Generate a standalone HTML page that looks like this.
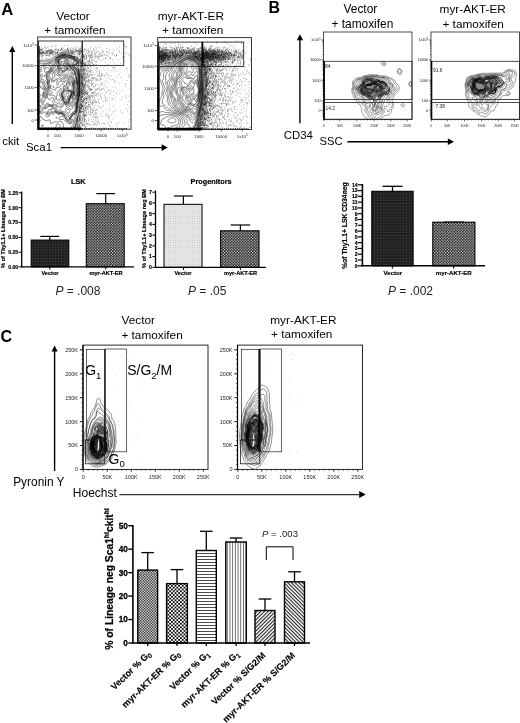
<!DOCTYPE html>
<html lang="en"><head><meta charset="utf-8"><title>Figure</title>
<style>html,body{margin:0;padding:0;background:#fff}body{width:520px;height:723px;overflow:hidden}svg{display:block}text{font-family:'Liberation Sans', Arial, Helvetica, sans-serif}</style>
</head><body>
<svg width="520" height="723" viewBox="0 0 520 723">
<defs>
<pattern id="pGrid" width="2.9" height="2.9" patternUnits="userSpaceOnUse"><rect width="2.9" height="2.9" fill="#1b1b1b"/><rect x="0" y="0" width="2.9" height="0.5" fill="#3c3c3c"/><rect x="0" y="0" width="0.5" height="2.9" fill="#3c3c3c"/></pattern>
<pattern id="pDots" width="2.8" height="2.8" patternUnits="userSpaceOnUse"><rect width="2.8" height="2.8" fill="#111"/><circle cx="0.7" cy="0.7" r="0.7" fill="#fff"/><circle cx="2.1" cy="2.1" r="0.7" fill="#fff"/></pattern>
<pattern id="pLight" width="2.4" height="2.4" patternUnits="userSpaceOnUse"><rect width="2.4" height="2.4" fill="#e4e4e4"/><rect x="0" y="0" width="0.8" height="0.8" fill="#c4c4c4"/><rect x="1.2" y="1.2" width="0.8" height="0.8" fill="#f2f2f2"/></pattern>
<pattern id="pFine" width="1.6" height="1.6" patternUnits="userSpaceOnUse"><rect width="1.6" height="1.6" fill="#fff"/><rect width="0.8" height="0.8" fill="#111"/><rect x="0.8" y="0.8" width="0.8" height="0.8" fill="#111"/></pattern>
<pattern id="pCheck" width="3.6" height="3.6" patternUnits="userSpaceOnUse"><rect width="3.6" height="3.6" fill="#fff"/><rect width="1.8" height="1.8" fill="#111"/><rect x="1.8" y="1.8" width="1.8" height="1.8" fill="#111"/></pattern>
<pattern id="pHor" width="3" height="3" patternUnits="userSpaceOnUse"><rect width="3" height="3" fill="#fff"/><rect y="1" width="3" height="1" fill="#4a4a4a"/></pattern>
<pattern id="pVer" width="2.7" height="3" patternUnits="userSpaceOnUse"><rect width="2.7" height="3" fill="#fff"/><rect width="0.75" height="3" fill="#444"/></pattern>
<pattern id="pDiagA" width="2.6" height="2.6" patternUnits="userSpaceOnUse" patternTransform="rotate(-45)"><rect width="2.6" height="2.6" fill="#fff"/><rect width="2.6" height="1.1" fill="#222"/></pattern>
<pattern id="pDiagB" width="2.6" height="2.6" patternUnits="userSpaceOnUse" patternTransform="rotate(45)"><rect width="2.6" height="2.6" fill="#fff"/><rect width="2.6" height="1.1" fill="#222"/></pattern>
</defs>
<text x="1.3" y="15.1" font-size="16.6" font-weight="bold">A</text>
<text x="73" y="20" font-size="11.8" text-anchor="middle">Vector</text>
<text x="74.9" y="34.3" font-size="11.8" text-anchor="middle">+ tamoxifen</text>
<text x="190.9" y="20" font-size="11.8" text-anchor="middle">myr-AKT-ER</text>
<text x="192.7" y="34.3" font-size="11.8" text-anchor="middle">+ tamoxifen</text>
<line x1="12.3" y1="51" x2="12.3" y2="124" stroke="#000" stroke-width="1.4"/>
<path d="M12.3 46L9.2 52L15.4 52Z" fill="#000"/>
<text x="2.2" y="145.2" font-size="11.4">ckit</text>
<text x="26" y="151" font-size="11.4">Sca1</text>
<line x1="60.6" y1="147.6" x2="162.6" y2="147.6" stroke="#000" stroke-width="1.4"/>
<path d="M167.8 147.6L161.6 144.3L161.6 150.9Z" fill="#000"/>
<clipPath id="cA1"><rect x="37.7" y="37" width="93.3" height="92.2"/></clipPath><g clip-path="url(#cA1)">
<path d="M73.9 128.9l-.8 .1 -.8 .1 -.8 0 -.8 0 -.8 0 -.8 -.0 -.8 -.0 -.8 0 -.8 0 -.8 0 -.8 -.0 -.8 -.0 -.8 -.0 -.8 -.0 -.8 -.0 -.8 -.0 -.8 -.0 -.8 0 -.8 0 -.8 0 -.8 0 -.8 -.0 -.8 -.0 -.8 -.0 -.8 -.0 -.8 -.0 -.8 -.0 -.8 0 -.8 0 -.8 0 -.8 0 -.8 -.0 -.8 -.0 -.8 -.0 -.8 -.0 -.8 -.0 -.8 0 -.8 0 -.8 0 -.8 0 -.8 -.0 -.8 -.0 -.8 -.0 -.8 0 -.8 0 -.2 -.6 0 -.8 .0 -.8 .0 -.8 .0 -.8 0 -.8 0 -.8 .0 -.8 .0 -.8 .0 -.8 .0 -.8 .0 -.8 .0 -.8 .0 -.8 .0 -.8 .0 -.8 .0 -.8 .0 -.8 .0 -.8 .0 -.8 .0 -.8 .0 -.8 .0 -.8 .0 -.8 .0 -.8 .0 -.8 .0 -.8 .0 -.8 .0 -.8 .0 -.8 .0 -.8 .0 -.8 .0 -.8 .0 -.8 .0 -.8 .0 -.8 .0 -.8 .0 -.8 .0 -.8 .0 -.8 .0 -.8 .0 -.8 .0 -.8 .0 -.8 .0 -.8 .0 -.8 .0 -.8 .0 -.8 .0 -.8 .0 -.8 .0 -.8 .0 -.8 .0 -.8 .0 -.8 .0 -.8 .0 -.8 .0 -.8 .0 -.8 .0 -.8 .0 -.8 .0 -.8 .0 -.8 .0 -.8 .0 -.8 .0 -.8 .0 -.8 .0 -.8 .0 -.8 .0 -.8 .0 -.8 .0 -.8 .0 -.8 .0 -.8 .0 -.8 .0 -.8 .0 -.8 .0 -.8 .0 -.8 .0 -.8 .0 -.8 .0 -.8 .0 -.8 .0 -.8 .0 -.8 .1 -.8 .1 -.8 .2 0 .6 0 .8 0 .8 -.0 .8 -.1 .4 -.0 .8 0 .4 0 .8 .1 .8 0 .8 -.1 .4 -.1 .8 -.2 .8 -.1 .4 -.1 .8 -.2 .4 -.1 .8 -.2 .6 -.2 .6 -.2 .6 -.2 .6 -.4 .4 -.3 .4 -.3 .4 -.3 .5 -.3 .6 -.4 .5 -.3 .4 -.2 .7 -.3 .5 -.2 .5 -.2 .7 -.4 .4 -.3 .4 -.3 .4 -.3 .4 -.3 .5 -.3 .7 -.3 .4 -.1 .8 -.3 .4 -.1 .8 -.4 .4 -.2 .5 -.2 .7 -.1 .8 0 .7 .1 .5 .1 .6 .3 .6 .3 .4 .3 .4 .4 .4 .4 .4 .3 .5 .3 .7 .4 .4 .2 .5 .3 .7 .3 .4 .2 .4 .3 .6 .4 .5 .4 .5 .3 .4 .3 .4 .3 .4 .3 .6 .4 .5 .4 .5 .4 .4 .4 .4 .4 .4 .4 .4 .4 .3 .4 .3 .4 .3 .4 .4 .6 .4 .6 .2 .4 .3 .7 .1 .5 .1 .8 .0 .8 .0 .8 .0 .8 .0 .8 .0 .8 0 .8 0 .8 0 .8 .0 .8 .0 .8 0 .8 .0 .8 .0 .8 .0 .4 .1 .8 .0 .8 0 .8 0 .8 .0 .8 0 .8 0 .5 0 .7 .0 .8 .0 .4 .1 .8 .0 .8 0 .8 -.1 .8 -.1 .5 -.1 .7 0 .8 .0 .8 .0 .8 .0 .8 0 .8 .0 .8 .0 .8 0 .8 -.1 .8 -.1 .8 -.1 .6 -.1 .6 -.1 .8 0 .8 0 .8 -.1 .8 -.1 .7 -.1 .5 -.1 .8 -.2 .8 -.1 .4 -.2 .8 -.1 .8 0 .4 0 .8 0 .8 -.1 .8 -.1 .8 -.1 .5 -.2 .7 -.2 .7 -.2 .5 -.2 .8 -.1 .4 -.2 .8 -.1 .6 -.1 .6 -.2 .8 -.1 .5 -.2 .7 -.2 .5 -.3 .7 -.1 .4 -.2 .8 -.2 .7 -.1 .5 -.1 .8 -.2 .7 -.1 .5 -.2 .8 -.1 .6 -.1 .6 -.2 .8 -.1 .4 -.3 .8 -.1 .4 -.2 .8 -.1 .6 -.1 .6 -.3 .5 .0 0M73.1 128.8l-.8 .1 -.8 0 -.8 0 -.8 0 -.8 -.0 -.8 -.0 -.8 0 -.8 0 -.8 0 -.8 -.0 -.8 -.0 -.8 -.0 -.8 -.0 -.8 -.0 -.8 -.0 -.8 -.0 -.8 0 -.8 0 -.8 0 -.8 0 -.8 -.0 -.8 -.0 -.8 -.0 -.8 -.0 -.8 -.0 -.8 -.0 -.8 0 -.8 0 -.8 0 -.8 0 -.8 -.0 -.8 -.0 -.8 -.0 -.8 -.0 -.8 -.0 -.8 0 -.8 0 -.8 0 -.8 0 -.8 -.0 -.8 -.0 -.8 -.0 -.8 0 -.8 0 -.1 -.5 0 -.8 .0 -.8 .0 -.8 .0 -.8 0 -.8 0 -.8 0 -.8 0 -.8 .0 -.8 .0 -.8 .0 -.8 0 -.8 0 -.8 0 -.8 0 -.8 0 -.8 .0 -.8 0 -.8 0 -.8 0 -.8 .0 -.8 .0 -.8 .0 -.8 .0 -.8 .0 -.8 .0 -.8 .0 -.8 .0 -.8 .0 -.8 .0 -.8 .0 -.8 .0 -.8 .0 -.8 .0 -.8 .0 -.8 .0 -.8 .0 -.8 .0 -.8 .0 -.8 .0 -.8 .0 -.8 .0 -.8 .0 -.8 .0 -.8 .0 -.8 .0 -.8 .0 -.8 .0 -.8 .0 -.8 .0 -.8 .0 -.8 .0 -.8 .0 -.8 .0 -.8 .0 -.8 .0 -.8 .0 -.8 .0 -.8 0 -.8 0 -.8 0 -.8 .0 -.8 .0 -.8 .0 -.8 .0 -.8 0 -.8 0 -.8 0 -.8 .0 -.8 .0 -.8 .0 -.8 .0 -.8 .0 -.8 .0 -.8 .0 -.8 .0 -.8 .0 -.8 .0 -.8 .0 -.8 .0 -.8 .0 -.8 .0 -.8 .1 -.8 .1 -.5 .8 0 .4 0 .8 .1 .8 .1 .8 .1 .4 .1 .8 .1 .8 0 .8 -.1 .6 -.1 .6 -.2 .8 -.2 .4 -.1 .8 -.2 .4 -.1 .8 -.2 .6 -.1 .6 -.1 .8 -.1 .5 -.1 .7 -.3 .4 -.3 .4 -.4 .4 -.4 .4 -.4 .4 -.4 .4 -.3 .4 -.3 .6 -.4 .6 -.3 .4 -.2 .8 -.3 .4 -.2 .4 -.2 .5 -.4 .5 -.4 .5 -.4 .4 -.3 .4 -.2 .8 -.2 .5 -.1 .7 -.2 .7 -.2 .5 -.2 .8 -.2 .4 -.1 .8 0 .4 .1 .8 .3 .4 .2 .4 .2 .7 .4 .5 .2 .4 .2 .8 .3 .4 .2 .6 .3 .6 .3 .4 .2 .6 .3 .6 .4 .4 .3 .4 .3 .4 .3 .4 .3 .6 .4 .5 .4 .5 .4 .4 .4 .4 .4 .4 .4 .4 .4 .3 .4 .3 .4 .3 .4 .3 .5 .4 .7 .2 .4 .3 .8 .1 .4 .1 .8 .0 .8 .0 .8 .1 .8 .1 .8 .0 .8 0 .8 0 .8 .0 .8 .0 .8 .0 .7 .0 .5 .0 .8 .1 .8 .1 .8 .1 .8 0 .8 -.1 .8 0 .8 .0 .8 .0 .8 0 .8 0 .8 .0 .8 .1 .8 .0 .8 0 .8 -.1 .8 -.1 .8 -.1 .8 0 .8 .0 .8 .0 .8 .0 .8 .0 .8 .0 .8 0 .8 -.1 .8 -.1 .7 -.1 .5 -.2 .8 -.1 .6 -.1 .6 0 .8 0 .8 -.1 .8 -.1 .8 -.1 .4 -.2 .8 -.2 .8 -.1 .4 -.2 .8 -.1 .8 -.1 .8 0 .8 0 .4 -.1 .8 -.1 .8 -.2 .8 -.1 .4 -.3 .8 -.1 .4 -.2 .8 -.1 .4 -.2 .8 -.2 .8 -.1 .4 -.2 .8 -.1 .4 -.3 .8 -.2 .4 -.3 .8 -.1 .4 -.2 .8 -.1 .4 -.1 .8 -.1 .8 -.1 .5 -.2 .7 -.2 .8 -.1 .4 -.2 .8 -.1 .4 -.3 .8 -.2 .4 -.3 .8 -.1 .4 -.1 .8 0 .8 -.2 .4 .0 0M66.9 99.2l.3 -.4 .3 -.6 .1 -.6 0 -.8 -.1 -.5 -.4 -.5 -.8 -.1 -.6 .3 -.4 .4 -.3 .6 -.1 .6 .1 .8 .1 .4 .3 .5 .8 .3 .6 -.4 .0 0M72.3 128.8l-.8 .1 -.8 0 -.8 0 -.8 -.0 -.8 -.0 -.8 0 -.8 0 -.8 0 -.8 -.0 -.8 -.0 -.8 -.0 -.8 -.0 .0 -.4 .2 -.4 .2 -.6 .2 -.6 .1 -.8 .0 -.8 -.1 -.8 -.2 -.5 -.4 -.6 -.3 -.5 -.2 -.4 -.3 -.5 -.4 -.5 -.4 -.2 -.8 -.1 -.8 .1 -.4 .1 -.7 .3 -.5 .3 -.4 .2 -.8 -.1 -.4 -.1 -.8 -.2 -.8 .1 -.4 .2 -.4 .3 -.6 .4 -.6 .3 -.7 .1 -.5 .1 -.8 .1 -.3 -.6 .0 -.8 0 -.8 -.1 -.4 -.4 -.7 -.4 -.2 -.6 .1 -.6 .1 -.8 .3 -.4 .2 -.8 .2 -.8 -.3 -.4 -.3 -.4 -.2 -.8 -.2 -.7 -.1 -.5 -.3 -.3 -.5 -.2 -.4 -.3 -.6 -.3 -.6 -.2 -.4 -.4 -.5 -.6 .1 -.3 .4 -.3 .5 -.3 .7 -.2 .4 -.3 .4 -.7 .4 -.5 .2 0 -.6 0 -.8 0 -.8 0 -.8 0 -.8 .0 -.8 0 -.8 0 -.8 0 -.8 0 -.8 0 -.8 0 -.8 .0 -.8 .0 -.8 .0 -.8 .0 -.8 .0 -.8 0 -.8 0 -.8 0 -.8 0 -.8 0 -.8 0 -.8 .0 -.8 .0 -.8 .0 -.8 .0 -.8 .0 -.8 .0 -.8 .0 -.8 0 -.8 0 -.8 0 -.8 0 -.8 0 -.8 0 -.8 .0 -.8 .0 -.8 .0 -.8 .0 -.8 .0 -.8 .0 -.8 .0 -.8 .0 -.8 .0 -.8 .0 -.8 .0 -.8 0 -.8 0 -.8 0 -.8 .0 -.8 .0 -.8 .0 -.8 .0 -.8 0 -.8 0 -.8 0 -.8 0 -.8 0 -.8 .0 -.8 .0 -.8 0 -.8 0 -.8 0 -.8 .0 -.8 .0 -.8 .0 -.8 .0 -.8 .0 -.8 .0 -.8 .0 -.8 .4 -.1 .8 .1 .4 .1 .8 .2 .4 .2 .7 .3 .5 .1 .8 -.0 .5 -.1 .7 -.1 .8 -.1 .6 -.1 .6 -.1 .8 -.2 .4 -.1 .7 -.3 .5 -.2 .5 -.2 .7 -.2 .8 -.1 .5 -.1 .7 -.2 .4 -.2 .6 -.4 .5 -.4 .4 -.4 .4 -.4 .3 -.4 .3 -.4 .4 -.4 .5 -.4 .4 -.3 .4 -.2 .7 -.3 .5 -.2 .4 -.2 .5 -.4 .5 -.4 .5 -.4 .4 -.3 .4 -.2 .8 -.3 .4 -.1 .8 -.2 .6 -.1 .6 -.2 .8 -.2 .4 -.0 .4 0 .8 .1 .8 .3 .4 .2 .5 .2 .7 .3 .4 .1 .8 .3 .4 .1 .8 .3 .4 .2 .6 .3 .6 .3 .4 .3 .4 .3 .4 .3 .5 .4 .5 .4 .5 .4 .4 .3 .4 .4 .4 .4 .4 .4 .4 .4 .4 .4 .4 .5 .3 .4 .2 .4 .3 .6 .2 .6 .2 .6 .1 .6 .0 .8 -.1 .8 0 .8 .1 .8 .2 .8 .1 .4 .1 .8 .0 .8 0 .8 .0 .8 .1 .8 .1 .8 .1 .8 .0 .4 .1 .8 .1 .8 .0 .8 -.1 .8 -.1 .8 .0 .8 .0 .8 .0 .8 .0 .8 .0 .8 .1 .8 .1 .8 .0 .8 0 .8 -.1 .8 -.1 .8 0 .4 0 .8 .0 .4 .1 .8 .0 .8 .0 .8 .0 .8 .0 .8 0 .8 -.1 .8 -.1 .4 -.2 .8 -.1 .5 -.1 .7 -.1 .8 0 .8 -.1 .8 -.1 .6 -.1 .6 -.2 .8 -.1 .5 -.2 .7 -.2 .8 -.1 .4 -.1 .8 -.1 .8 0 .8 0 .8 -.1 .8 -.1 .6 -.1 .6 -.2 .8 -.1 .4 -.3 .8 -.1 .4 -.2 .8 -.1 .4 -.2 .8 -.2 .5 -.3 .7 -.2 .4 -.3 .5 -.3 .7 -.2 .4 -.3 .8 -.1 .4 -.1 .8 0 .8 -.1 .8 -.1 .6 -.2 .6 -.2 .8 -.2 .4 -.2 .6 -.3 .6 -.2 .4 -.3 .4 -.4 .7 -.1 .5 .1 .8 .1 .4 .1 .8 -.1 .4 .0 0M66.4 100.8l.6 -.4 .4 -.4 .3 -.4 .2 -.4 .3 -.7 .2 -.5 .2 -.8 .1 -.4 .2 -.8 .1 -.8 .0 -.4 .0 -.8 -.1 -.4 -.7 -.3 -.8 .1 -.8 .2 -.4 .1 -.8 .3 -.4 .2 -.4 .3 -.4 .5 -.2 .5 -.1 .8 .0 .8 .1 .8 .1 .8 .1 .5 .4 .7 .3 .4 .5 .4 .4 .1 .5 -.1 .0 0M56.7 118.0l.0 -.0 .1 -.4 -.1 -.2 -.4 -.1 -.4 .3 0 0 0 .4 .0 0 .4 .2 .4 -.2M38.3 122.9l-.4 .1 0 -.2 0 -.4 0 -.4 0 -.4 .0 -.4 .0 -.4 .0 -.4 .0 -.4 .1 -.0 .3 -.0 .4 -.0 .4 -.0 .4 0 .1 0 .3 .1 .4 .3 0 .4 -.2 .4 -.2 .3 0 .1 -.3 .4 -.1 .1 -.3 .3 -.1 .1 -.4 .2 -.1 .1 -.3 .1M58.7 128.8l-.8 0 -.8 0 -.8 -.0 -.8 -.0 -.8 -.0 .4 -.6 .4 -.5 .3 -.5 .2 -.4 .2 -.8 .1 -.4 .3 -.8 .2 -.4 .3 -.4 .5 -.4 .5 0 .6 .3 .4 .3 .4 .5 .3 .6 .1 .4 .1 .8 -.1 .5 -.3 .7 -.3 .4 -.3 .4 -.3 .4 .0 0M42.7 126.6l-.4 .1 -.4 -.1 -.2 -.2 -.2 -.4 0 -.0 .0 -.2 .0 -.2 .2 -.4 .1 -.1 .4 -.2 .4 -.0 .4 .2 .1 .1 .1 .4 -.1 .4 -.1 .2 -.2 .2 -.2 .2M49.9 128.8l-.4 0 -.4 0 -.4 -.0 -.4 -.0 -.4 -.0 .3 -.4 .0 -.0 .4 -.2 .4 -.1 .4 .1 .4 .3 .0 .1 .1 .3 -.1 0M70.3 124.0l-.6 -.0 -.6 -.1 -.5 -.3 -.5 -.4 -.5 -.4 -.5 -.4 -.4 -.3 -.4 -.3 -.5 -.3 -.5 -.4 -.4 -.4 -.4 -.4 -.4 -.4 -.6 -.4 -.4 -.2 -.8 -.1 -.8 .2 -.4 .1 -.8 .1 -.8 -.1 -.4 -.2 -.3 -.8 .2 -.8 .2 -.4 .3 -.4 .8 -.4 .4 -.0 .7 0 .5 0 .4 -.1 .4 -.4 .1 -.7 -.2 -.4 -.3 -.4 -.7 -.4 -.4 -.1 -.8 -.0 -.7 .1 -.5 .2 -.7 .2 -.5 0 -.4 -.1 -.4 -.3 -.4 -.5 -.4 -.5 -.4 -.3 -.8 0 -.4 .3 -.4 .4 -.4 .4 -.4 .2 -.5 -.0 -.7 -.3 -.4 -.2 -.8 0 -.4 .4 -.3 .4 -.3 .4 -.3 .4 -.4 .4 -.4 .4 -.5 .4 -.7 .4 -.4 .1 -.5 -.1 -.7 -.3 -.4 -.3 -.1 -.6 .2 -.4 .2 -.8 0 -.8 -.2 -.8 -.2 -.4 -.6 -.4 -.4 -.0 -.4 .1 -.6 .3 -.6 .4 -.4 .3 -.4 .2 -.8 .1 -.8 -.0 -.8 0 -.8 .1 -.4 .1 -.5 .4 .1 .5 .2 .7 -.2 .7 -.4 .4 0 -.7 .0 -.8 .0 -.8 0 -.8 0 -.8 0 -.8 0 -.8 0 -.8 0 -.8 .0 -.8 .0 -.8 .0 -.8 .0 -.8 0 -.8 0 -.8 0 -.8 0 -.8 0 -.8 0 -.8 0 -.8 0 -.8 0 -.8 .0 -.8 .0 -.8 .0 -.8 .0 -.8 0 -.8 0 -.8 0 -.8 0 -.8 0 -.8 0 -.8 0 -.8 0 -.8 0 -.8 0 -.8 .0 -.8 .0 -.8 .0 -.8 .0 -.8 .0 -.8 .0 -.8 .0 -.8 .0 -.8 0 -.8 0 -.8 .0 -.8 .0 -.8 .0 -.7 .5 .3 .4 .4 .3 .4 .5 .4 .6 .1 .6 -.1 .6 -.4 .2 -.4 -.1 -.5 -.4 -.5 -.4 -.3 -.4 -.3 -.5 -.4 -.5 -.4 -.6 -.3 -.8 -.0 0 -.5 0 -.8 0 -.8 0 -.8 0 -.8 .0 -.8 .0 -.8 0 -.8 0 -.8 .0 -.8 .0 -.8 .0 -.6 .8 .2 .4 .2 .5 .3 .5 .4 .5 .4 .1 0 .5 -.4 .3 -.4 .4 -.6 .4 -.5 .4 -.5 .4 -.4 .4 -.3 .5 -.2 .7 -.2 .8 -.0 .8 -.1 .5 -.2 .7 -.4 .4 -.2 .4 -.2 .6 -.3 .6 -.2 .8 -.1 .8 -.1 .4 -.1 .7 -.4 .5 -.4 .4 -.3 .4 -.3 .4 -.3 .6 -.4 .3 -.4 .3 -.5 .3 -.7 .3 -.4 .4 -.4 .6 -.4 .4 -.2 .4 -.2 .7 -.4 .5 -.3 .4 -.3 .4 -.3 .4 -.3 .8 -.4 .4 -.2 .8 -.2 .4 -.1 .8 -.2 .4 -.1 .8 -.2 .8 -.0 .8 .2 .4 .1 .6 .3 .6 .3 .4 .1 .8 .2 .8 .2 .4 .1 .8 .3 .4 .2 .6 .3 .6 .3 .4 .3 .4 .3 .4 .3 .5 .4 .5 .4 .5 .4 .4 .4 .4 .4 .4 .4 .4 .4 .4 .4 .3 .4 .3 .4 .3 .6 .2 .6 .1 .8 0 .8 -.3 .8 -.2 .4 -.3 .5 -.3 .7 .2 .8 .5 .3 .4 .3 .4 .5 .2 .4 .2 .8 .1 .8 .0 .8 .0 .5 .1 .7 .1 .8 .1 .8 .1 .6 .1 .6 .1 .8 0 .8 -.1 .8 -.1 .8 .0 .8 .1 .8 .0 .8 .0 .8 .0 .8 .1 .8 .1 .8 .0 .8 -.1 .8 -.1 .8 -.1 .8 -.1 .8 .0 .8 .1 .8 .1 .8 .0 .8 .0 .8 .0 .8 0 .8 -.1 .8 -.1 .4 -.2 .8 -.2 .5 -.2 .7 -.1 .8 0 .8 -.1 .8 -.1 .4 -.2 .8 -.2 .8 -.1 .4 -.2 .8 -.1 .4 -.1 .8 -.1 .8 -.1 .8 0 .8 0 .8 -.1 .8 -.1 .4 -.2 .8 -.1 .5 -.2 .7 -.2 .5 -.2 .7 -.2 .6 -.2 .6 -.2 .5 -.4 .7 -.4 .4 -.4 .3 -.4 .2 -.4 .2 -.4 .4 -.4 .7 -.4 .5 -.4 .3 -.4 .3 -.4 .3 -.4 .6 -.1 .5 .1 .4 .6 .4 .5 .1 .6 .3 .3 .4 .0 .8 -.2 .6 -.3 .6 -.3 .4 -.5 .4 -.5 .2 -.8 .2 -.4 0 .0 0M46.3 72.0l.6 -.4 .6 -.4 .4 -.2 .6 -.2 .6 -.3 .4 -.3 .1 -.6 -.1 -.5 -.4 -.7 -.4 -.4 -.5 -.3 -.8 -.0 -.7 .3 -.5 .3 -.4 .3 -.4 .3 -.4 .4 -.4 .6 -.1 .5 .1 .8 .1 .4 .3 .6 .8 .1 .4 -.3 .0 0M41.0 71.6l.1 -.1 .1 -.3 .1 -.4 .1 -.4 .0 -.4 0 -.4 -.1 -.4 -.1 -.3 -.2 -.1 -.2 -.2 -.1 .2 -.3 .2 -.1 .2 -.3 .4 0 .1 -.1 .3 -.1 .4 .0 .4 .1 .4 .1 .2 .2 .2 .2 .2 .4 0 .3 -.2M45.1 76.4l0 -.1 -.1 -.3 -.2 -.4 -.1 -.4 0 -.2 -.2 .2 -.1 .4 .0 .4 .1 .4 .1 .1 .4 -.1 .0 -.0M45.5 84.0l.6 -.4 .2 -.4 .3 -.8 .1 -.4 -.1 -.5 -.4 -.6 -.4 -.2 -.8 .1 -.4 .3 -.4 .5 -.2 .5 .0 .8 .2 .4 .4 .4 .8 .4 .1 0 .0 0M47.2 88.4l.3 -.3 .0 -.1 .1 -.4 0 -.4 -.1 -.3 0 -.1 -.2 -.4 -.2 -.3 -.1 -.1 -.3 -.3 -.2 -.1 -.2 -.1 -.2 .1 -.2 .2 -.1 .2 -.1 .4 -.1 .4 .0 .4 .1 .4 .1 .2 .1 .2 .3 .2 .3 .2 .1 0 .4 0 .1 -.1M66.7 102.0l.5 -.4 .3 -.4 .4 -.6 .4 -.6 .2 -.4 .2 -.5 .3 -.7 .2 -.4 .3 -.8 .2 -.4 .2 -.8 .1 -.4 .3 -.8 .2 -.4 .2 -.6 .1 -.6 -.1 -.5 -.4 -.4 -.6 -.3 -.6 -.2 -.8 -.1 -.8 0 -.8 0 -.8 -.1 -.8 0 -.5 .2 -.5 .4 -.3 .4 -.3 .5 -.3 .7 -.2 .4 -.1 .8 .1 .8 .1 .6 .1 .6 .1 .8 .1 .8 .1 .4 .2 .8 .2 .4 .4 .6 .4 .4 .4 .3 .7 .3 .5 .1 .4 -.1 .0 0M66.3 128.8l-.4 0 -.4 0 -.4 -.0 0 -.0 .0 -.1 .1 -.3 .3 -.4 .1 -.0 .3 -.1 .2 .1 .2 .4 .0 0 .0 .4 0 0M71.1 122.0l-.8 .2 -.4 -.2 -.4 -.4 -.7 -.4 -.5 -.1 -.7 -.3 -.5 -.2 -.4 -.3 -.4 -.5 -.4 -.6 -.2 -.4 -.3 -.4 -.3 -.4 -.4 -.5 -.3 -.6 -.1 -.4 -.3 -.8 -.2 -.4 -.3 -.5 -.4 -.5 -.4 -.3 -.6 -.3 -.6 -.2 -.8 -.2 -.4 -.0 -.8 -.0 -.8 -.0 -.8 -.2 -.4 -.2 -.4 -.3 -.8 -.4 -.4 -.2 -.8 -.2 -.4 -.1 -.8 0 -.4 .1 -.8 .2 -.8 -.2 -.4 -.2 -.6 -.4 -.3 -.4 .1 -.4 .4 -.6 .4 -.4 .4 -.3 .8 -.3 .4 -.2 .4 -.4 .3 -.7 .1 -.4 -.1 -.4 -.5 -.4 -.7 -.2 -.8 -.1 -.8 0 -.8 0 -.8 -.1 -.4 -.1 -.8 -.2 -.6 .3 -.3 .4 -.4 .6 -.4 .4 -.4 .2 -.8 .3 -.4 .1 -.8 .1 -.7 .2 -.5 .3 -.4 .3 -.4 .3 -.5 .4 -.5 .4 -.3 .4 -.1 .8 -.2 .5 -.4 .3 -.8 .2 -.8 .1 -.8 .1 0 -.8 0 -.8 0 -.8 .0 -.8 .0 -.8 .0 -.8 .4 -.1 .8 -.3 .2 -.4 -.2 -.8 -.4 -.4 -.4 -.2 -.4 -.2 0 -.8 0 -.8 0 -.8 0 -.8 0 -.8 0 -.8 0 -.8 .0 -.8 .0 -.8 .0 -.8 .0 -.8 .0 -.8 0 -.8 0 -.8 0 -.8 0 -.8 0 -.8 0 -.8 0 -.8 0 -.8 0 -.8 0 -.8 .0 -.8 .0 -.8 .0 -.8 .0 -.8 .0 -.8 .4 -.1 .6 .1 .6 .1 .5 -.1 .4 -.4 .3 -.6 .3 -.6 .3 -.4 .6 -.0 .1 .4 .2 .8 .1 .4 .3 .8 .2 .4 .3 .6 .2 .6 .2 .8 .1 .4 .3 .5 .4 .6 .4 .5 .4 .4 .4 .3 .4 .3 .5 .3 .7 .4 .8 -.1 .4 -.3 .4 -.7 .1 -.4 .1 -.8 .0 -.8 -.2 -.8 -.3 -.4 -.3 -.4 -.3 -.5 -.2 -.7 .0 -.8 .2 -.8 .1 -.4 .0 -.8 -.1 -.5 -.3 -.7 -.2 -.4 -.3 -.6 -.2 -.6 .0 -.8 0 -.8 -.1 -.8 -.1 -.4 -.1 -.8 .1 -.6 .3 -.6 .3 -.4 .3 -.4 .5 -.4 .7 -.4 .4 -.2 .7 -.3 .5 -.2 .4 -.3 .4 -.5 .1 -.6 -.1 -.8 -.1 -.4 0 -.8 .1 -.4 .4 -.8 .4 -.4 .4 -.4 .4 -.4 .4 -.5 .3 -.4 .3 -.4 .4 -.4 .5 -.4 .4 -.3 .4 -.3 .4 -.6 .1 -.4 .1 -.8 .0 -.8 .1 -.8 .2 -.4 .3 -.4 .5 -.4 .6 -.4 .5 -.3 .4 -.3 .4 -.3 .4 -.3 .6 -.4 .5 -.3 .4 -.2 .8 -.3 .4 -.1 .8 -.2 .8 -.2 .4 -.0 .8 0 .4 .1 .8 .3 .4 .2 .4 .2 .8 .3 .7 .1 .5 .1 .8 .1 .7 .2 .5 .2 .6 .2 .6 .4 .4 .3 .4 .3 .4 .3 .4 .3 .5 .4 .4 .4 .4 .4 .4 .4 .4 .4 .4 .4 .4 .5 .4 .6 .2 .5 .1 .8 -.3 .8 -.4 .4 -.4 .2 -.8 .1 -.8 0 -.4 .3 -.1 .6 .1 .4 .4 .4 .5 .4 .4 .4 .3 .4 .4 .5 .4 .4 .5 .3 .6 .4 .4 .4 .2 .4 .2 .8 .1 .8 .0 .8 .1 .6 .1 .6 .2 .8 .1 .6 .1 .6 .1 .8 0 .8 -.1 .8 -.1 .6 0 .6 .0 .4 .1 .8 .1 .8 .0 .8 .0 .8 .1 .8 .0 .4 .1 .8 0 .8 -.1 .6 -.1 .6 -.1 .8 -.1 .8 .0 .8 .1 .8 .1 .8 .0 .8 .0 .8 .0 .8 0 .8 -.1 .8 -.2 .6 -.2 .6 -.2 .6 -.2 .6 -.1 .8 -.1 .8 -.1 .6 -.1 .6 -.2 .8 -.1 .4 -.2 .8 -.2 .7 -.1 .5 -.1 .8 -.1 .8 -.1 .7 0 .5 0 .8 0 .8 -.1 .8 -.2 .8 -.1 .4 -.3 .8 -.1 .4 -.3 .8 -.1 .4 -.3 .7 -.4 .5 -.4 .3 -.4 .2 -.7 .3 -.5 .3 -.4 .3 -.4 .5 -.4 .5 -.3 .4 -.3 .4 -.4 .4 -.3 .4 -.3 .4 -.3 .8 -.1 .4 -.1 .8 .1 .8 .4 .4 .4 .2 .4 .5 .0 .2 .0 0M67.7 102.8l.2 -.4 .3 -.8 .2 -.4 .3 -.7 .2 -.5 .2 -.4 .4 -.8 .2 -.4 .2 -.5 .3 -.7 .1 -.4 .2 -.8 .2 -.4 .3 -.8 .2 -.4 .3 -.5 .1 -.7 -.1 -.8 -.2 -.4 -.4 -.4 -.6 -.4 -.4 -.2 -.8 -.2 -.4 -.1 -.8 -.2 -.6 -.2 -.6 -.4 -.3 -.4 0 -.8 .1 -.8 -.2 -.4 -.5 0 -.4 .4 -.3 .7 -.1 .5 -.3 .7 -.3 .5 -.3 .4 -.3 .4 -.3 .4 -.3 .4 -.4 .5 -.4 .7 -.2 .4 -.2 .5 -.1 .7 .1 .8 .2 .4 .2 .6 .2 .6 .1 .8 .1 .5 .1 .7 .1 .8 .2 .7 .3 .5 .3 .4 .5 .4 .5 .3 .4 .2 .7 .3 .5 .2 .8 .1 .6 -.4 .0 0M46.1 96.8l.5 -.4 .2 -.4 .1 -.8 -.2 -.8 -.2 -.4 -.3 -.8 -.2 -.4 -.5 -.4 -.5 -.0 -.4 .2 -.3 .6 -.1 .4 -.1 .8 0 .8 .0 .8 .1 .4 .4 .5 .8 .1 .6 -.3 .0 0M48.3 114.1l-.2 -.1 -.2 -.1 -.1 -.3 -.1 -.4 .0 -.4 .1 -.4 .1 -.3 .1 -.1 .3 -.3 .3 -.1 .1 -.1 .2 .1 .2 .2 .1 .2 .0 .4 0 .4 0 .2 -.1 .2 -.2 .4 -.1 .2 -.3 .2 -.1 .1M68.3 119.2l-.5 -.0 -.5 -.4 -.3 -.4 -.3 -.6 -.4 -.6 -.3 -.4 -.3 -.4 -.3 -.4 -.3 -.4 -.4 -.6 -.4 -.6 -.3 -.4 -.4 -.4 -.4 -.3 -.4 -.2 -.7 -.3 -.5 -.2 -.8 -.2 -.4 -.1 -.8 -.2 -.4 -.1 -.8 -.2 -.5 -.2 -.7 -.2 -.5 -.2 -.7 -.3 -.4 -.3 -.4 -.5 -.1 -.4 .0 -.6 .2 -.6 .3 -.4 .4 -.4 .4 -.4 .4 -.7 .1 -.5 .0 -.8 .1 -.8 .2 -.5 .2 -.7 -.6 -.4 -.4 -.1 -.8 -.2 -.4 -.2 -.4 -.7 -.1 -.4 -.1 -.8 .1 -.6 .2 -.6 .2 -.7 .0 -.5 0 -.5 -.1 -.7 -.2 -.8 -.5 -.4 -.4 -.1 -.8 -.1 -.8 -.3 -.4 -.1 -.8 0 -.4 .1 -.8 .2 -.8 -.2 -.4 -.4 -.4 -.5 -.2 -.4 -.2 -.4 -.2 -.8 .0 -.8 .2 -.4 .4 -.5 .4 -.4 .4 -.4 .4 -.5 .3 -.6 .1 -.8 .1 -.7 .1 -.5 .1 -.8 -.2 -.7 -.4 -.5 -.3 -.4 -.3 -.4 -.2 -.6 0 -.6 .0 -.4 .2 -.8 .2 -.8 .1 -.5 .0 -.7 -.1 -.4 -.3 -.8 -.2 -.4 -.2 -.6 -.1 -.6 -.1 -.8 -.1 -.8 .0 -.8 .3 -.8 .3 -.4 .4 -.4 .5 -.4 .5 -.3 .4 -.2 .6 -.3 .6 -.4 .4 -.4 .3 -.4 .2 -.4 .1 -.8 .0 -.8 .2 -.7 .4 -.5 .4 -.4 .4 -.4 .3 -.4 .3 -.4 .3 -.4 .4 -.4 .4 -.4 .4 -.4 .4 -.4 .4 -.7 .1 -.5 .1 -.8 0 -.8 0 -.8 .1 -.8 .2 -.4 .4 -.4 .5 -.4 .5 -.4 .5 -.4 .4 -.3 .4 -.3 .4 -.3 .8 -.4 .4 -.2 .8 -.3 .4 -.1 .8 -.2 .8 -.1 .8 .1 .8 .3 .4 .2 .4 .3 .6 .3 .6 .2 .8 .1 .8 0 .7 .1 .5 .1 .8 .3 .4 .2 .4 .3 .4 .3 .5 .4 .5 .4 .5 .4 .4 .4 .3 .4 .3 .4 .4 .5 .4 .5 .4 .5 .2 .4 -.1 .8 -.4 .3 -.8 .1 -.5 0 -.7 .2 -.4 .5 -.2 .5 -.1 .8 .2 .8 .3 .4 .5 .4 .4 .3 .4 .3 .4 .4 .4 .4 .4 .4 .4 .3 .5 .4 .4 .4 .3 .6 .1 .6 .1 .8 .1 .8 .1 .6 .1 .6 .2 .8 .1 .4 .2 .8 .0 .8 -.1 .8 -.1 .8 0 .4 .0 .4 .1 .8 .1 .8 .1 .8 .0 .8 .0 .4 .1 .8 .1 .8 .0 .8 -.1 .8 -.1 .8 -.1 .4 -.1 .8 0 .8 .1 .8 .1 .8 .1 .8 .0 .5 .0 .7 .0 .8 0 .8 -.1 .4 -.2 .8 -.2 .5 -.3 .7 -.2 .4 -.2 .8 -.1 .8 -.1 .8 -.1 .4 -.2 .8 -.1 .5 -.2 .7 -.2 .6 -.1 .6 -.1 .8 -.1 .8 -.1 .4 -.1 .8 -.1 .8 0 .8 0 .8 -.1 .8 -.1 .4 -.2 .8 -.1 .4 -.3 .8 -.2 .4 -.2 .5 -.4 .5 -.4 .3 -.8 .3 -.4 .2 -.4 .2 -.5 .4 -.4 .4 -.4 .4 -.3 .4 -.4 .5 -.4 .5 -.4 .5 -.3 .5 -.3 .4 -.2 .4 -.4 .5 -.4 .3 .0 0M67.8 104.0l.4 -.4 .2 -.4 .3 -.7 .2 -.5 .2 -.7 .2 -.5 .2 -.6 .3 -.6 .2 -.4 .3 -.7 .2 -.5 .2 -.5 .2 -.7 .2 -.8 .1 -.4 .3 -.6 .4 -.6 .2 -.4 .2 -.8 -.1 -.8 -.2 -.5 -.4 -.7 -.3 -.4 -.5 -.4 -.4 -.2 -.5 -.2 -.7 -.2 -.4 -.2 -.4 -.5 -.1 -.7 .1 -.8 .1 -.4 .3 -.8 .3 -.4 .3 -.4 .2 -.4 .2 -.8 .0 -.8 -.2 -.8 -.2 -.4 -.3 -.4 -.6 -.4 -.4 -.1 -.7 .1 -.5 .3 -.4 .5 -.1 .4 0 .8 .1 .8 -.3 .8 -.4 .2 -.8 .2 -.6 0 -.6 .1 -.4 .3 -.2 .8 .2 .7 .1 .5 .2 .8 .0 .8 -.2 .8 -.3 .4 -.3 .4 -.4 .4 -.4 .4 -.4 .6 -.3 .6 -.2 .4 -.3 .8 .0 .8 .3 .7 .3 .5 .2 .4 .3 .8 .1 .4 0 .8 -.1 .4 -.2 .8 -.2 .4 -.4 .4 -.8 .3 -.4 .2 -.6 .4 -.4 .4 -.3 .4 .1 .8 .4 .3 .4 .3 .8 .3 .6 -.4 .4 -.4 .4 -.4 .6 -.3 .8 .1 .8 .2 .4 .1 .8 .3 .4 .2 .5 .3 .7 .4 .5 .2 .7 -.2 .0 0M41.5 105.8l-.8 -.1 -.4 -.2 -.4 -.3 -.4 -.4 -.4 -.4 -.4 -.4 -.4 -.4 -.4 -.4 0 -.8 0 -.8 0 -.8 0 -.8 0 -.8 .0 -.8 .0 -.8 .4 -.3 .5 -.1 .7 -.2 .4 -.3 .4 -.5 .4 -.5 .4 -.4 .0 -.0 -.4 -.5 -.8 -.2 -.4 -.1 -.8 -.2 -.8 -.2 0 -.4 0 -.8 0 -.8 0 -.8 0 -.8 0 -.8 0 -.8 0 -.8 .0 -.8 .0 -.8 .0 -.8 .0 -.8 .4 -.0 .4 .3 .4 .5 .3 .4 .3 .4 .3 .4 .4 .4 .4 .4 .4 .4 .4 .4 .4 .4 .7 .3 .5 0 .8 .1 .5 .2 .4 .4 -.2 .8 -.4 .2 -.4 .2 -.4 .4 -.3 .8 -.1 .4 -.2 .8 -.2 .7 -.3 .5 0 .8 .3 .7 .1 .5 .1 .8 -.2 .7 -.4 .3 -.8 .2 -.7 .1 -.5 .3 -.3 .5 -.2 .4 -.1 .8 .1 .6 .4 .5 .4 .3 .5 .3 .7 .4 .4 .3 .4 .3 .3 .6 -.3 .4 -.4 .6 -.4 .5 -.4 .3 .0 0M45.1 105.7l-.5 -.1 -.4 -.4 -.3 -.5 -.4 -.6 -.4 -.5 .4 -.6 .3 -.6 .3 -.4 .2 -.4 .3 -.8 .1 -.4 .1 -.8 .3 -.6 .4 -.4 .4 -.3 .7 -.4 .5 -.2 .8 -.0 .4 .4 .3 .6 .2 .4 .3 .7 .4 .4 .6 -.3 .2 -.4 .3 -.8 .2 -.4 .3 -.5 .4 -.3 .8 -.1 .4 .2 .4 .4 .4 .7 .1 .4 -.1 .4 -.4 .8 -.2 .4 -.2 .4 -.2 .8 .2 .5 .4 .4 .6 .4 .4 .4 -.1 .8 -.5 .4 -.5 .1 -.8 -.0 -.8 -.0 -.8 -.0 -.4 -.1 -.7 -.3 -.5 -.4 -.4 -.4 -.5 -.4 -.4 -.2 -.8 .1 -.4 .3 -.3 .5 -.2 .4 -.3 .6 -.4 .5 -.4 .2 .0 0M38.3 110.5l-.4 .3 0 -.4 0 -.4 .0 -.4 .0 -.4 .0 -.1 .2 .1 .2 .1 .2 .3 .0 .4 -.1 .4 -.1 .1M68.3 116.9l-.4 -.1 -.5 -.4 -.4 -.4 -.4 -.4 -.4 -.4 -.4 -.4 -.4 -.4 -.4 -.4 -.4 -.4 -.4 -.3 -.5 -.4 -.7 -.3 -.4 -.2 -.8 -.3 -.4 -.1 -.7 -.3 -.5 -.3 -.4 -.3 -.4 -.3 -.4 -.3 -.8 -.3 -.8 0 -.6 -.1 -.3 -.4 .1 -.6 .4 -.5 .4 -.4 .3 -.5 .2 -.4 .3 -.8 .4 -.3 .8 .1 .8 -.0 .8 -.2 .4 -.2 .4 -.4 .4 -.6 .2 -.4 .3 -.4 .6 -.4 .4 -.1 .8 .1 .4 .2 .4 .2 .5 .4 .4 .4 .4 .4 .6 .1 .4 -.2 .4 -.4 .4 -.6 .3 -.5 .2 -.4 .3 -.8 .2 -.4 .2 -.6 .3 -.6 .1 -.4 .3 -.8 .2 -.4 .3 -.8 .1 -.4 .1 -.8 .2 -.8 .1 -.4 .3 -.7 .3 -.5 .2 -.4 .2 -.8 0 -.8 -.2 -.8 -.1 -.4 -.3 -.8 -.1 -.6 -.1 -.6 .1 -.4 .3 -.5 .3 -.7 .0 -.8 -.3 -.8 -.3 -.4 -.3 -.4 -.3 -.5 -.3 -.7 -.1 -.5 -.3 -.7 -.2 -.4 -.3 -.5 -.4 -.5 -.4 -.5 -.4 -.4 -.4 -.3 -.8 -.3 -.4 -.1 -.8 -.1 -.5 .1 -.5 .4 -.2 .4 -.3 .8 -.1 .4 -.3 .8 -.3 .4 -.5 .3 -.4 .1 -.8 .2 -.4 .2 -.5 .4 -.3 .4 -.3 .4 -.4 .6 -.4 .5 -.4 .5 -.4 .3 -.8 0 -.8 -.2 -.5 -.1 -.7 -.0 -.4 .4 -.1 .4 .0 .8 .0 .8 -.4 .7 -.8 -.2 -.4 -.2 -.8 -.3 -.4 -.1 -.8 -.3 -.4 -.2 -.5 -.3 -.5 -.4 -.2 -.4 0 -.8 .1 -.5 .1 -.7 -.1 -.6 -.4 -.6 -.4 -.4 -.4 -.4 -.2 -.4 -.1 -.8 .2 -.8 .1 -.4 .3 -.8 .1 -.4 .2 -.8 .1 -.6 .0 -.6 0 -.4 -.3 -.8 -.2 -.4 -.2 -.8 -.1 -.6 .0 -.5 .0 -.5 .4 -.8 .4 -.4 .4 -.3 .4 -.3 .4 -.3 .4 -.4 .4 -.5 .4 -.6 .2 -.5 .2 -.5 .3 -.7 .2 -.4 .5 -.4 .6 -.2 .6 -.2 .5 -.4 .1 -.8 0 -.8 .1 -.4 .4 -.6 .4 -.6 .2 -.4 .2 -.7 .0 -.5 0 -.5 0 -.7 0 -.8 .0 -.5 .2 -.7 .3 -.4 .4 -.4 .4 -.4 .5 -.4 .5 -.4 .5 -.3 .4 -.2 .6 -.2 .6 -.2 .6 -.2 .6 -.2 .8 -.1 .8 0 .8 .2 .4 .2 .5 .3 .6 .4 .5 .3 .4 .1 .8 .1 .8 -.0 .8 .1 .8 .2 .4 .2 .4 .3 .5 .4 .5 .4 .5 .4 .4 .4 .3 .4 .2 .5 .3 .7 .0 .8 -.4 .4 -.6 .4 -.3 .4 -.2 .4 -.2 .8 -.1 .4 -.1 .8 .1 .5 .3 .7 .4 .4 .5 .4 .4 .2 .4 .3 .4 .3 .4 .4 .4 .4 .4 .4 .4 .4 .3 .4 .3 .8 .1 .4 .1 .8 .1 .8 .1 .5 .2 .7 .2 .5 .2 .7 .1 .8 -.1 .8 -.2 .8 -.1 .8 .1 .8 .2 .8 .1 .4 .1 .8 .0 .8 .1 .8 .1 .8 .1 .8 0 .8 -.1 .8 -.2 .8 -.1 .4 -.1 .8 .0 .8 .1 .7 .0 .5 .1 .8 .1 .8 .0 .8 0 .8 -.1 .8 -.1 .5 -.2 .7 -.2 .4 -.4 .8 -.1 .4 -.2 .8 -.1 .8 -.1 .4 -.2 .8 -.2 .6 -.2 .6 -.2 .6 -.2 .6 -.1 .8 -.1 .8 0 .4 -.1 .8 -.2 .8 -.1 .4 -.1 .8 0 .8 0 .8 -.1 .8 -.1 .4 -.3 .7 -.3 .5 -.3 .4 -.4 .4 -.6 .4 -.4 .2 -.5 .3 -.6 .4 -.4 .4 -.4 .4 -.4 .4 -.4 .4 -.4 .4 -.4 .4 -.4 .4 -.5 .4 -.4 .1 .0 0M38.7 88.5l-.4 .2 -.4 .1 0 -.4 0 -.4 0 -.4 .0 -.4 .0 -.4 .4 .3 .0 .1 .3 .4 .1 .2 .1 .2 0 .4 -.1 .1M57.5 100.1l-.5 -.1 -.3 -.8 -.1 -.4 -.1 -.8 -.1 -.8 .1 -.8 .2 -.4 .4 -.8 .1 -.4 .0 -.8 0 -.8 .1 -.8 .2 -.4 .4 -.4 .8 -.4 .4 -.2 .4 -.5 .1 -.5 .2 -.8 .2 -.4 .7 -.3 .8 .2 .4 .3 .3 .7 -.3 .8 -.4 .3 -.4 .2 -.6 .3 -.4 .4 -.1 .8 -.1 .8 -.1 .4 -.3 .8 -.1 .4 .1 .8 .3 .4 .4 .4 .3 .4 .2 .4 .1 .8 -.2 .6 -.4 .4 -.6 .3 -.6 .3 -.4 .2 -.8 .3 -.4 .1 .0 0M51.1 93.7l-.8 .2 -.8 -.2 -.4 -.4 -.2 -.5 .1 -.8 .2 -.4 .4 -.4 .7 -.3 .8 .1 .4 .2 .4 .4 .3 .8 -.3 .8 -.4 .3 -.4 .2 .0 0M69.1 114.9l-.8 .1 -.5 -.2 -.5 -.4 -.4 -.4 -.4 -.4 -.4 -.4 -.5 -.4 -.4 -.4 -.4 -.3 -.4 -.2 -.8 -.3 -.4 -.1 -.8 -.2 -.5 -.2 -.7 -.4 -.4 -.4 -.3 -.4 -.2 -.4 -.2 -.8 .2 -.8 .4 -.4 .5 -.3 .7 -.1 .5 -.1 .4 -.3 .3 -.8 .1 -.4 .3 -.8 .4 -.4 .4 -.1 .6 .1 .6 .4 .3 .4 .2 .4 .2 .8 .2 .7 .4 .3 .8 .2 .8 0 .4 .4 .3 .4 .5 .4 .4 .3 .4 .2 .8 .1 .5 -.2 .5 -.4 .3 -.4 .3 -.8 -.3 -.8 -.4 -.4 -.5 -.3 -.8 -.1 -.8 .2 -.4 .2 -.6 -.0 .0 -.8 .1 -.4 .3 -.8 .2 -.4 .4 -.8 .3 -.4 .3 -.4 .5 -.4 .6 -.3 .5 -.1 .6 -.4 .2 -.4 -.1 -.5 -.4 -.6 -.4 -.6 -.1 -.4 -.1 -.8 .0 -.8 .1 -.7 .1 -.5 .3 -.5 .4 -.7 .2 -.4 .1 -.8 0 -.8 -.1 -.8 -.1 -.4 -.1 -.8 .0 -.8 .1 -.4 .3 -.8 .1 -.4 .1 -.8 -.1 -.6 -.2 -.6 -.2 -.4 -.4 -.8 -.2 -.4 -.2 -.8 -.1 -.6 -.2 -.6 -.3 -.4 -.4 -.4 -.4 -.4 -.4 -.4 -.4 -.5 -.4 -.4 -.4 -.3 -.8 -.4 -.4 -.2 -.5 -.2 -.6 -.4 -.5 -.4 -.5 -.3 -.8 .1 -.4 .5 -.2 .5 -.2 .4 -.3 .8 -.1 .4 -.2 .8 -.2 .4 -.7 .3 -.5 -.3 -.3 -.4 -.8 -.3 -.8 0 -.8 .3 -.4 .4 -.3 .5 -.1 .6 -.1 .6 -.1 .8 -.2 .4 -.8 .2 -.5 -.2 -.3 -.6 0 -.6 .0 -.4 .1 -.8 .3 -.7 .3 -.5 .2 -.4 0 -.5 -.4 -.4 -.6 0 -.6 .3 -.4 .4 -.4 .4 -.4 .3 -.4 .2 -.8 .3 -.4 .1 -.8 .3 -.4 .1 -.4 -.1 -.2 -.8 .0 -.8 .1 -.8 .1 -.4 .3 -.8 .2 -.4 .3 -.6 .3 -.6 .2 -.4 -.1 -.8 -.2 -.4 -.2 -.4 -.3 -.8 .2 -.8 .3 -.4 .3 -.4 .4 -.5 .4 -.6 .3 -.5 .3 -.4 .3 -.4 .4 -.5 .4 -.3 .6 -.3 .6 -.3 .4 -.2 .4 -.4 .2 -.7 -.1 -.8 0 -.8 .3 -.8 .3 -.4 .2 -.4 .2 -.8 -.1 -.8 -.1 -.8 0 -.8 .1 -.8 .3 -.8 .3 -.4 .4 -.4 .4 -.4 .5 -.4 .5 -.3 .4 -.2 .6 -.3 .6 -.2 .5 -.2 .7 -.2 .8 -.1 .8 0 .8 .3 .4 .2 .4 .3 .5 .3 .6 .4 .6 .3 .8 .1 .8 -.0 .8 .1 .4 .1 .7 .3 .5 .3 .4 .4 .4 .4 .4 .5 .2 .4 -.1 .8 -.3 .4 -.3 .4 -.2 .5 -.1 .7 0 .8 -.1 .8 0 .8 .1 .8 .2 .4 .3 .4 .4 .4 .6 .4 .6 .4 .4 .3 .4 .3 .4 .4 .4 .4 .4 .4 .4 .6 .2 .4 .1 .8 .1 .5 .2 .7 .2 .7 .2 .5 .2 .6 .2 .6 .1 .8 -.1 .8 -.1 .8 0 .8 .2 .8 .2 .7 .1 .5 .1 .8 .0 .8 .1 .8 .1 .6 .1 .6 .0 .8 -.1 .8 -.1 .4 -.2 .8 -.2 .8 0 .8 .1 .8 .1 .8 .1 .8 .1 .8 .1 .8 .0 .8 -.1 .8 -.2 .8 -.2 .4 -.3 .6 -.3 .6 -.2 .4 -.2 .8 -.1 .8 -.1 .4 -.2 .8 -.2 .4 -.3 .8 -.1 .4 -.2 .8 -.1 .8 0 .4 -.1 .8 -.2 .8 -.1 .4 -.3 .7 -.2 .5 -.2 .8 .1 .8 .0 .8 -.2 .7 -.3 .5 -.3 .4 -.6 .4 -.4 .1 -.7 .3 -.5 .3 -.4 .4 -.4 .5 -.4 .4 -.4 .4 -.4 .4 -.4 .3 -.4 .2 .0 0M53.9 87.6l-.4 0 -.2 -.1 -.2 -.1 -.3 -.3 .0 -.4 .2 -.3 .4 -.1 .4 .2 .1 .1 .1 .4 -.1 .4 0 0M73.9 106.4l-.4 -.1 -.6 -.4 -.6 -.4 -.4 -.3 -.4 -.2 -.5 -.3 -.3 -.4 .0 -.5 .4 -.7 .4 -.3 .4 -.2 .5 -.3 .6 -.4 .4 -.4 .3 -.4 .1 -.8 -.2 -.5 -.4 -.5 -.4 -.5 -.2 -.4 -.2 -.8 0 -.4 .0 -.4 .2 -.8 .2 -.4 .3 -.8 .1 -.4 .1 -.8 -.1 -.8 -.1 -.8 -.1 -.4 -.1 -.8 .1 -.7 .2 -.5 .2 -.5 .2 -.7 .0 -.8 -.2 -.8 -.2 -.4 -.2 -.5 -.3 -.7 -.1 -.4 -.1 -.8 0 -.8 -.1 -.8 -.1 -.4 -.4 -.5 -.4 -.3 -.4 -.4 -.4 -.5 -.4 -.5 -.4 -.4 -.4 -.2 -.7 -.3 -.5 -.3 -.4 -.3 -.4 -.4 -.4 -.4 -.4 -.4 -.4 -.3 -.8 -.2 -.8 .2 -.4 .3 -.4 .5 -.2 .5 -.2 .5 -.4 .7 -.4 .3 -.4 .2 -.8 .2 -.8 0 -.8 -.2 -.4 -.2 -.4 -.4 -.4 -.4 -.8 -.2 -.8 .1 -.8 .2 -.4 .1 -.5 .3 -.4 .4 -.3 .4 -.4 .4 -.6 .3 -.6 .1 -.4 -.2 -.2 -.7 .2 -.6 .4 -.6 .4 -.4 .4 -.3 .4 -.4 .3 -.5 .2 -.4 .2 -.8 -.1 -.8 -.2 -.4 -.4 -.5 -.4 -.6 -.1 -.5 .1 -.5 .3 -.7 .2 -.4 .3 -.4 .4 -.4 .5 -.4 .6 -.4 .5 -.3 .4 -.3 .4 -.3 .4 -.6 .1 -.6 -.1 -.8 -.1 -.7 .0 -.1 .2 -.8 .2 -.4 .4 -.8 .1 -.4 -.1 -.5 -.1 -.7 -.1 -.8 0 -.8 .1 -.8 .2 -.6 .4 -.6 .4 -.4 .4 -.4 .4 -.3 .4 -.2 .6 -.3 .6 -.2 .5 -.2 .7 -.2 .8 -.2 .8 0 .8 .3 .4 .2 .4 .3 .4 .3 .4 .3 .6 .4 .6 .2 .8 0 .8 0 .7 .2 .5 .3 .4 .5 .2 .4 -.2 .8 -.4 .4 -.3 .4 -.1 .4 .1 .4 .3 .4 .4 .7 .1 .5 .1 .8 .0 .8 .2 .8 .2 .4 .3 .5 .4 .5 .4 .3 .5 .3 .6 .4 .4 .3 .4 .4 .4 .4 .4 .5 .3 .4 .2 .4 .2 .8 .1 .8 .1 .4 .3 .8 .2 .4 .3 .6 .2 .6 .1 .8 -.1 .8 -.1 .8 0 .8 .2 .8 .1 .4 .2 .8 .1 .8 .0 .6 .0 .6 .1 .8 .1 .8 .1 .8 -.1 .8 -.2 .8 -.1 .4 -.2 .8 0 .8 .1 .8 .1 .8 .1 .8 .1 .8 .0 .4 .1 .8 0 .8 -.1 .5 -.2 .7 -.2 .4 -.4 .7 -.3 .5 -.2 .4 -.2 .8 -.1 .8 -.1 .4 -.3 .7 -.3 .5 -.2 .4 -.3 .8 -.1 .4 -.1 .8 -.1 .8 -.1 .8 -.1 .4 -.4 .7 -.4 .4 -.4 .2 .0 0M68.7 113.3l-.5 -.1 -.7 -.4 -.4 -.3 -.4 -.3 -.4 -.4 -.4 -.5 -.3 -.5 -.2 -.4 .1 -.8 .3 -.4 .5 -.2 .8 0 .5 .1 .7 .4 .4 .3 .4 .3 .4 .3 .4 .6 .0 .5 -.1 .4 -.4 .7 -.4 .4 -.4 .2 .0 0M75.5 100.1l-.8 -.0 -.4 -.4 -.4 -.5 -.3 -.4 -.3 -.4 -.2 -.4 -.2 -.8 .1 -.8 .1 -.4 .3 -.8 .1 -.4 .1 -.8 0 -.8 -.1 -.6 -.1 -.6 -.1 -.8 .1 -.8 .1 -.4 .3 -.6 .2 -.6 .1 -.8 -.2 -.8 -.2 -.5 -.3 -.7 -.2 -.4 -.2 -.8 -.1 -.4 0 -.8 .0 -.8 .0 -.4 0 -.8 -.1 -.4 -.3 -.6 -.4 -.4 -.4 -.6 -.2 -.4 -.2 -.4 -.4 -.4 -.8 -.3 -.4 -.1 -.8 -.3 -.4 -.2 -.4 -.4 -.4 -.4 -.4 -.4 -.4 -.3 -.6 -.3 -.6 -.1 -.8 0 -.5 .1 -.7 .3 -.4 .3 -.4 .4 -.3 .6 -.2 .4 -.3 .5 -.4 .3 -.8 .1 -.4 -.2 -.4 -.6 -.2 -.6 -.2 -.4 -.4 -.5 -.4 -.3 -.8 -.3 -.4 -.1 -.7 -.3 -.5 -.4 -.4 -.4 -.3 -.4 -.3 -.4 -.3 -.4 -.1 -.8 .2 -.4 .4 -.4 .6 -.4 .5 -.4 .4 -.4 .4 -.4 .4 -.4 .3 -.4 .2 -.7 .0 -.5 0 -.4 -.1 -.8 .1 -.8 .2 -.4 .2 -.4 .3 -.8 -.1 -.8 -.2 -.6 -.2 -.6 -.1 -.8 .0 -.8 .3 -.8 .2 -.4 .3 -.4 .4 -.4 .5 -.4 .5 -.3 .4 -.2 .8 -.3 .4 -.1 .8 -.2 .8 -.1 .8 .2 .4 .2 .5 .4 .4 .4 .4 .4 .4 .4 .5 .4 .4 .2 .8 .1 .7 .1 .3 .4 -.2 .5 -.4 .6 -.1 .5 .1 .7 .3 .5 .4 .4 .4 .4 .2 .4 .2 .7 .1 .5 .2 .8 .2 .5 .3 .7 .3 .4 .3 .4 .5 .4 .6 .4 .4 .3 .4 .3 .4 .3 .4 .4 .4 .5 .3 .6 .1 .4 .1 .8 .2 .8 .1 .4 .3 .6 .3 .6 .2 .4 .2 .8 .0 .8 -.1 .8 0 .8 .1 .8 .1 .4 .3 .8 .1 .5 .1 .7 .0 .8 .0 .8 .1 .8 .1 .8 .0 .4 0 .4 -.1 .8 -.2 .8 -.1 .4 -.1 .8 .0 .8 .1 .8 .1 .8 .1 .5 .1 .7 .1 .8 .0 .8 -.1 .8 -.2 .6 -.3 .6 -.3 .4 -.3 .4 -.3 .6 -.2 .6 -.2 .8 -.1 .4 -.3 .5 -.4 .4 .0 0M73.9 105.0l-.4 -.0 -.4 -.2 0 -.0 -.4 -.4 0 -.0 -.2 -.4 .1 -.4 .1 -.2 .1 -.2 .3 -.2 .2 -.2 .2 -.2 .4 -.2 .0 -.0 .4 -.1 .1 .1 .2 .4 .1 .4 0 .4 -.1 .4 -.1 .4 -.1 .3 -.1 .1 -.3 .2M75.1 98.8l-.4 -.2 -.4 -.5 -.3 -.6 -.1 -.8 .0 -.8 .0 -.8 .0 -.8 0 -.8 0 -.4 -.1 -.8 -.1 -.8 .1 -.8 .1 -.5 .4 -.7 .2 -.4 .2 -.5 .0 -.7 -.1 -.4 -.3 -.8 -.2 -.4 -.3 -.6 -.2 -.6 -.2 -.8 0 -.4 .0 -.8 .0 -.4 .1 -.8 .0 -.8 -.1 -.6 -.3 -.6 -.2 -.4 -.3 -.6 -.2 -.6 -.2 -.4 -.5 -.4 -.7 -.3 -.5 -.1 -.7 -.2 -.4 -.2 -.4 -.4 -.4 -.4 -.4 -.4 -.4 -.4 -.4 -.4 -.4 -.4 -.8 -.4 -.8 .1 -.8 .1 -.8 .1 -.4 .1 -.5 .4 -.4 .4 -.4 .4 -.4 .4 -.7 .2 -.4 -.2 -.6 -.4 -.6 -.4 -.4 -.2 -.4 -.2 -.6 -.4 -.4 -.4 -.3 -.7 .0 -.3 .1 -.6 .3 -.6 .2 -.6 .2 -.4 .3 -.6 .4 -.6 .2 -.4 .1 -.8 -.1 -.8 -.1 -.8 .2 -.8 .2 -.4 .3 -.5 .2 -.7 -.2 -.8 -.2 -.4 -.3 -.6 -.2 -.6 -.1 -.8 .2 -.8 .2 -.4 .3 -.4 .4 -.4 .5 -.4 .7 -.3 .4 -.2 .7 -.3 .5 -.2 .8 -.2 .8 0 .8 .3 .4 .3 .4 .4 .4 .5 .3 .4 .3 .4 .4 .4 .3 .4 .3 .8 .1 .4 .2 .8 .2 .4 .3 .4 .4 .4 .4 .4 .3 .5 .3 .7 .1 .4 .3 .8 .2 .4 .3 .5 .4 .6 .4 .4 .4 .3 .4 .3 .4 .2 .5 .4 .5 .4 .4 .4 .3 .4 .3 .8 .1 .4 .1 .8 .2 .6 .2 .6 .2 .4 .3 .8 .1 .4 .1 .8 0 .8 0 .8 .1 .8 .2 .6 .2 .6 .2 .4 .2 .8 .1 .8 .0 .8 .0 .8 .1 .5 .1 .7 .0 .8 -.1 .7 -.1 .5 -.2 .8 -.1 .4 -.1 .8 .0 .8 .1 .8 .1 .6 .1 .6 .2 .8 .1 .8 .0 .4 0 .4 -.2 .8 -.2 .4 -.4 .6 -.4 .4 -.4 .4 -.4 .6 -.2 .4 -.3 .6 -.4 .2 .0 0M75.9 96.5l-.6 -.1 -.5 -.4 -.2 -.4 -.2 -.8 -.1 -.8 0 -.4 -.1 -.8 -.1 -.8 .0 -.8 .2 -.7 .4 -.5 .3 -.4 .3 -.4 .1 -.8 -.2 -.8 -.2 -.4 -.3 -.7 -.3 -.5 -.2 -.4 -.3 -.8 -.1 -.4 0 -.8 .0 -.8 .0 -.4 .1 -.8 .0 -.8 -.1 -.7 -.2 -.5 -.2 -.5 -.2 -.7 -.2 -.6 -.4 -.5 -.4 -.3 -.6 -.2 -.6 -.2 -.6 -.2 -.6 -.4 -.3 -.4 -.2 -.4 -.3 -.6 -.4 -.5 -.4 -.5 -.2 -.4 0 -.8 .2 -.7 .1 -.5 -.1 -.4 -.4 -.6 -.4 -.2 -.5 0 -.6 .4 -.4 .4 -.3 .4 -.4 .4 -.4 .4 -.7 .4 -.4 .1 -.8 .2 -.4 .1 -.5 .4 -.3 .6 -.3 .6 -.5 .4 -.4 .1 -.4 -.1 -.8 -.4 -.4 -.3 -.4 -.5 -.2 -.5 .1 -.8 .1 -.4 .3 -.8 .2 -.4 .3 -.6 .3 -.6 .1 -.4 .1 -.8 -.1 -.8 0 -.8 .3 -.8 .2 -.4 .3 -.5 .2 -.7 -.1 -.8 -.2 -.4 -.3 -.4 -.4 -.7 -.1 -.5 .0 -.8 .2 -.4 .3 -.4 .4 -.4 .7 -.4 .5 -.2 .5 -.2 .7 -.4 .4 -.2 .8 -.2 .8 .2 .4 .2 .4 .4 .4 .6 .3 .6 .2 .4 .3 .8 .1 .4 .3 .8 .2 .4 .3 .4 .3 .4 .4 .5 .4 .5 .4 .5 .3 .5 .2 .4 .2 .4 .4 .6 .3 .6 .2 .4 .3 .5 .4 .6 .4 .4 .4 .3 .6 .4 .6 .4 .4 .4 .3 .4 .2 .4 .3 .7 .1 .5 .2 .8 .1 .4 .3 .8 .2 .4 .3 .8 .1 .4 .1 .8 .0 .8 .1 .8 .2 .8 .2 .4 .3 .6 .2 .6 .2 .8 .0 .4 .0 .8 0 .8 .0 .8 .1 .8 0 .8 -.1 .5 -.3 .7 -.2 .4 -.2 .8 .0 .8 .1 .8 .1 .8 .1 .5 .2 .7 .2 .6 .1 .6 .0 .8 -.1 .5 -.3 .7 -.4 .4 -.5 .3 -.4 .1 .0 0M71.1 73.6l.4 -.4 .0 -.4 -.4 -.3 -.4 .1 -.2 .2 -.2 .3 0 .1 .0 .2 .1 .2 .3 .1 .4 -.1 .0 -.0M65.5 60.8l-.4 0 -.4 -.2 -.3 -.2 -.1 -.0 -.4 -.4 0 -.0 -.2 -.4 .0 -.4 .2 -.3 .2 -.1 .2 -.1 .4 -.0 .2 .1 .2 .1 .4 .3 .0 0 .2 .4 .1 .4 0 .4 -.2 .4M76.7 87.2l-.8 0 -.3 -.5 -.2 -.4 -.3 -.4 -.3 -.5 -.3 -.7 -.1 -.4 -.1 -.8 .0 -.8 .1 -.6 .1 -.6 .1 -.8 -.1 -.8 -.1 -.4 -.2 -.8 -.1 -.8 -.1 -.5 -.4 -.7 -.4 -.3 -.4 -.2 -.8 -.3 -.4 -.2 -.4 -.5 .0 -.1 .4 -.5 .4 -.4 .4 -.6 .2 -.6 .0 -.8 -.2 -.6 -.4 -.5 -.4 -.2 -.8 0 -.4 .1 -.5 -.0 -.5 -.4 -.3 -.4 -.3 -.4 -.5 -.4 -.7 -.3 -.8 .1 -.4 .2 -.4 .4 -.4 .5 -.4 .4 -.4 .3 -.5 .3 -.7 .2 -.8 .1 -.4 .1 -.7 .3 -.4 .4 -.3 .4 -.4 .4 -.6 0 -.4 -.4 -.1 -.4 .0 -.5 .2 -.7 .2 -.7 .2 -.5 .2 -.5 .2 -.7 .1 -.8 .0 -.8 .1 -.7 .2 -.5 .3 -.4 .3 -.4 .3 -.6 .1 -.6 -.1 -.8 -.1 -.4 -.3 -.8 -.4 -.4 -.3 -.4 .2 -.6 .4 .3 .4 .6 .4 .1 .7 -.0 .5 -.1 .8 -.1 .8 -.1 .7 .3 .4 .4 .4 .4 .4 .4 .4 .4 .4 .4 .4 .4 .3 .4 .3 .4 .3 .4 .4 .5 .4 .5 .4 .5 .3 .4 .2 .4 .3 .7 .3 .5 .2 .4 .4 .4 .6 .4 .5 .3 .4 .2 .4 .3 .4 .5 .3 .7 .1 .4 .2 .8 .2 .8 .1 .4 .3 .8 .1 .4 .1 .8 .1 .8 .1 .6 .1 .6 .3 .8 .2 .4 .3 .5 .3 .7 .1 .4 .1 .8 0 .8 -.1 .8 0 .8 .0 .8 -.1 .8 -.2 .4 -.2 .4 .0 0M76.3 95.8l-.8 -.1 -.4 -.4 -.3 -.5 -.1 -.6 -.1 -.6 -.1 -.8 -.1 -.8 .1 -.8 .2 -.4 .6 -.4 .5 0 .3 .4 .2 .4 .3 .8 .2 .4 .2 .5 .2 .7 .0 .8 -.2 .7 -.4 .5 -.4 .2 .0 0M63.5 71.2l-.8 .1 -.8 0 -.8 -.1 -.2 -.5 .1 -.8 .2 -.8 .1 -.4 .2 -.8 .1 -.4 .4 -.4 .8 -.2 .8 -.1 .3 -.5 -.1 -.8 -.2 -.4 -.3 -.8 -.1 -.4 .1 -.6 .4 -.5 .4 -.2 .8 -.1 .5 .1 .7 .4 .4 .3 .4 .3 .4 .3 .5 .4 .4 .4 .3 .4 .4 .6 .4 .6 .3 .4 .3 .4 .3 .4 .3 .6 .2 .6 -.1 .8 -.5 .2 -.5 -.2 -.7 -.4 -.4 -.2 -.8 -.2 -.8 .1 -.7 .3 -.4 .4 -.3 .4 -.3 .4 -.5 .4 -.5 .3 -.4 .1 .0 0M73.9 75.3l-.4 -.1 0 -.0 -.3 -.4 .0 -.4 .1 -.4 .1 -.4 .1 -.4 .1 -.0 .3 -.1 .0 .1 .1 .4 .1 .4 .1 .4 .0 .4 -.2 .4 -.2 .1M75.9 85.4l-.5 -.2 -.4 -.4 -.3 -.7 -.1 -.5 0 -.8 .1 -.8 .1 -.4 .2 -.8 .2 -.8 .4 -.3 .4 .4 .4 .5 .4 .7 .2 .4 .1 .8 -.1 .8 -.2 .8 -.1 .4 -.3 .7 -.4 .3 .0 0M76.3 95.2l-.4 -.0 0 -.0 -.4 -.3 -.1 -.1 -.2 -.4 -.1 -.4 0 -.0 0 -.4 0 -.4 .0 -.4 .0 -.4 .0 -.2 .1 -.2 .3 -.2 .2 .2 .2 .1 .3 .3 .1 .1 .2 .3 .2 .3 .0 .1 .1 .4 .1 .4 0 .4 -.1 .4 -.1 .1 -.4 .3 0 0M69.1 68.4l-.5 -.0 -.7 -.1 -.8 0 -.8 0 -.8 0 -.6 -.4 -.1 -.8 -.1 -.8 -.1 -.4 -.2 -.8 -.2 -.4 -.1 -.8 .4 -.4 .6 -.0 .4 .1 .6 .3 .6 .3 .4 .2 .4 .3 .4 .5 .4 .7 .2 .4 .2 .4 .4 .7 .2 .5 -.2 .4 .0 0M63.5 70.5l-.4 .1 -.4 0 -.4 -.1 -.3 -.1 -.1 -.2 -.1 -.2 0 -.4 .1 -.4 .1 -.2 .1 -.2 .3 -.4 .0 -.0 .4 -.2 .4 -.0 .4 .1 .4 .1 .3 0 .1 0 .4 .2 .1 .2 -.1 .4 0 0 -.1 .4 -.3 .4 0 0 -.4 .3 -.2 .1 -.2 .1M75.9 84.1l-.4 -.0 -.1 -.1 -.3 -.4 0 -.0 -.1 -.4 0 -.4 .0 -.4 .1 -.4 .1 -.3 .0 -.1 .2 -.4 .2 -.2 .4 -.0 .3 .3 .1 .1 .2 .3 .1 .4 .0 .4 0 .4 -.1 .4 -.1 .4 -.1 .1 -.3 .3 -.1 .1M67.5 67.7l-.8 .1 -.5 -.1 -.5 -.4 -.2 -.5 -.2 -.7 -.1 -.8 .2 -.5 .8 -.0 .4 .1 .5 .3 .4 .4 .3 .6 .2 .6 -.2 .7 -.4 .2 .0 0M75.9 82.9l-.3 -.1 -.1 -.4 .3 -.4 .1 -.0 .0 0 .1 .4 -.1 .4 -.1 .1M67.1 66.8l-.4 .1 -.1 -.1 -.3 -.2 -.1 -.2 -.1 -.4 .1 -.3 .4 -.0 .4 .3 .0 0 .1 .4 -.1 .4 0 0M71.5 122.8l-.8 .2 -.8 -.1 -.5 -.2 -.5 -.4 -.4 -.4 -.6 -.4 -.4 -.2 -.4 -.2 -.5 -.4 -.4 -.4 -.3 -.4 -.3 -.5 -.4 -.5 -.4 -.4 -.4 -.4 -.4 -.6 -.1 -.4 -.1 -.8 -.2 -.8 -.2 -.4 -.3 -.5 -.4 -.4 -.5 -.3 -.7 -.3 -.6 -.1 -.6 -.1 -.8 0 -.5 0 -.5 0 -.6 -.1 -.4 -.3 -.5 -.4 -.6 -.4 -.5 -.2 -.8 -.1 -.8 .1 -.4 .2 -.8 .3 -.8 -.1 -.6 -.2 -.6 -.1 -.7 .1 -.3 .4 -.2 .4 -.3 .8 -.2 .4 -.3 .4 -.5 .4 -.5 .1 -.4 -.2 -.4 -.7 -.1 -.4 -.1 -.8 0 -.8 .2 -.8 .2 -.4 .3 -.4 .4 -.4 .7 -.4 .4 -.1 .8 -.2 .4 -.2 .5 -.4 .6 -.4 .5 -.3 .4 -.2 .4 -.3 .2 -.8 -.3 -.4 -.7 -.2 -.8 0 -.8 0 -.8 -.0 -.8 0 -.4 .2 -.4 .6 -.4 .5 -.4 .3 -.4 .2 -.8 .3 -.4 .1 -.8 .1 -.8 .1 -.4 .2 -.4 .3 -.4 .5 -.2 .6 .0 .8 -.3 .6 -.4 .3 -.8 .2 -.4 0 -.8 -.0 -.8 0 -.8 0 -.4 -.0 0 -.8 0 -.8 0 -.8 0 -.8 .0 -.8 .0 -.8 .0 -.8 .2 -.4 .3 -.4 -.3 -.4 -.2 -.4 0 -.8 0 -.8 0 -.8 0 -.8 0 -.8 0 -.8 0 -.8 0 -.8 .0 -.8 .0 -.8 .0 -.8 .0 -.8 0 -.8 0 -.8 0 -.8 0 -.8 0 -.8 0 -.8 0 -.8 0 -.8 0 -.8 0 -.8 .0 -.8 .0 -.8 .0 -.8 .0 -.8 .0 -.8 .0 -.8 .4 -.2 .8 -.1 .4 -.2 .4 -.7 .1 -.4 .3 -.6 .4 -.3 .4 -.2 .8 -.3 .4 -.1 .8 -.1 .2 .5 -.2 .8 -.1 .4 -.1 .8 .1 .7 .2 .5 .2 .4 .4 .5 .4 .7 .1 .4 .1 .8 .1 .8 .1 .4 .3 .5 .4 .4 .4 .3 .6 .3 .6 .2 .8 -.2 .3 -.4 .1 -.4 .1 -.8 0 -.8 -.1 -.4 -.4 -.8 -.2 -.4 -.2 -.4 -.2 -.8 .1 -.8 .2 -.8 .1 -.4 0 -.8 -.1 -.4 -.3 -.6 -.4 -.5 -.3 -.4 -.1 -.4 .0 -.5 .1 -.7 .0 -.8 -.1 -.8 -.1 -.4 -.1 -.8 .1 -.8 .2 -.4 .3 -.5 .4 -.5 .4 -.4 .4 -.3 .8 -.4 .4 -.2 .7 -.2 .5 -.3 .3 -.5 .1 -.4 0 -.4 -.2 -.8 -.2 -.7 -.1 -.5 -.3 -.6 -.4 -.4 -.4 -.3 -.5 -.3 -.5 -.4 .1 -.7 .4 -.4 .4 -.2 .8 -.2 .8 .2 .4 .2 .7 .3 .2 0 .7 -.3 .4 -.5 .3 -.4 .3 -.4 .5 -.4 .6 -.3 .4 -.3 .4 -.6 .1 -.4 .1 -.8 .1 -.8 .2 -.4 .3 -.4 .5 -.4 .6 -.4 .5 -.3 .4 -.3 .4 -.3 .6 -.4 .6 -.4 .4 -.3 .4 -.2 .8 -.3 .4 -.1 .8 -.2 .4 -.1 .8 -.2 .8 -.1 .8 .1 .4 .1 .8 .4 .4 .2 .7 .3 .5 .1 .8 .1 .8 .2 .4 .1 .8 .3 .4 .2 .5 .2 .6 .4 .5 .4 .4 .3 .4 .3 .4 .3 .4 .3 .4 .4 .4 .4 .4 .4 .4 .4 .4 .4 .4 .5 .3 .5 .2 .4 .2 .8 -.1 .8 -.2 .4 -.4 .4 -.7 .4 -.5 .2 -.6 .2 .2 .6 .4 .6 .2 .4 .2 .4 .4 .5 .4 .3 .7 .4 .5 .4 .2 .4 .2 .8 .0 .4 .0 .8 .0 .8 .1 .8 .1 .8 .1 .4 .2 .8 .1 .8 .0 .8 -.1 .8 -.1 .8 0 .8 .1 .8 .1 .8 .0 .8 .0 .8 .0 .4 .1 .8 .1 .8 .0 .8 -.1 .8 -.1 .8 -.1 .4 -.1 .8 0 .8 .1 .8 .1 .8 .0 .8 .0 .5 .0 .7 .0 .8 0 .6 -.1 .6 -.2 .8 -.2 .6 -.2 .6 -.2 .7 -.1 .5 -.1 .8 -.1 .8 -.1 .8 -.1 .4 -.2 .8 -.2 .7 -.1 .5 -.2 .8 -.1 .5 -.1 .7 -.1 .8 0 .8 .0 .8 0 .8 -.1 .8 -.1 .4 -.2 .8 -.1 .4 -.3 .8 -.1 .4 -.3 .8 -.1 .4 -.4 .8 -.3 .4 -.5 .3 -.4 .2 -.7 .3 -.5 .3 -.4 .4 -.3 .4 -.3 .4 -.3 .4 -.4 .4 -.4 .4 -.3 .4 -.4 .8 -.1 .4 .0 .6 .3 .6 .5 .3 .4 .2 .5 .3 .2 .8 -.3 .5 -.4 .3 .0 0M44.3 68.2l-.4 .2 -.4 0 -.3 -.4 -.1 -.4 .1 -.4 .2 -.4 .1 -.1 .3 -.3 .1 -.1 .4 -.2 .4 -.0 .4 .2 .2 .2 .2 .4 -.1 .4 -.2 .4 0 0 -.4 .4 0 0 -.4 .2M37.9 73.6l0 -.8 0 -.8 .0 -.8 .0 -.8 0 -.8 0 -.8 .0 -.8 .4 -.1 .3 .5 -.2 .8 -.2 .4 -.3 .8 .1 .8 .1 .8 0 .8 -.2 .8 .0 0M42.3 76.6l-.4 -.1 -.4 -.2 0 -.0 -.4 -.3 -.2 -.1 -.2 -.3 -.1 -.1 -.2 -.4 -.1 -.4 .1 -.4 .2 -.2 .4 -.2 .0 -.0 .4 -.0 .2 0 .2 .1 .4 .3 .0 0 .2 .4 .2 .4 .0 0 .1 .4 0 .4 -.1 .3 -.1 .1 -.3 .2M67.4 102.4l.2 -.4 .2 -.4 .4 -.8 .2 -.4 .2 -.5 .3 -.7 .2 -.4 .3 -.6 .3 -.6 .2 -.4 .3 -.8 .1 -.4 .3 -.8 .2 -.4 .3 -.6 .2 -.6 .0 -.8 -.2 -.6 -.4 -.4 -.4 -.3 -.8 -.3 -.5 -.1 -.7 -.1 -.8 -.1 -.8 -.2 -.4 -.1 -.8 -.2 -.8 .3 -.4 .3 -.4 .4 -.4 .5 -.3 .4 -.2 .4 -.3 .5 -.3 .7 -.1 .4 0 .8 .1 .5 .2 .7 .2 .5 .1 .7 .1 .8 .1 .8 .1 .4 .2 .8 .2 .4 .4 .5 .4 .4 .4 .3 .8 .4 .4 .2 .8 .2 .7 -.4 .0 0M46.0 96.0l.2 -.4 .0 -.4 -.1 -.4 -.1 -.4 -.1 -.3 -.1 -.1 -.3 -.4 -.4 .1 -.1 .3 -.1 .4 -.1 .4 0 .4 .0 .4 .1 .4 .1 .2 .4 .1 .4 -.2 .1 -.1M68.3 120.1l-.7 -.1 -.5 -.3 -.4 -.5 -.2 -.4 -.2 -.4 -.4 -.7 -.4 -.5 -.3 -.4 -.3 -.4 -.2 -.4 -.4 -.8 -.2 -.4 -.3 -.4 -.4 -.4 -.5 -.4 -.6 -.3 -.4 -.2 -.8 -.2 -.4 -.1 -.8 -.1 -.8 -.1 -.7 -.2 -.5 -.2 -.5 -.2 -.7 -.3 -.4 -.2 -.7 -.3 -.5 -.3 -.4 -.4 -.4 -.6 -.1 -.4 .0 -.4 .2 -.8 .2 -.4 .4 -.5 .4 -.4 .4 -.4 .3 -.7 0 -.8 -.2 -.6 -.8 .1 -.4 .4 -.4 .3 -.8 .2 -.8 -.1 -.8 -.1 -.8 0 -.8 -.0 -.8 -.2 -.4 -.2 -.4 -.3 -.6 -.3 -.6 -.0 -.4 .3 -.3 .5 -.2 .4 -.4 .7 -.4 .4 -.4 .2 -.8 .2 -.8 -.0 -.8 .1 -.4 .2 -.4 .3 -.4 .3 -.8 .2 -.4 -.2 -.1 -.8 -.3 -.7 -.3 -.5 -.4 -.4 -.4 -.4 -.5 -.4 -.4 -.2 -.4 -.2 0 -.8 0 -.8 0 -.8 0 -.8 0 -.8 0 -.8 .0 -.8 .0 -.8 .0 -.8 .0 -.8 .4 -.1 .2 -.7 -.6 -.3 0 -.5 0 -.8 0 -.8 0 -.8 0 -.8 0 -.8 0 -.8 0 -.8 0 -.8 0 -.8 .0 -.8 .0 -.8 .0 -.8 .0 -.8 .4 -.3 .6 .3 .4 .4 .3 .4 .3 .5 .4 .5 .4 .4 .4 .4 .4 .3 .4 .3 .6 .4 .6 .2 .4 .2 .8 .4 .4 .3 .4 .3 .4 .3 .4 .4 .4 .7 .0 .1 -.4 .4 -.8 .2 -.4 .2 -.5 .4 -.3 .4 -.2 .8 -.1 .8 -.1 .8 0 .4 .0 .8 .1 .4 .2 .8 .2 .4 .5 .4 .4 0 .6 -.1 .6 -.3 .6 -.3 .4 -.3 .4 -.4 .3 -.6 0 -.8 -.3 -.8 -.2 -.4 -.3 -.8 -.1 -.4 -.1 -.8 .1 -.8 .6 -.3 .4 -.2 .4 -.3 .4 -.4 .4 -.6 .2 -.6 .1 -.8 .1 -.8 .0 -.4 0 -.5 -.3 -.7 -.3 -.4 -.3 -.4 -.3 -.7 -.1 -.5 .1 -.8 .1 -.4 .2 -.8 .0 -.8 -.2 -.8 -.2 -.4 -.3 -.6 -.2 -.6 -.1 -.8 -.1 -.8 -.1 -.4 -.1 -.8 0 -.8 .2 -.8 .2 -.4 .3 -.4 .4 -.4 .6 -.4 .4 -.2 .6 -.2 .6 -.3 .4 -.3 .4 -.4 .3 -.6 .1 -.4 0 -.4 -.1 -.8 .1 -.5 .3 -.7 .3 -.4 .3 -.4 .3 -.4 .3 -.4 .4 -.5 .4 -.5 .4 -.4 .4 -.3 .5 -.3 .4 -.4 .3 -.5 .2 -.7 .1 -.8 0 -.8 .0 -.8 .1 -.5 .4 -.6 .4 -.3 .4 -.3 .4 -.3 .5 -.4 .6 -.4 .5 -.4 .4 -.2 .4 -.2 .8 -.3 .4 -.1 .8 -.2 .5 -.1 .7 -.1 .8 -.0 .8 .2 .4 .2 .5 .3 .7 .4 .4 .2 .8 .2 .8 .1 .4 0 .8 .1 .8 .2 .4 .2 .5 .2 .6 .4 .5 .4 .5 .4 .4 .3 .4 .3 .4 .4 .4 .5 .4 .5 .3 .4 .4 .4 .3 .4 .3 .4 .2 .8 -.3 .8 -.4 .3 -.4 .1 -.8 0 -.8 .1 -.4 .3 -.3 .7 .1 .8 .2 .4 .4 .4 .6 .4 .5 .4 .4 .4 .4 .4 .5 .4 .5 .4 .4 .3 .4 .4 .2 .5 .1 .8 .0 .4 .1 .8 .1 .8 .2 .8 .1 .4 .2 .8 .1 .8 .0 .4 0 .7 -.1 .5 -.1 .8 0 .8 .1 .8 .1 .6 .1 .6 .0 .8 .1 .8 .1 .8 .1 .8 .0 .8 -.1 .8 -.1 .8 -.2 .8 -.1 .4 0 .8 .1 .8 .0 .4 .1 .8 .0 .8 .0 .8 .0 .8 0 .8 -.1 .8 -.1 .4 -.3 .8 -.1 .4 -.3 .8 -.1 .4 -.1 .8 -.1 .8 -.1 .8 -.1 .4 -.2 .8 -.1 .5 -.2 .7 -.2 .8 -.1 .4 -.1 .8 -.1 .8 -.1 .8 0 .8 0 .8 0 .5 -.1 .7 -.2 .8 -.1 .4 -.3 .8 -.1 .4 -.3 .7 -.2 .5 -.3 .4 -.5 .4 -.5 .2 -.4 .2 -.7 .4 -.5 .4 -.4 .4 -.3 .4 -.3 .4 -.3 .4 -.3 .4 -.4 .5 -.4 .6 -.3 .5 -.2 .4 -.3 .8 -.4 .4 -.4 .1 .0 0M68.1 84.8l.2 -.1 .3 -.3 .1 -.1 .2 -.3 .1 -.4 0 -.4 -.1 -.4 -.1 -.1 -.3 -.3 -.1 -.1 -.4 -.1 -.4 .1 -.3 .2 -.1 .1 -.2 .3 -.1 .4 .1 .4 .1 .4 .0 0 .2 .4 .2 .3 .2 .1 .2 .1 .2 -.1M67.6 103.6l.4 -.4 .3 -.6 .2 -.6 .2 -.6 .2 -.6 .2 -.4 .3 -.8 .2 -.4 .3 -.6 .3 -.6 .2 -.4 .2 -.8 .1 -.4 .2 -.8 .2 -.4 .3 -.6 .3 -.6 .1 -.4 .0 -.8 -.1 -.4 -.3 -.7 -.4 -.5 -.4 -.3 -.4 -.2 -.8 -.3 -.4 -.1 -.8 -.3 -.4 -.3 -.3 -.6 0 -.8 .0 -.8 0 -.8 -.1 -.4 -.4 -.4 -.4 0 -.8 .2 -.7 .2 -.5 .2 -.4 .3 -.2 .7 0 .8 .0 .8 -.1 .7 -.2 .5 -.3 .4 -.3 .4 -.4 .5 -.4 .5 -.4 .6 -.2 .4 -.2 .5 -.2 .7 .0 .8 .2 .6 .3 .6 .2 .4 .2 .8 .1 .6 .0 .6 .0 .8 .1 .8 .3 .8 .3 .4 .4 .4 .5 .3 .4 .2 .7 .3 .5 .2 .4 .2 .7 .4 .5 .1 .5 -.1 .0 0M42.8 101.6l.3 -.2 .2 -.2 .2 -.4 .0 -.2 .0 -.2 0 -.1 -.2 -.3 -.2 -.1 -.4 -.0 -.4 0 -.4 0 -.4 .1 -.1 0 -.3 .2 -.2 .2 -.1 .4 .2 .4 .1 .1 .4 .3 .0 0 .4 .1 .4 .1 .4 -.1 .1 -.1M38.3 111.6l-.4 .1 0 -.1 0 -.4 0 -.4 0 -.4 0 -.4 .0 -.4 .0 -.4 .0 -.4 .0 -.4 .0 -.1 .4 0 .4 0 .4 .1 .1 0 .3 .1 .3 .3 .0 .4 -.1 .4 -.1 .4 -.1 .4 0 0 -.1 .4 -.3 .4 0 0 -.4 .3 -.4 .1 0 0" fill="none" stroke="#111" stroke-width="0.5" stroke-linejoin="round"/>
<path d="M83.4 101.8h0.55M76.4 121.7h0.55M90.6 112.8h0.55M128.8 119.9h0.55M74.6 56.4h0.55M117.7 90.3h0.55M84.2 78.2h0.55M85.1 74.7h0.55M91.9 92.9h0.55M82.5 96.5h0.55M76.9 128.9h0.55M113.6 114.0h0.55M102.9 101.5h0.55M80.0 128.4h0.55M80.2 58.6h0.55M87.2 93.7h0.55M77.8 123.1h0.55M95.7 102.1h0.55M81.7 93.6h0.55M76.9 56.9h0.55M82.0 70.1h0.55M86.4 106.7h0.55M101.8 70.7h0.55M82.2 83.1h0.55M74.0 56.3h0.55M91.5 67.3h0.55M82.8 75.6h0.55M85.9 102.8h0.55M79.2 110.3h0.55M85.0 62.7h0.55M91.5 93.2h0.55M82.2 119.8h0.55M83.9 99.8h0.55M82.8 84.4h0.55M75.5 127.6h0.55M86.1 100.3h0.55M80.0 105.5h0.55M100.1 126.8h0.55M87.6 71.7h0.55M94.3 78.0h0.55M88.0 104.5h0.55M84.1 65.6h0.55M77.5 117.9h0.55M75.4 125.2h0.55M78.3 122.2h0.55M89.3 97.7h0.55M83.1 66.6h0.55M81.9 70.1h0.55M77.2 123.9h0.55M87.3 96.4h0.55M81.0 69.2h0.55M76.6 120.7h0.55M93.1 103.0h0.55M86.6 97.7h0.55M89.8 83.5h0.55M92.9 86.1h0.55M85.4 73.5h0.55M77.4 58.8h0.55M81.5 120.1h0.55M80.6 111.0h0.55M87.0 83.2h0.55M74.7 126.8h0.55M115.0 87.3h0.55M93.7 94.3h0.55M111.9 99.2h0.55M81.9 106.0h0.55M91.5 82.0h0.55M87.0 94.0h0.55M80.5 112.0h0.55M76.1 122.6h0.55M81.6 67.1h0.55M83.3 124.3h0.55M88.9 56.4h0.55M87.5 66.0h0.55M86.6 86.7h0.55M90.6 115.7h0.55M76.0 57.0h0.55M98.2 102.0h0.55M81.6 114.0h0.55M87.5 109.1h0.55M82.0 81.3h0.55M75.3 125.4h0.55M84.8 88.5h0.55M82.3 93.7h0.55M109.8 94.1h0.55M77.9 121.6h0.55M91.4 110.4h0.55M81.1 98.5h0.55M87.7 87.2h0.55M79.8 120.3h0.55M91.2 86.1h0.55M85.1 87.5h0.55M119.1 94.0h0.55M90.5 125.6h0.55M84.4 115.0h0.55M89.8 105.5h0.55M80.4 108.5h0.55M80.1 127.1h0.55M88.6 80.4h0.55M84.3 85.2h0.55M92.6 70.9h0.55M77.8 59.7h0.55M81.1 71.6h0.55M83.7 117.5h0.55M93.0 64.2h0.55M81.9 100.2h0.55M83.7 91.1h0.55M111.6 99.5h0.55M89.2 104.3h0.55M108.4 78.4h0.55M82.2 102.5h0.55M81.6 69.5h0.55M80.6 60.5h0.55M86.5 86.1h0.55M82.2 111.9h0.55M80.0 115.7h0.55M82.7 109.4h0.55M83.9 64.3h0.55M97.6 122.9h0.55M77.0 120.2h0.55M83.1 94.3h0.55M82.1 123.0h0.55M84.4 59.4h0.55M86.4 58.2h0.55M86.2 57.5h0.55M82.3 74.5h0.55M81.4 74.2h0.55M84.3 69.7h0.55M82.4 97.5h0.55M77.4 58.9h0.55M81.7 99.2h0.55M79.8 105.6h0.55M75.2 57.5h0.55M85.0 78.7h0.55M95.0 95.4h0.55M84.4 115.4h0.55M104.8 100.7h0.55M81.2 70.0h0.55M85.0 98.0h0.55M89.4 58.9h0.55M106.3 114.7h0.55M75.0 126.3h0.55M76.9 118.5h0.55M92.4 59.7h0.55M97.5 80.8h0.55M99.8 79.3h0.55M85.8 64.3h0.55M94.0 101.9h0.55M129.8 114.4h0.55M77.5 119.2h0.55M88.1 114.3h0.55M86.1 112.1h0.55M85.9 70.4h0.55M104.7 98.0h0.55M107.0 100.6h0.55M79.9 114.8h0.55M91.7 79.9h0.55M91.5 119.5h0.55M83.9 121.4h0.55M84.5 67.8h0.55M86.6 58.0h0.55M91.1 103.6h0.55M109.0 97.3h0.55M87.6 74.5h0.55M96.9 89.4h0.55M82.6 83.9h0.55M81.5 104.5h0.55M81.1 83.6h0.55M114.5 83.2h0.55M92.3 95.5h0.55M101.5 74.1h0.55M96.4 80.1h0.55M81.8 89.5h0.55M82.1 111.1h0.55M82.3 77.9h0.55M81.1 61.7h0.55M79.7 111.9h0.55M93.5 65.6h0.55M80.3 122.3h0.55M89.6 75.7h0.55M100.3 78.4h0.55M78.7 117.0h0.55M84.8 101.4h0.55M88.7 87.8h0.55M76.6 120.7h0.55M82.6 83.5h0.55M81.6 108.0h0.55M82.6 109.2h0.55M95.2 116.4h0.55M81.2 83.1h0.55M91.6 60.7h0.55M92.6 94.0h0.55M84.2 70.0h0.55M92.1 75.5h0.55M97.6 95.2h0.55M87.0 65.2h0.55M81.8 69.5h0.55M81.6 103.2h0.55M86.4 129.0h0.55M79.1 117.7h0.55M81.4 102.9h0.55M81.6 111.6h0.55M83.0 111.5h0.55M84.9 108.8h0.55M82.9 88.6h0.55M82.1 83.7h0.55M93.6 86.7h0.55M83.8 58.4h0.55M88.6 95.7h0.55M91.3 96.1h0.55M84.0 116.8h0.55M101.1 84.4h0.55M81.1 66.1h0.55M85.2 111.7h0.55M90.2 128.7h0.55M76.8 123.4h0.55M87.7 62.7h0.55M82.0 128.3h0.55M86.6 68.9h0.55M85.3 98.1h0.55M89.8 69.9h0.55M81.9 71.9h0.55M79.7 112.3h0.55M90.2 60.9h0.55M80.0 58.4h0.55M81.5 78.9h0.55M85.3 108.7h0.55M81.8 89.3h0.55M79.0 128.9h0.55M78.4 121.1h0.55M123.9 123.1h0.55M81.0 74.0h0.55M82.1 84.8h0.55M89.3 65.1h0.55M81.2 92.8h0.55M81.4 91.4h0.55M83.6 69.4h0.55M85.2 105.0h0.55M81.3 94.6h0.55M83.7 76.7h0.55M86.7 93.8h0.55M81.9 95.3h0.55M91.0 85.0h0.55M78.1 113.9h0.55M98.5 119.9h0.55M84.8 69.1h0.55M87.8 64.3h0.55M84.3 124.9h0.55M82.1 72.9h0.55M78.6 127.0h0.55M85.2 93.1h0.55M94.9 92.4h0.55M77.0 123.0h0.55M76.7 59.0h0.55M84.7 79.1h0.55M82.6 99.9h0.55M95.4 90.0h0.55M77.0 120.5h0.55M90.5 111.7h0.55M80.7 116.7h0.55M77.4 118.2h0.55M80.1 109.9h0.55M83.7 68.3h0.55M87.2 123.3h0.55M89.6 80.1h0.55M96.9 124.6h0.55M114.3 67.4h0.55M85.5 93.7h0.55M91.7 62.7h0.55M76.6 126.7h0.55M79.6 114.8h0.55M111.4 114.7h0.55M84.9 125.6h0.55M107.2 87.7h0.55M105.1 86.4h0.55M89.2 106.7h0.55M107.0 117.1h0.55M99.2 80.5h0.55M81.4 105.0h0.55M90.7 71.3h0.55M82.1 96.4h0.55M79.1 112.3h0.55M95.8 109.3h0.55M110.5 57.1h0.55M77.4 126.2h0.55M85.1 90.3h0.55M82.6 85.9h0.55M83.7 94.3h0.55M78.9 109.5h0.55M113.2 62.2h0.55M81.9 96.9h0.55M80.2 58.9h0.55M95.8 89.1h0.55M83.7 102.2h0.55M96.7 96.3h0.55M81.9 61.4h0.55M84.5 99.4h0.55M84.3 120.3h0.55M92.1 89.3h0.55M80.0 115.1h0.55M99.9 90.1h0.55M105.3 115.9h0.55M82.1 105.6h0.55M86.4 103.0h0.55M83.6 85.7h0.55M85.8 96.9h0.55M87.2 85.0h0.55M84.3 110.5h0.55M100.6 83.8h0.55M81.4 90.2h0.55M82.3 111.3h0.55M87.5 92.9h0.55M84.1 116.5h0.55M82.2 83.9h0.55M77.2 117.8h0.55M129.6 88.7h0.55M93.7 108.2h0.55M109.8 58.5h0.55M82.0 84.5h0.55M82.0 119.0h0.55M98.9 98.4h0.55M89.6 96.8h0.55M81.2 105.6h0.55M87.0 98.7h0.55M89.0 86.8h0.55M83.6 69.4h0.55M82.8 87.5h0.55M86.4 81.8h0.55M102.0 88.7h0.55M85.3 83.2h0.55M83.2 98.6h0.55M75.4 125.4h0.55M85.2 83.6h0.55M88.9 75.5h0.55M82.6 120.7h0.55M106.0 92.1h0.55M87.6 61.4h0.55M78.3 119.4h0.55M82.1 78.9h0.55M84.4 92.2h0.55M93.3 86.8h0.55M79.7 116.6h0.55M82.0 90.7h0.55M79.9 112.2h0.55M84.9 89.5h0.55M85.1 83.3h0.55M81.9 79.2h0.55M77.8 115.8h0.55M84.1 88.6h0.55M79.0 60.6h0.55M82.4 106.0h0.55M83.0 74.0h0.55M90.2 102.6h0.55M90.7 90.9h0.55M98.0 94.4h0.55M80.6 126.4h0.55M82.0 77.2h0.55M93.5 78.4h0.55M81.8 74.8h0.55M81.8 60.9h0.55M82.4 87.0h0.55M83.1 112.5h0.55M86.3 107.9h0.55M85.4 70.3h0.55M100.9 79.5h0.55M104.2 123.6h0.55M109.5 104.0h0.55M88.4 112.2h0.55M92.1 110.9h0.55M81.1 74.8h0.55M94.5 88.0h0.55M90.6 66.4h0.55M83.8 65.9h0.55M127.0 68.7h0.55M75.4 126.4h0.55M83.2 69.4h0.55M83.2 68.1h0.55M82.0 90.7h0.55M90.2 57.1h0.55M99.0 75.7h0.55M100.7 114.0h0.55M83.6 69.5h0.55M81.7 101.2h0.55M81.9 86.6h0.55M77.3 121.4h0.55M88.6 104.9h0.55M80.9 59.6h0.55M81.0 104.6h0.55M84.1 99.9h0.55M80.8 112.5h0.55M82.2 71.7h0.55M79.1 125.8h0.55M77.3 120.9h0.55M82.2 64.4h0.55M79.6 58.4h0.55M81.5 123.0h0.55M93.0 128.5h0.55M81.4 100.8h0.55M127.2 104.8h0.55M92.9 105.7h0.55M92.4 97.7h0.55M75.1 125.7h0.55M81.7 100.5h0.55M126.8 80.6h0.55M83.1 93.5h0.55M76.2 57.4h0.55M83.8 109.0h0.55M87.1 106.8h0.55M83.1 86.8h0.55M80.1 118.3h0.55M92.8 80.6h0.55M85.6 65.7h0.55M86.1 78.2h0.55M82.2 76.4h0.55M81.6 105.8h0.55M84.7 85.5h0.55M73.5 56.2h0.55M78.9 113.6h0.55M82.5 106.2h0.55M86.0 71.5h0.55M88.7 124.8h0.55M98.9 75.7h0.55M85.7 107.4h0.55M82.7 65.5h0.55M108.5 115.7h0.55M85.5 64.6h0.55M77.1 58.6h0.55M87.8 96.3h0.55M111.5 76.1h0.55M80.4 102.0h0.55M100.4 89.3h0.55M80.9 119.1h0.55M80.5 111.5h0.55M95.1 102.5h0.55M124.8 83.7h0.55M79.4 109.1h0.55M81.1 107.1h0.55M78.7 126.5h0.55M109.1 108.2h0.55M96.8 109.5h0.55M79.2 118.9h0.55M96.9 88.8h0.55M92.1 78.4h0.55M85.7 72.1h0.55M82.9 75.8h0.55M84.7 68.7h0.55M78.6 60.6h0.55M91.3 90.1h0.55M84.1 71.7h0.55M80.4 110.1h0.55M104.1 76.0h0.55M82.4 93.1h0.55M94.8 61.5h0.55M77.6 120.8h0.55M85.0 114.9h0.55M81.5 99.5h0.55M77.4 119.3h0.55M79.2 119.5h0.55M73.8 56.4h0.55M79.5 111.6h0.55M82.4 75.4h0.55M85.3 115.5h0.55M121.8 90.4h0.55M75.7 126.9h0.55M113.0 79.4h0.55M91.2 59.1h0.55M91.1 84.7h0.55M81.1 97.6h0.55M79.4 125.8h0.55M107.0 98.4h0.55M90.0 79.7h0.55M81.3 97.8h0.55M93.4 111.1h0.55M90.4 99.1h0.55M86.6 114.8h0.55M105.3 96.3h0.55M81.8 70.5h0.55M85.2 98.7h0.55M84.0 91.9h0.55M112.0 68.1h0.55M83.3 101.3h0.55M83.0 115.8h0.55M85.4 65.9h0.55M93.4 95.9h0.55M92.0 109.7h0.55M83.4 85.5h0.55M80.9 75.8h0.55M95.6 95.7h0.55M87.9 106.3h0.55M90.4 96.9h0.55M82.5 63.8h0.55M79.7 115.9h0.55M84.5 123.6h0.55M84.8 63.4h0.55M92.0 74.3h0.55M79.1 118.2h0.55M111.3 122.6h0.55M84.9 80.3h0.55M86.6 90.4h0.55M82.9 91.7h0.55M87.6 94.4h0.55M79.1 110.6h0.55M98.4 88.0h0.55M85.1 127.9h0.55M106.9 64.5h0.55M78.6 113.2h0.55M83.2 56.9h0.55M79.7 119.8h0.55M87.1 67.9h0.55M101.5 89.4h0.55M88.0 104.4h0.55M102.6 93.2h0.55M125.9 68.1h0.55M89.7 66.2h0.55M81.4 76.8h0.55M96.7 71.9h0.55M84.3 65.5h0.55M89.7 90.0h0.55M81.2 82.1h0.55M85.5 76.6h0.55M86.2 80.2h0.55M82.2 85.6h0.55M102.1 111.3h0.55M95.1 85.8h0.55M81.2 123.2h0.55M91.9 78.7h0.55M83.2 100.1h0.55M82.2 124.5h0.55M81.0 90.8h0.55M79.4 127.2h0.55M82.0 106.9h0.55M81.0 65.4h0.55M76.1 122.3h0.55M82.0 62.8h0.55M84.3 80.3h0.55M89.6 124.7h0.55M89.2 100.8h0.55M100.7 60.9h0.55M83.9 97.6h0.55M81.3 89.6h0.55M97.3 105.7h0.55M75.1 129.0h0.55M81.2 67.5h0.55M84.4 115.5h0.55M85.0 86.1h0.55M85.7 128.6h0.55M101.5 89.2h0.55M109.1 125.2h0.55M78.6 124.8h0.55M89.0 90.5h0.55M82.9 88.8h0.55M88.1 87.7h0.55M81.0 66.2h0.55M82.5 60.5h0.55M87.9 97.3h0.55M83.9 114.7h0.55M93.4 72.8h0.55M85.4 73.1h0.55M100.9 76.3h0.55M91.0 83.4h0.55M111.8 79.7h0.55M82.3 102.6h0.55M107.7 69.7h0.55M84.7 63.8h0.55M88.5 107.0h0.55M94.8 77.7h0.55M88.0 102.6h0.55M81.8 85.6h0.55M89.4 98.3h0.55M95.6 100.6h0.55M113.8 67.3h0.55M92.0 61.9h0.55M99.1 70.8h0.55M86.3 74.6h0.55M94.6 128.6h0.55M99.6 128.5h0.55M82.4 59.1h0.55M84.9 94.2h0.55M83.8 100.0h0.55M79.5 107.4h0.55M88.9 58.6h0.55M85.6 96.3h0.55M79.5 61.6h0.55M83.0 80.4h0.55M77.2 58.3h0.55M75.7 123.9h0.55M99.0 87.9h0.55M80.6 107.9h0.55M74.5 56.7h0.55M84.1 73.9h0.55M84.9 126.3h0.55M97.8 121.7h0.55M92.2 102.5h0.55M84.6 79.3h0.55M81.8 72.0h0.55M130.1 65.2h0.55M82.9 63.4h0.55M114.3 80.6h0.55M85.4 80.4h0.55M86.2 75.1h0.55M77.7 125.7h0.55M83.6 94.0h0.55M90.6 57.1h0.55M77.4 121.2h0.55M89.0 60.9h0.55M92.8 65.4h0.55M79.9 106.7h0.55M82.3 89.1h0.55M109.5 118.3h0.55M105.5 127.6h0.55M85.1 119.4h0.55M102.9 85.5h0.55M82.9 78.8h0.55M94.2 93.0h0.55M89.4 88.4h0.55M83.6 70.6h0.55M80.2 108.2h0.55M76.4 119.6h0.55M82.3 76.5h0.55M81.5 92.9h0.55M86.4 98.4h0.55M85.9 60.0h0.55M83.5 93.4h0.55M91.8 92.9h0.55M83.5 87.9h0.55M82.5 125.5h0.55M83.0 85.8h0.55M81.5 117.1h0.55M80.2 101.7h0.55M101.7 98.2h0.55M83.4 71.4h0.55M82.2 115.9h0.55M79.4 107.1h0.55M81.1 90.5h0.55M82.4 95.5h0.55M82.4 60.2h0.55M79.4 60.2h0.55M84.4 74.5h0.55M82.6 83.9h0.55M81.4 92.9h0.55M105.7 77.7h0.55M112.9 104.1h0.55M77.0 122.4h0.55M77.2 126.3h0.55M110.7 90.1h0.55M77.1 118.9h0.55M81.6 77.0h0.55M80.9 108.7h0.55M86.1 100.1h0.55M76.1 123.8h0.55M80.5 60.0h0.55M82.3 95.7h0.55M92.7 83.7h0.55M103.7 74.9h0.55M96.3 101.6h0.55M88.3 63.1h0.55M83.5 105.0h0.55M74.5 126.4h0.55M80.6 121.1h0.55M87.7 69.0h0.55M95.9 127.0h0.55M83.8 70.8h0.55M77.3 119.6h0.55M95.0 120.3h0.55M81.4 94.2h0.55M83.5 65.2h0.55M86.7 65.4h0.55M86.4 123.5h0.55M86.3 65.8h0.55M104.5 69.8h0.55M84.0 71.1h0.55M88.4 77.2h0.55M84.4 85.2h0.55M79.2 122.2h0.55M81.1 74.0h0.55M92.1 121.5h0.55M77.6 120.2h0.55M92.3 105.2h0.55M83.6 62.9h0.55M84.2 66.0h0.55M88.9 128.5h0.55M84.8 58.1h0.55M81.5 78.0h0.55M89.8 57.1h0.55M106.9 67.8h0.55M80.2 62.3h0.55M82.3 90.5h0.55M87.5 99.4h0.55M106.8 115.4h0.55M92.9 114.9h0.55M105.6 97.1h0.55M105.3 66.1h0.55M91.3 95.7h0.55M85.1 102.1h0.55M83.0 87.4h0.55M76.7 119.2h0.55M88.0 84.6h0.55M82.1 93.4h0.55M95.9 64.4h0.55M90.4 112.1h0.55M115.5 109.5h0.55M102.3 74.8h0.55M79.9 128.6h0.55M83.2 108.7h0.55M84.3 87.0h0.55M81.3 86.4h0.55M114.8 68.9h0.55M86.1 102.8h0.55M87.3 108.6h0.55M86.5 93.8h0.55M84.9 119.9h0.55M104.1 90.3h0.55M96.3 90.0h0.55M83.4 76.8h0.55M103.8 123.3h0.55M83.1 79.2h0.55M100.4 106.9h0.55M86.8 86.0h0.55M76.0 124.5h0.55M76.0 125.4h0.55M105.6 58.2h0.55M76.6 128.8h0.55M89.7 100.3h0.55M105.8 92.4h0.55M112.0 59.6h0.55M100.6 96.2h0.55M89.5 100.1h0.55M78.5 116.2h0.55M95.9 80.1h0.55M125.6 97.7h0.55M75.6 56.4h0.55M85.5 83.2h0.55M79.5 126.3h0.55M89.8 64.7h0.55M108.3 119.7h0.55M81.7 77.5h0.55M84.2 64.7h0.55M85.5 110.9h0.55M88.4 88.9h0.55M82.1 66.8h0.55M116.2 93.6h0.55M87.0 77.7h0.55M100.2 96.2h0.55M84.5 118.7h0.55M88.8 60.3h0.55M85.1 99.4h0.55M90.5 89.7h0.55M80.9 112.3h0.55M82.5 119.9h0.55M87.8 98.6h0.55M95.8 113.6h0.55M79.1 119.6h0.55M82.6 60.2h0.55M87.8 75.5h0.55M87.8 79.8h0.55M80.7 99.3h0.55M82.2 102.0h0.55M78.5 124.2h0.55M84.7 115.9h0.55M82.2 96.3h0.55M81.0 104.0h0.55M90.9 62.4h0.55M81.7 89.8h0.55M79.3 120.4h0.55M94.3 59.9h0.55M83.3 88.2h0.55M125.4 84.2h0.55M75.5 125.6h0.55M82.5 80.7h0.55M88.1 85.9h0.55M83.6 100.9h0.55M79.3 120.9h0.55M82.7 91.5h0.55M82.9 76.7h0.55M81.8 65.3h0.55M81.7 77.8h0.55M83.4 93.3h0.55M80.9 62.4h0.55M82.9 113.6h0.55M80.5 60.8h0.55M78.4 126.6h0.55M84.1 120.2h0.55M94.7 78.2h0.55M86.7 65.4h0.55M85.6 91.1h0.55M85.2 65.1h0.55M81.1 92.5h0.55M81.5 74.1h0.55M84.0 85.9h0.55M92.5 102.9h0.55M108.1 123.0h0.55M103.4 67.8h0.55M111.7 90.9h0.55M74.9 128.4h0.55M80.3 62.4h0.55M97.5 122.9h0.55M81.1 75.2h0.55M82.8 96.7h0.55M84.4 79.4h0.55M80.2 123.9h0.55M89.6 62.2h0.55M90.6 108.1h0.55M128.6 77.5h0.55M86.3 121.9h0.55M79.5 121.4h0.55M87.4 124.5h0.55M105.9 74.7h0.55M85.3 84.4h0.55M77.1 126.5h0.55M85.0 107.4h0.55M80.2 123.1h0.55M77.7 126.8h0.55M93.2 119.2h0.55M77.4 117.6h0.55M85.6 63.3h0.55M85.4 109.3h0.55M87.3 66.0h0.55M130.3 84.1h0.55M75.1 128.9h0.55M82.3 97.0h0.55M96.3 94.2h0.55M80.3 122.8h0.55M88.0 82.6h0.55M84.2 80.0h0.55M82.3 65.3h0.55M78.5 123.0h0.55M86.2 56.7h0.55M76.9 121.2h0.55M80.9 99.8h0.55M86.0 62.7h0.55M78.9 59.7h0.55M93.2 92.9h0.55M80.5 104.1h0.55M81.1 95.0h0.55M95.3 124.7h0.55M84.7 68.6h0.55M82.6 86.0h0.55M81.4 96.0h0.55M91.3 108.6h0.55M90.4 109.9h0.55M82.8 81.4h0.55M83.9 57.2h0.55M92.4 112.7h0.55M81.3 68.9h0.55M80.9 89.7h0.55M83.2 101.0h0.55M111.3 128.4h0.55M81.7 106.3h0.55M97.6 84.7h0.55M81.4 108.3h0.55M94.8 90.2h0.55M107.7 82.8h0.55M81.4 92.1h0.55M84.1 73.7h0.55M81.1 66.9h0.55M95.0 117.3h0.55M86.5 81.2h0.55M81.4 101.3h0.55M82.1 82.3h0.55M81.3 88.5h0.55M99.3 103.6h0.55M74.9 126.7h0.55M84.0 104.7h0.55M82.2 102.5h0.55M88.4 79.9h0.55M79.5 107.8h0.55M101.7 75.3h0.55M84.9 93.2h0.55M82.4 105.9h0.55M80.5 60.5h0.55M82.6 115.2h0.55M82.9 104.7h0.55M84.0 62.1h0.55M80.2 104.5h0.55M89.0 98.2h0.55M88.4 101.2h0.55M82.0 88.7h0.55M84.4 110.6h0.55M82.1 82.7h0.55M80.0 62.4h0.55M86.4 95.7h0.55M92.9 101.6h0.55M84.9 123.5h0.55M86.0 121.0h0.55M78.1 60.2h0.55M78.7 112.5h0.55M94.2 75.1h0.55M90.3 107.0h0.55M81.7 106.8h0.55M86.3 102.7h0.55M104.6 84.1h0.55M79.6 105.6h0.55M82.1 81.3h0.55M86.3 100.5h0.55M90.5 89.6h0.55M83.0 97.2h0.55M94.5 57.3h0.55M84.7 92.5h0.55M106.3 72.1h0.55M81.5 84.2h0.55M89.9 104.1h0.55M77.6 121.4h0.55M83.6 82.0h0.55M82.7 101.4h0.55M76.3 121.3h0.55M94.2 65.0h0.55M83.8 92.2h0.55M89.5 64.6h0.55M109.9 79.3h0.55M87.1 76.2h0.55M80.5 108.2h0.55M82.6 82.6h0.55M94.9 113.9h0.55M90.1 66.3h0.55M99.7 77.1h0.55M79.6 116.1h0.55M79.1 110.6h0.55M86.6 77.4h0.55M77.8 116.0h0.55M95.2 100.8h0.55M102.9 128.0h0.55M96.6 110.2h0.55M85.6 103.2h0.55M82.1 72.2h0.55M83.4 83.1h0.55M82.1 101.6h0.55M101.7 123.8h0.55M82.0 84.9h0.55M97.5 57.6h0.55M83.3 107.0h0.55M81.0 88.5h0.55M89.3 114.4h0.55M91.9 104.3h0.55M90.8 69.8h0.55M95.6 85.5h0.55M86.0 110.5h0.55M84.9 69.8h0.55M81.5 89.9h0.55M83.1 114.6h0.55M116.3 125.2h0.55M84.3 117.5h0.55M81.6 103.4h0.55M83.4 69.7h0.55M93.4 116.2h0.55M95.4 110.7h0.55M108.7 116.8h0.55M83.3 77.8h0.55M82.4 79.9h0.55M86.7 67.4h0.55M85.9 92.0h0.55M84.2 83.0h0.55M82.7 86.9h0.55M79.5 118.3h0.55M82.1 105.9h0.55M81.4 105.8h0.55M75.5 128.0h0.55M110.4 93.2h0.55M82.3 62.8h0.55M95.6 84.8h0.55M81.8 111.5h0.55M84.2 119.3h0.55M81.3 88.3h0.55M84.7 93.0h0.55M91.6 80.5h0.55M83.2 124.8h0.55M81.8 66.1h0.55M80.2 118.5h0.55M84.1 87.3h0.55M120.6 63.6h0.55M114.7 81.6h0.55M99.5 123.6h0.55M94.6 95.3h0.55M80.7 108.8h0.55M93.6 66.7h0.55M81.1 96.5h0.55M88.4 67.7h0.55M84.5 58.9h0.55M77.1 125.1h0.55M90.1 80.7h0.55M80.7 63.5h0.55M83.5 103.7h0.55M84.2 89.8h0.55M74.4 56.9h0.55M91.6 74.8h0.55M93.7 91.8h0.55M87.8 95.2h0.55M90.6 89.5h0.55M103.0 105.5h0.55M97.7 128.5h0.55M79.2 61.1h0.55M87.8 92.2h0.55M87.1 73.1h0.55M83.4 74.2h0.55M128.4 126.3h0.55M79.5 110.5h0.55M82.7 118.4h0.55M84.8 107.2h0.55M91.1 77.5h0.55M83.8 112.5h0.55M101.6 76.2h0.55M83.1 91.1h0.55M85.9 105.5h0.55M84.3 103.3h0.55M80.1 109.1h0.55M83.1 63.7h0.55M83.2 69.2h0.55M81.9 78.6h0.55M79.7 111.3h0.55M81.5 128.7h0.55M79.6 106.0h0.55M78.1 114.8h0.55M92.1 99.5h0.55M87.1 81.5h0.55M81.1 70.0h0.55M103.8 66.1h0.55M79.7 118.3h0.55M92.3 101.7h0.55M77.0 128.5h0.55M96.2 61.1h0.55M81.3 104.4h0.55M80.1 60.9h0.55M83.4 85.4h0.55M91.1 89.1h0.55M81.1 69.8h0.55M83.0 90.1h0.55M125.1 95.1h0.55M96.5 61.9h0.55M126.7 70.0h0.55M87.9 70.7h0.55M82.0 86.4h0.55M96.7 79.5h0.55M83.5 115.8h0.55M92.6 57.6h0.55M90.3 63.6h0.55M83.6 115.1h0.55M102.8 88.1h0.55M99.7 75.6h0.55M87.8 72.2h0.55M86.3 116.3h0.55M81.7 79.6h0.55M83.4 57.8h0.55M96.3 121.0h0.55M76.6 118.8h0.55M83.8 91.8h0.55M79.2 117.7h0.55M83.3 91.2h0.55M86.6 80.6h0.55M95.2 112.2h0.55M82.6 116.9h0.55M100.2 66.3h0.55M88.2 68.0h0.55M82.4 84.1h0.55M95.9 124.9h0.55M81.0 109.4h0.55M79.9 105.6h0.55M81.4 83.3h0.55M83.3 56.2h0.55M108.7 117.0h0.55M88.8 61.8h0.55M88.8 79.1h0.55M83.8 79.7h0.55M75.3 56.4h0.55M83.8 72.8h0.55M75.8 121.6h0.55M83.2 102.0h0.55M93.1 96.9h0.55M90.3 72.3h0.55M114.1 111.7h0.55M85.5 93.5h0.55M97.5 67.8h0.55M99.2 71.8h0.55M81.9 80.2h0.55M80.6 60.5h0.55M99.8 85.7h0.55M82.8 77.0h0.55M92.5 84.1h0.55M101.0 83.6h0.55M106.3 101.3h0.55M87.5 92.4h0.55M86.1 93.6h0.55M89.6 89.6h0.55M81.0 108.2h0.55M77.0 118.2h0.55M81.5 105.0h0.55M82.9 108.8h0.55M83.8 74.6h0.55M81.6 64.8h0.55M85.2 85.1h0.55M80.4 110.8h0.55M79.0 112.8h0.55M82.6 65.4h0.55M92.6 102.9h0.55M80.1 58.6h0.55M83.8 95.4h0.55M82.9 106.2h0.55M84.0 74.0h0.55M81.3 107.8h0.55M79.6 109.8h0.55M85.7 108.8h0.55M87.8 61.0h0.55M82.2 125.3h0.55M88.3 98.2h0.55M82.8 87.8h0.55M87.5 93.9h0.55M86.4 93.9h0.55M87.1 74.2h0.55M97.7 75.4h0.55M81.3 82.6h0.55M98.1 58.8h0.55M103.6 89.1h0.55M74.3 56.9h0.55M120.1 77.5h0.55M85.6 82.2h0.55M78.1 59.9h0.55M92.6 124.5h0.55M97.5 69.6h0.55M89.4 86.6h0.55M93.9 83.4h0.55M80.8 104.4h0.55M106.7 113.2h0.55M76.2 57.3h0.55M82.7 93.7h0.55M80.6 107.4h0.55M83.0 84.3h0.55M97.0 117.5h0.55M82.9 57.7h0.55M80.9 75.7h0.55M81.8 77.2h0.55M102.9 128.7h0.55M83.8 72.7h0.55M79.2 59.4h0.55M125.7 86.5h0.55M82.7 67.2h0.55M113.5 70.4h0.55M81.6 107.6h0.55M84.8 67.8h0.55M88.0 120.5h0.55M83.6 109.5h0.55M78.1 117.4h0.55M82.6 62.8h0.55M83.6 98.9h0.55M87.8 92.5h0.55M99.4 89.9h0.55M113.5 91.7h0.55M83.1 89.3h0.55M95.8 67.8h0.55M83.3 74.2h0.55M83.9 113.3h0.55M116.4 71.0h0.55M82.0 94.5h0.55M93.2 78.9h0.55M101.0 73.6h0.55M119.0 83.3h0.55M84.1 92.7h0.55M81.4 105.4h0.55M83.9 127.2h0.55M91.3 73.5h0.55M82.2 125.7h0.55M80.8 61.0h0.55M83.5 71.0h0.55M85.9 99.2h0.55M76.1 124.6h0.55M83.6 86.0h0.55M77.3 121.2h0.55M81.4 63.5h0.55M84.7 84.8h0.55M84.2 120.8h0.55M79.9 125.2h0.55M84.3 89.1h0.55M79.5 60.6h0.55M88.7 56.6h0.55M95.1 79.8h0.55M96.8 70.9h0.55M83.1 57.0h0.55M83.0 61.6h0.55M98.1 121.9h0.55M79.6 106.3h0.55M102.1 83.1h0.55M77.7 117.6h0.55M81.9 118.0h0.55M94.1 124.0h0.55M81.4 101.4h0.55M81.8 81.8h0.55M76.8 125.0h0.55M84.2 81.4h0.55M105.2 62.3h0.55M77.3 119.5h0.55M82.0 97.5h0.55M96.2 78.6h0.55M81.5 81.0h0.55M87.8 81.1h0.55M75.2 128.4h0.55M91.7 89.5h0.55M85.4 127.2h0.55M79.5 124.0h0.55M79.9 117.1h0.55M82.4 66.5h0.55M92.4 96.7h0.55M113.1 106.8h0.55M83.5 78.5h0.55M81.3 77.4h0.55M83.0 122.2h0.55M80.7 106.7h0.55M81.7 91.9h0.55M97.1 76.6h0.55M85.5 81.6h0.55M88.7 81.0h0.55M86.1 98.4h0.55M79.4 125.2h0.55M92.1 77.8h0.55M79.4 115.2h0.55M79.3 109.7h0.55M83.0 115.0h0.55M93.3 127.4h0.55M101.1 108.0h0.55M77.1 127.5h0.55M88.7 76.4h0.55M96.5 94.2h0.55M90.9 62.1h0.55M96.6 113.0h0.55M122.4 57.2h0.55M81.9 125.0h0.55M98.1 74.1h0.55M85.0 77.4h0.55M77.4 116.9h0.55M110.5 121.5h0.55M77.5 117.1h0.55M81.6 82.2h0.55M78.6 114.9h0.55M83.8 113.2h0.55M87.0 90.3h0.55M84.7 121.6h0.55M81.6 110.9h0.55M84.5 94.9h0.55M90.1 100.4h0.55M83.9 95.3h0.55M83.4 64.1h0.55M75.1 126.8h0.55M77.7 58.7h0.55M75.3 125.1h0.55M89.6 94.9h0.55M81.6 65.2h0.55M78.8 116.1h0.55M84.3 87.7h0.55M82.6 108.2h0.55M86.1 116.2h0.55M84.4 106.8h0.55M82.3 75.8h0.55M79.2 119.9h0.55M81.4 82.0h0.55M84.1 86.0h0.55M74.0 56.4h0.55M88.4 80.3h0.55M79.7 112.0h0.55M81.6 87.3h0.55M90.0 97.6h0.55M84.3 76.8h0.55M89.5 82.4h0.55M82.2 90.4h0.55M94.3 99.7h0.55M81.9 86.9h0.55M88.5 96.8h0.55M82.3 62.4h0.55M86.1 126.4h0.55M85.2 92.5h0.55M84.3 111.7h0.55M85.2 115.7h0.55M90.0 102.2h0.55M102.8 123.1h0.55M83.2 94.6h0.55M94.6 123.1h0.55M93.1 100.1h0.55M115.3 97.8h0.55M78.0 116.5h0.55M78.9 110.0h0.55M93.2 60.8h0.55M78.8 112.3h0.55M83.6 89.9h0.55M82.3 77.7h0.55M78.6 116.4h0.55M88.0 77.3h0.55M77.2 118.3h0.55M81.0 75.8h0.55M101.5 116.2h0.55M82.8 73.9h0.55M81.5 78.2h0.55M79.6 120.4h0.55M80.7 120.4h0.55M87.7 74.3h0.55M93.8 110.6h0.55M85.6 102.5h0.55M86.1 84.3h0.55M81.0 91.1h0.55M76.2 123.1h0.55M82.7 68.2h0.55M79.1 111.9h0.55M84.8 78.4h0.55M83.6 98.8h0.55M92.3 92.4h0.55M81.0 66.7h0.55M81.4 111.2h0.55M108.7 110.3h0.55M78.2 114.6h0.55M118.1 122.8h0.55M81.4 92.7h0.55M82.6 68.9h0.55M82.0 92.3h0.55M99.2 72.9h0.55M95.9 67.9h0.55M108.7 90.4h0.55M88.1 107.0h0.55M80.0 103.7h0.55M78.7 120.8h0.55M84.4 121.7h0.55M90.1 88.5h0.55M85.4 114.5h0.55M75.7 127.7h0.55M97.3 93.1h0.55M90.8 113.6h0.55M94.5 116.8h0.55M87.7 73.4h0.55M90.0 74.8h0.55M84.6 125.2h0.55M82.1 77.9h0.55M79.4 107.5h0.55M91.8 112.6h0.55M92.1 84.1h0.55M95.6 118.4h0.55M93.0 64.9h0.55M94.4 92.1h0.55M77.4 125.0h0.55M79.3 109.4h0.55M80.7 97.3h0.55M100.3 94.2h0.55M98.4 106.8h0.55M81.5 80.6h0.55M82.8 62.8h0.55M82.7 70.7h0.55M81.0 113.3h0.55M98.5 102.4h0.55M94.7 114.4h0.55M77.8 59.3h0.55M88.8 121.9h0.55M77.3 123.8h0.55M83.9 99.5h0.55M96.5 115.9h0.55M87.2 101.8h0.55M98.2 100.2h0.55M87.6 61.5h0.55M84.7 65.7h0.55M83.8 91.1h0.55M90.7 75.2h0.55M79.1 112.0h0.55M98.7 57.0h0.55M75.3 129.0h0.55M82.4 93.3h0.55M89.0 71.4h0.55M79.7 113.8h0.55M84.6 58.9h0.55M92.3 117.3h0.55M87.2 128.5h0.55M81.9 96.9h0.55M91.0 82.4h0.55M82.1 69.4h0.55M73.8 56.2h0.55M82.8 113.5h0.55M80.7 104.9h0.55M88.9 61.1h0.55M88.2 109.8h0.55M85.1 105.3h0.55M101.2 78.9h0.55M83.0 119.0h0.55M89.5 71.4h0.55M83.4 87.2h0.55M82.2 64.4h0.55M90.1 69.1h0.55M112.5 112.1h0.55M81.3 92.6h0.55M83.0 100.4h0.55M110.8 70.5h0.55M84.6 64.5h0.55M86.3 75.8h0.55M84.7 64.4h0.55M80.9 103.7h0.55M90.5 71.2h0.55M84.0 94.2h0.55M85.8 98.5h0.55M103.4 59.0h0.55M80.9 122.5h0.55M75.8 128.5h0.55M85.8 109.1h0.55M86.5 77.1h0.55M86.0 91.1h0.55M95.4 57.7h0.55M91.6 59.4h0.55M79.2 110.6h0.55M86.6 106.6h0.55M87.3 106.5h0.55M81.9 80.6h0.55M87.3 92.9h0.55M91.5 127.4h0.55M96.2 102.5h0.55M82.3 60.8h0.55M82.2 64.9h0.55M83.4 118.3h0.55M80.3 110.4h0.55M80.6 117.1h0.55M94.1 98.3h0.55M80.8 98.2h0.55M105.7 109.8h0.55M78.1 57.8h0.55M85.4 108.5h0.55M82.9 110.9h0.55M97.4 88.5h0.55M84.2 63.5h0.55M88.0 119.2h0.55M81.3 83.4h0.55M81.0 91.5h0.55M129.1 74.9h0.55M79.6 106.9h0.55M82.1 79.3h0.55M87.4 98.2h0.55M83.7 111.1h0.55M81.5 83.4h0.55M83.0 91.0h0.55M88.6 123.9h0.55M90.4 109.9h0.55M97.4 117.5h0.55M74.3 128.3h0.55M91.6 121.6h0.55M80.6 104.2h0.55M97.2 116.9h0.55M90.1 95.8h0.55M84.6 65.1h0.55M76.8 128.4h0.55M90.7 114.6h0.55M82.7 66.4h0.55M83.0 73.8h0.55M84.1 98.1h0.55M88.0 111.8h0.55M84.5 66.9h0.55M112.9 126.3h0.55M82.5 91.5h0.55M85.8 112.6h0.55M81.9 122.4h0.55M82.2 82.7h0.55M77.6 124.6h0.55M82.2 124.8h0.55M75.9 123.3h0.55M89.5 119.0h0.55M80.7 107.5h0.55M82.8 107.4h0.55M95.0 70.4h0.55M85.7 98.0h0.55M98.8 73.7h0.55M80.3 63.2h0.55M98.3 79.8h0.55M93.8 112.7h0.55M85.5 59.6h0.55M76.5 128.8h0.55M96.6 68.4h0.55M90.3 89.0h0.55M88.5 68.5h0.55M85.7 91.2h0.55M79.1 123.6h0.55M84.5 84.7h0.55M83.3 60.6h0.55M94.4 121.9h0.55M75.6 128.2h0.55M91.8 93.4h0.55M89.8 95.8h0.55M99.6 107.0h0.55M81.3 74.1h0.55M81.6 77.7h0.55M117.8 59.6h0.55M87.4 85.6h0.55M81.6 99.6h0.55M83.4 72.2h0.55M94.6 104.9h0.55M80.4 107.8h0.55M85.8 92.0h0.55M77.9 127.0h0.55M80.4 119.4h0.55M81.3 97.9h0.55M82.1 105.9h0.55M85.6 76.1h0.55M78.7 125.1h0.55M85.2 103.2h0.55M81.6 121.5h0.55M78.9 127.9h0.55M88.1 63.7h0.55M79.6 111.9h0.55M80.2 60.8h0.55M86.9 70.0h0.55M76.9 118.2h0.55M95.4 62.0h0.55M78.6 118.7h0.55M89.9 107.5h0.55M89.6 128.6h0.55M76.8 57.7h0.55M79.8 110.8h0.55M88.7 61.3h0.55M82.0 62.1h0.55M80.4 112.6h0.55M83.6 75.2h0.55M94.8 56.7h0.55M104.3 95.0h0.55M81.8 62.6h0.55M93.0 110.8h0.55M105.3 80.9h0.55M78.7 115.1h0.55M80.7 63.0h0.55M99.5 92.2h0.55M83.0 63.3h0.55M86.6 113.1h0.55M81.1 97.0h0.55M82.9 73.2h0.55M83.2 105.9h0.55M95.9 118.6h0.55M81.5 83.8h0.55M79.5 125.0h0.55M84.7 77.7h0.55M73.8 48.9h0.55M48.6 51.4h0.55M71.6 51.6h0.55M74.1 51.3h0.55M59.8 50.6h0.55M78.6 49.8h0.55M78.7 52.6h0.55M46.3 51.9h0.55M79.2 54.5h0.55M71.5 50.5h0.55M79.2 53.6h0.55M53.1 52.2h0.55M62.2 50.0h0.55M77.1 53.9h0.55M67.3 48.6h0.55M50.4 53.7h0.55M50.4 50.0h0.55M79.3 53.1h0.55M40.0 53.5h0.55M49.1 50.7h0.55M62.2 52.1h0.55M46.0 51.3h0.55M58.2 49.4h0.55M67.1 49.5h0.55M41.4 52.2h0.55M48.9 53.4h0.55M76.5 47.9h0.55M39.5 51.9h0.55M42.6 53.3h0.55M73.8 52.4h0.55M67.5 49.7h0.55M58.4 54.6h0.55M75.5 49.2h0.55M46.9 53.6h0.55M37.9 55.9h0.55M73.4 47.3h0.55M52.5 52.8h0.55M41.3 50.3h0.55M51.5 51.4h0.55M62.7 48.8h0.55M74.9 52.4h0.55M51.6 53.4h0.55M40.4 50.5h0.55M41.6 49.9h0.55M51.2 51.0h0.55M68.7 52.2h0.55M68.3 51.8h0.55M76.2 52.2h0.55M67.7 49.0h0.55M67.2 45.6h0.55M69.8 48.7h0.55M80.6 50.5h0.55M45.6 52.8h0.55M43.2 53.6h0.55M46.8 55.1h0.55M78.5 51.9h0.55M55.5 53.0h0.55M47.0 51.1h0.55M38.8 53.5h0.55M79.7 51.2h0.55M67.0 49.6h0.55M51.8 45.9h0.55M71.7 49.7h0.55M54.8 53.8h0.55M52.5 51.0h0.55M61.8 52.5h0.55M80.6 48.3h0.55M43.3 52.0h0.55M73.3 53.0h0.55M56.3 52.8h0.55M62.4 52.6h0.55M72.3 48.6h0.55M39.1 51.5h0.55M42.0 55.1h0.55M50.1 53.4h0.55M46.6 51.1h0.55M42.8 52.3h0.55M41.8 53.5h0.55M61.0 48.3h0.55M40.6 50.0h0.55M72.6 53.6h0.55M52.2 51.5h0.55M51.0 52.9h0.55M80.7 51.3h0.55M50.2 52.6h0.55M47.6 50.8h0.55M53.9 50.6h0.55M72.0 51.9h0.55M78.8 48.7h0.55M44.5 47.1h0.55M39.0 55.3h0.55M51.2 51.8h0.55M51.8 54.7h0.55M70.6 52.3h0.55M67.6 52.4h0.55M70.6 53.6h0.55M55.0 53.7h0.55M56.6 49.2h0.55M79.1 54.9h0.55M39.8 49.8h0.55M38.6 52.5h0.55M38.4 58.1h0.55M73.6 52.2h0.55M68.3 51.2h0.55M73.5 52.2h0.55M52.2 50.1h0.55M42.6 49.9h0.55M55.8 52.8h0.55M46.3 48.4h0.55M78.5 50.1h0.55M71.3 53.6h0.55M50.2 50.6h0.55M60.2 50.0h0.55M58.4 49.5h0.55M79.4 51.2h0.55M49.8 52.4h0.55M64.7 51.6h0.55M79.7 51.0h0.55M47.3 47.5h0.55M41.7 52.1h0.55M61.6 52.4h0.55M79.9 48.3h0.55M39.1 52.0h0.55M81.0 52.0h0.55M61.4 48.4h0.55M79.3 51.9h0.55M47.4 51.1h0.55M56.6 49.2h0.55M70.7 52.4h0.55M55.1 49.9h0.55M45.1 53.0h0.55M54.8 49.5h0.55M42.2 51.8h0.55M42.1 51.5h0.55M43.0 52.0h0.55M60.1 50.9h0.55M51.8 50.2h0.55M45.6 51.9h0.55M70.2 50.7h0.55M73.8 51.4h0.55M44.8 46.8h0.55M49.3 55.3h0.55M59.5 52.8h0.55M57.3 53.5h0.55M62.8 51.0h0.55M78.1 49.0h0.55M53.2 54.5h0.55M72.7 53.4h0.55M44.8 53.1h0.55M71.8 53.0h0.55M63.1 52.0h0.55M49.1 52.7h0.55M70.8 52.1h0.55M42.7 52.8h0.55M39.3 49.9h0.55M49.7 50.6h0.55M59.9 53.4h0.55M65.5 51.3h0.55M51.5 46.5h0.55M80.8 46.8h0.55M81.6 56.5h0.55M69.4 53.7h0.55M51.0 53.6h0.55M58.7 50.5h0.55M73.2 49.5h0.55M76.7 51.6h0.55M79.6 52.1h0.55M54.8 50.3h0.55M52.6 52.4h0.55M52.5 53.7h0.55M72.2 53.5h0.55M79.8 49.7h0.55M62.5 47.1h0.55M57.2 52.1h0.55M67.0 50.6h0.55M56.3 53.1h0.55M46.0 55.9h0.55M42.1 52.7h0.55M55.5 54.6h0.55M49.5 55.9h0.55M44.4 52.2h0.55M80.2 52.7h0.55M54.8 52.0h0.55M81.3 50.9h0.55M42.4 50.4h0.55M53.0 52.1h0.55M76.6 50.7h0.55M80.3 53.9h0.55M72.6 51.3h0.55M45.9 55.5h0.55M40.8 49.3h0.55M40.5 54.6h0.55M75.7 51.2h0.55M37.8 55.2h0.55M42.0 53.3h0.55M42.4 52.0h0.55M69.0 53.7h0.55M65.4 50.8h0.55M47.2 52.9h0.55M55.7 53.0h0.55M79.6 51.8h0.55M47.0 53.0h0.55M40.7 49.8h0.55M42.5 49.3h0.55M48.9 53.2h0.55M39.1 53.7h0.55M66.7 50.9h0.55M51.5 51.6h0.55M44.7 52.5h0.55M80.7 50.4h0.55M48.5 55.4h0.55M48.5 51.1h0.55M53.8 54.4h0.55M48.3 50.0h0.55M48.5 52.9h0.55M78.4 51.3h0.55M41.3 54.3h0.55M74.4 51.5h0.55M61.2 50.2h0.55M39.3 53.2h0.55M44.3 49.4h0.55M66.6 50.0h0.55M48.3 47.9h0.55M50.5 53.9h0.55M78.5 51.3h0.55M70.1 50.1h0.55M78.4 53.6h0.55M47.9 50.8h0.55M52.2 51.8h0.55M74.6 54.0h0.55M57.1 53.9h0.55M57.4 52.1h0.55M73.3 50.4h0.55M81.7 50.0h0.55M76.8 50.8h0.55M71.6 53.7h0.55M57.3 53.5h0.55M68.8 52.9h0.55M47.6 55.4h0.55M48.9 51.5h0.55M46.7 51.3h0.55M67.7 51.3h0.55M79.4 56.5h0.55M70.9 47.5h0.55M49.4 52.9h0.55M53.1 52.4h0.55M48.7 54.0h0.55M50.5 50.2h0.55M41.5 53.4h0.55M53.6 51.4h0.55M52.6 52.3h0.55M57.9 52.7h0.55M66.6 51.1h0.55M78.6 53.7h0.55M73.7 55.9h0.55M53.6 52.7h0.55M45.2 47.9h0.55M40.5 54.7h0.55M40.1 51.8h0.55M66.0 51.2h0.55M44.9 53.7h0.55M75.0 50.4h0.55M60.8 49.8h0.55M78.9 50.2h0.55M43.5 52.3h0.55M51.3 49.0h0.55M60.0 52.3h0.55M80.2 53.5h0.55M41.2 49.3h0.55M78.2 51.0h0.55M44.1 53.5h0.55M68.7 52.8h0.55M68.1 51.2h0.55M53.6 51.1h0.55M61.3 48.4h0.55M78.9 50.7h0.55M58.3 50.5h0.55M39.1 49.2h0.55M73.3 54.1h0.55M40.0 52.8h0.55M80.8 51.4h0.55M80.4 53.3h0.55M73.7 54.1h0.55M77.1 51.0h0.55M64.8 51.7h0.55M51.2 52.7h0.55M64.3 50.1h0.55M43.9 52.1h0.55M71.8 50.8h0.55M51.1 50.4h0.55M60.3 53.0h0.55M49.4 54.3h0.55M50.1 53.0h0.55M76.3 50.4h0.55M71.6 54.0h0.55M40.5 52.7h0.55M71.6 53.6h0.55M78.4 54.9h0.55M68.7 50.3h0.55M68.2 52.0h0.55M49.3 50.9h0.55M68.5 50.3h0.55M78.3 54.4h0.55M68.7 48.3h0.55M51.9 53.3h0.55M76.6 51.0h0.55M71.8 54.9h0.55M46.5 52.5h0.55M47.1 51.9h0.55M38.3 52.6h0.55M71.6 53.2h0.55M41.5 52.4h0.55M49.8 51.8h0.55M70.1 52.0h0.55M51.2 53.4h0.55M50.3 49.8h0.55M40.6 52.3h0.55M39.9 52.0h0.55M62.9 51.2h0.55M43.8 53.9h0.55M80.1 49.4h0.55M38.8 51.5h0.55M51.6 50.4h0.55M45.8 53.5h0.55M77.3 51.2h0.55M70.7 52.4h0.55M42.6 53.2h0.55M40.1 48.7h0.55M41.4 53.3h0.55M70.2 50.6h0.55M70.6 51.7h0.55M58.1 54.0h0.55M42.5 52.7h0.55M72.7 51.2h0.55M71.9 51.2h0.55M48.1 55.9h0.55M47.1 53.1h0.55M80.8 51.0h0.55M79.4 52.9h0.55M70.6 52.9h0.55M72.3 52.4h0.55M57.9 50.6h0.55M76.3 46.6h0.55M68.1 51.1h0.55M57.0 54.7h0.55M41.2 47.3h0.55M55.1 52.3h0.55M74.8 48.2h0.55M62.4 49.6h0.55M79.2 54.1h0.55M46.5 50.5h0.55M57.5 52.3h0.55M48.1 49.7h0.55M39.8 53.8h0.55M64.6 49.3h0.55M45.8 55.3h0.55M56.6 50.0h0.55M55.5 48.2h0.55M76.8 55.9h0.55M98.0 54.2h0.55M107.1 52.2h0.55M94.6 50.8h0.55M101.8 56.6h0.55M83.0 54.4h0.55M96.9 47.1h0.55M84.2 50.6h0.55M126.1 47.8h0.55M83.2 56.4h0.55M92.5 53.5h0.55M88.2 51.0h0.55M101.7 60.1h0.55M84.4 56.3h0.55M84.5 49.3h0.55M82.2 52.6h0.55M84.8 49.6h0.55M93.8 48.3h0.55M91.6 53.5h0.55M98.9 59.6h0.55M96.9 57.3h0.55M111.7 53.1h0.55M96.3 52.0h0.55M108.9 53.6h0.55M81.8 55.8h0.55M96.3 49.0h0.55M116.1 47.9h0.55M86.1 58.2h0.55M95.2 53.8h0.55M82.8 57.4h0.55M100.0 53.7h0.55M90.9 57.1h0.55M86.0 51.3h0.55M90.3 54.4h0.55M92.2 57.3h0.55M101.3 55.8h0.55M92.0 51.7h0.55M98.8 51.2h0.55M116.8 49.1h0.55M94.0 54.4h0.55M115.2 56.9h0.55M82.2 55.3h0.55M93.1 49.5h0.55M104.7 55.4h0.55M83.4 54.9h0.55M97.7 51.7h0.55M125.4 46.1h0.55M89.4 55.8h0.55M88.0 55.5h0.55M82.4 54.4h0.55M83.7 48.9h0.55M96.6 55.8h0.55M86.1 55.2h0.55M91.3 54.4h0.55M106.8 51.5h0.55M86.5 52.1h0.55M85.7 53.7h0.55M91.8 51.8h0.55M105.9 55.6h0.55M102.6 55.0h0.55M118.3 50.7h0.55M89.9 58.1h0.55M116.3 54.3h0.55M82.6 56.6h0.55M95.3 46.8h0.55M83.4 55.8h0.55M98.2 56.4h0.55M82.7 57.0h0.55M126.1 46.8h0.55M125.0 52.7h0.55M83.1 51.8h0.55M96.3 56.7h0.55M88.2 51.1h0.55M92.4 56.4h0.55M82.2 54.6h0.55M86.4 48.9h0.55M84.7 50.2h0.55M82.0 51.7h0.55M112.5 53.3h0.55M90.2 55.8h0.55M94.3 52.5h0.55M116.5 55.5h0.55M88.3 48.6h0.55M99.8 44.5h0.55M108.8 52.1h0.55M100.1 54.3h0.55M89.2 52.0h0.55M82.1 50.2h0.55M85.3 54.2h0.55M109.9 58.4h0.55M82.7 52.7h0.55M119.5 51.0h0.55M102.1 50.6h0.55M110.4 58.5h0.55M91.4 52.9h0.55M89.1 54.7h0.55M130.5 56.4h0.55M98.8 56.0h0.55M114.6 50.4h0.55M83.4 55.7h0.55M86.2 55.4h0.55M104.5 54.4h0.55M107.1 55.8h0.55M102.0 51.4h0.55M87.9 52.8h0.55M103.5 51.5h0.55M94.7 54.1h0.55M109.5 49.9h0.55M96.4 52.7h0.55M123.6 52.0h0.55M89.0 52.7h0.55M99.6 53.4h0.55M101.5 52.5h0.55M119.0 52.4h0.55M99.4 47.2h0.55M99.8 56.1h0.55M88.9 51.3h0.55M82.2 52.3h0.55M94.1 50.7h0.55M129.3 55.8h0.55M87.4 50.5h0.55M106.7 54.4h0.55M84.0 56.3h0.55M105.8 57.6h0.55M99.5 56.3h0.55M111.9 54.7h0.55M93.4 49.6h0.55M84.7 56.6h0.55M108.3 56.3h0.55M100.8 55.3h0.55M102.5 55.3h0.55M103.4 53.2h0.55M91.9 56.0h0.55M124.4 56.6h0.55M112.5 50.1h0.55M84.5 55.6h0.55M87.0 53.7h0.55M116.0 55.5h0.55M121.1 53.8h0.55M86.3 56.1h0.55M95.5 55.9h0.55M114.0 55.5h0.55M90.5 49.2h0.55M94.8 55.3h0.55M113.2 53.2h0.55M90.4 49.9h0.55M116.3 55.0h0.55M108.6 49.2h0.55M90.3 55.5h0.55M98.1 57.8h0.55M91.2 51.6h0.55M91.0 55.6h0.55M88.0 54.3h0.55M82.9 54.9h0.55M128.6 54.7h0.55M127.5 53.4h0.55M82.2 55.1h0.55M112.6 87.0h0.55M110.1 126.8h0.55M82.8 83.6h0.55M128.5 121.8h0.55M117.6 40.8h0.55M108.8 91.2h0.55M128.3 101.5h0.55M107.8 75.3h0.55M90.4 47.2h0.55M120.1 110.7h0.55M128.8 107.2h0.55M84.7 74.0h0.55M106.5 48.7h0.55M92.9 114.9h0.55M126.3 109.2h0.55M86.4 114.4h0.55M121.5 113.0h0.55M91.9 63.5h0.55M113.3 95.7h0.55M115.8 81.5h0.55M119.2 74.8h0.55M84.3 76.6h0.55M105.5 100.1h0.55M87.9 82.2h0.55M89.7 72.7h0.55M89.0 96.0h0.55M127.8 96.1h0.55M109.3 76.3h0.55M94.2 97.6h0.55M105.6 98.6h0.55M84.4 106.6h0.55M92.3 54.9h0.55M112.6 98.2h0.55M115.9 77.3h0.55M112.1 118.4h0.55M130.2 95.2h0.55M130.0 112.3h0.55M122.8 112.3h0.55M104.7 59.0h0.55M119.0 46.9h0.55M94.0 107.7h0.55M124.3 44.9h0.55M93.7 124.6h0.55M130.5 101.6h0.55M82.4 77.8h0.55M121.0 99.8h0.55M106.4 51.8h0.55M121.9 96.9h0.55M107.4 122.1h0.55M122.8 40.0h0.55M116.6 123.7h0.55M113.2 67.7h0.55M128.6 75.4h0.55M87.5 123.8h0.55M127.4 111.1h0.55M107.4 74.3h0.55M116.6 127.4h0.55M114.6 42.9h0.55M101.0 98.9h0.55M76.7 50.7h0.55M38.5 57.6h0.55M75.0 49.9h0.55M81.0 50.9h0.55M50.3 53.7h0.55M77.7 58.2h0.55M77.1 53.4h0.55M39.9 52.6h0.55M42.4 56.3h0.55M55.7 45.2h0.55M50.0 53.6h0.55M57.3 51.5h0.55M50.6 56.4h0.55M80.2 51.6h0.55M38.1 56.3h0.55M80.6 61.7h0.55M45.0 50.6h0.55M54.1 55.7h0.55M77.1 58.6h0.55M81.1 62.8h0.55M55.6 46.4h0.55M75.0 52.6h0.55M77.5 57.2h0.55M42.5 55.4h0.55M80.7 62.1h0.55M80.0 56.7h0.55M41.6 58.6h0.55M67.0 48.1h0.55M52.6 56.0h0.55M41.9 57.4h0.55M39.8 56.5h0.55M46.7 55.3h0.55M46.8 58.1h0.55M72.5 53.7h0.55M38.4 58.5h0.55M45.0 55.0h0.55M39.3 51.6h0.55M71.5 55.4h0.55M81.6 66.6h0.55M78.3 59.1h0.55M40.9 60.1h0.55M38.9 50.4h0.55M64.0 45.5h0.55M78.6 47.2h0.55M41.7 55.8h0.55M38.8 50.9h0.55M42.6 58.4h0.55M43.3 55.4h0.55M75.7 54.5h0.55M75.5 50.4h0.55M79.2 54.7h0.55M71.8 51.7h0.55M48.9 50.0h0.55M46.3 53.5h0.55M61.5 49.5h0.55M56.9 54.9h0.55M46.5 59.0h0.55M50.4 52.1h0.55M43.8 54.7h0.55M52.0 55.1h0.55M80.1 62.4h0.55M38.4 58.1h0.55M41.2 56.0h0.55M44.8 58.5h0.55M75.8 50.1h0.55M81.0 62.7h0.55M57.3 52.4h0.55M40.8 54.0h0.55M46.3 51.4h0.55M80.1 55.9h0.55M70.0 49.6h0.55M68.3 52.2h0.55M42.6 48.8h0.55M81.3 64.2h0.55M49.7 52.0h0.55M51.4 58.3h0.55" fill="none" stroke="#1a1a1a" stroke-width="0.55"/>
</g>
<rect x="37.7" y="37" width="93.3" height="92.2" fill="none" stroke="#222" stroke-width="0.9"/>
<line x1="38.5" y1="46" x2="38.5" y2="129.2" stroke="#000" stroke-width="2.2"/>
<line x1="37.7" y1="128.8" x2="81.7" y2="128.8" stroke="#000" stroke-width="2.6"/>
<line x1="81.7" y1="128.7" x2="128" y2="128.7" stroke="#222" stroke-width="1.3" stroke-dasharray="1.3 0.9"/>
<rect x="38.5" y="41" width="43.5" height="24.4" fill="none" stroke="#222" stroke-width="0.9"/>
<rect x="82.5" y="41" width="41.2" height="24.4" fill="none" stroke="#222" stroke-width="0.9"/>
<line x1="34.7" y1="45" x2="37.7" y2="45" stroke="#000" stroke-width="0.6"/>
<text x="33.9" y="46.51" font-size="4.2" text-anchor="end" fill="#222">1x10<tspan dy="-1.8" font-size="3">5</tspan></text>
<line x1="34.7" y1="65.7" x2="37.7" y2="65.7" stroke="#000" stroke-width="0.6"/>
<text x="33.9" y="67.21" font-size="4.2" text-anchor="end" fill="#222">10000</text>
<line x1="34.7" y1="87.5" x2="37.7" y2="87.5" stroke="#000" stroke-width="0.6"/>
<text x="33.9" y="89.01" font-size="4.2" text-anchor="end" fill="#222">1000</text>
<line x1="34.7" y1="110" x2="37.7" y2="110" stroke="#000" stroke-width="0.6"/>
<text x="33.9" y="111.51" font-size="4.2" text-anchor="end" fill="#222">100</text>
<line x1="34.7" y1="120" x2="37.7" y2="120" stroke="#000" stroke-width="0.6"/>
<text x="33.9" y="121.51" font-size="4.2" text-anchor="end" fill="#222">0</text>
<line x1="48" y1="129.2" x2="48" y2="131.2" stroke="#000" stroke-width="0.6"/>
<text x="48" y="137.31" font-size="4.2" text-anchor="middle" fill="#222">0</text>
<line x1="57.3" y1="129.2" x2="57.3" y2="131.2" stroke="#000" stroke-width="0.6"/>
<text x="57.3" y="137.31" font-size="4.2" text-anchor="middle" fill="#222">100</text>
<line x1="79" y1="129.2" x2="79" y2="131.2" stroke="#000" stroke-width="0.6"/>
<text x="79" y="137.31" font-size="4.2" text-anchor="middle" fill="#222">1000</text>
<line x1="101.2" y1="129.2" x2="101.2" y2="131.2" stroke="#000" stroke-width="0.6"/>
<text x="101.2" y="137.31" font-size="4.2" text-anchor="middle" fill="#222">10000</text>
<line x1="122.2" y1="129.2" x2="122.2" y2="131.2" stroke="#000" stroke-width="0.6"/>
<text x="122.2" y="137.31" font-size="4.2" text-anchor="middle" fill="#222">1x10<tspan dy="-1.8" font-size="3">5</tspan></text>
<clipPath id="cA2"><rect x="157.7" y="37.6" width="93.8" height="91.9"/></clipPath><g clip-path="url(#cA2)">
<path d="M196.3 129.4l-.8 .1 -.8 0 -.8 0 -.8 0 -.8 0 -.8 0 -.8 0 -.8 0 -.8 0 -.8 0 -.8 0 -.8 0 -.8 0 -.8 0 -.8 0 -.8 0 -.8 0 -.8 0 -.8 0 -.8 0 -.8 0 -.8 0 -.8 0 -.8 0 -.8 0 -.8 0 -.8 0 -.8 0 -.8 0 -.8 0 -.8 0 -.8 0 -.8 0 -.8 0 -.8 0 -.8 0 -.8 0 -.8 0 -.8 0 -.8 0 -.8 0 -.8 0 -.8 0 -.8 0 -.8 0 -.8 0 -.8 0 -.8 0 -.2 -.5 .0 -.8 .0 -.8 .0 -.8 .0 -.8 .0 -.8 .0 -.8 0 -.8 0 -.8 0 -.8 0 -.8 0 -.8 .0 -.8 .0 -.8 .0 -.8 .0 -.8 .0 -.8 .0 -.8 .0 -.8 .0 -.8 .0 -.8 .0 -.8 .0 -.8 .0 -.8 .0 -.8 .0 -.8 .0 -.8 .0 -.8 .0 -.8 .0 -.8 .0 -.8 .0 -.8 .0 -.8 .0 -.8 .0 -.8 .0 -.8 .0 -.8 .0 -.8 .0 -.8 .0 -.8 .0 -.8 .0 -.8 .0 -.8 .0 -.8 .0 -.8 .0 -.8 .0 -.8 .0 -.8 .0 -.8 .0 -.8 .0 -.8 .0 -.8 .0 -.8 .0 -.8 .0 -.8 .0 -.8 .0 -.8 .0 -.8 .0 -.8 .0 -.8 .0 -.8 .0 -.8 .0 -.8 .0 -.8 .0 -.8 .0 -.8 .0 -.8 .0 -.8 .0 -.8 .0 -.8 .0 -.8 .0 -.8 .0 -.8 .0 -.8 .0 -.8 .0 -.8 .0 -.8 .0 -.8 .0 -.8 .1 -.8 .1 -.6 .8 -.1 .8 -.1 .4 -.1 .8 -.1 .8 -.1 .7 -.1 .5 -.1 .8 -.1 .8 -.1 .5 -.1 .7 -.1 .8 -.2 .4 -.1 .8 -.3 .5 -.1 .7 -.2 .5 -.2 .7 -.2 .4 -.2 .8 -.3 .4 -.2 .5 -.3 .7 -.3 .4 -.2 .7 -.3 .5 -.2 .4 -.2 .6 -.4 .6 -.4 .4 -.3 .4 -.3 .4 -.3 .6 -.4 .6 -.4 .4 -.2 .4 -.2 .6 -.4 .6 -.3 .4 -.3 .4 -.3 .5 -.3 .6 -.4 .5 -.4 .4 -.3 .4 -.2 .6 -.3 .6 -.3 .4 -.2 .8 -.2 .4 -.1 .8 -.1 .8 0 .4 .1 .8 .3 .4 .2 .4 .3 .7 .4 .5 .2 .4 .2 .8 .4 .4 .2 .5 .2 .7 .4 .4 .2 .4 .2 .5 .3 .6 .4 .5 .3 .4 .3 .4 .3 .4 .3 .5 .4 .5 .4 .5 .4 .4 .4 .4 .4 .4 .4 .4 .4 .4 .4 .3 .4 .3 .4 .3 .4 .4 .6 .4 .6 .2 .4 .2 .4 .4 .8 .1 .4 .2 .8 .1 .8 .0 .8 .0 .8 .0 .8 .0 .8 .0 .4 .1 .8 .1 .8 .0 .8 .0 .8 .0 .8 .0 .8 .0 .8 .0 .8 .0 .8 .0 .8 .0 .8 .0 .8 .0 .8 .0 .8 .0 .8 .0 .4 .1 .8 .1 .8 .0 .8 .0 .8 .0 .8 .0 .8 .0 .8 0 .8 0 .8 0 .8 0 .8 0 .8 0 .8 -.1 .8 -.1 .7 -.1 .5 -.1 .8 -.1 .8 -.1 .8 -.1 .4 -.1 .8 -.2 .8 -.1 .4 -.1 .8 -.2 .8 -.1 .4 -.2 .8 -.2 .7 -.1 .5 -.2 .8 -.1 .5 -.1 .7 -.1 .8 -.1 .7 -.1 .5 -.2 .8 -.1 .7 -.1 .5 -.2 .8 -.1 .5 -.2 .7 -.2 .8 -.1 .4 -.2 .8 -.1 .4 -.2 .8 -.2 .7 -.1 .5 -.2 .8 -.1 .4 -.2 .8 -.1 .4 -.3 .8 -.1 .4 -.3 .8 -.1 .4 -.2 .8 -.2 .8 -.1 .4 -.2 .8 -.1 .4 -.3 .8 -.1 .4 -.3 .8 -.1 .4 -.2 .8 -.1 .4 .0 0M173.8 122.6l.5 -.2 .5 -.2 .6 -.4 .4 -.4 .2 -.4 .0 -.8 -.1 -.4 -.4 -.6 -.4 -.4 -.4 -.3 -.8 -.4 -.4 -.1 -.8 -.1 -.8 0 -.8 .2 -.4 .1 -.7 .3 -.5 .3 -.4 .3 -.4 .3 -.4 .4 -.4 .7 -.1 .4 .1 .5 .4 .5 .4 .2 .8 .3 .4 .1 .8 .2 .8 .1 .8 0 .8 -.1 .7 -.2 .0 0M195.1 129.4l-.8 .1 -.8 0 -.8 0 -.8 0 -.8 0 -.8 0 -.8 0 -.8 0 -.8 0 -.8 0 -.8 0 -.8 0 -.8 0 -.8 0 -.8 0 -.8 0 -.8 0 -.8 0 -.8 0 -.8 0 -.8 0 -.8 0 -.8 0 -.8 0 -.8 0 -.8 0 -.8 0 -.8 0 -.8 -.0 -.8 -.0 -.8 -.0 -.8 -.0 -.8 -.0 -.8 -.0 -.8 -.0 -.8 -.0 -.8 0 -.8 0 -.8 0 -.8 0 -.8 0 -.8 0 -.8 -.0 -.8 -.0 -.8 -.0 -.8 -.0 -.5 -.1 .0 -.8 .0 -.8 .0 -.8 .0 -.8 .0 -.8 .0 -.8 .0 -.8 0 -.8 0 -.8 0 -.8 0 -.8 0 -.8 0 -.8 0 -.8 0 -.8 0 -.8 0 -.8 0 -.8 0 -.8 0 -.8 0 -.8 0 -.8 0 -.8 .0 -.8 0 -.8 0 -.8 0 -.8 0 -.8 0 -.8 0 -.8 0 -.8 .0 -.8 .0 -.8 .0 -.8 .0 -.8 .0 -.8 .0 -.8 .0 -.8 .0 -.8 .0 -.8 0 -.8 0 -.8 0 -.8 0 -.8 .0 -.8 .0 -.8 .0 -.8 .0 -.8 .0 -.8 .0 -.8 .0 -.8 .0 -.8 0 -.8 0 -.8 0 -.8 0 -.8 .0 -.8 .0 -.8 .0 -.8 .0 -.8 0 -.8 0 -.8 0 -.8 0 -.8 .0 -.8 .0 -.8 .0 -.8 .0 -.8 .0 -.8 .0 -.8 .0 -.8 .0 -.8 .0 -.8 .0 -.8 .0 -.8 .0 -.8 .0 -.8 .1 -.8 .4 -.4 .4 -.0 .8 -.1 .8 -.1 .8 -.1 .5 -.1 .7 -.1 .8 -.1 .8 -.1 .4 -.1 .8 -.1 .8 -.2 .4 -.1 .8 -.3 .4 -.1 .8 -.3 .4 -.1 .8 -.3 .4 -.2 .7 -.3 .5 -.3 .4 -.2 .5 -.3 .7 -.4 .4 -.2 .4 -.2 .8 -.4 .4 -.2 .4 -.2 .6 -.4 .6 -.4 .4 -.3 .4 -.3 .4 -.3 .5 -.3 .6 -.4 .5 -.3 .4 -.2 .5 -.3 .7 -.4 .4 -.2 .4 -.3 .5 -.3 .6 -.4 .6 -.4 .4 -.3 .4 -.2 .6 -.3 .6 -.3 .4 -.1 .8 -.2 .8 -.0 .8 .1 .8 .2 .4 .1 .8 .2 .4 .1 .8 .3 .4 .2 .6 .3 .6 .3 .4 .2 .6 .3 .6 .3 .4 .2 .4 .3 .5 .4 .6 .4 .5 .4 .4 .3 .4 .3 .4 .3 .4 .4 .4 .4 .4 .4 .4 .4 .4 .4 .4 .4 .4 .5 .4 .5 .3 .5 .3 .4 .2 .4 .4 .7 .2 .5 .2 .4 .3 .8 .1 .7 .1 .5 .0 .8 .0 .8 .0 .8 .0 .8 .0 .8 .1 .8 .1 .8 .0 .8 .0 .8 .0 .8 .0 .8 0 .8 0 .8 0 .8 .0 .8 .0 .8 .0 .4 .0 .8 .0 .8 .0 .8 .1 .8 .1 .8 .1 .8 .0 .8 .0 .4 .0 .8 0 .8 0 .5 0 .7 0 .8 0 .8 0 .8 0 .8 0 .8 0 .8 -.1 .8 -.1 .8 -.1 .4 -.1 .8 -.1 .8 -.1 .8 -.1 .4 -.1 .8 -.1 .8 -.1 .5 -.1 .7 -.2 .8 -.1 .4 -.2 .8 -.2 .8 -.1 .4 -.2 .8 -.2 .8 -.1 .4 -.1 .8 -.2 .8 -.1 .4 -.2 .8 -.2 .8 -.1 .4 -.2 .8 -.1 .5 -.2 .7 -.2 .8 -.1 .4 -.2 .8 -.1 .4 -.2 .8 -.1 .4 -.2 .8 -.2 .7 -.1 .5 -.3 .8 -.1 .4 -.3 .8 -.1 .4 -.2 .8 -.1 .4 -.2 .8 -.1 .4 -.3 .8 -.1 .4 -.3 .8 -.2 .4 -.3 .8 -.1 .4 -.3 .7 -.1 .5 -.3 .4 .0 0M167.7 127.8l.6 -.3 .4 -.1 .8 -.2 .6 -.2 .6 -.2 .8 -.2 .4 -.1 .8 -.3 .4 -.2 .4 -.2 .8 -.3 .4 -.1 .8 -.1 .8 -.1 .7 -.2 .5 -.3 .4 -.4 .3 -.5 .2 -.4 .2 -.8 .1 -.4 .1 -.8 0 -.8 -.1 -.5 -.3 -.7 -.2 -.4 -.3 -.4 -.4 -.4 -.5 -.4 -.5 -.4 -.6 -.4 -.4 -.2 -.4 -.2 -.8 -.3 -.4 -.1 -.8 -.2 -.8 -.1 -.8 -.1 -.4 -.0 -.8 0 -.4 0 -.8 .2 -.6 .2 -.6 .2 -.6 .2 -.6 .2 -.4 .2 -.6 .4 -.6 .4 -.4 .3 -.4 .2 -.5 .3 -.7 .3 -.4 .2 -.4 .3 -.4 .4 -.4 .7 -.2 .5 -.2 .8 -.1 .4 -.2 .8 -.1 .4 .0 .8 .3 .4 .5 .3 .8 .1 .8 -.1 .8 .1 .4 .2 .4 .3 .4 .5 .2 .6 .2 .6 .3 .6 .5 .4 .8 -.1 .6 -.2 .0 0M194.3 129.4l-.8 .1 -.8 0 -.8 0 -.8 0 -.8 0 -.8 0 -.8 0 -.8 0 -.8 0 -.8 0 -.8 0 -.8 0 -.8 0 -.8 0 -.8 0 -.8 0 -.8 0 -.8 0 -.8 0 -.8 -.0 -.8 -.0 -.8 -.0 -.8 -.0 -.8 -.0 -.8 -.0 -.6 -.0 .4 -.4 .5 -.4 .4 -.3 .4 -.3 .4 -.3 .5 -.3 .7 -.4 .4 -.2 .4 -.3 .5 -.4 .5 -.4 .4 -.4 .3 -.4 .3 -.5 .3 -.7 .1 -.4 .2 -.8 .1 -.8 .0 -.8 -.1 -.8 -.2 -.8 -.2 -.4 -.2 -.4 -.4 -.5 -.4 -.4 -.4 -.4 -.4 -.3 -.6 -.4 -.6 -.3 -.4 -.2 -.4 -.2 -.7 -.4 -.5 -.2 -.4 -.2 -.8 -.2 -.8 -.1 -.7 -.1 -.5 -.1 -.8 -.1 -.8 -.1 -.8 -.1 -.8 0 -.8 .1 -.8 .1 -.7 .1 -.5 0 -.8 .1 -.8 .1 -.8 .1 -.8 .1 -.4 .1 -.8 .1 -.8 0 -.8 .2 -.4 .4 -.2 .4 -.2 .8 -.2 .4 -.3 .4 -.5 .4 -.3 0 0 -.8 0 -.8 0 -.8 0 -.8 0 -.8 0 -.8 0 -.8 0 -.8 0 -.8 .0 -.8 0 -.8 0 -.8 0 -.8 0 -.8 0 -.8 0 -.8 0 -.8 0 -.8 0 -.8 .0 -.8 .0 -.8 .0 -.8 .0 -.8 .0 -.8 .0 -.8 .0 -.8 0 -.8 0 -.8 0 -.8 0 -.8 .0 -.8 .0 -.8 .0 -.8 .0 -.8 .0 -.8 .0 -.8 .0 -.8 .0 -.8 0 -.8 0 -.8 0 -.8 0 -.8 .0 -.8 .0 -.8 .0 -.8 .0 -.8 0 -.8 0 -.8 0 -.8 0 -.8 0 -.8 .0 -.8 .0 -.8 .0 -.8 .0 -.8 .0 -.8 .0 -.8 .0 -.8 .0 -.8 .0 -.8 .0 -.8 .0 -.8 .4 -.4 .4 -.1 .8 -.2 .8 -.1 .4 -.1 .8 -.1 .8 -.1 .8 -.1 .4 -.1 .8 -.2 .7 -.2 .5 -.2 .6 -.2 .6 -.2 .4 -.2 .8 -.3 .4 -.1 .8 -.3 .4 -.1 .8 -.3 .4 -.2 .4 -.2 .5 -.4 .6 -.4 .5 -.3 .4 -.2 .4 -.2 .8 -.4 .4 -.2 .4 -.2 .6 -.4 .6 -.4 .4 -.3 .4 -.3 .4 -.3 .5 -.3 .6 -.4 .6 -.4 .4 -.2 .4 -.2 .7 -.4 .5 -.3 .4 -.2 .4 -.3 .6 -.4 .6 -.4 .4 -.3 .4 -.2 .6 -.3 .6 -.3 .4 -.2 .8 -.2 .8 -.1 .8 0 .8 .1 .8 .2 .4 .1 .8 .2 .4 .1 .8 .3 .4 .2 .7 .3 .5 .3 .4 .2 .5 .3 .6 .4 .5 .3 .4 .3 .4 .3 .4 .3 .5 .4 .5 .4 .4 .4 .4 .4 .4 .4 .4 .4 .4 .4 .3 .4 .3 .4 .4 .5 .4 .6 .3 .4 .2 .4 .3 .7 .2 .5 .2 .5 .2 .7 .1 .8 .0 .8 .0 .8 .0 .8 .0 .8 .0 .4 .1 .8 .1 .8 .1 .8 .0 .8 .0 .8 0 .8 0 .8 0 .8 0 .8 .0 .8 .0 .8 .1 .8 .0 .8 .0 .8 .0 .8 .0 .4 .1 .8 .1 .8 .1 .8 .0 .8 .0 .8 0 .8 0 .8 0 .8 0 .8 0 .8 0 .8 0 .8 0 .8 -.1 .8 -.1 .8 -.1 .4 -.1 .8 -.1 .8 -.1 .8 -.1 .4 -.1 .8 -.1 .8 -.1 .4 -.1 .8 -.2 .8 -.1 .4 -.2 .8 -.2 .8 -.1 .4 -.2 .8 -.1 .8 -.1 .4 -.1 .8 -.1 .8 -.1 .4 -.2 .8 -.2 .8 -.1 .4 -.2 .8 -.1 .4 -.2 .8 -.2 .7 -.1 .5 -.2 .8 -.1 .4 -.3 .8 -.1 .4 -.2 .8 -.1 .4 -.2 .8 -.2 .5 -.2 .7 -.2 .6 -.2 .6 -.2 .6 -.2 .6 -.2 .7 -.2 .5 -.2 .7 -.2 .5 -.2 .4 -.4 .8 -.2 .4 -.3 .7 -.2 .5 -.2 .5 -.2 .7 -.2 .4 .0 0M193.1 129.4l-.8 0 -.8 0 -.8 0 -.8 0 -.8 0 -.8 -.0 -.8 0 -.8 0 -.8 0 -.8 0 -.8 0 -.8 -.0 -.8 -.0 -.8 -.0 -.8 -.0 -.8 -.0 -.8 -.0 -.8 -.0 -.8 -.0 0 -.4 .3 -.4 .4 -.4 .4 -.4 .4 -.4 .4 -.4 .4 -.4 .4 -.4 .4 -.4 .4 -.4 .4 -.5 .3 -.4 .3 -.4 .2 -.5 .2 -.7 -.1 -.8 -.1 -.4 -.2 -.8 -.2 -.8 -.1 -.4 -.3 -.6 -.3 -.6 -.2 -.4 -.3 -.6 -.3 -.6 -.3 -.4 -.4 -.4 -.6 -.3 -.4 -.1 -.8 -.3 -.4 -.2 -.7 -.3 -.5 -.3 -.4 -.2 -.5 -.3 -.7 -.3 -.6 -.1 -.6 -.1 -.8 -.2 -.6 -.1 -.6 -.1 -.8 -.2 -.5 -.1 -.7 -.2 -.8 -.1 -.8 -.0 -.8 0 -.8 -.0 -.4 -.0 -.8 -.2 -.6 -.2 -.6 -.2 -.5 -.2 -.7 -.2 -.8 -.1 -.8 .2 -.4 .2 -.8 .3 -.4 .1 -.8 .1 -.8 -.1 -.4 -.1 0 -.8 0 -.8 .0 -.8 0 -.8 0 -.8 0 -.8 0 -.8 0 -.8 0 -.8 0 -.8 0 -.8 .0 -.8 .0 -.8 .0 -.8 .0 -.8 .0 -.8 .0 -.8 .0 -.8 .0 -.8 0 -.8 0 -.8 0 -.8 .0 -.8 .0 -.8 .0 -.8 .0 -.8 .0 -.8 .0 -.4 .8 -.3 .4 -.3 .3 -.5 .0 -.8 -.3 -.8 -.3 -.4 -.5 -.4 -.4 -.2 0 -.7 0 -.8 0 -.8 .0 -.8 .0 -.8 .0 -.8 .0 -.8 0 -.8 0 -.8 0 -.8 0 -.8 .0 -.8 .0 -.8 .0 -.8 .0 -.8 .0 -.8 .0 -.8 .0 -.8 .0 -.8 .4 -.3 .4 -.4 .4 -.4 .4 -.3 .4 -.3 .8 -.3 .4 -.1 .8 -.2 .7 -.1 .5 -.1 .8 -.1 .7 -.2 .5 -.2 .4 -.2 .6 -.3 .6 -.3 .4 -.2 .7 -.3 .5 -.2 .6 -.2 .6 -.2 .4 -.2 .7 -.4 .5 -.3 .4 -.3 .4 -.3 .4 -.3 .5 -.4 .6 -.4 .4 -.3 .4 -.2 .6 -.3 .6 -.4 .4 -.3 .4 -.3 .4 -.3 .5 -.4 .5 -.4 .5 -.4 .4 -.3 .4 -.3 .5 -.3 .7 -.4 .4 -.3 .4 -.2 .5 -.3 .7 -.4 .4 -.2 .4 -.2 .5 -.3 .7 -.4 .4 -.2 .4 -.2 .8 -.3 .4 -.1 .8 -.1 .8 0 .8 .1 .6 .1 .6 .1 .8 .2 .4 .1 .8 .3 .4 .2 .7 .3 .5 .3 .4 .2 .5 .3 .6 .4 .5 .4 .4 .3 .4 .3 .4 .3 .4 .3 .4 .4 .4 .4 .4 .4 .4 .4 .4 .4 .4 .4 .4 .5 .4 .6 .3 .5 .2 .4 .2 .5 .3 .7 .2 .4 .3 .8 .1 .4 .1 .8 .0 .8 .0 .8 .0 .8 .0 .8 .0 .4 .1 .8 .1 .8 .1 .8 .0 .8 0 .8 0 .8 0 .8 0 .8 0 .8 .0 .8 .0 .8 .1 .8 .0 .8 .0 .8 .0 .8 .0 .4 .1 .8 .1 .8 .1 .8 .0 .8 .0 .8 0 .8 0 .8 0 .8 0 .8 0 .8 0 .8 0 .8 0 .8 -.1 .8 -.1 .8 -.1 .4 -.1 .8 -.1 .8 -.1 .7 -.1 .5 -.1 .8 -.1 .8 -.1 .4 -.1 .8 -.2 .8 -.1 .4 -.2 .8 -.2 .8 -.1 .4 -.2 .8 -.1 .7 -.1 .5 -.1 .8 -.1 .8 -.1 .4 -.2 .8 -.2 .7 -.1 .5 -.2 .8 -.1 .4 -.2 .8 -.1 .6 -.2 .6 -.2 .7 -.2 .5 -.2 .5 -.3 .7 -.1 .5 -.2 .7 -.2 .8 -.1 .4 -.2 .8 -.1 .4 -.3 .8 -.1 .4 -.3 .8 -.1 .4 -.3 .8 -.2 .4 -.2 .5 -.3 .7 -.2 .4 -.3 .5 -.3 .7 -.2 .4 -.3 .6 -.2 .6 -.2 .6 -.4 .3 .0 0M191.9 129.4l-.8 0 -.8 0 -.8 0 -.8 -.0 -.8 -.0 -.8 0 -.8 0 -.8 0 -.8 -.0 -.8 -.0 -.8 -.0 -.8 -.0 -.5 -.0 .1 -.4 .3 -.8 .2 -.4 .3 -.4 .4 -.4 .4 -.5 .4 -.5 .4 -.5 .3 -.5 .2 -.4 .2 -.8 0 -.8 -.1 -.8 -.1 -.4 -.2 -.8 -.2 -.5 -.2 -.7 -.2 -.4 -.4 -.7 -.3 -.5 -.3 -.4 -.3 -.4 -.4 -.6 -.3 -.6 -.2 -.4 -.3 -.4 -.5 -.4 -.6 -.3 -.5 -.1 -.7 -.1 -.8 -.2 -.4 -.1 -.7 -.3 -.5 -.3 -.4 -.2 -.7 -.3 -.5 -.1 -.8 -.2 -.4 -.1 -.8 -.3 -.4 -.2 -.5 -.3 -.6 -.4 -.5 -.3 -.4 -.2 -.8 -.3 -.4 -.1 -.8 -.1 -.8 -.0 -.8 -.1 -.4 -.2 -.5 -.3 -.5 -.4 -.4 -.4 -.3 -.4 -.3 -.6 -.3 -.6 -.2 -.4 -.3 -.4 -.5 -.4 -.7 -.2 -.8 0 -.8 .1 -.8 -.1 -.5 -.3 -.4 -.4 -.3 -.5 -.3 -.7 -.1 -.8 .2 -.8 .2 -.4 .4 -.8 .1 -.4 .1 -.8 .1 -.8 .2 -.6 .4 -.6 .3 -.4 .4 -.4 .3 -.4 .2 -.5 .2 -.7 .1 -.8 0 -.8 -.1 -.8 .0 -.8 .2 -.8 .2 -.4 .3 -.7 .1 -.5 .1 -.8 0 -.8 0 -.8 0 -.8 -.2 -.8 -.2 -.4 -.2 -.4 -.4 -.6 -.3 -.6 -.1 -.4 -.2 -.8 -.1 -.5 -.2 -.7 -.2 -.8 -.1 -.4 -.3 -.8 -.2 -.4 -.3 -.4 -.3 -.4 -.4 -.8 .2 -.8 .2 -.4 .4 -.6 .3 -.6 .1 -.5 .1 -.7 .2 -.8 .2 -.4 .3 -.5 .4 -.6 .4 -.4 .4 -.3 .4 -.2 .8 -.3 .4 -.1 .8 -.3 .4 -.2 .5 -.3 .6 -.4 .5 -.4 .4 -.2 .4 -.2 .8 -.4 .4 -.2 .4 -.2 .7 -.4 .4 -.2 .4 -.2 .5 -.3 .6 -.4 .5 -.4 .4 -.3 .4 -.3 .4 -.3 .4 -.3 .5 -.3 .6 -.4 .5 -.3 .4 -.2 .4 -.3 .6 -.4 .5 -.4 .5 -.4 .4 -.3 .4 -.3 .4 -.3 .6 -.4 .6 -.4 .4 -.2 .4 -.2 .6 -.3 .6 -.4 .4 -.2 .4 -.2 .6 -.4 .6 -.4 .4 -.2 .4 -.2 .7 -.4 .5 -.2 .8 -.2 .4 -.1 .8 -.0 .8 0 .4 0 .8 .1 .8 .2 .4 .1 .8 .3 .4 .2 .7 .4 .5 .3 .4 .2 .5 .3 .6 .4 .5 .3 .4 .3 .4 .3 .4 .3 .4 .4 .4 .4 .4 .4 .4 .4 .4 .4 .4 .5 .4 .5 .4 .5 .3 .4 .2 .4 .3 .6 .3 .6 .2 .4 .3 .8 .1 .4 .2 .8 .1 .8 .0 .8 .0 .8 .0 .8 .0 .4 .1 .8 .1 .8 .1 .8 .0 .8 0 .8 0 .8 0 .8 0 .8 0 .8 .0 .8 .1 .8 .1 .8 .1 .8 .0 .7 .0 .5 .1 .8 .1 .8 .1 .8 .1 .8 .0 .4 .0 .8 0 .8 0 .8 0 .4 0 .8 0 .8 0 .8 0 .8 0 .8 0 .8 -.1 .8 -.1 .8 -.1 .4 -.1 .8 -.1 .8 -.1 .8 -.1 .4 -.1 .8 -.1 .8 -.1 .5 -.1 .7 -.2 .8 -.1 .6 -.2 .6 -.2 .8 -.1 .4 -.2 .8 -.1 .8 -.1 .4 -.1 .8 -.1 .8 -.1 .4 -.2 .8 -.2 .8 -.1 .4 -.2 .8 -.1 .4 -.2 .8 -.1 .5 -.2 .7 -.2 .6 -.3 .6 -.2 .4 -.3 .8 -.1 .4 -.2 .8 -.1 .4 -.2 .8 -.1 .5 -.2 .7 -.2 .5 -.3 .7 -.1 .4 -.3 .8 -.2 .4 -.3 .7 -.3 .5 -.2 .4 -.2 .4 -.4 .7 -.3 .5 -.2 .4 -.3 .5 -.4 .6 -.3 .5 -.2 .4 -.2 .4 .0 0M190.7 127.5l-.8 .1 -.4 -.3 -.3 -.7 -.1 -.8 0 -.4 -.4 -.8 -.4 -.2 -.7 -.2 -.4 -.4 -.2 -.4 0 -.8 .1 -.8 .0 -.4 .0 -.8 -.1 -.4 -.4 -.7 -.4 -.4 -.4 -.4 -.4 -.4 -.4 -.4 -.4 -.4 -.4 -.4 -.4 -.4 -.4 -.4 -.3 -.4 -.3 -.4 -.4 -.4 -.5 -.4 -.5 -.3 -.4 -.2 -.8 -.3 -.4 -.1 -.8 -.2 -.4 -.1 -.8 -.3 -.4 -.2 -.4 -.2 -.8 -.4 -.4 -.2 -.8 -.3 -.4 -.1 -.7 -.3 -.5 -.3 -.4 -.3 -.4 -.3 -.4 -.3 -.5 -.3 -.7 -.4 -.4 -.2 -.7 -.3 -.5 -.2 -.5 -.2 -.7 -.3 -.4 -.2 -.5 -.3 -.6 -.4 -.4 -.4 -.4 -.4 -.3 -.4 -.3 -.4 -.3 -.4 -.4 -.4 -.5 -.4 -.6 -.4 -.5 -.3 -.4 -.3 -.4 -.5 -.1 -.4 .0 -.4 .2 -.8 .1 -.8 .1 -.8 .1 -.4 .3 -.7 .3 -.5 .3 -.4 .2 -.4 .2 -.8 -.1 -.8 -.1 -.4 -.3 -.8 -.1 -.6 0 -.6 .0 -.5 .2 -.7 .2 -.4 .4 -.8 .2 -.4 .3 -.7 .2 -.5 .2 -.6 .2 -.6 -.1 -.8 -.2 -.4 -.3 -.5 -.4 -.6 -.3 -.5 -.2 -.4 -.3 -.7 -.2 -.5 -.2 -.8 -.1 -.4 -.1 -.8 -.2 -.8 0 -.8 .3 -.8 .3 -.4 .3 -.4 .3 -.8 .0 -.3 -.1 -.5 -.2 -.8 -.1 -.4 -.1 -.8 .1 -.8 .1 -.4 .3 -.8 .3 -.4 .3 -.4 .4 -.4 .5 -.4 .5 -.4 .4 -.4 .4 -.3 .4 -.2 .8 -.3 .4 -.1 .8 -.3 .4 -.3 .4 -.4 .4 -.4 .4 -.4 .4 -.4 .4 -.4 .4 -.3 .4 -.3 .4 -.3 .4 -.3 .4 -.3 .5 -.3 .6 -.4 .6 -.4 .4 -.3 .4 -.3 .4 -.3 .5 -.4 .5 -.4 .5 -.4 .5 -.3 .4 -.3 .4 -.3 .5 -.3 .7 -.4 .4 -.3 .4 -.2 .5 -.3 .7 -.4 .5 -.3 .4 -.2 .5 -.3 .7 -.4 .4 -.2 .4 -.2 .8 -.3 .4 -.2 .8 -.2 .8 -.0 .8 0 .8 .1 .8 .1 .7 .2 .5 .1 .7 .3 .5 .2 .4 .2 .7 .4 .5 .3 .4 .3 .4 .3 .5 .3 .5 .4 .5 .4 .4 .4 .4 .4 .4 .4 .4 .4 .3 .4 .3 .4 .3 .4 .4 .5 .4 .6 .3 .5 .2 .4 .4 .8 .2 .4 .2 .7 .2 .5 .1 .8 .1 .8 .0 .8 .0 .4 .0 .8 .1 .8 .1 .8 .1 .8 .0 .8 .0 .8 0 .8 0 .8 0 .8 0 .8 0 .8 .0 .8 .1 .8 .0 .5 .1 .7 .0 .8 .0 .8 .1 .8 .1 .8 .1 .4 .1 .8 .1 .8 .0 .8 0 .8 0 .8 0 .8 0 .7 0 .5 0 .8 0 .8 0 .8 -.1 .8 -.1 .8 -.1 .8 -.1 .4 -.1 .8 -.1 .8 -.1 .8 -.1 .4 -.1 .8 -.1 .8 -.1 .5 -.1 .7 -.2 .8 -.1 .4 -.2 .8 -.2 .7 -.1 .5 -.2 .8 -.1 .8 -.1 .4 -.1 .8 -.2 .8 -.1 .4 -.2 .8 -.1 .5 -.2 .7 -.2 .6 -.1 .6 -.2 .8 -.1 .4 -.3 .8 -.2 .4 -.3 .5 -.4 .7 -.2 .4 -.2 .6 -.2 .6 -.2 .8 -.1 .4 -.2 .8 -.1 .4 -.3 .8 -.2 .4 -.3 .8 -.2 .4 -.2 .4 -.4 .5 -.4 .5 -.4 .5 -.4 .5 -.3 .4 -.3 .4 -.4 .4 -.5 .4 -.4 .3 -.4 .2 .0 0M193.1 123.1l-.6 -.1 -.5 -.4 -.4 -.4 -.5 -.3 -.4 -.3 -.4 -.3 -.4 -.4 -.3 -.7 -.1 -.4 -.2 -.8 -.2 -.4 -.4 -.5 -.5 -.3 -.7 -.3 -.4 -.2 -.6 -.3 -.6 -.4 -.4 -.4 -.4 -.4 -.4 -.3 -.4 -.3 -.4 -.3 -.4 -.3 -.6 -.4 -.6 -.3 -.4 -.2 -.6 -.3 -.6 -.3 -.4 -.2 -.8 -.3 -.4 -.2 -.7 -.3 -.5 -.2 -.4 -.2 -.8 -.4 -.4 -.2 -.4 -.2 -.8 -.4 -.4 -.2 -.4 -.3 -.4 -.4 -.4 -.4 -.4 -.4 -.5 -.4 -.6 -.4 -.4 -.3 -.4 -.3 -.4 -.4 -.4 -.5 -.4 -.4 -.4 -.4 -.4 -.3 -.4 -.3 -.4 -.5 -.2 -.6 0 -.8 -.1 -.8 -.2 -.4 -.3 -.4 -.3 -.5 -.1 -.7 .1 -.4 .2 -.8 .1 -.8 -.1 -.8 -.2 -.5 -.2 -.7 -.2 -.4 -.4 -.8 -.3 -.4 -.3 -.4 -.3 -.5 -.1 -.7 .1 -.4 .3 -.6 .3 -.6 .1 -.4 .2 -.8 .2 -.5 .2 -.7 .2 -.8 .1 -.4 .0 -.8 -.1 -.6 -.2 -.6 -.3 -.4 -.3 -.4 -.4 -.5 -.3 -.7 .1 -.8 .2 -.8 .0 -.8 -.1 -.8 -.1 -.8 .1 -.8 .0 -.8 -.1 -.8 -.2 -.8 0 -.8 .3 -.8 .3 -.4 .3 -.4 .3 -.8 .1 -.4 .3 -.8 .3 -.4 .5 -.4 .4 -.2 .6 -.2 .6 -.2 .4 -.2 .5 -.4 .3 -.4 .4 -.8 .2 -.4 .3 -.6 .4 -.6 .3 -.4 .4 -.4 .4 -.4 .4 -.4 .4 -.3 .4 -.3 .4 -.3 .4 -.3 .5 -.4 .5 -.4 .5 -.4 .5 -.4 .4 -.3 .4 -.3 .4 -.3 .4 -.3 .5 -.3 .7 -.4 .4 -.2 .4 -.2 .6 -.3 .6 -.4 .4 -.3 .4 -.2 .5 -.3 .7 -.4 .4 -.3 .4 -.2 .6 -.3 .6 -.3 .4 -.1 .8 -.2 .8 -.1 .8 -.0 .8 0 .8 .1 .6 .1 .6 .2 .6 .2 .6 .2 .4 .2 .6 .4 .6 .3 .4 .3 .4 .3 .5 .3 .5 .4 .4 .4 .4 .4 .4 .4 .3 .4 .3 .4 .4 .4 .4 .5 .4 .5 .4 .6 .2 .4 .2 .4 .4 .8 .2 .4 .3 .7 .1 .5 .2 .8 .1 .8 .0 .4 .0 .8 .0 .8 .1 .8 .1 .8 .1 .8 .0 .4 .0 .8 0 .8 0 .7 0 .5 0 .8 0 .8 0 .8 .0 .8 .1 .5 .1 .7 .1 .8 .0 .8 .0 .8 .1 .8 .1 .6 .1 .6 .1 .8 .1 .8 .0 .8 0 .8 0 .8 -.1 .8 0 .8 0 .8 0 .8 0 .8 0 .8 0 .4 -.1 .8 -.1 .8 -.1 .7 -.1 .5 -.1 .8 -.1 .8 -.1 .5 -.1 .7 -.1 .8 -.1 .8 -.1 .4 -.2 .8 -.2 .7 -.1 .5 -.2 .8 -.1 .4 -.2 .8 -.1 .8 -.1 .5 -.1 .7 -.2 .8 -.1 .5 -.2 .7 -.2 .5 -.2 .7 -.2 .7 -.1 .5 -.2 .8 -.1 .4 -.3 .8 -.2 .4 -.3 .4 -.3 .4 -.4 .6 -.3 .6 -.2 .4 -.2 .8 -.1 .4 -.2 .8 -.2 .6 -.2 .6 -.2 .4 -.4 .8 -.3 .4 -.5 .4 -.4 .1 .0 0M192.7 119.9l-.5 -.1 -.7 -.4 -.4 -.4 -.3 -.4 -.2 -.4 -.3 -.5 -.4 -.5 -.4 -.3 -.6 -.3 -.6 -.1 -.8 -.2 -.4 -.2 -.4 -.2 -.5 -.4 -.4 -.4 -.5 -.4 -.6 -.4 -.4 -.2 -.4 -.2 -.7 -.3 -.5 -.2 -.5 -.2 -.7 -.3 -.4 -.2 -.7 -.3 -.5 -.3 -.4 -.2 -.6 -.3 -.6 -.3 -.4 -.2 -.7 -.3 -.5 -.2 -.4 -.2 -.5 -.3 -.5 -.4 -.5 -.4 -.4 -.4 -.4 -.4 -.3 -.4 -.3 -.4 -.3 -.5 -.4 -.7 -.2 -.4 -.3 -.5 -.4 -.5 -.4 -.4 -.4 -.4 -.4 -.4 -.4 -.6 -.2 -.4 -.3 -.7 -.2 -.5 -.2 -.5 -.2 -.7 -.1 -.8 0 -.8 -.1 -.5 -.2 -.7 -.2 -.7 -.1 -.5 -.2 -.8 -.1 -.7 -.1 -.5 -.1 -.8 -.1 -.8 0 -.8 .0 -.8 .0 -.8 .1 -.8 .1 -.8 .1 -.5 .1 -.7 .1 -.8 0 -.8 -.2 -.8 -.2 -.4 -.3 -.8 -.1 -.4 -.1 -.8 .1 -.8 .2 -.5 .4 -.6 .4 -.4 .4 -.4 .4 -.5 .2 -.4 .2 -.4 .2 -.8 -.1 -.8 -.2 -.4 -.3 -.6 -.2 -.6 0 -.8 .2 -.8 .3 -.4 .4 -.4 .4 -.4 .4 -.4 .4 -.4 .3 -.4 .2 -.4 .4 -.8 .1 -.4 .2 -.8 .1 -.4 .3 -.6 .4 -.5 .4 -.4 .4 -.3 .4 -.3 .4 -.3 .5 -.4 .4 -.4 .4 -.4 .4 -.4 .4 -.4 .4 -.4 .4 -.4 .4 -.4 .5 -.4 .6 -.4 .4 -.2 .4 -.2 .7 -.4 .5 -.3 .4 -.3 .4 -.3 .6 -.4 .6 -.4 .4 -.2 .4 -.2 .6 -.3 .6 -.3 .4 -.2 .8 -.3 .4 -.1 .8 -.1 .8 -.0 .8 0 .8 .1 .4 .1 .8 .2 .5 .2 .7 .3 .4 .2 .5 .3 .7 .4 .4 .3 .4 .3 .4 .3 .5 .4 .4 .4 .4 .4 .3 .4 .4 .5 .4 .5 .4 .5 .4 .5 .3 .4 .3 .4 .3 .5 .3 .7 .2 .4 .3 .8 .1 .4 .2 .8 .1 .6 .1 .6 .1 .8 .1 .8 .1 .8 .1 .8 .1 .4 .1 .8 .0 .8 0 .8 0 .8 0 .8 0 .8 0 .4 0 .8 .0 .5 .1 .7 .1 .8 .1 .8 .1 .8 .0 .8 .0 .4 .1 .8 .1 .8 .1 .8 .1 .8 .0 .4 0 .6 0 .6 -.1 .8 -.1 .8 -.1 .8 0 .8 0 .8 0 .8 0 .8 -.1 .8 -.1 .4 -.1 .8 -.1 .8 -.1 .4 -.1 .8 -.1 .8 -.1 .8 -.1 .4 -.1 .8 -.1 .8 -.1 .6 -.1 .6 -.2 .8 -.1 .4 -.2 .8 -.1 .4 -.2 .8 -.1 .8 -.1 .8 -.1 .4 -.2 .8 -.2 .6 -.2 .6 -.2 .5 -.2 .7 -.2 .7 -.1 .5 -.2 .8 -.1 .4 -.3 .7 -.4 .5 -.4 .4 -.4 .4 -.4 .4 -.4 .4 -.3 .4 -.3 .4 -.3 .4 -.4 .6 -.4 .6 -.4 .4 -.4 .1 .0 0M193.1 117.1l-.8 -.0 -.4 -.3 -.4 -.5 -.3 -.5 -.1 -.5 -.2 -.7 -.2 -.5 -.4 -.4 -.5 .1 -.3 .4 -.4 .5 -.4 .3 -.8 .1 -.4 -.1 -.6 -.4 -.4 -.4 -.4 -.4 -.5 -.4 -.5 -.3 -.4 -.2 -.8 -.3 -.4 -.1 -.8 -.2 -.4 -.1 -.8 -.4 -.4 -.2 -.4 -.2 -.5 -.4 -.6 -.4 -.4 -.2 -.4 -.2 -.8 -.3 -.4 -.2 -.5 -.3 -.5 -.4 -.5 -.4 -.5 -.4 -.4 -.4 -.3 -.4 -.3 -.4 -.2 -.6 -.2 -.6 -.2 -.8 -.1 -.4 -.3 -.5 -.4 -.4 -.4 -.4 -.4 -.4 -.4 -.6 -.2 -.5 -.1 -.8 -.1 -.4 -.3 -.8 -.1 -.4 -.2 -.8 -.2 -.5 -.2 -.7 -.2 -.6 -.2 -.6 -.2 -.8 -.1 -.4 -.2 -.8 -.1 -.5 -.1 -.7 -.1 -.8 -.1 -.8 0 -.8 .0 -.8 .1 -.8 .2 -.8 .1 -.4 .2 -.8 .1 -.4 .1 -.8 0 -.8 -.2 -.5 -.3 -.7 -.2 -.4 -.2 -.8 .2 -.8 .3 -.4 .4 -.4 .3 -.4 .3 -.4 .4 -.7 .2 -.4 .2 -.5 .2 -.7 .1 -.8 -.2 -.8 -.1 -.5 -.1 -.7 .1 -.7 .3 -.5 .3 -.4 .4 -.4 .4 -.4 .4 -.4 .3 -.4 .4 -.6 .2 -.6 .2 -.5 .2 -.7 .2 -.6 .4 -.6 .4 -.4 .4 -.4 .4 -.3 .4 -.4 .4 -.4 .3 -.5 .2 -.4 .3 -.7 .2 -.5 .3 -.4 .4 -.4 .5 -.4 .6 -.4 .5 -.3 .4 -.2 .7 -.3 .5 -.3 .4 -.2 .4 -.3 .6 -.4 .6 -.4 .4 -.2 .4 -.2 .5 -.3 .7 -.3 .4 -.2 .8 -.2 .4 -.1 .8 -.1 .8 -.0 .8 .1 .5 .1 .7 .2 .6 .2 .6 .2 .4 .2 .8 .4 .4 .3 .4 .2 .5 .3 .5 .4 .5 .4 .4 .4 .3 .4 .3 .4 .3 .4 .4 .5 .4 .5 .4 .5 .4 .5 .3 .4 .2 .4 .3 .7 .2 .5 .2 .5 .2 .7 .2 .8 .1 .4 .1 .8 .1 .8 .1 .8 .1 .8 .1 .4 .1 .8 .1 .8 .0 .8 0 .8 0 .8 0 .8 0 .8 0 .8 .1 .8 .1 .8 .1 .8 .1 .5 .1 .7 .0 .8 .1 .8 .1 .8 .1 .8 .1 .4 .1 .8 .0 .8 0 .8 -.1 .8 -.1 .7 0 .5 -.1 .8 0 .8 0 .8 0 .8 -.1 .8 -.1 .8 -.1 .4 -.1 .8 -.1 .8 -.1 .7 -.1 .5 -.1 .8 -.1 .8 -.1 .6 -.1 .6 -.2 .8 -.1 .5 -.2 .7 -.2 .6 -.2 .6 -.2 .6 -.1 .6 -.1 .8 -.1 .8 -.1 .7 -.1 .5 -.2 .8 -.2 .4 -.3 .8 -.1 .4 -.2 .8 -.1 .4 -.2 .8 -.2 .5 -.4 .7 -.4 .4 -.4 .3 -.4 .3 -.4 .2 -.6 .4 -.6 .4 -.5 .3 -.4 .2 .0 0M195.5 114.7l-.8 .2 -.8 0 -.8 -.3 -.4 -.3 -.4 -.4 -.4 -.5 -.4 -.5 -.3 -.4 -.4 -.4 -.5 -.3 -.4 -.1 -.4 .1 -.6 .4 -.5 .4 -.5 .3 -.8 -.1 -.4 -.2 -.8 -.3 -.4 -.1 -.8 -.2 -.4 -.1 -.8 -.2 -.7 -.2 -.5 -.2 -.4 -.2 -.6 -.4 -.5 -.4 -.4 -.3 -.4 -.3 -.4 -.2 -.8 -.3 -.4 -.2 -.4 -.2 -.6 -.4 -.5 -.4 -.5 -.4 -.4 -.4 -.3 -.4 -.2 -.4 -.2 -.8 -.1 -.7 -.1 -.5 -.3 -.5 -.4 -.5 -.4 -.5 -.3 -.5 -.1 -.4 .0 -.8 .1 -.4 0 -.7 -.2 -.5 -.3 -.4 -.4 -.4 -.3 -.4 -.4 -.5 -.4 -.7 -.2 -.4 -.3 -.8 -.1 -.4 -.2 -.8 -.1 -.4 -.2 -.8 -.1 -.8 .0 -.8 .1 -.8 .2 -.8 .1 -.4 .2 -.8 .1 -.8 .0 -.4 .1 -.8 .2 -.8 .2 -.4 .3 -.4 .4 -.4 .3 -.4 .2 -.8 -.3 -.7 -.4 -.3 -.4 -.4 -.2 -.5 .1 -.8 .1 -.4 .2 -.8 .1 -.4 .3 -.8 .2 -.4 .2 -.6 .2 -.6 .2 -.8 .0 -.4 .2 -.8 .2 -.5 .4 -.6 .3 -.5 .2 -.4 .2 -.4 .3 -.8 .2 -.4 .3 -.6 .3 -.6 .3 -.4 .3 -.4 .3 -.5 .4 -.7 .2 -.4 .2 -.4 .4 -.7 .2 -.5 .2 -.8 .1 -.4 .3 -.8 .3 -.4 .4 -.4 .6 -.4 .5 -.3 .4 -.2 .8 -.4 .4 -.2 .4 -.2 .5 -.3 .6 -.4 .5 -.3 .4 -.3 .4 -.3 .7 -.4 .5 -.3 .4 -.2 .8 -.2 .8 -.2 .4 -.0 .8 -.0 .4 0 .8 .2 .6 .2 .6 .3 .4 .2 .8 .4 .4 .2 .4 .2 .6 .4 .6 .4 .4 .4 .4 .4 .3 .4 .3 .4 .3 .4 .4 .6 .4 .5 .4 .4 .4 .5 .4 .5 .2 .4 .2 .4 .3 .8 .1 .4 .2 .8 .1 .4 .1 .8 .1 .8 .1 .8 .1 .7 .1 .5 .1 .8 .1 .8 .0 .8 0 .8 0 .8 0 .8 -.1 .8 0 .8 .0 .8 .1 .8 .1 .8 .1 .4 .1 .8 .1 .8 .1 .8 .1 .8 .1 .4 .1 .8 .1 .8 .1 .8 0 .8 0 .8 -.1 .8 -.1 .8 -.1 .8 0 .6 0 .6 0 .8 -.1 .8 -.1 .8 -.2 .8 -.1 .4 -.1 .8 -.1 .8 -.1 .8 -.1 .4 -.1 .8 -.1 .8 -.1 .7 -.1 .5 -.2 .8 -.1 .4 -.3 .8 -.2 .4 -.3 .8 -.1 .4 -.1 .8 0 .8 -.1 .8 -.1 .4 -.2 .8 -.1 .4 -.3 .8 -.2 .4 -.2 .8 -.1 .4 -.2 .8 -.2 .5 -.4 .7 -.4 .3 -.4 .2 .0 0M195.1 113.9l-.8 -.1 -.4 -.1 -.6 -.3 -.5 -.4 -.4 -.4 -.3 -.4 -.3 -.4 -.3 -.4 -.5 -.4 -.7 -.3 -.8 -.0 -.8 .2 -.4 .2 -.7 .3 -.5 .1 -.7 -.1 -.5 -.1 -.8 -.2 -.6 -.1 -.6 -.2 -.8 -.2 -.4 -.2 -.4 -.2 -.6 -.4 -.5 -.4 -.4 -.4 -.4 -.4 -.5 -.4 -.4 -.3 -.4 -.2 -.7 -.4 -.5 -.3 -.4 -.3 -.4 -.4 -.4 -.6 -.1 -.4 -.1 -.8 -.2 -.8 -.2 -.4 -.3 -.4 -.4 -.4 -.4 -.5 -.2 -.7 0 -.8 -.1 -.8 -.1 -.4 -.3 -.6 -.4 -.5 -.4 -.4 -.4 -.4 -.4 -.5 -.3 -.5 -.2 -.4 -.3 -.7 -.2 -.5 -.2 -.8 -.1 -.4 0 -.8 .1 -.8 .1 -.4 .2 -.8 .1 -.4 .2 -.8 .2 -.7 .1 -.5 .1 -.8 .2 -.7 .2 -.5 .2 -.4 .4 -.5 .4 -.7 .2 -.4 .2 -.8 .0 -.4 0 -.6 -.2 -.6 -.2 -.4 -.3 -.5 -.2 -.7 .0 -.8 .2 -.6 .3 -.6 .3 -.4 .4 -.4 .5 -.4 .5 -.4 .4 -.4 .3 -.4 .3 -.8 .0 -.4 0 -.7 0 -.5 .0 -.5 .2 -.7 .2 -.5 .4 -.5 .4 -.4 .4 -.4 .4 -.6 .1 -.4 .1 -.8 .1 -.8 .1 -.4 .3 -.8 .1 -.4 .2 -.8 .1 -.8 .1 -.4 .3 -.6 .4 -.4 .4 -.3 .8 -.4 .4 -.2 .6 -.3 .6 -.3 .4 -.2 .5 -.3 .6 -.4 .5 -.3 .4 -.2 .4 -.2 .7 -.4 .5 -.2 .4 -.2 .8 -.2 .8 -.1 .8 .1 .8 .2 .4 .2 .6 .3 .6 .3 .4 .2 .7 .3 .5 .3 .4 .3 .4 .3 .4 .4 .4 .5 .4 .7 .2 .4 .2 .4 .4 .4 .4 .4 .5 .4 .4 .4 .3 .4 .4 .7 .2 .5 .2 .4 .3 .8 .1 .5 .1 .7 .1 .8 .1 .8 .0 .4 .1 .8 .1 .8 .1 .8 .0 .8 0 .8 0 .8 -.1 .8 -.1 .8 0 .8 .0 .8 .1 .8 .1 .5 .1 .7 .1 .8 .1 .8 .1 .7 .0 .5 .1 .8 .1 .8 .1 .8 .1 .6 .0 .6 0 .8 0 .4 -.1 .8 -.1 .8 -.1 .8 0 .8 0 .8 0 .8 0 .4 -.1 .8 -.2 .8 -.1 .6 -.1 .6 -.1 .8 -.1 .8 -.1 .8 -.1 .4 -.1 .8 -.2 .8 -.1 .4 -.2 .8 -.1 .4 -.4 .8 -.2 .4 -.2 .5 -.3 .7 -.1 .7 0 .5 0 .8 -.1 .8 -.2 .8 -.2 .4 -.2 .5 -.3 .7 -.1 .4 -.2 .8 -.2 .6 -.3 .6 -.5 .4 -.4 .1 .0 0M195.1 112.7l-.8 -.0 -.4 -.2 -.4 -.3 -.4 -.6 -.2 -.6 -.1 -.8 -.1 -.4 -.8 -.2 -.8 .1 -.8 0 -.8 0 -.4 .1 -.8 .2 -.4 .2 -.8 .3 -.8 .1 -.8 -.1 -.8 -.2 -.4 -.1 -.8 -.3 -.4 -.2 -.5 -.3 -.5 -.4 -.4 -.4 -.3 -.5 -.4 -.6 -.4 -.5 -.4 -.4 -.4 -.4 -.4 -.4 -.3 -.4 -.2 -.4 -.3 -.6 -.3 -.6 -.3 -.4 -.4 -.4 -.4 -.4 -.4 -.4 -.3 -.4 -.3 -.4 -.3 -.8 -.1 -.4 -.2 -.8 -.2 -.6 -.3 -.6 -.3 -.4 -.4 -.4 -.4 -.4 -.4 -.4 -.3 -.4 -.3 -.7 -.2 -.5 -.1 -.8 .0 -.8 .2 -.8 .1 -.4 .0 -.8 .1 -.8 .2 -.8 .1 -.4 .2 -.8 .2 -.8 .1 -.4 .2 -.8 .2 -.4 .3 -.8 .2 -.4 .2 -.8 .1 -.4 .1 -.8 0 -.8 -.2 -.6 -.3 -.6 -.2 -.4 -.1 -.8 .2 -.5 .4 -.5 .4 -.4 .4 -.4 .4 -.4 .4 -.4 .4 -.5 .3 -.5 .2 -.4 .3 -.8 .0 -.4 0 -.4 -.1 -.8 .1 -.6 .4 -.6 .4 -.4 .3 -.4 .2 -.4 .2 -.8 .1 -.8 .1 -.8 .1 -.4 .2 -.8 .2 -.8 .1 -.4 .1 -.8 .2 -.8 .3 -.4 .5 -.3 .4 -.2 .8 -.3 .4 -.1 .8 -.2 .4 -.1 .7 -.3 .5 -.2 .4 -.2 .6 -.3 .6 -.4 .4 -.4 .4 -.3 .4 -.3 .6 -.3 .6 -.1 .8 .1 .4 .1 .7 .3 .5 .2 .4 .2 .8 .4 .4 .2 .4 .3 .4 .3 .4 .4 .4 .6 .2 .6 .2 .8 .2 .4 .4 .4 .6 .3 .4 .1 .7 .4 .4 .4 .3 .4 .2 .4 .3 .8 .1 .4 .3 .8 .1 .4 .2 .8 .1 .7 .1 .5 .1 .8 .1 .8 .1 .8 .0 .8 0 .8 0 .8 -.1 .8 -.1 .8 0 .8 .0 .8 .1 .8 .1 .4 .2 .8 .1 .8 .1 .4 .1 .8 .1 .8 .1 .8 .1 .8 .1 .4 .1 .8 .1 .8 0 .8 -.1 .8 -.1 .8 0 .4 -.1 .8 -.1 .8 0 .8 -.1 .8 -.1 .8 -.1 .4 -.2 .8 -.1 .8 -.1 .5 -.1 .7 -.1 .8 -.1 .8 -.1 .7 -.1 .5 -.2 .8 -.1 .4 -.3 .8 -.2 .4 -.3 .6 -.3 .6 -.2 .4 -.3 .6 -.2 .6 -.1 .8 .0 .8 -.1 .8 -.1 .4 -.3 .6 -.3 .6 -.2 .4 -.3 .8 -.2 .4 -.3 .6 -.4 .4 .0 0M187.1 109.5l-.8 .2 -.8 0 -.8 -.1 -.5 -.2 -.7 -.4 -.4 -.4 -.4 -.4 -.3 -.4 -.2 -.4 -.3 -.6 -.3 -.6 -.2 -.4 -.3 -.4 -.4 -.6 -.4 -.6 -.3 -.4 -.3 -.4 -.4 -.4 -.4 -.4 -.5 -.4 -.4 -.4 -.3 -.4 -.2 -.4 -.2 -.8 0 -.8 .0 -.8 .1 -.8 .1 -.8 -.1 -.8 -.3 -.6 -.4 -.6 -.3 -.4 -.2 -.4 -.3 -.7 -.2 -.5 -.2 -.8 -.1 -.4 -.3 -.8 -.1 -.4 -.1 -.8 .0 -.8 .1 -.8 .1 -.8 .1 -.4 .2 -.8 .1 -.4 .2 -.8 .2 -.6 .2 -.6 .1 -.8 0 -.8 -.2 -.8 -.1 -.4 -.2 -.8 .2 -.8 .2 -.4 .3 -.4 .4 -.4 .4 -.4 .4 -.4 .4 -.4 .4 -.4 .4 -.5 .4 -.7 .1 -.4 .2 -.8 .1 -.6 .2 -.6 .2 -.8 .1 -.4 .1 -.8 .1 -.8 .1 -.8 .1 -.6 .1 -.6 .1 -.8 .1 -.8 .1 -.8 .1 -.4 .3 -.6 .4 -.4 .7 -.3 .5 -.1 .8 -.2 .6 -.1 .6 -.1 .8 -.1 .8 -.1 .4 -.1 .6 -.3 .4 -.4 .2 -.4 .3 -.6 .4 -.4 .4 -.2 .8 0 .4 .1 .7 .3 .5 .2 .4 .2 .5 .4 .4 .4 .3 .4 .3 .8 .1 .5 .1 .7 .3 .8 .3 .4 .4 .4 .5 .3 .4 .2 .8 .1 .8 .1 .4 .3 .4 .5 .3 .5 .2 .4 .3 .8 .1 .4 .2 .8 .1 .5 .1 .7 .1 .8 .1 .8 .0 .8 0 .8 0 .8 0 .8 -.1 .8 0 .8 .0 .8 .1 .8 .1 .5 .2 .7 .2 .8 .1 .4 .1 .8 .1 .8 .1 .8 .1 .8 .0 .4 .1 .8 .1 .8 .0 .8 0 .8 -.1 .8 -.1 .8 -.1 .8 0 .4 -.1 .8 -.1 .8 -.1 .8 -.1 .8 -.1 .4 -.1 .8 -.1 .8 -.1 .8 -.1 .4 -.1 .8 -.1 .8 -.1 .7 -.1 .5 -.3 .8 -.2 .4 -.2 .5 -.4 .7 -.3 .5 -.2 .4 -.2 .4 -.4 .8 -.2 .4 -.2 .8 -.1 .8 -.1 .4 -.3 .6 -.4 .3 -.5 -.1 -.5 -.4 -.6 -.4 -.5 -.2 -.6 -.2 -.6 -.1 -.4 .1 -.7 .4 -.5 .3 -.4 .2 -.8 .2 -.7 .1 -.5 .1 -.8 .3 -.4 .1 .0 0M187.1 108.6l-.8 .2 -.8 0 -.8 -.2 -.4 -.2 -.4 -.4 -.4 -.5 -.3 -.6 -.2 -.4 -.3 -.5 -.3 -.7 -.2 -.4 -.3 -.4 -.4 -.5 -.4 -.5 -.4 -.5 -.3 -.4 -.4 -.4 -.4 -.4 -.4 -.4 -.3 -.4 -.2 -.4 -.1 -.8 .1 -.5 .1 -.7 .1 -.8 .1 -.8 -.1 -.8 -.3 -.6 -.4 -.5 -.4 -.4 -.4 -.4 -.3 -.4 -.2 -.4 -.2 -.6 -.2 -.6 -.1 -.8 -.1 -.8 -.1 -.4 -.1 -.8 -.1 -.8 0 -.8 .1 -.8 .1 -.5 .3 -.7 .2 -.4 .3 -.8 .1 -.4 .1 -.8 -.1 -.8 -.1 -.4 -.2 -.8 -.1 -.4 -.1 -.8 .1 -.6 .3 -.6 .3 -.4 .4 -.4 .5 -.4 .5 -.4 .4 -.3 .4 -.4 .4 -.5 .3 -.4 .2 -.4 .3 -.4 .4 -.6 .2 -.6 .0 -.8 -.2 -.8 -.1 -.4 -.1 -.8 .1 -.8 .1 -.4 .3 -.8 .1 -.4 .2 -.8 .0 -.8 0 -.8 .1 -.5 .4 -.4 .5 -.3 .7 -.2 .8 -.2 .4 -.1 .8 -.1 .8 -.1 .8 -.1 .4 -.1 .7 -.4 .5 -.4 .3 -.4 .3 -.4 .6 -.4 .8 .1 .6 .3 .5 .4 .3 .4 .2 .4 .2 .8 .1 .8 .1 .7 .1 .5 .3 .5 .4 .5 .4 .3 .4 .3 .7 .4 .5 .2 .8 .1 .4 0 .8 .3 .4 .5 .2 .4 .2 .4 .2 .8 .2 .7 .1 .5 .1 .8 .1 .8 0 .8 0 .8 0 .8 0 .8 0 .8 .0 .8 .1 .8 .2 .8 .1 .4 .2 .8 .1 .4 .2 .8 .1 .8 .1 .8 .0 .4 .1 .8 .1 .8 .1 .8 .1 .8 .0 .4 .0 .8 0 .4 -.1 .8 -.1 .8 -.1 .8 -.1 .8 0 .4 -.1 .8 -.1 .8 -.1 .6 -.1 .6 -.1 .8 -.1 .8 -.1 .8 -.1 .4 -.1 .8 -.1 .8 -.1 .4 -.3 .8 -.2 .4 -.3 .5 -.4 .6 -.4 .5 -.2 .4 -.2 .4 -.4 .6 -.4 .6 -.3 .4 -.4 .4 -.5 .2 -.8 -.1 -.4 -.2 -.5 -.4 -.5 -.4 -.5 -.4 -.5 -.2 -.8 .1 -.4 .5 -.1 .4 -.2 .8 -.2 .4 -.4 .4 -.6 .3 -.4 .1 -.8 .3 -.4 .1 .0 0M186.7 107.9l-.8 0 -.5 -.1 -.7 -.4 -.3 -.4 -.3 -.4 -.3 -.5 -.4 -.7 -.2 -.4 -.2 -.4 -.4 -.5 -.4 -.5 -.4 -.5 -.3 -.5 -.3 -.4 -.3 -.4 -.3 -.4 -.4 -.5 -.4 -.7 -.1 -.4 .0 -.8 .1 -.7 .1 -.5 .1 -.8 0 -.8 -.2 -.7 -.3 -.5 -.4 -.4 -.5 -.4 -.4 -.4 -.4 -.4 -.2 -.4 -.2 -.6 -.1 -.6 .0 -.8 .0 -.8 .0 -.8 .0 -.4 .1 -.8 .3 -.5 .8 0 .8 .1 .8 -.3 .4 -.3 .3 -.5 -.3 -.6 -.4 -.3 -.4 -.4 -.3 -.7 .3 -.8 .2 -.4 .2 -.4 0 -.6 -.4 -.4 -.5 -.2 -.7 -.1 -.8 -.3 -.3 -.4 -.2 -.4 .0 -.6 .2 -.6 .3 -.4 .5 -.4 .6 -.4 .4 -.3 .4 -.3 .4 -.4 .4 -.5 .4 -.5 .4 -.5 .4 -.4 .3 -.4 .2 -.4 .1 -.8 -.1 -.8 -.2 -.8 -.1 -.4 0 -.8 .1 -.6 .2 -.6 .2 -.5 .2 -.7 .2 -.8 .1 -.4 .2 -.8 .2 -.4 .4 -.5 .6 -.3 .6 -.1 .8 -.1 .8 0 .8 -.1 .6 -.1 .6 -.3 .4 -.2 .4 -.3 .8 -.4 .8 .2 .3 .5 .1 .4 .0 .8 -.1 .8 .1 .8 .3 .8 .4 .4 .4 .4 .4 .4 .3 .4 .2 .4 .1 .8 -.1 .8 -.2 .4 -.6 .4 -.5 .1 -.4 -.2 -.4 -.3 -.8 -.3 -.8 0 -.8 .1 -.6 .1 -.6 .2 -.4 .4 -.2 .6 .1 .8 .2 .7 .1 .5 .3 .7 .4 .4 .8 -.0 .4 -.2 .4 -.4 .4 -.8 .3 -.4 .4 -.4 .5 -.2 .4 .3 .3 .7 .2 .4 .6 .4 .7 -.4 .3 -.4 .3 -.4 .3 -.5 .4 -.7 .3 -.4 .3 -.4 .3 -.4 .3 -.4 .4 -.4 .8 0 .2 .4 .2 .4 .2 .8 .1 .7 .0 .5 0 .5 0 .7 .0 .8 .0 .4 .0 .8 0 .8 .0 .8 .1 .8 .2 .8 .1 .4 .2 .8 .1 .4 .2 .8 .2 .8 .1 .5 .1 .7 .1 .8 .1 .8 .1 .8 .1 .4 .1 .8 .0 .8 -.1 .8 -.1 .7 -.1 .5 -.1 .8 -.1 .8 -.1 .8 -.1 .4 -.2 .8 -.2 .8 -.1 .4 -.1 .8 -.1 .8 -.1 .8 -.1 .4 -.1 .8 -.2 .8 -.1 .4 -.3 .7 -.4 .5 -.4 .4 -.3 .4 -.3 .4 -.3 .5 -.4 .7 -.4 .5 -.4 .4 -.4 .2 -.8 -.1 -.4 -.2 -.4 -.3 -.6 -.4 -.6 -.3 -.4 -.1 -.8 0 -.4 .1 -.4 .3 -.4 .5 -.3 .7 -.1 .4 -.4 .7 -.4 .3 -.4 .2 -.8 .3 -.4 .1 .0 0M187.1 106.7l-.8 .1 -.4 -.1 -.5 -.4 -.3 -.4 -.4 -.7 -.3 -.5 -.2 -.4 -.3 -.4 -.4 -.5 -.4 -.4 -.4 -.4 -.4 -.6 -.2 -.5 -.2 -.4 -.3 -.8 -.2 -.4 -.3 -.7 -.1 -.5 .0 -.8 .1 -.8 .0 -.4 .0 -.8 0 -.8 -.1 -.4 -.4 -.7 -.3 -.5 -.1 -.4 .0 -.4 .0 -.8 0 -.4 -.2 -.8 -.1 -.8 .2 -.8 .3 -.4 .3 -.4 .4 -.4 .4 -.4 .4 -.4 .3 -.5 .0 -.7 -.3 -.4 -.4 -.4 -.2 -.4 .1 -.8 .2 -.4 .1 -.8 -.3 -.7 -.4 -.5 -.4 -.4 -.4 -.3 -.4 -.3 -.4 -.3 .0 -.6 .4 -.4 .4 -.3 .4 -.3 .4 -.4 .4 -.5 .4 -.5 .4 -.4 .4 -.4 .4 -.4 .4 -.4 .3 -.4 .2 -.4 .3 -.8 .0 -.8 -.2 -.8 -.1 -.4 0 -.8 0 -.8 0 -.8 .0 -.8 .0 -.4 .2 -.8 .2 -.5 .4 -.5 .4 -.2 .8 -.1 .5 .1 .7 .4 .2 .4 -.1 .8 -.1 .4 -.1 .8 .0 .8 -.2 .8 -.4 .4 -.4 .4 -.4 .4 -.3 .4 -.2 .8 .4 .8 .2 .4 .2 .4 .3 .7 .1 .5 .3 .8 .2 .4 .5 .4 .5 .2 .8 -.0 .8 -.1 .4 -.1 .8 -.0 .4 .1 .8 .3 .4 .2 .7 .3 .5 .2 .8 .1 .4 -.3 .1 -.7 .1 -.8 .2 -.4 .4 -.6 .4 -.4 .8 -.1 .4 .6 .1 .4 .2 .8 .1 .4 .0 .8 .1 .8 .2 .7 .2 .5 .2 .7 .1 .5 .2 .8 .1 .4 .2 .8 .2 .8 .1 .4 .1 .8 .1 .8 .1 .8 .1 .4 .2 .8 .1 .8 0 .8 -.1 .8 -.1 .8 -.1 .4 -.1 .8 -.1 .8 -.2 .8 -.1 .4 -.2 .8 -.1 .5 -.1 .7 -.1 .8 -.1 .8 -.1 .6 -.1 .6 -.2 .8 -.1 .4 -.4 .7 -.4 .4 -.4 .3 -.4 .3 -.4 .4 -.4 .6 -.2 .4 -.4 .4 -.7 .2 -.6 -.2 -.6 -.4 -.4 -.3 -.4 -.2 -.8 -.1 -.8 .1 -.4 .1 -.8 .3 -.4 .3 -.4 .4 -.3 .5 -.2 .4 -.3 .6 -.4 .4 -.4 .2 .0 0M186.7 104.2l-.4 -.0 -.5 -.4 -.3 -.6 -.2 -.6 -.2 -.4 -.4 -.4 -.6 -.4 -.4 -.4 -.2 -.4 -.2 -.4 -.3 -.8 -.2 -.4 -.3 -.8 0 -.4 .0 -.4 .3 -.8 .2 -.4 .2 -.8 0 -.8 -.2 -.8 -.1 -.4 -.4 -.8 -.2 -.4 -.2 -.4 -.3 -.6 -.3 -.6 -.1 -.4 -.1 -.8 .1 -.5 .4 -.6 .4 -.4 .4 -.3 .4 -.3 .6 -.3 .6 -.2 .8 .1 .5 .1 .7 .1 .8 -.1 .4 -.2 .3 -.7 -.3 -.8 -.3 -.4 -.3 -.4 -.4 -.4 -.5 -.4 -.5 -.2 -.8 -.2 .0 -.8 -.2 -.4 -.4 -.4 -.6 -.4 -.4 -.3 -.4 -.3 -.4 -.5 -.1 -.5 .1 -.4 .4 -.6 .4 -.6 .4 -.4 .4 -.4 .4 -.2 .8 -.0 .4 .2 .4 .4 .5 .4 .7 .3 .8 0 .8 -.1 .8 -.1 .8 -.0 .8 .1 .4 .2 .8 .4 .4 .3 .4 .3 .4 .3 .4 .4 .5 .4 .7 .1 .4 -.2 .4 -.3 .7 -.4 .5 -.1 .4 .2 .4 .5 .3 .6 .2 .4 .2 .8 .1 .5 .2 .7 .2 .8 .1 .4 .1 .8 .1 .8 .1 .8 .1 .4 .2 .8 .1 .8 .0 .8 -.1 .8 -.1 .8 -.1 .8 -.1 .4 -.1 .8 -.2 .8 -.1 .4 -.2 .8 -.1 .4 -.2 .8 -.1 .8 -.1 .8 -.1 .4 -.2 .8 -.2 .6 -.3 .6 -.4 .4 -.5 .3 -.8 .1 -.5 -.4 -.3 -.8 -.2 -.4 -.3 -.4 -.7 -.2 -.8 .2 -.4 .4 -.2 .4 -.2 .6 -.2 .6 -.2 .5 -.4 .4 -.5 .3 -.7 .3 -.4 .1 -.8 .3 -.4 .2 -.7 .4 -.5 .3 -.4 .2 .0 0M189.1 102.2l-.8 0 -.6 -.1 -.6 -.3 -.4 -.4 -.3 -.4 -.3 -.4 -.2 -.6 -.1 -.6 .1 -.4 .2 -.8 .1 -.8 -.1 -.8 -.2 -.5 -.4 -.3 -.7 -.3 -.4 -.4 -.2 -.4 -.2 -.6 -.2 -.6 -.2 -.7 -.2 -.5 -.3 -.4 -.3 -.4 -.4 -.5 -.4 -.7 -.2 -.5 .0 -.8 .2 -.4 .4 -.4 .7 -.4 .4 -.1 .8 0 .4 .1 .8 .3 .4 .1 .8 -.0 .4 -.1 .8 -.1 .8 .1 .4 .2 .5 .3 .7 .4 .4 0 .3 -.4 -.3 -.8 -.4 -.3 -.4 -.2 -.4 -.3 -.4 -.6 -.4 -.6 -.2 -.4 -.2 -.4 -.1 -.8 .2 -.4 .4 -.4 .4 -.4 .3 -.4 .4 -.6 .3 -.6 .2 -.4 .3 -.6 .8 -.1 .6 .3 .5 .4 .3 .4 .3 .4 .3 .4 .8 .3 .5 -.3 .5 -.4 .4 -.4 .6 -.4 .8 .2 .4 .5 .2 .4 .2 .8 .1 .4 .2 .8 .1 .8 .0 .4 .1 .8 .2 .8 .1 .4 .2 .8 .2 .6 .1 .6 0 .8 -.1 .5 -.1 .7 -.1 .8 -.1 .7 -.1 .5 -.2 .8 -.1 .4 -.3 .8 -.2 .4 -.2 .8 -.1 .4 -.2 .8 -.1 .8 -.1 .4 -.3 .7 -.4 .2 -.4 -.1 -.4 -.5 -.4 -.5 -.4 -.3 -.8 -.2 -.8 0 -.8 .2 -.4 .2 -.4 .5 -.3 .6 -.1 .4 -.3 .8 -.2 .4 -.4 .4 -.7 .3 -.4 .1 .0 0M189.1 100.7l-.7 -.1 -.5 -.4 -.4 -.4 -.2 -.4 -.2 -.5 -.1 -.7 .0 -.8 .0 -.8 0 -.8 -.2 -.8 -.3 -.4 -.5 -.4 -.5 -.4 -.4 -.4 -.1 -.4 .0 -.8 .1 -.4 .3 -.5 .4 -.5 .4 -.6 .3 -.5 .5 -.4 .4 -.2 .8 0 .4 .1 .7 .4 .5 .3 .4 .2 .7 .3 .5 .1 .4 -.2 .4 -.6 .1 -.5 0 -.8 -.1 -.8 0 -.4 -.2 -.8 -.2 -.4 -.6 -.4 -.6 -.2 -.4 -.2 -.4 -.4 -.2 -.7 .2 -.6 .3 -.6 .3 -.4 .4 -.4 .6 -.3 .8 .3 .3 .4 .2 .4 .3 .5 .8 .2 .6 -.3 .6 -.4 .4 -.3 .4 -.3 .8 -.1 .4 .5 .2 .6 .2 .5 .2 .7 .1 .8 .1 .8 .1 .4 .2 .8 .2 .4 .3 .8 .1 .4 .1 .8 0 .8 -.1 .6 -.1 .6 -.2 .8 -.1 .5 -.2 .7 -.2 .4 -.4 .8 -.2 .4 -.3 .4 -.3 .5 -.4 .5 -.4 .3 -.8 .1 -.8 -.1 -.8 -.1 -.4 -.0 -.6 -.4 .2 -.8 .1 -.4 0 -.8 -.1 -.4 -.3 -.5 -.6 .1 -.2 .4 -.2 .8 -.2 .6 -.2 .6 -.2 .8 -.1 .5 -.1 .7 -.2 .8 -.1 .4 -.3 .7 -.4 .5 -.4 .2 .0 0M183.9 90.7l-.4 -.1 -.1 -.0 -.3 -.2 -.2 -.2 -.2 -.2 -.1 -.2 -.1 -.4 .1 -.4 .0 -.0 .4 -.3 .4 -.1 .4 .1 .4 .3 .0 0 .2 .4 .0 .4 -.1 .4 -.2 .3 -.2 .1 -.2 .1M195.9 95.4l-.8 -.0 -.4 -.2 -.4 -.4 -.3 -.6 -.2 -.4 -.2 -.8 -.1 -.4 .0 -.8 .1 -.4 .3 -.8 .1 -.4 -.1 -.6 -.2 -.6 -.2 -.8 .1 -.8 .2 -.8 .1 -.8 .1 -.4 .4 -.7 .4 -.4 .4 -.3 .4 -.3 .8 -.2 .4 .3 .3 .7 .1 .8 .0 .4 .1 .8 .3 .8 .2 .4 .2 .5 .3 .7 .1 .4 .1 .8 -.1 .8 -.1 .4 -.2 .8 -.2 .7 -.2 .5 -.2 .5 -.4 .6 -.4 .5 -.4 .3 -.4 .2 .0 0M188.7 98.4l-.4 -.2 -.3 -.8 .0 -.8 .1 -.8 0 -.8 -.1 -.7 -.2 -.5 -.4 -.4 -.4 -.4 -.2 -.4 .1 -.8 .2 -.4 .3 -.4 .4 -.4 .7 -.2 .4 .2 .4 .4 .3 .8 .0 .4 .1 .8 .3 .6 .1 .6 -.1 .8 -.1 .4 -.3 .8 -.1 .4 -.2 .8 -.2 .6 -.4 .3 .0 0" fill="none" stroke="#111" stroke-width="0.5" stroke-linejoin="round"/>
<path d="M203.0 57.5h0.55M227.4 65.8h0.55M205.5 92.9h0.55M216.8 111.6h0.55M201.0 119.5h0.55M237.7 57.7h0.55M209.4 121.5h0.55M219.4 122.3h0.55M207.4 71.5h0.55M214.7 92.5h0.55M209.3 117.8h0.55M220.7 108.0h0.55M202.1 113.9h0.55M204.0 67.9h0.55M214.8 97.7h0.55M203.8 67.0h0.55M205.1 85.3h0.55M215.7 76.0h0.55M205.2 106.3h0.55M203.8 66.0h0.55M205.1 67.9h0.55M208.9 103.7h0.55M201.1 121.7h0.55M208.4 76.8h0.55M207.2 82.0h0.55M206.1 83.4h0.55M205.1 75.7h0.55M209.5 114.3h0.55M207.6 90.7h0.55M197.9 129.2h0.55M207.3 80.2h0.55M215.6 106.8h0.55M216.5 80.1h0.55M201.3 114.8h0.55M219.3 84.5h0.55M207.4 77.5h0.55M209.9 109.7h0.55M225.5 96.3h0.55M204.9 102.8h0.55M208.7 97.9h0.55M200.6 123.4h0.55M213.2 81.6h0.55M203.8 62.2h0.55M212.8 80.8h0.55M204.7 98.1h0.55M203.9 98.8h0.55M211.3 109.5h0.55M216.7 62.1h0.55M207.4 84.6h0.55M212.7 64.3h0.55M207.7 112.9h0.55M198.0 59.2h0.55M225.0 64.8h0.55M204.3 97.1h0.55M205.9 93.9h0.55M206.7 73.7h0.55M203.0 105.0h0.55M213.7 85.7h0.55M224.4 118.7h0.55M206.3 86.2h0.55M202.7 113.0h0.55M229.4 119.6h0.55M200.8 58.2h0.55M206.0 98.3h0.55M206.5 61.1h0.55M211.7 97.5h0.55M208.9 66.2h0.55M234.4 107.0h0.55M206.6 72.4h0.55M213.4 95.5h0.55M208.8 88.8h0.55M223.9 108.5h0.55M202.5 125.2h0.55M205.4 83.2h0.55M211.4 100.7h0.55M208.1 76.0h0.55M206.6 87.2h0.55M223.7 93.1h0.55M206.1 76.6h0.55M204.7 120.2h0.55M207.4 100.3h0.55M198.6 124.0h0.55M204.1 124.8h0.55M203.6 108.5h0.55M208.2 121.0h0.55M205.4 112.3h0.55M215.2 104.1h0.55M200.6 122.9h0.55M205.5 71.9h0.55M207.0 69.2h0.55M221.0 81.0h0.55M206.5 103.0h0.55M202.7 122.3h0.55M201.9 117.7h0.55M202.5 108.2h0.55M205.0 81.4h0.55M204.8 127.7h0.55M217.8 71.8h0.55M236.2 126.3h0.55M204.1 111.6h0.55M204.1 112.0h0.55M225.0 100.7h0.55M222.4 73.2h0.55M202.8 119.9h0.55M199.5 120.7h0.55M208.7 100.6h0.55M211.9 104.6h0.55M216.5 72.8h0.55M209.1 92.1h0.55M204.3 99.1h0.55M225.6 79.2h0.55M203.1 125.8h0.55M207.8 115.2h0.55M207.9 82.8h0.55M205.1 95.1h0.55M207.2 97.0h0.55M203.5 124.4h0.55M214.0 123.8h0.55M225.6 67.9h0.55M228.2 113.2h0.55M204.5 76.5h0.55M202.9 120.4h0.55M210.0 113.6h0.55M206.0 90.5h0.55M201.2 125.2h0.55M225.3 61.7h0.55M207.5 66.0h0.55M205.8 89.9h0.55M218.9 61.1h0.55M214.6 81.0h0.55M204.9 77.1h0.55M198.3 58.5h0.55M196.7 58.4h0.55M205.4 73.3h0.55M203.5 108.6h0.55M204.4 124.8h0.55M227.0 111.5h0.55M212.0 116.2h0.55M233.6 75.2h0.55M250.0 58.6h0.55M205.0 95.7h0.55M198.7 126.0h0.55M216.9 105.0h0.55M201.7 58.4h0.55M205.6 115.0h0.55M205.4 79.4h0.55M203.1 121.5h0.55M204.8 75.7h0.55M202.3 120.9h0.55M211.0 82.1h0.55M217.1 68.2h0.55M205.1 128.5h0.55M213.4 125.8h0.55M200.0 122.1h0.55M196.6 128.9h0.55M238.2 75.0h0.55M208.7 68.9h0.55M232.7 61.3h0.55M208.0 64.1h0.55M211.0 106.1h0.55M208.9 82.7h0.55M207.3 120.2h0.55M215.8 70.5h0.55M204.1 70.0h0.55M204.7 75.8h0.55M228.3 81.0h0.55M204.6 75.3h0.55M204.7 115.0h0.55M203.9 61.2h0.55M204.6 73.9h0.55M210.7 64.8h0.55M212.2 93.5h0.55M204.8 64.5h0.55M204.4 75.6h0.55M200.3 125.1h0.55M202.5 119.5h0.55M215.2 64.9h0.55M205.3 68.0h0.55M205.9 112.8h0.55M204.4 103.0h0.55M207.2 79.6h0.55M213.6 107.6h0.55M228.3 125.5h0.55M242.9 99.8h0.55M207.2 77.6h0.55M226.6 102.9h0.55M196.9 129.4h0.55M215.5 82.0h0.55M217.6 56.9h0.55M198.7 59.4h0.55M240.9 57.3h0.55M205.4 72.0h0.55M246.4 79.6h0.55M203.4 104.1h0.55M243.9 111.0h0.55M218.9 112.5h0.55M200.5 118.8h0.55M209.3 109.0h0.55M205.6 89.7h0.55M208.5 86.4h0.55M240.5 62.0h0.55M195.5 57.0h0.55M206.3 66.9h0.55M204.2 119.5h0.55M199.6 60.4h0.55M203.5 108.5h0.55M198.4 129.3h0.55M215.4 95.8h0.55M208.3 124.4h0.55M205.2 75.2h0.55M204.0 104.5h0.55M237.1 121.4h0.55M208.8 116.0h0.55M224.8 95.5h0.55M219.9 94.6h0.55M204.9 82.9h0.55M203.4 60.4h0.55M205.0 84.8h0.55M204.7 103.8h0.55M199.6 125.3h0.55M203.7 106.5h0.55M246.4 115.8h0.55M203.8 115.7h0.55M201.2 125.4h0.55M205.3 121.5h0.55M194.6 56.6h0.55M197.5 128.9h0.55M204.4 66.3h0.55M205.5 62.4h0.55M206.4 83.7h0.55M243.3 63.4h0.55M208.2 101.9h0.55M225.4 112.4h0.55M218.2 110.4h0.55M212.8 62.8h0.55M224.5 98.3h0.55M211.7 95.9h0.55M209.0 105.5h0.55M210.4 69.8h0.55M239.7 90.5h0.55M203.6 65.0h0.55M198.6 127.3h0.55M201.6 111.5h0.55M203.3 115.0h0.55M206.6 107.2h0.55M199.8 59.8h0.55M205.5 101.9h0.55M211.3 64.1h0.55M203.5 121.4h0.55M219.7 122.4h0.55M227.8 66.3h0.55M202.7 123.5h0.55M220.1 79.0h0.55M206.7 80.5h0.55M246.7 97.8h0.55M240.8 66.4h0.55M204.5 66.1h0.55M210.5 89.3h0.55M202.6 123.6h0.55M220.6 126.4h0.55M202.8 109.3h0.55M228.6 110.9h0.55M212.6 87.4h0.55M206.3 65.9h0.55M207.3 68.2h0.55M236.2 86.0h0.55M199.9 60.4h0.55M205.0 107.7h0.55M216.5 69.4h0.55M242.8 106.8h0.55M206.9 97.9h0.55M206.6 62.6h0.55M198.6 124.3h0.55M211.5 85.0h0.55M230.8 94.7h0.55M229.8 91.2h0.55M204.1 101.7h0.55M239.1 85.4h0.55M205.6 99.6h0.55M199.4 119.1h0.55M220.4 91.1h0.55M209.7 82.1h0.55M221.2 104.6h0.55M204.8 68.4h0.55M205.4 85.5h0.55M219.7 119.5h0.55M212.4 84.7h0.55M208.4 116.0h0.55M205.2 62.2h0.55M223.3 97.8h0.55M208.3 97.8h0.55M205.9 85.4h0.55M203.1 120.3h0.55M202.1 108.0h0.55M211.2 63.8h0.55M203.8 65.2h0.55M207.8 66.0h0.55M208.6 118.0h0.55M219.1 129.1h0.55M204.8 97.1h0.55M206.2 97.6h0.55M205.0 98.0h0.55M210.4 111.4h0.55M203.1 115.8h0.55M205.0 108.2h0.55M207.3 96.0h0.55M202.3 117.4h0.55M216.0 116.2h0.55M199.4 125.7h0.55M204.8 94.2h0.55M200.3 57.8h0.55M207.4 93.7h0.55M205.5 97.4h0.55M199.7 123.5h0.55M250.5 60.6h0.55M204.6 66.4h0.55M208.6 84.1h0.55M211.7 112.9h0.55M203.9 99.6h0.55M207.3 120.5h0.55M206.1 85.6h0.55M245.1 112.9h0.55M199.5 123.3h0.55M217.2 112.4h0.55M206.1 79.1h0.55M203.8 105.7h0.55M214.7 93.3h0.55M209.3 100.0h0.55M205.4 112.3h0.55M220.6 119.3h0.55M210.7 86.9h0.55M206.8 78.4h0.55M198.7 127.7h0.55M201.3 127.7h0.55M218.0 65.2h0.55M221.9 95.7h0.55M204.5 105.1h0.55M222.6 82.9h0.55M242.9 119.5h0.55M210.4 78.4h0.55M217.4 84.3h0.55M230.0 125.0h0.55M224.6 56.4h0.55M215.4 122.7h0.55M206.5 81.2h0.55M206.4 78.1h0.55M209.4 69.7h0.55M208.8 106.2h0.55M225.4 83.7h0.55M194.9 56.4h0.55M241.9 72.1h0.55M204.0 104.6h0.55M220.6 107.6h0.55M197.7 57.2h0.55M210.2 102.9h0.55M206.9 102.8h0.55M226.9 103.9h0.55M210.8 80.6h0.55M224.1 88.5h0.55M239.8 60.4h0.55M205.7 102.7h0.55M207.1 92.6h0.55M205.4 96.8h0.55M204.9 77.8h0.55M205.1 73.1h0.55M225.0 114.1h0.55M201.4 61.3h0.55M205.2 100.0h0.55M207.1 79.7h0.55M213.4 98.2h0.55M207.6 78.8h0.55M213.1 88.3h0.55M201.5 120.0h0.55M210.0 59.2h0.55M202.7 124.3h0.55M207.9 69.8h0.55M236.6 84.1h0.55M201.7 121.2h0.55M199.2 122.3h0.55M212.3 66.3h0.55M241.4 75.4h0.55M204.5 78.0h0.55M201.6 123.1h0.55M201.3 112.8h0.55M211.2 71.3h0.55M210.2 115.6h0.55M198.0 124.4h0.55M206.7 82.7h0.55M206.4 63.8h0.55M219.4 76.4h0.55M209.1 86.5h0.55M204.1 99.1h0.55M200.0 118.7h0.55M214.9 62.6h0.55M205.3 111.5h0.55M204.4 97.5h0.55M215.3 85.7h0.55M215.4 92.7h0.55M201.9 57.1h0.55M209.5 65.5h0.55M212.8 82.2h0.55M206.3 115.3h0.55M207.6 109.7h0.55M204.9 97.6h0.55M205.4 72.9h0.55M235.6 101.6h0.55M205.3 86.9h0.55M249.5 73.5h0.55M203.8 112.4h0.55M239.9 113.6h0.55M207.1 100.5h0.55M214.1 95.5h0.55M213.2 85.2h0.55M210.3 78.6h0.55M206.2 90.3h0.55M201.2 124.5h0.55M235.6 65.2h0.55M209.5 113.3h0.55M205.0 117.1h0.55M217.6 56.5h0.55M212.2 103.9h0.55M210.0 66.0h0.55M241.9 102.4h0.55M204.0 100.5h0.55M234.1 87.3h0.55M205.9 81.9h0.55M217.0 90.6h0.55M213.8 66.8h0.55M228.2 59.8h0.55M209.0 81.4h0.55M212.0 65.9h0.55M212.3 100.3h0.55M209.2 104.6h0.55M212.0 57.9h0.55M205.8 78.2h0.55M205.6 118.3h0.55M198.0 124.4h0.55M216.9 87.1h0.55M202.2 108.6h0.55M219.6 115.2h0.55M200.0 59.5h0.55M207.8 92.1h0.55M218.5 117.1h0.55M201.1 125.8h0.55M209.9 87.1h0.55M205.9 79.0h0.55M208.5 92.5h0.55M239.0 81.5h0.55M205.8 92.5h0.55M232.5 61.7h0.55M248.2 100.4h0.55M204.5 98.8h0.55M215.9 108.3h0.55M198.9 59.0h0.55M215.1 75.3h0.55M236.9 92.2h0.55M205.2 103.6h0.55M204.5 73.3h0.55M210.5 90.0h0.55M206.8 83.1h0.55M205.1 89.4h0.55M247.0 103.3h0.55M201.5 62.1h0.55M197.7 58.6h0.55M241.5 100.2h0.55M233.8 68.7h0.55M217.2 125.4h0.55M222.7 123.2h0.55M207.2 90.1h0.55M204.3 69.8h0.55M250.0 82.1h0.55M204.9 60.3h0.55M249.6 87.4h0.55M210.1 123.6h0.55M211.3 89.1h0.55M212.7 76.1h0.55M224.1 69.1h0.55M199.4 59.9h0.55M206.2 108.7h0.55M205.8 63.7h0.55M204.7 117.9h0.55M210.6 69.0h0.55M210.2 114.3h0.55M207.2 101.3h0.55M217.9 69.9h0.55M234.1 109.3h0.55M200.8 115.3h0.55M201.0 118.9h0.55M200.0 58.0h0.55M206.7 79.8h0.55M213.0 112.3h0.55M205.7 67.1h0.55M212.2 83.6h0.55M207.2 101.3h0.55M212.9 115.8h0.55M196.3 56.4h0.55M221.4 110.1h0.55M200.6 118.0h0.55M206.7 78.8h0.55M208.2 60.1h0.55M221.1 64.3h0.55M205.5 84.6h0.55M215.1 78.3h0.55M212.7 95.4h0.55M202.2 114.4h0.55M206.2 114.9h0.55M222.3 109.2h0.55M207.7 70.5h0.55M208.6 113.5h0.55M208.8 75.8h0.55M211.7 84.2h0.55M205.8 67.6h0.55M201.2 57.9h0.55M210.3 122.8h0.55M208.4 74.7h0.55M216.8 117.2h0.55M228.9 77.3h0.55M214.3 114.3h0.55M210.9 98.1h0.55M204.7 57.2h0.55M231.1 75.9h0.55M216.6 98.5h0.55M233.8 109.3h0.55M206.9 128.0h0.55M205.8 79.5h0.55M219.2 62.4h0.55M201.0 117.2h0.55M205.0 91.6h0.55M202.8 116.1h0.55M220.7 72.9h0.55M222.3 88.7h0.55M207.3 63.4h0.55M214.9 96.8h0.55M203.6 62.7h0.55M218.4 86.3h0.55M204.8 113.4h0.55M201.7 109.7h0.55M220.8 106.4h0.55M209.0 120.1h0.55M200.4 59.2h0.55M205.9 72.0h0.55M219.1 99.5h0.55M209.4 69.4h0.55M230.1 100.8h0.55M247.2 117.6h0.55M203.9 105.1h0.55M209.7 119.9h0.55M205.3 57.0h0.55M199.6 118.9h0.55M226.4 62.3h0.55M205.7 107.2h0.55M210.3 113.4h0.55M201.7 61.2h0.55M206.5 119.9h0.55M199.8 118.3h0.55M204.9 63.1h0.55M235.1 118.2h0.55M199.0 121.2h0.55M197.2 57.9h0.55M204.1 112.5h0.55M205.9 102.1h0.55M204.7 84.3h0.55M215.4 84.1h0.55M205.7 91.0h0.55M217.6 68.1h0.55M194.6 57.0h0.55M204.0 70.0h0.55M206.6 63.2h0.55M211.7 74.5h0.55M202.9 56.7h0.55M225.5 91.1h0.55M231.8 93.2h0.55M205.7 80.8h0.55M197.2 58.6h0.55M205.0 75.0h0.55M204.7 72.5h0.55M203.7 108.8h0.55M206.8 85.4h0.55M198.7 123.9h0.55M205.9 72.9h0.55M204.6 82.7h0.55M246.5 70.9h0.55M208.4 94.4h0.55M225.1 68.2h0.55M208.0 126.9h0.55M230.2 90.9h0.55M208.2 66.4h0.55M202.5 109.7h0.55M220.1 95.6h0.55M200.8 115.4h0.55M199.8 120.1h0.55M198.7 57.1h0.55M214.7 100.2h0.55M204.6 113.2h0.55M206.7 72.1h0.55M205.9 75.6h0.55M217.8 111.5h0.55M203.9 61.9h0.55M218.7 67.6h0.55M207.4 66.3h0.55M200.0 127.3h0.55M212.3 110.1h0.55M210.8 78.3h0.55M214.6 72.3h0.55M207.3 101.3h0.55M212.8 129.2h0.55M214.9 84.6h0.55M213.8 93.3h0.55M217.3 81.5h0.55M205.2 73.8h0.55M205.0 88.9h0.55M212.9 67.7h0.55M198.1 126.9h0.55M240.2 119.8h0.55M218.9 73.6h0.55M204.6 64.3h0.55M235.5 68.7h0.55M204.2 98.2h0.55M209.7 56.9h0.55M204.0 115.0h0.55M213.1 104.3h0.55M209.4 94.0h0.55M207.4 72.6h0.55M243.5 90.4h0.55M219.4 79.9h0.55M228.7 62.7h0.55M207.2 98.6h0.55M199.5 60.0h0.55M206.6 66.8h0.55M208.7 91.9h0.55M221.8 121.9h0.55M200.7 60.2h0.55M212.1 97.3h0.55M206.0 76.9h0.55M243.6 123.8h0.55M224.1 76.9h0.55M197.9 128.1h0.55M206.7 119.7h0.55M204.7 87.3h0.55M219.8 89.7h0.55M213.9 67.1h0.55M216.2 127.1h0.55M209.7 72.1h0.55M210.5 64.1h0.55M246.9 123.2h0.55M205.2 94.9h0.55M208.8 83.2h0.55M201.8 121.4h0.55M204.3 118.9h0.55M215.8 105.9h0.55M217.1 105.3h0.55M216.1 115.8h0.55M236.3 106.2h0.55M224.0 79.6h0.55M223.0 75.3h0.55M238.7 118.9h0.55M195.1 56.0h0.55M206.0 100.0h0.55M205.2 119.5h0.55M212.7 123.5h0.55M202.9 125.0h0.55M219.3 119.8h0.55M207.7 69.0h0.55M209.9 93.9h0.55M202.6 108.1h0.55M201.6 58.7h0.55M207.9 121.7h0.55M200.7 119.7h0.55M212.3 84.3h0.55M209.6 74.2h0.55M214.3 118.0h0.55M205.7 104.1h0.55M204.2 105.0h0.55M215.4 63.9h0.55M202.5 112.5h0.55M241.3 120.9h0.55M213.1 82.0h0.55M210.8 120.1h0.55M218.5 81.7h0.55M208.7 95.2h0.55M233.1 70.5h0.55M206.3 84.2h0.55M219.0 89.9h0.55M204.2 98.6h0.55M203.9 100.5h0.55M204.3 73.7h0.55M202.6 64.1h0.55M225.3 88.8h0.55M203.2 104.5h0.55M206.6 64.1h0.55M239.7 86.3h0.55M214.1 96.9h0.55M201.1 127.6h0.55M241.2 121.2h0.55M205.5 98.0h0.55M225.7 78.1h0.55M208.2 102.5h0.55M211.7 90.9h0.55M208.4 108.9h0.55M229.6 90.2h0.55M213.6 77.2h0.55M215.1 80.1h0.55M207.3 123.1h0.55M204.6 98.6h0.55M201.7 124.0h0.55M202.6 60.2h0.55M245.2 98.6h0.55M204.8 78.3h0.55M206.4 91.3h0.55M212.7 97.0h0.55M232.9 91.8h0.55M198.2 129.1h0.55M222.4 81.9h0.55M218.9 109.1h0.55M199.7 127.6h0.55M210.1 69.5h0.55M218.6 66.6h0.55M213.8 98.6h0.55M234.8 126.1h0.55M207.2 57.4h0.55M226.3 124.6h0.55M211.4 64.3h0.55M205.4 97.4h0.55M198.9 125.1h0.55M204.0 65.9h0.55M206.3 77.9h0.55M201.1 59.4h0.55M203.2 62.5h0.55M208.1 98.3h0.55M207.5 93.6h0.55M214.0 59.5h0.55M206.7 124.7h0.55M204.4 80.1h0.55M206.4 102.6h0.55M208.9 91.9h0.55M214.2 113.2h0.55M197.7 128.9h0.55M204.8 102.8h0.55M206.2 81.1h0.55M213.7 86.9h0.55M217.2 118.9h0.55M217.9 83.1h0.55M202.7 124.1h0.55M233.9 88.4h0.55M217.6 125.3h0.55M212.3 88.7h0.55M222.4 99.4h0.55M213.2 60.4h0.55M232.5 70.7h0.55M206.6 94.5h0.55M209.5 80.9h0.55M204.9 67.8h0.55M223.1 72.9h0.55M217.4 89.9h0.55M234.8 57.5h0.55M198.4 124.7h0.55M204.2 65.1h0.55M205.7 74.1h0.55M213.8 87.8h0.55M200.8 124.0h0.55M231.4 124.8h0.55M206.8 70.2h0.55M236.0 95.6h0.55M202.8 64.3h0.55M202.7 62.7h0.55M206.0 74.5h0.55M228.8 68.0h0.55M204.9 74.9h0.55M206.6 105.4h0.55M205.7 57.9h0.55M205.6 119.1h0.55M200.7 125.4h0.55M214.3 72.0h0.55M202.1 109.7h0.55M202.5 107.9h0.55M205.5 122.4h0.55M203.5 103.4h0.55M215.7 85.5h0.55M210.3 110.7h0.55M228.4 96.5h0.55M207.7 63.4h0.55M205.8 61.9h0.55M205.9 104.3h0.55M203.8 123.2h0.55M204.9 99.1h0.55M204.1 113.7h0.55M202.3 128.2h0.55M225.3 89.1h0.55M209.2 59.2h0.55M226.4 104.5h0.55M215.0 107.0h0.55M209.4 81.6h0.55M223.4 99.6h0.55M200.2 58.2h0.55M220.4 79.2h0.55M199.9 118.8h0.55M206.4 79.7h0.55M204.9 113.6h0.55M218.3 83.9h0.55M213.5 97.6h0.55M197.7 124.9h0.55M211.9 64.9h0.55M199.7 59.4h0.55M196.7 57.0h0.55M209.6 120.4h0.55M205.4 91.0h0.55M205.6 94.6h0.55M198.8 127.1h0.55M201.4 115.5h0.55M208.3 69.3h0.55M209.8 108.5h0.55M201.1 117.0h0.55M208.9 70.5h0.55M215.6 105.3h0.55M204.5 109.9h0.55M206.3 113.6h0.55M200.1 122.4h0.55M207.4 61.0h0.55M207.2 83.2h0.55M204.6 79.8h0.55M207.5 64.1h0.55M202.6 105.9h0.55M208.7 93.6h0.55M203.9 101.8h0.55M208.0 98.3h0.55M214.8 121.2h0.55M224.1 115.8h0.55M208.5 94.8h0.55M204.2 101.5h0.55M207.1 90.6h0.55M233.4 84.5h0.55M210.9 100.2h0.55M212.4 83.2h0.55M205.6 95.4h0.55M215.2 64.2h0.55M212.9 92.5h0.55M214.6 122.1h0.55M226.7 64.4h0.55M204.1 75.6h0.55M227.3 70.7h0.55M240.8 125.9h0.55M224.3 81.8h0.55M218.1 106.1h0.55M228.7 125.7h0.55M206.3 81.9h0.55M205.4 115.1h0.55M199.7 124.1h0.55M202.3 106.8h0.55M194.6 57.0h0.55M210.0 77.4h0.55M207.3 60.9h0.55M230.5 66.6h0.55M205.2 97.2h0.55M205.6 84.0h0.55M204.9 77.6h0.55M215.8 116.1h0.55M205.8 87.0h0.55M246.1 117.0h0.55M207.4 94.5h0.55M206.3 85.1h0.55M211.8 109.6h0.55M202.8 122.1h0.55M217.7 118.3h0.55M210.1 68.4h0.55M218.0 128.6h0.55M220.8 77.8h0.55M217.1 89.0h0.55M215.2 56.9h0.55M210.8 88.8h0.55M202.6 59.8h0.55M225.9 100.7h0.55M205.1 95.9h0.55M213.9 111.8h0.55M204.6 65.1h0.55M208.3 83.2h0.55M204.4 117.0h0.55M207.0 66.1h0.55M198.1 122.8h0.55M197.4 58.2h0.55M206.9 68.1h0.55M203.0 104.2h0.55M206.2 119.2h0.55M198.1 57.0h0.55M201.4 116.5h0.55M199.9 58.6h0.55M206.0 104.2h0.55M230.5 93.4h0.55M201.1 129.1h0.55M202.4 127.7h0.55M246.1 94.4h0.55M205.0 110.1h0.55M215.8 76.0h0.55M204.8 111.0h0.55M230.1 86.9h0.55M207.1 61.9h0.55M210.1 66.1h0.55M209.0 71.1h0.55M206.6 106.0h0.55M217.1 124.0h0.55M208.0 77.5h0.55M204.5 84.5h0.55M209.9 57.3h0.55M202.5 125.6h0.55M204.2 118.2h0.55M202.8 117.4h0.55M209.5 103.7h0.55M208.3 59.5h0.55M232.7 76.1h0.55M208.2 96.6h0.55M216.1 118.9h0.55M202.5 59.6h0.55M210.6 114.6h0.55M202.6 115.9h0.55M210.7 106.8h0.55M205.2 97.2h0.55M240.1 79.9h0.55M210.0 114.6h0.55M204.1 65.7h0.55M204.7 98.8h0.55M218.2 110.8h0.55M219.9 92.9h0.55M210.7 68.5h0.55M221.1 109.2h0.55M202.4 62.2h0.55M220.7 82.3h0.55M206.3 63.9h0.55M231.0 110.3h0.55M212.8 85.0h0.55M206.8 111.0h0.55M204.1 111.6h0.55M217.2 101.7h0.55M204.3 62.5h0.55M206.4 88.6h0.55M203.2 64.2h0.55M210.7 129.3h0.55M211.4 57.1h0.55M217.6 87.6h0.55M237.0 68.9h0.55M205.9 108.6h0.55M204.9 74.6h0.55M222.8 69.4h0.55M206.0 68.3h0.55M251.3 82.5h0.55M213.6 61.1h0.55M219.3 71.3h0.55M204.5 88.5h0.55M222.7 101.9h0.55M206.4 57.9h0.55M209.2 85.3h0.55M208.1 118.7h0.55M208.3 72.2h0.55M221.2 103.6h0.55M218.0 86.6h0.55M206.8 111.7h0.55M205.4 101.7h0.55M206.1 104.2h0.55M240.1 102.3h0.55M210.8 111.8h0.55M204.5 123.1h0.55M232.7 68.9h0.55M222.3 127.5h0.55M210.3 105.5h0.55M200.2 121.3h0.55M204.3 80.4h0.55M201.7 128.5h0.55M229.7 115.1h0.55M200.3 123.0h0.55M214.2 94.0h0.55M232.3 92.6h0.55M208.9 65.5h0.55M203.4 61.3h0.55M204.2 125.5h0.55M203.2 103.9h0.55M212.4 99.4h0.55M202.3 117.7h0.55M198.7 57.3h0.55M201.6 129.1h0.55M201.8 110.2h0.55M202.9 126.7h0.55M210.0 77.4h0.55M211.4 69.1h0.55M205.7 112.8h0.55M247.3 105.1h0.55M232.3 75.4h0.55M215.9 76.5h0.55M203.1 128.2h0.55M210.4 73.9h0.55M209.7 63.2h0.55M245.6 66.2h0.55M225.3 59.3h0.55M208.7 73.3h0.55M203.7 113.7h0.55M210.8 76.1h0.55M216.2 91.1h0.55M205.8 88.7h0.55M210.3 117.8h0.55M209.0 90.7h0.55M210.2 78.1h0.55M212.4 124.9h0.55M205.3 107.4h0.55M214.6 88.6h0.55M201.6 115.8h0.55M203.4 107.6h0.55M206.9 93.5h0.55M209.6 99.0h0.55M201.9 60.7h0.55M249.5 64.9h0.55M203.4 61.3h0.55M214.6 79.5h0.55M235.5 70.1h0.55M235.5 117.1h0.55M221.4 69.6h0.55M211.2 73.6h0.55M205.0 110.9h0.55M210.0 100.9h0.55M207.2 80.4h0.55M203.7 110.5h0.55M206.1 72.6h0.55M210.9 67.9h0.55M204.1 67.1h0.55M206.0 114.6h0.55M208.1 102.1h0.55M209.5 83.6h0.55M220.9 113.4h0.55M204.2 77.9h0.55M215.9 111.5h0.55M205.6 71.0h0.55M205.6 99.8h0.55M207.3 82.9h0.55M207.6 95.2h0.55M224.3 83.5h0.55M204.3 99.6h0.55M220.3 110.3h0.55M226.2 58.7h0.55M200.3 116.8h0.55M204.2 63.8h0.55M206.2 83.9h0.55M212.3 114.0h0.55M236.2 128.0h0.55M206.5 109.4h0.55M212.9 64.4h0.55M198.6 59.5h0.55M198.8 123.5h0.55M199.8 120.4h0.55M206.7 103.6h0.55M215.3 62.2h0.55M212.1 92.3h0.55M204.9 90.4h0.55M218.6 119.4h0.55M211.7 71.2h0.55M204.4 65.5h0.55M229.4 81.5h0.55M219.8 85.6h0.55M209.1 70.6h0.55M206.6 68.0h0.55M204.5 89.2h0.55M207.0 115.9h0.55M202.3 128.4h0.55M209.6 99.0h0.55M206.0 102.3h0.55M202.4 128.7h0.55M207.7 80.6h0.55M201.0 125.9h0.55M199.9 126.2h0.55M210.4 101.2h0.55M206.0 86.4h0.55M208.0 113.0h0.55M210.1 73.5h0.55M205.1 93.0h0.55M209.2 69.2h0.55M207.4 98.2h0.55M216.9 58.8h0.55M213.2 85.3h0.55M205.7 127.8h0.55M207.6 111.8h0.55M206.0 72.5h0.55M213.3 85.2h0.55M206.0 80.2h0.55M205.0 87.8h0.55M202.1 62.4h0.55M201.9 114.1h0.55M210.2 86.8h0.55M216.4 89.8h0.55M244.6 62.4h0.55M223.1 65.6h0.55M241.4 85.1h0.55M211.4 66.9h0.55M207.6 127.9h0.55M197.1 56.3h0.55M205.4 104.6h0.55M206.0 125.7h0.55M206.2 74.0h0.55M206.4 102.0h0.55M201.3 124.7h0.55M209.3 56.6h0.55M206.1 84.5h0.55M205.1 125.3h0.55M239.3 57.3h0.55M202.5 112.2h0.55M206.0 61.5h0.55M204.3 99.2h0.55M199.7 123.6h0.55M195.1 56.3h0.55M209.2 86.1h0.55M201.2 56.9h0.55M208.6 104.6h0.55M251.2 75.8h0.55M203.0 110.0h0.55M222.1 114.8h0.55M216.3 81.2h0.55M200.6 115.3h0.55M206.0 86.4h0.55M205.8 104.1h0.55M202.4 114.8h0.55M201.8 128.7h0.55M216.6 83.8h0.55M204.5 121.0h0.55M204.8 103.1h0.55M204.6 74.9h0.55M196.8 128.8h0.55M228.9 98.8h0.55M214.3 68.9h0.55M213.6 105.7h0.55M209.0 67.4h0.55M205.2 68.4h0.55M228.0 77.8h0.55M233.9 107.0h0.55M205.9 117.1h0.55M220.5 63.9h0.55M214.3 125.8h0.55M208.3 72.5h0.55M204.1 59.0h0.55M206.3 88.6h0.55M239.9 127.6h0.55M219.3 93.4h0.55M197.1 57.5h0.55M231.9 97.4h0.55M200.4 121.5h0.55M214.6 103.8h0.55M227.8 76.7h0.55M217.0 109.6h0.55M201.9 61.9h0.55M207.2 117.1h0.55M220.2 82.8h0.55M203.1 118.1h0.55M204.2 64.3h0.55M209.2 110.1h0.55M199.2 120.4h0.55M249.4 127.5h0.55M204.6 96.3h0.55M203.7 62.5h0.55M204.0 118.6h0.55M206.3 85.8h0.55M205.3 65.0h0.55M204.6 66.6h0.55M202.1 109.6h0.55M218.8 107.0h0.55M238.9 75.3h0.55M215.7 67.8h0.55M208.1 89.2h0.55M219.3 89.3h0.55M208.5 84.3h0.55M226.2 70.1h0.55M212.0 103.1h0.55M207.5 126.0h0.55M216.4 89.2h0.55M234.6 100.5h0.55M229.8 80.1h0.55M213.3 76.3h0.55M203.2 124.4h0.55M210.1 81.1h0.55M223.9 103.6h0.55M206.5 113.2h0.55M214.6 61.5h0.55M219.4 106.2h0.55M208.9 61.7h0.55M219.9 71.0h0.55M203.6 65.9h0.55M225.8 123.6h0.55M212.0 63.2h0.55M205.4 102.3h0.55M207.0 117.5h0.55M204.6 75.7h0.55M228.0 109.6h0.55M224.6 118.9h0.55M199.2 129.3h0.55M237.1 83.6h0.55M224.3 84.9h0.55M200.1 59.3h0.55M203.6 110.7h0.55M211.9 123.0h0.55M207.1 82.5h0.55M206.3 77.1h0.55M205.1 64.7h0.55M212.6 119.7h0.55M200.5 123.8h0.55M204.3 114.5h0.55M203.6 56.3h0.55M200.2 117.9h0.55M203.4 102.4h0.55M208.0 77.9h0.55M210.3 69.6h0.55M200.2 58.0h0.55M221.0 63.9h0.55M203.7 119.0h0.55M206.7 70.8h0.55M203.1 110.7h0.55M201.0 60.2h0.55M197.2 57.7h0.55M204.2 66.4h0.55M236.1 112.9h0.55M203.0 113.5h0.55M213.6 78.4h0.55M206.0 102.6h0.55M203.6 60.5h0.55M202.6 107.1h0.55M213.7 85.0h0.55M213.4 95.0h0.55M215.5 99.1h0.55M199.5 128.6h0.55M200.9 116.5h0.55M197.5 127.9h0.55M224.9 105.8h0.55M204.4 98.5h0.55M208.2 113.6h0.55M218.6 73.5h0.55M223.3 60.3h0.55M240.1 123.6h0.55M219.7 98.8h0.55M206.9 92.0h0.55M204.7 67.4h0.55M207.9 79.3h0.55M210.3 100.2h0.55M214.5 81.2h0.55M204.1 66.4h0.55M237.3 68.8h0.55M240.7 93.6h0.55M205.6 127.9h0.55M209.7 123.7h0.55M215.8 58.0h0.55M209.1 104.6h0.55M219.0 124.1h0.55M204.4 118.6h0.55M207.2 85.0h0.55M209.9 82.1h0.55M204.2 115.5h0.55M204.1 67.8h0.55M218.6 90.0h0.55M248.1 95.2h0.55M207.8 92.7h0.55M198.0 58.9h0.55M225.2 99.4h0.55M209.7 70.0h0.55M225.7 62.1h0.55M205.5 77.0h0.55M212.2 126.3h0.55M204.2 74.9h0.55M244.1 78.1h0.55M205.2 74.4h0.55M207.7 79.1h0.55M208.1 77.9h0.55M212.1 117.1h0.55M204.2 119.8h0.55M207.9 63.8h0.55M216.0 116.4h0.55M216.5 62.6h0.55M216.4 129.4h0.55M217.8 85.3h0.55M198.9 125.5h0.55M211.0 123.6h0.55M231.6 110.0h0.55M204.6 89.8h0.55M210.9 70.7h0.55M199.9 127.7h0.55M210.5 101.7h0.55M205.2 72.1h0.55M203.1 115.2h0.55M215.1 66.5h0.55M200.2 121.4h0.55M205.8 81.3h0.55M200.0 125.8h0.55M218.0 88.7h0.55M226.9 113.8h0.55M230.0 125.4h0.55M236.8 115.5h0.55M209.2 68.7h0.55M215.8 95.3h0.55M203.1 125.9h0.55M207.8 64.3h0.55M224.9 83.6h0.55M228.3 85.1h0.55M207.3 120.9h0.55M200.5 59.1h0.55M205.4 109.1h0.55M250.7 88.8h0.55M218.4 61.8h0.55M225.5 82.2h0.55M207.1 126.2h0.55M205.6 73.4h0.55M207.9 111.7h0.55M221.5 81.7h0.55M207.5 80.1h0.55M204.0 104.7h0.55M224.8 78.0h0.55M202.2 122.9h0.55M216.8 92.1h0.55M206.7 62.4h0.55M222.5 70.8h0.55M204.7 74.4h0.55M226.7 88.2h0.55M213.0 92.3h0.55M204.8 112.3h0.55M206.6 74.7h0.55M225.3 61.6h0.55M199.0 121.6h0.55M210.2 91.9h0.55M220.0 73.6h0.55M212.8 65.7h0.55M202.6 63.3h0.55M205.2 97.5h0.55M213.4 76.3h0.55M238.0 73.3h0.55M210.9 106.3h0.55M209.1 66.6h0.55M207.4 115.4h0.55M209.1 60.2h0.55M206.2 65.1h0.55M205.0 122.2h0.55M210.4 104.0h0.55M217.8 66.6h0.55M206.3 71.2h0.55M204.8 98.0h0.55M202.7 127.3h0.55M206.4 78.5h0.55M220.5 113.8h0.55M213.8 106.3h0.55M212.2 102.1h0.55M234.6 112.0h0.55M201.7 119.8h0.55M208.4 89.7h0.55M201.6 59.5h0.55M206.5 78.4h0.55M229.8 94.7h0.55M204.4 61.6h0.55M210.1 109.1h0.55M203.3 110.0h0.55M214.9 113.1h0.55M227.2 109.8h0.55M204.2 104.3h0.55M224.5 85.8h0.55M211.6 72.1h0.55M225.5 76.3h0.55M224.9 100.5h0.55M224.8 77.6h0.55M211.4 94.0h0.55M205.4 124.2h0.55M209.6 100.2h0.55M209.4 98.4h0.55M209.4 81.8h0.55M206.5 105.8h0.55M221.4 112.6h0.55M206.3 86.6h0.55M209.9 113.2h0.55M213.7 61.0h0.55M204.8 81.9h0.55M201.5 124.4h0.55M227.2 128.2h0.55M217.1 105.6h0.55M219.9 70.7h0.55M202.2 109.1h0.55M203.2 62.5h0.55M222.8 103.3h0.55M208.0 126.5h0.55M203.2 112.9h0.55M195.7 57.4h0.55M205.6 77.7h0.55M214.5 115.0h0.55M206.5 106.2h0.55M226.5 61.8h0.55M215.8 75.7h0.55M246.1 108.8h0.55M218.2 86.7h0.55M205.2 120.9h0.55M227.7 116.8h0.55M214.6 106.0h0.55M231.0 82.5h0.55M231.6 80.3h0.55M197.3 56.9h0.55M221.4 95.8h0.55M222.6 80.3h0.55M204.5 80.0h0.55M207.5 69.2h0.55M207.3 67.4h0.55M205.0 101.7h0.55M204.9 124.3h0.55M222.3 106.5h0.55M218.4 65.8h0.55M210.8 62.1h0.55M199.5 60.6h0.55M204.7 97.6h0.55M207.4 99.1h0.55M222.8 67.4h0.55M198.4 125.3h0.55M203.5 66.3h0.55M206.5 103.7h0.55M205.5 58.3h0.55M214.6 105.8h0.55M203.6 106.1h0.55M204.9 104.6h0.55M206.6 61.4h0.55M204.5 66.8h0.55M233.8 117.8h0.55M198.3 59.3h0.55M203.3 119.0h0.55M203.4 104.1h0.55M226.3 84.5h0.55M222.6 116.6h0.55M206.5 70.9h0.55M227.4 74.2h0.55M206.4 92.7h0.55M218.1 115.5h0.55M198.4 126.8h0.55M204.6 95.3h0.55M204.1 113.8h0.55M208.1 87.9h0.55M203.2 104.1h0.55M202.9 117.2h0.55M213.6 66.6h0.55M211.5 71.5h0.55M232.4 79.8h0.55M212.5 93.8h0.55M227.4 126.3h0.55M193.4 56.3h0.55M206.2 69.6h0.55M213.4 89.6h0.55M212.4 83.0h0.55M199.7 125.4h0.55M195.9 57.1h0.55M223.2 122.6h0.55M224.2 116.3h0.55M204.7 95.5h0.55M222.0 75.5h0.55M206.9 67.6h0.55M205.2 87.4h0.55M229.2 85.9h0.55M217.8 56.4h0.55M219.8 89.8h0.55M207.4 89.3h0.55M205.5 83.9h0.55M222.0 67.1h0.55M205.5 76.7h0.55M203.8 127.5h0.55M223.5 103.2h0.55M207.6 117.2h0.55M200.5 125.3h0.55M221.8 69.3h0.55M210.0 123.6h0.55M218.1 93.9h0.55M224.5 94.8h0.55M202.7 121.6h0.55M200.9 57.2h0.55M202.9 108.9h0.55M216.1 70.3h0.55M200.7 123.1h0.55M209.5 79.8h0.55M235.8 75.4h0.55M200.5 118.5h0.55M210.1 95.6h0.55M205.7 72.7h0.55M208.1 83.3h0.55M210.9 109.2h0.55M232.9 113.4h0.55M205.3 73.0h0.55M208.3 65.8h0.55M207.0 69.8h0.55M232.2 63.6h0.55M214.4 82.2h0.55M197.9 125.7h0.55M205.4 62.3h0.55M200.3 125.9h0.55M198.1 126.7h0.55M202.6 106.9h0.55M220.6 70.9h0.55M202.5 111.7h0.55M227.5 115.1h0.55M204.2 104.1h0.55M214.9 74.6h0.55M220.2 93.2h0.55M216.2 71.7h0.55M204.1 74.9h0.55M206.9 91.5h0.55M204.4 62.1h0.55M218.4 75.0h0.55M205.2 74.8h0.55M217.7 72.8h0.55M198.5 127.8h0.55M211.8 78.5h0.55M213.1 107.3h0.55M230.0 78.6h0.55M219.8 65.3h0.55M208.3 103.7h0.55M230.8 80.1h0.55M206.3 59.9h0.55M204.1 101.2h0.55M205.3 97.2h0.55M200.2 121.1h0.55M209.6 98.0h0.55M212.6 94.2h0.55M201.7 128.0h0.55M197.0 58.1h0.55M211.5 76.3h0.55M212.3 76.8h0.55M215.5 66.1h0.55M226.9 93.1h0.55M213.2 112.0h0.55M207.7 82.6h0.55M225.6 68.0h0.55M213.6 72.7h0.55M205.3 94.2h0.55M206.0 85.9h0.55M220.4 123.5h0.55M207.0 85.5h0.55M206.1 71.6h0.55M211.1 100.2h0.55M210.0 113.7h0.55M206.0 97.1h0.55M229.4 69.5h0.55M209.8 73.3h0.55M207.7 112.6h0.55M199.4 126.8h0.55M205.1 120.1h0.55M213.5 73.3h0.55M204.8 87.3h0.55M215.4 119.3h0.55M204.2 117.8h0.55M207.7 76.5h0.55M211.6 99.5h0.55M197.8 57.5h0.55M205.8 72.2h0.55M219.4 95.8h0.55M205.4 110.3h0.55M214.9 97.6h0.55M210.1 100.0h0.55M212.0 94.3h0.55M218.9 103.8h0.55M202.3 122.4h0.55M215.5 64.6h0.55M215.4 58.8h0.55M209.5 95.1h0.55M208.7 122.8h0.55M206.8 78.7h0.55M223.0 86.8h0.55M221.0 70.8h0.55M216.9 89.8h0.55M204.0 69.2h0.55M207.4 97.2h0.55M204.8 90.6h0.55M221.5 97.5h0.55M210.9 118.8h0.55M212.1 64.1h0.55M228.9 79.9h0.55M211.2 99.4h0.55M213.9 84.4h0.55M200.5 117.2h0.55M228.6 97.3h0.55M245.4 74.4h0.55M199.6 126.8h0.55M209.4 81.4h0.55M215.1 65.3h0.55M204.6 125.3h0.55M217.0 69.3h0.55M202.7 123.9h0.55M205.8 61.6h0.55M208.9 105.7h0.55M207.3 92.8h0.55M205.8 80.7h0.55M200.7 120.5h0.55M208.2 94.6h0.55M204.1 69.7h0.55M200.7 119.8h0.55M206.5 86.2h0.55M203.3 124.0h0.55M207.4 109.7h0.55M205.9 124.9h0.55M215.9 63.9h0.55M215.2 94.2h0.55M203.5 123.0h0.55M204.3 75.9h0.55M199.2 60.3h0.55M209.9 124.6h0.55M205.5 89.9h0.55M208.0 78.5h0.55M217.5 85.2h0.55M215.9 95.2h0.55M204.7 63.7h0.55M197.1 127.6h0.55M213.7 102.0h0.55M201.5 116.8h0.55M199.1 59.6h0.55M204.5 83.2h0.55M197.8 125.0h0.55M208.2 61.1h0.55M208.4 68.7h0.55M221.1 95.2h0.55M212.4 70.2h0.55M207.0 93.0h0.55M222.4 88.3h0.55M204.1 64.3h0.55M198.9 123.2h0.55M208.6 117.8h0.55M206.8 98.4h0.55M205.9 103.6h0.55M219.8 100.3h0.55M204.2 97.1h0.55M220.1 113.5h0.55M206.7 72.3h0.55M218.4 79.8h0.55M202.7 128.4h0.55M197.6 126.4h0.55M247.4 128.4h0.55M201.8 109.6h0.55M235.7 93.9h0.55M213.4 129.0h0.55M226.9 116.8h0.55M206.0 99.8h0.55M201.7 114.8h0.55M205.0 103.6h0.55M218.4 81.7h0.55M210.0 99.8h0.55M208.4 89.5h0.55M220.6 103.4h0.55M204.8 105.7h0.55M215.7 94.3h0.55M205.2 85.3h0.55M205.1 71.0h0.55M223.8 76.0h0.55M232.1 102.4h0.55M207.1 93.0h0.55M208.2 65.8h0.55M204.3 70.1h0.55M205.1 106.1h0.55M205.0 69.4h0.55M204.6 92.0h0.55M200.9 60.8h0.55M212.7 80.2h0.55M209.9 85.4h0.55M194.8 56.9h0.55M215.8 80.2h0.55M198.2 125.9h0.55M206.9 113.4h0.55M241.7 83.0h0.55M206.1 75.1h0.55M204.6 110.6h0.55M237.5 60.2h0.55M228.1 113.7h0.55M227.1 101.3h0.55M206.5 111.5h0.55M216.5 64.1h0.55M206.2 127.4h0.55M213.1 115.3h0.55M202.2 107.2h0.55M203.5 59.4h0.55M201.6 122.6h0.55M206.4 96.2h0.55M206.1 81.3h0.55M209.3 105.7h0.55M199.7 61.0h0.55M204.7 105.1h0.55M195.6 56.9h0.55M207.1 63.0h0.55M197.8 58.6h0.55M213.2 94.2h0.55M219.6 107.2h0.55M207.3 62.5h0.55M208.1 92.6h0.55M209.3 58.1h0.55M226.3 121.5h0.55M214.7 114.7h0.55M205.2 97.9h0.55M206.9 114.8h0.55M201.6 122.4h0.55M204.6 122.6h0.55M205.3 62.4h0.55M215.7 115.1h0.55M207.5 105.8h0.55M205.0 82.7h0.55M204.4 96.5h0.55M214.5 74.8h0.55M211.3 84.9h0.55M232.3 60.0h0.55M204.6 73.2h0.55M205.1 71.9h0.55M246.5 123.1h0.55M206.0 81.7h0.55M211.8 102.9h0.55M210.3 66.3h0.55M214.9 99.6h0.55M244.1 67.8h0.55M209.0 67.8h0.55M215.5 113.5h0.55M208.9 89.8h0.55M209.2 102.7h0.55M216.0 79.9h0.55M228.6 104.3h0.55M206.1 62.8h0.55M216.8 92.7h0.55M206.2 107.7h0.55M212.6 91.3h0.55M202.8 108.3h0.55M205.7 95.8h0.55M204.4 104.2h0.55M204.8 100.6h0.55M202.2 62.5h0.55M213.7 82.4h0.55M205.6 67.7h0.55M215.7 94.3h0.55M206.6 64.8h0.55M209.8 70.7h0.55M217.8 79.7h0.55M206.0 100.1h0.55M215.8 65.3h0.55M202.7 106.1h0.55M201.3 115.0h0.55M240.4 73.7h0.55M215.9 95.8h0.55M205.8 119.1h0.55M211.7 88.1h0.55M206.7 97.9h0.55M206.8 102.1h0.55M210.1 111.2h0.55M201.2 113.2h0.55M211.2 125.6h0.55M203.0 128.4h0.55M227.8 65.0h0.55M217.2 105.4h0.55M200.8 57.7h0.55M212.9 63.9h0.55M205.3 83.3h0.55M210.6 92.6h0.55M206.4 84.3h0.55M202.6 118.6h0.55M222.8 82.2h0.55M226.0 74.2h0.55M210.0 76.9h0.55M230.1 109.1h0.55M205.4 116.1h0.55M204.2 80.3h0.55M202.2 58.4h0.55M203.7 69.1h0.55M240.9 89.0h0.55M208.7 80.3h0.55M206.7 88.7h0.55M199.4 60.0h0.55M224.8 57.9h0.55M202.0 113.7h0.55M206.0 118.2h0.55M222.0 112.2h0.55M223.3 65.8h0.55M211.2 90.4h0.55M208.0 117.6h0.55M213.7 116.4h0.55M207.4 58.6h0.55M204.5 68.0h0.55M230.2 80.8h0.55M201.3 60.4h0.55M210.5 89.3h0.55M210.1 81.7h0.55M198.2 58.9h0.55M208.2 70.0h0.55M204.3 103.0h0.55M203.8 111.5h0.55M207.3 66.2h0.55M221.9 72.9h0.55M208.0 64.0h0.55M204.5 70.1h0.55M213.3 62.8h0.55M230.7 120.4h0.55M209.1 110.8h0.55M229.1 104.9h0.55M203.9 107.3h0.55M206.3 82.6h0.55M204.3 69.9h0.55M202.1 57.3h0.55M220.3 86.1h0.55M202.9 122.7h0.55M204.1 70.3h0.55M215.6 77.8h0.55M207.5 111.2h0.55M211.4 78.4h0.55M204.2 125.8h0.55M200.5 116.0h0.55M205.7 66.0h0.55M205.3 70.6h0.55M233.3 115.8h0.55M232.4 62.4h0.55M210.8 64.5h0.55M237.0 115.2h0.55M210.0 94.6h0.55M236.4 121.2h0.55M239.7 112.9h0.55M203.4 111.7h0.55M209.2 69.2h0.55M201.6 127.1h0.55M199.8 125.1h0.55M215.3 126.2h0.55M206.4 96.1h0.55M208.5 93.5h0.55M206.2 112.9h0.55M199.5 123.3h0.55M207.8 74.8h0.55M210.6 65.0h0.55M200.8 117.7h0.55M225.7 96.5h0.55M210.7 91.2h0.55M201.8 112.5h0.55M196.4 56.2h0.55M211.3 63.6h0.55M200.0 61.0h0.55M215.5 86.5h0.55M204.1 113.0h0.55M220.9 74.0h0.55M208.7 120.1h0.55M217.5 61.0h0.55M206.5 81.3h0.55M211.4 73.1h0.55M199.7 126.4h0.55M206.4 68.3h0.55M202.3 118.6h0.55M236.3 65.6h0.55M241.5 100.7h0.55M203.2 105.0h0.55M212.0 88.5h0.55M220.3 114.2h0.55M204.6 105.6h0.55M208.8 87.5h0.55M204.9 67.4h0.55M208.3 62.9h0.55M204.5 122.7h0.55M206.9 106.7h0.55M220.6 78.7h0.55M202.7 59.8h0.55M214.8 80.7h0.55M210.9 123.9h0.55M216.2 73.7h0.55M207.4 112.6h0.55M207.4 79.7h0.55M197.9 124.7h0.55M201.7 109.7h0.55M203.2 103.5h0.55M207.5 83.0h0.55M205.6 102.1h0.55M208.8 105.6h0.55M230.1 121.4h0.55M208.0 117.5h0.55M204.2 117.7h0.55M203.4 63.0h0.55M206.8 125.5h0.55M209.9 100.6h0.55M246.8 102.6h0.55M202.7 64.3h0.55M235.3 90.8h0.55M202.1 115.3h0.55M203.4 60.5h0.55M196.8 129.4h0.55M218.1 77.3h0.55M211.1 121.9h0.55M249.6 102.9h0.55M202.4 114.2h0.55M200.7 61.5h0.55M229.0 108.7h0.55M221.4 79.3h0.55M204.4 67.2h0.55M204.3 66.6h0.55M198.8 127.5h0.55M211.9 72.3h0.55M234.0 67.5h0.55M212.7 116.3h0.55M204.9 74.3h0.55M205.8 82.1h0.55M210.9 115.7h0.55M209.7 81.3h0.55M217.1 126.0h0.55M213.2 80.3h0.55M205.6 71.9h0.55M197.5 126.2h0.55M204.4 72.7h0.55M239.7 58.7h0.55M219.5 90.9h0.55M205.8 67.4h0.55M215.5 91.5h0.55M215.4 76.0h0.55M208.8 115.8h0.55M209.6 92.1h0.55M210.5 103.3h0.55M205.9 108.7h0.55M209.4 69.5h0.55M200.8 57.7h0.55M209.8 101.7h0.55M229.8 129.4h0.55M216.3 76.0h0.55M232.6 84.3h0.55M203.6 62.9h0.55M216.0 122.8h0.55M209.6 106.1h0.55M197.5 128.4h0.55M225.9 98.2h0.55M204.1 101.8h0.55M210.0 66.5h0.55M229.3 86.4h0.55M237.7 63.1h0.55M210.2 82.0h0.55M206.4 87.7h0.55M205.1 111.7h0.55M212.7 84.5h0.55M204.3 96.4h0.55M201.5 62.4h0.55M205.4 113.4h0.55M210.8 93.7h0.55M204.0 114.4h0.55M210.2 113.7h0.55M226.3 77.6h0.55M212.4 90.4h0.55M213.6 100.3h0.55M205.6 119.3h0.55M204.0 109.6h0.55M204.9 97.7h0.55M216.8 77.2h0.55M199.8 120.0h0.55M219.2 72.7h0.55M206.1 86.1h0.55M207.9 112.2h0.55M205.3 70.9h0.55M214.4 79.6h0.55M200.6 59.2h0.55M198.6 122.9h0.55M237.9 83.6h0.55M198.9 123.6h0.55M239.1 96.9h0.55M230.8 71.9h0.55M205.3 88.9h0.55M213.7 87.2h0.55M242.3 128.7h0.55M201.5 60.5h0.55M197.4 126.2h0.55M209.4 103.5h0.55M236.6 90.7h0.55M211.4 88.1h0.55M200.2 118.9h0.55M203.6 65.4h0.55M204.9 85.3h0.55M202.2 63.4h0.55M227.3 85.2h0.55M250.0 117.2h0.55M208.5 66.4h0.55M202.4 59.6h0.55M240.7 119.8h0.55M204.0 100.0h0.55M206.2 85.1h0.55M208.1 84.9h0.55M222.7 98.6h0.55M208.1 67.7h0.55M207.8 92.4h0.55M212.1 75.4h0.55M205.7 101.1h0.55M239.5 123.5h0.55M208.8 67.4h0.55M236.8 63.7h0.55M209.0 123.9h0.55M213.3 91.8h0.55M216.7 83.1h0.55M212.3 84.5h0.55M207.0 83.8h0.55M212.3 87.2h0.55M205.4 88.5h0.55M203.9 107.7h0.55M211.2 73.5h0.55M204.9 103.6h0.55M200.1 121.6h0.55M206.7 108.3h0.55M204.9 106.2h0.55M206.5 129.0h0.55M235.4 67.6h0.55M207.9 88.0h0.55M203.1 123.8h0.55M205.4 66.5h0.55M214.2 73.5h0.55M196.7 129.5h0.55M204.1 110.9h0.55M204.8 96.0h0.55M205.6 68.2h0.55M208.4 80.3h0.55M246.0 121.0h0.55M214.7 94.0h0.55M206.2 93.2h0.55M213.5 92.3h0.55M223.1 73.5h0.55M204.3 109.9h0.55M203.4 110.2h0.55M199.4 57.1h0.55M201.5 119.4h0.55M206.1 125.3h0.55M206.3 99.8h0.55M208.2 76.3h0.55M196.6 58.3h0.55M225.2 103.2h0.55M220.3 64.6h0.55M203.1 110.9h0.55M207.0 125.8h0.55M205.0 69.7h0.55M214.4 101.2h0.55M208.5 64.6h0.55M200.9 122.0h0.55M238.3 77.6h0.55M206.7 73.2h0.55M208.9 69.2h0.55M234.2 126.5h0.55M234.9 75.0h0.55M227.5 97.0h0.55M207.7 97.3h0.55M198.5 58.2h0.55M206.1 112.6h0.55M211.7 99.1h0.55M245.3 115.8h0.55M248.1 84.1h0.55M209.3 110.4h0.55M215.0 92.4h0.55M211.4 100.6h0.55M204.2 67.2h0.55M207.0 70.8h0.55M205.8 69.4h0.55M203.1 113.7h0.55M209.8 64.9h0.55M197.8 125.0h0.55M204.7 112.5h0.55M208.8 102.8h0.55M208.0 116.0h0.55M205.6 118.4h0.55M206.8 85.6h0.55M229.1 99.4h0.55M214.8 96.4h0.55M213.0 67.1h0.55M204.9 70.8h0.55M207.1 81.6h0.55M208.4 117.8h0.55M220.3 87.2h0.55M199.8 129.0h0.55M206.3 84.3h0.55M212.3 86.9h0.55M210.7 68.8h0.55M208.7 113.8h0.55M212.1 61.8h0.55M207.5 113.5h0.55M218.9 125.6h0.55M204.5 72.6h0.55M223.3 117.8h0.55M213.3 75.3h0.55M241.1 57.3h0.55M212.9 88.4h0.55M238.1 93.8h0.55M201.9 113.9h0.55M211.1 73.0h0.55M199.9 57.5h0.55M200.9 128.7h0.55M204.3 105.4h0.55M207.3 94.7h0.55M215.0 92.4h0.55M196.6 56.0h0.55M204.1 97.7h0.55M206.9 117.1h0.55M204.9 94.5h0.55M200.7 119.9h0.55M221.6 62.0h0.55M218.2 100.3h0.55M233.3 125.0h0.55M197.1 58.6h0.55M205.2 92.1h0.55M203.5 65.9h0.55M212.6 106.3h0.55M202.8 109.5h0.55M203.4 64.4h0.55M239.8 63.7h0.55M225.6 91.9h0.55M213.2 66.2h0.55M228.6 100.0h0.55M202.4 110.2h0.55M204.9 118.5h0.55M201.2 114.0h0.55M204.7 113.7h0.55M205.6 103.8h0.55M212.1 128.5h0.55M207.8 79.2h0.55M212.2 108.1h0.55M203.3 65.0h0.55M206.6 89.5h0.55M201.8 122.9h0.55M201.4 61.3h0.55M211.2 57.7h0.55M221.9 59.2h0.55M197.8 128.6h0.55M245.9 110.8h0.55M204.3 64.1h0.55M230.9 98.9h0.55M207.7 81.5h0.55M205.3 97.0h0.55M216.1 86.0h0.55M210.3 62.0h0.55M227.5 109.9h0.55M214.2 105.6h0.55M212.2 72.9h0.55M242.3 100.3h0.55M206.3 96.3h0.55M211.2 93.7h0.55M203.0 111.8h0.55M205.7 72.6h0.55M221.7 91.4h0.55M211.3 91.8h0.55M204.5 81.4h0.55M224.9 81.3h0.55M209.9 70.7h0.55M206.4 73.4h0.55M227.2 111.0h0.55M209.0 102.3h0.55M213.6 100.3h0.55M209.1 108.9h0.55M218.9 85.2h0.55M220.7 65.4h0.55M198.3 126.4h0.55M198.5 123.5h0.55M211.9 57.1h0.55M205.6 82.0h0.55M203.9 100.9h0.55M215.8 65.9h0.55M197.9 128.0h0.55M210.0 107.4h0.55M222.1 100.9h0.55M223.0 100.4h0.55M213.9 102.0h0.55M209.7 68.3h0.55M206.2 85.3h0.55M203.1 61.4h0.55M200.3 119.3h0.55M210.3 58.9h0.55M197.1 57.6h0.55M201.8 114.0h0.55M208.5 83.1h0.55M212.1 79.3h0.55M212.5 107.4h0.55M198.9 123.1h0.55M236.9 83.6h0.55M209.4 103.5h0.55M226.1 104.2h0.55M230.4 78.5h0.55M216.5 61.3h0.55M218.5 94.3h0.55M204.9 102.2h0.55M199.4 125.1h0.55M207.1 110.0h0.55M222.2 93.5h0.55M200.4 119.4h0.55M197.4 58.7h0.55M216.8 90.1h0.55M210.2 74.0h0.55M216.0 82.9h0.55M204.0 60.1h0.55M213.6 108.5h0.55M209.3 56.1h0.55M204.1 117.8h0.55M205.5 56.5h0.55M205.5 113.2h0.55M200.5 122.8h0.55M212.5 66.3h0.55M198.2 128.1h0.55M207.9 106.5h0.55M217.0 123.4h0.55M202.2 108.2h0.55M206.6 110.7h0.55M207.9 91.0h0.55M212.7 77.6h0.55M215.1 82.8h0.55M205.1 80.3h0.55M206.7 97.2h0.55M200.6 116.5h0.55M216.2 63.7h0.55M206.8 83.2h0.55M196.4 56.6h0.55M204.2 96.0h0.55M218.6 56.2h0.55M206.1 76.6h0.55M205.5 86.3h0.55M206.0 74.4h0.55M217.5 84.7h0.55M209.7 72.1h0.55M205.2 86.9h0.55M224.0 108.1h0.55M201.9 114.2h0.55M204.3 77.1h0.55M218.3 61.2h0.55M224.9 119.5h0.55M214.3 107.9h0.55M207.7 76.5h0.55M246.1 73.4h0.55M205.6 64.9h0.55M201.2 115.2h0.55M237.1 109.3h0.55M215.5 57.9h0.55M245.4 88.9h0.55M203.8 110.3h0.55M210.5 117.9h0.55M204.0 70.2h0.55M215.1 120.4h0.55M210.8 64.7h0.55M205.8 95.8h0.55M207.8 95.1h0.55M202.0 121.8h0.55M223.9 81.9h0.55M220.5 67.2h0.55M203.0 113.7h0.55M197.5 58.7h0.55M211.7 96.8h0.55M212.8 108.8h0.55M209.5 105.0h0.55M217.3 73.7h0.55M204.8 89.2h0.55M208.0 71.4h0.55M217.4 69.4h0.55M245.1 100.8h0.55M205.7 96.8h0.55M201.5 118.8h0.55M207.6 58.0h0.55M202.6 128.4h0.55M205.4 81.5h0.55M200.9 114.8h0.55M206.6 94.7h0.55M207.2 93.7h0.55M232.7 71.4h0.55M208.9 117.5h0.55M210.6 106.1h0.55M212.2 83.4h0.55M212.0 114.3h0.55M212.1 121.3h0.55M215.2 77.4h0.55M211.9 108.3h0.55M223.2 116.7h0.55M210.6 116.0h0.55M202.6 121.5h0.55M211.8 127.7h0.55M202.1 110.6h0.55M209.6 83.2h0.55M204.5 79.7h0.55M207.8 73.0h0.55M208.0 88.6h0.55M203.1 63.3h0.55M229.2 85.6h0.55M207.6 113.9h0.55M204.8 98.7h0.55M222.5 70.0h0.55M204.5 71.5h0.55M214.1 122.7h0.55M207.4 79.7h0.55M214.7 96.8h0.55M212.6 77.6h0.55M209.5 75.7h0.55M206.5 86.3h0.55M203.1 119.2h0.55M201.8 58.8h0.55M208.3 102.5h0.55M226.0 128.5h0.55M206.0 96.4h0.55M212.6 122.3h0.55M213.9 102.3h0.55M211.0 101.5h0.55M216.7 105.3h0.55M223.9 96.1h0.55M205.8 80.6h0.55M204.7 113.6h0.55M203.0 63.3h0.55M199.3 120.2h0.55M206.4 101.4h0.55M207.7 85.2h0.55M213.0 127.7h0.55M205.5 125.4h0.55M211.4 83.2h0.55M206.9 99.6h0.55M206.9 117.9h0.55M202.7 61.7h0.55M228.6 86.8h0.55M201.4 61.6h0.55M213.2 75.1h0.55M208.8 94.5h0.55M209.8 77.6h0.55M213.3 73.4h0.55M202.5 113.1h0.55M201.0 60.7h0.55M198.4 59.0h0.55M206.9 92.1h0.55M209.2 90.1h0.55M200.8 61.8h0.55M205.7 74.6h0.55M197.3 126.6h0.55M206.5 88.5h0.55M211.2 103.5h0.55M201.6 117.8h0.55M208.9 74.5h0.55M232.3 111.5h0.55M204.0 57.6h0.55M212.2 65.5h0.55M204.2 62.9h0.55M204.7 90.2h0.55M202.8 116.4h0.55M201.3 114.1h0.55M231.8 104.0h0.55M212.8 107.1h0.55M232.3 101.8h0.55M202.2 111.3h0.55M218.2 79.2h0.55M205.3 94.8h0.55M204.0 127.5h0.55M201.9 63.0h0.55M226.4 105.5h0.55M204.6 95.7h0.55M194.2 56.1h0.55M230.7 67.3h0.55M204.7 95.4h0.55M216.5 112.3h0.55M204.0 99.0h0.55M203.4 107.2h0.55M198.9 127.7h0.55M197.4 58.3h0.55M202.6 62.1h0.55M206.0 74.1h0.55M211.6 123.0h0.55M202.0 128.0h0.55M241.6 112.5h0.55M218.4 88.3h0.55M205.3 66.0h0.55M227.4 82.9h0.55M204.3 119.1h0.55M222.2 110.6h0.55M200.6 116.6h0.55M205.3 97.1h0.55M236.3 80.9h0.55M213.8 63.5h0.55M226.5 74.2h0.55M206.6 73.6h0.55M206.8 102.4h0.55M202.7 60.3h0.55M206.0 77.2h0.55M205.0 85.2h0.55M199.6 125.6h0.55M230.1 64.4h0.55M202.5 117.7h0.55M208.9 79.2h0.55M207.0 86.0h0.55M200.4 118.1h0.55M205.4 61.9h0.55M213.2 64.3h0.55M200.7 59.9h0.55M202.8 125.6h0.55M207.0 64.1h0.55M221.6 93.9h0.55M204.6 101.3h0.55M201.0 129.1h0.55M211.2 104.2h0.55M210.8 113.4h0.55M201.2 117.5h0.55M216.2 71.8h0.55M220.7 94.8h0.55M233.5 79.0h0.55M226.7 100.5h0.55M221.3 94.0h0.55M248.2 96.9h0.55M218.8 106.7h0.55M221.8 114.0h0.55M210.9 103.9h0.55M208.1 73.8h0.55M207.2 109.6h0.55M207.8 103.1h0.55M204.7 105.4h0.55M214.4 87.7h0.55M212.9 69.8h0.55M204.1 116.9h0.55M201.9 118.3h0.55M202.7 111.3h0.55M215.2 76.4h0.55M202.2 116.4h0.55M226.4 64.1h0.55M233.6 125.6h0.55M243.1 74.1h0.55M209.9 83.4h0.55M219.7 99.1h0.55M234.0 74.6h0.55M210.3 106.0h0.55M207.3 112.4h0.55M206.1 87.5h0.55M205.1 91.8h0.55M207.0 76.4h0.55M227.5 86.8h0.55M210.9 95.2h0.55M201.2 113.0h0.55M197.1 58.3h0.55M202.1 110.1h0.55M216.6 81.0h0.55M206.6 69.8h0.55M216.5 108.2h0.55M207.6 95.5h0.55M204.8 59.7h0.55M202.9 103.4h0.55M231.5 118.3h0.55M227.9 120.1h0.55M201.3 57.7h0.55M211.3 92.1h0.55M211.8 101.9h0.55M200.0 122.2h0.55M217.0 88.1h0.55M197.3 127.0h0.55M232.7 90.2h0.55M204.7 70.8h0.55M204.8 78.9h0.55M233.0 74.8h0.55M206.9 81.9h0.55M236.5 117.9h0.55M204.9 112.4h0.55M205.3 77.8h0.55M204.0 126.0h0.55M205.5 114.2h0.55M241.1 110.2h0.55M211.3 105.8h0.55M205.3 97.6h0.55M203.4 108.8h0.55M215.6 69.0h0.55M199.8 121.8h0.55M225.7 123.3h0.55M208.5 101.6h0.55M205.6 80.2h0.55M203.4 105.4h0.55M199.5 125.5h0.55M210.7 75.0h0.55M208.8 94.3h0.55M219.2 64.5h0.55M203.9 66.4h0.55M205.0 69.0h0.55M206.8 93.0h0.55M215.4 95.6h0.55M203.7 104.2h0.55M220.4 91.6h0.55M206.7 85.8h0.55M205.0 64.8h0.55M208.4 66.4h0.55M213.6 107.9h0.55M205.4 86.9h0.55M204.0 65.2h0.55M207.0 74.9h0.55M222.2 111.5h0.55M213.0 86.8h0.55M209.6 90.5h0.55M202.9 64.3h0.55M208.5 106.0h0.55M203.8 63.1h0.55M216.9 69.8h0.55M200.7 124.2h0.55M243.4 129.3h0.55M235.1 113.0h0.55M205.7 82.6h0.55M213.2 60.6h0.55M218.8 76.9h0.55M209.9 108.0h0.55M228.1 101.5h0.55M204.1 124.4h0.55M212.8 86.7h0.55M199.7 127.9h0.55M199.2 122.1h0.55M205.4 77.5h0.55M200.8 59.7h0.55M223.0 80.3h0.55M221.3 86.2h0.55M211.5 76.3h0.55M211.1 119.3h0.55M201.9 114.5h0.55M223.8 80.0h0.55M205.1 93.5h0.55M209.9 66.2h0.55M212.9 115.5h0.55M201.1 124.9h0.55M216.7 60.0h0.55M198.8 121.4h0.55M221.1 74.5h0.55M206.9 65.3h0.55M205.7 71.2h0.55M220.0 60.4h0.55M217.1 126.1h0.55M209.1 66.2h0.55M215.9 83.0h0.55M218.8 70.7h0.55M202.4 116.6h0.55M205.1 123.6h0.55M207.2 90.9h0.55M200.7 115.6h0.55M208.7 67.5h0.55M211.1 92.0h0.55M203.5 104.1h0.55M233.0 102.7h0.55M214.3 110.7h0.55M211.0 88.0h0.55M214.2 64.6h0.55M230.7 73.8h0.55M207.3 71.2h0.55M200.5 116.0h0.55M213.7 74.8h0.55M205.1 72.2h0.55M201.1 59.5h0.55M188.1 51.5h0.55M187.8 49.0h0.55M195.1 53.1h0.55M161.1 56.2h0.55M182.3 47.7h0.55M195.3 54.1h0.55M158.9 51.9h0.55M189.5 50.8h0.55M181.5 55.3h0.55M167.5 59.0h0.55M167.2 50.0h0.55M203.0 55.7h0.55M199.2 54.2h0.55M199.4 57.2h0.55M161.2 54.9h0.55M189.4 52.6h0.55M160.9 56.4h0.55M194.0 51.2h0.55M163.0 47.7h0.55M193.9 52.3h0.55M164.9 55.5h0.55M200.8 57.6h0.55M190.6 52.8h0.55M180.0 53.4h0.55M176.5 48.3h0.55M183.6 53.2h0.55M160.5 55.2h0.55M198.1 52.7h0.55M193.8 54.4h0.55M196.3 51.3h0.55M199.6 51.6h0.55M185.4 49.2h0.55M192.9 54.8h0.55M174.9 59.0h0.55M198.6 52.8h0.55M168.6 53.0h0.55M186.1 51.8h0.55M182.4 50.1h0.55M195.2 52.7h0.55M199.6 50.2h0.55M172.9 54.0h0.55M180.5 52.8h0.55M175.2 50.7h0.55M172.3 54.8h0.55M200.7 58.3h0.55M192.6 53.7h0.55M165.6 54.6h0.55M196.9 51.0h0.55M194.8 53.8h0.55M168.2 57.0h0.55M168.9 57.4h0.55M185.9 49.3h0.55M173.2 60.3h0.55M199.4 56.0h0.55M177.2 54.7h0.55M161.7 59.1h0.55M168.6 54.6h0.55M169.7 50.9h0.55M184.3 52.9h0.55M202.7 54.5h0.55M176.0 57.4h0.55M190.7 49.1h0.55M197.1 58.8h0.55M175.6 51.7h0.55M193.9 53.2h0.55M161.9 50.5h0.55M188.4 51.0h0.55M195.4 52.7h0.55M202.5 59.8h0.55M161.7 46.6h0.55M202.0 48.6h0.55M159.6 58.0h0.55M192.4 53.2h0.55M160.8 57.5h0.55M162.2 54.6h0.55M174.3 52.9h0.55M195.7 57.1h0.55M172.5 52.1h0.55M158.0 52.7h0.55M180.8 55.5h0.55M175.6 50.7h0.55M162.9 49.5h0.55M157.9 48.7h0.55M172.9 61.5h0.55M172.1 58.9h0.55M178.7 52.4h0.55M162.5 52.8h0.55M191.1 51.1h0.55M167.9 58.4h0.55M177.4 54.6h0.55M174.8 43.1h0.55M179.9 55.8h0.55M196.9 50.4h0.55M158.9 53.8h0.55M159.0 56.0h0.55M172.9 55.1h0.55M169.3 57.3h0.55M191.6 46.5h0.55M179.9 49.1h0.55M174.2 60.6h0.55M190.9 52.1h0.55M201.2 53.8h0.55M199.9 58.5h0.55M159.5 53.6h0.55M193.5 54.7h0.55M163.8 49.9h0.55M169.1 60.0h0.55M202.9 56.4h0.55M201.4 53.1h0.55M174.1 49.9h0.55M195.2 54.7h0.55M165.5 63.0h0.55M162.0 61.7h0.55M174.8 53.4h0.55M171.4 53.3h0.55M183.9 51.3h0.55M202.6 52.1h0.55M178.4 56.9h0.55M174.1 51.3h0.55M160.9 59.0h0.55M197.6 50.5h0.55M176.5 54.7h0.55M165.6 55.5h0.55M163.6 55.1h0.55M170.8 58.2h0.55M203.5 59.2h0.55M200.9 54.5h0.55M167.9 59.2h0.55M174.8 45.5h0.55M165.5 54.8h0.55M162.0 59.4h0.55M162.1 54.0h0.55M179.4 56.8h0.55M171.2 52.7h0.55M193.2 52.8h0.55M182.0 44.5h0.55M174.5 56.9h0.55M167.9 54.3h0.55M191.0 54.1h0.55M175.8 59.3h0.55M197.3 56.2h0.55M202.2 55.7h0.55M188.4 48.1h0.55M192.8 55.5h0.55M177.7 53.8h0.55M171.8 53.1h0.55M164.7 50.5h0.55M172.9 51.8h0.55M200.1 54.3h0.55M171.6 47.6h0.55M173.7 56.5h0.55M202.3 51.0h0.55M159.4 51.7h0.55M195.7 56.9h0.55M180.2 46.3h0.55M161.4 57.9h0.55M176.6 51.2h0.55M195.1 52.7h0.55M176.3 54.6h0.55M191.3 53.0h0.55M170.0 52.2h0.55M198.3 58.4h0.55M169.6 52.6h0.55M197.7 51.1h0.55M193.6 54.4h0.55M171.0 57.9h0.55M185.0 53.6h0.55M174.3 60.1h0.55M165.2 49.1h0.55M158.4 50.7h0.55M202.4 51.6h0.55M190.0 54.1h0.55M193.2 55.5h0.55M173.8 54.6h0.55M158.3 55.2h0.55M159.1 56.5h0.55M171.8 50.3h0.55M169.2 47.0h0.55M180.6 56.0h0.55M170.3 59.4h0.55M199.7 55.6h0.55M175.1 53.4h0.55M173.1 56.9h0.55M174.3 53.7h0.55M168.8 50.2h0.55M163.3 53.5h0.55M172.9 56.1h0.55M176.1 57.4h0.55M199.5 53.1h0.55M200.4 60.1h0.55M193.4 53.1h0.55M178.5 55.3h0.55M198.0 50.7h0.55M173.6 53.4h0.55M171.8 59.7h0.55M160.9 58.8h0.55M195.6 52.8h0.55M201.0 54.7h0.55M171.0 54.1h0.55M169.3 56.4h0.55M193.0 53.3h0.55M163.5 50.9h0.55M174.3 51.7h0.55M202.5 56.8h0.55M174.3 56.1h0.55M181.4 55.3h0.55M177.7 57.6h0.55M192.4 51.8h0.55M189.3 53.5h0.55M191.3 51.6h0.55M175.2 54.0h0.55M174.9 56.9h0.55M179.0 55.8h0.55M178.6 54.1h0.55M158.1 55.4h0.55M158.4 58.4h0.55M166.8 52.5h0.55M189.2 51.6h0.55M202.3 58.1h0.55M158.0 53.6h0.55M157.9 54.4h0.55M182.1 54.3h0.55M196.3 53.5h0.55M197.4 48.5h0.55M164.1 54.7h0.55M172.1 53.3h0.55M188.0 50.2h0.55M196.0 53.0h0.55M197.4 55.9h0.55M188.8 53.1h0.55M167.8 53.4h0.55M164.2 54.1h0.55M175.9 55.5h0.55M193.4 53.6h0.55M194.1 49.5h0.55M164.5 58.6h0.55M182.9 49.6h0.55M198.7 52.8h0.55M177.9 55.9h0.55M166.4 55.3h0.55M165.6 55.5h0.55M193.9 53.8h0.55M195.0 56.2h0.55M195.5 54.4h0.55M201.9 56.7h0.55M201.2 58.4h0.55M175.1 55.4h0.55M183.3 51.1h0.55M162.5 59.1h0.55M195.4 55.5h0.55M170.4 57.8h0.55M159.2 58.1h0.55M173.8 51.1h0.55M164.1 55.7h0.55M175.2 50.3h0.55M182.1 54.2h0.55M160.1 47.6h0.55M158.6 58.6h0.55M194.0 51.1h0.55M175.0 59.8h0.55M175.7 54.4h0.55M175.7 54.0h0.55M187.0 52.4h0.55M163.8 57.2h0.55M200.8 55.3h0.55M197.7 58.1h0.55M165.1 48.1h0.55M174.5 50.9h0.55M195.2 54.4h0.55M181.0 53.9h0.55M179.8 53.0h0.55M181.5 52.8h0.55M164.2 53.1h0.55M186.5 50.8h0.55M175.3 50.8h0.55M160.2 53.5h0.55M188.4 53.3h0.55M174.8 52.2h0.55M203.4 52.3h0.55M203.6 55.2h0.55M162.8 49.1h0.55M168.1 53.1h0.55M172.7 51.9h0.55M202.0 52.0h0.55M158.1 47.4h0.55M182.4 53.3h0.55M169.1 53.0h0.55M164.6 52.7h0.55M158.1 50.5h0.55M176.1 56.4h0.55M172.0 52.0h0.55M174.3 47.1h0.55M194.4 51.4h0.55M177.3 57.9h0.55M175.3 59.3h0.55M182.4 51.1h0.55M180.3 54.5h0.55M177.4 53.4h0.55M203.5 56.1h0.55M202.0 53.5h0.55M187.9 48.7h0.55M165.6 54.8h0.55M200.9 56.5h0.55M198.1 54.3h0.55M181.7 51.9h0.55M168.9 53.3h0.55M191.8 50.5h0.55M175.9 47.0h0.55M194.5 53.5h0.55M195.7 57.2h0.55M167.4 55.7h0.55M196.6 54.4h0.55M173.2 55.4h0.55M167.7 56.2h0.55M164.1 50.0h0.55M192.5 54.5h0.55M202.8 55.1h0.55M172.2 53.0h0.55M181.1 50.7h0.55M197.4 54.9h0.55M198.2 49.3h0.55M189.7 54.7h0.55M173.2 58.9h0.55M159.8 52.8h0.55M165.2 52.5h0.55M167.2 59.2h0.55M159.2 57.6h0.55M169.3 54.0h0.55M196.7 55.1h0.55M189.3 47.6h0.55M159.0 57.8h0.55M179.7 51.8h0.55M203.6 53.2h0.55M165.2 56.1h0.55M168.5 57.6h0.55M195.0 55.1h0.55M194.0 53.5h0.55M195.1 56.6h0.55M177.7 55.5h0.55M158.8 51.6h0.55M193.8 54.0h0.55M199.9 53.8h0.55M175.7 50.5h0.55M164.3 52.2h0.55M170.6 53.7h0.55M181.8 55.2h0.55M162.5 54.5h0.55M158.6 57.8h0.55M180.0 57.1h0.55M169.2 51.7h0.55M164.1 53.8h0.55M176.0 57.5h0.55M175.2 52.2h0.55M174.5 55.4h0.55M161.5 56.1h0.55M173.3 58.3h0.55M177.1 58.1h0.55M190.1 52.0h0.55M171.7 59.2h0.55M175.5 53.1h0.55M177.0 56.9h0.55M166.5 53.2h0.55M176.3 54.6h0.55M197.3 53.5h0.55M174.9 51.0h0.55M163.6 46.1h0.55M159.0 55.1h0.55M202.8 51.9h0.55M195.8 51.3h0.55M195.0 53.5h0.55M183.5 53.8h0.55M167.2 58.4h0.55M180.0 52.0h0.55M161.8 50.9h0.55M200.4 58.0h0.55M177.0 51.8h0.55M180.1 56.9h0.55M170.1 55.1h0.55M195.7 56.8h0.55M198.8 48.5h0.55M177.6 54.1h0.55M164.3 55.8h0.55M186.0 52.6h0.55M166.0 54.6h0.55M170.6 47.3h0.55M173.3 55.0h0.55M169.5 59.8h0.55M197.3 56.2h0.55M194.9 52.6h0.55M169.0 49.8h0.55M184.5 51.1h0.55M197.0 52.6h0.55M169.7 57.9h0.55M191.0 52.4h0.55M174.1 51.4h0.55M182.2 52.3h0.55M178.9 57.7h0.55M179.4 54.4h0.55M187.2 53.3h0.55M199.8 54.5h0.55M180.4 52.0h0.55M187.1 49.0h0.55M189.2 50.0h0.55M194.0 52.3h0.55M162.2 56.0h0.55M163.0 58.0h0.55M159.0 52.2h0.55M164.8 54.9h0.55M202.9 49.8h0.55M185.3 51.5h0.55M173.8 57.4h0.55M188.2 53.3h0.55M170.4 52.5h0.55M182.8 47.6h0.55M170.4 56.2h0.55M158.6 51.2h0.55M192.6 48.7h0.55M163.4 53.6h0.55M201.4 54.9h0.55M181.1 49.7h0.55M174.5 57.5h0.55M159.2 58.4h0.55M158.3 51.5h0.55M189.7 49.9h0.55M174.0 58.6h0.55M197.0 51.8h0.55M171.2 50.9h0.55M181.8 47.9h0.55M164.3 51.3h0.55M174.0 48.7h0.55M177.7 57.2h0.55M170.2 50.5h0.55M180.9 51.8h0.55M196.3 54.7h0.55M170.0 51.1h0.55M198.7 59.8h0.55M162.8 57.2h0.55M178.2 45.0h0.55M182.0 49.3h0.55M169.6 57.5h0.55M169.7 55.7h0.55M164.8 53.9h0.55M182.8 50.8h0.55M158.1 53.1h0.55M170.7 59.8h0.55M202.3 58.3h0.55M180.9 48.3h0.55M165.4 61.6h0.55M165.1 59.1h0.55M194.3 52.2h0.55M167.9 56.5h0.55M177.6 56.8h0.55M161.8 54.5h0.55M166.9 53.9h0.55M195.5 56.7h0.55M182.7 54.4h0.55M167.9 49.5h0.55M184.2 52.7h0.55M176.3 56.5h0.55M158.7 58.5h0.55M169.9 59.7h0.55M197.7 54.8h0.55M163.4 58.9h0.55M183.8 52.4h0.55M201.7 52.5h0.55M167.7 58.2h0.55M199.2 55.9h0.55M169.9 52.1h0.55M161.3 57.8h0.55M158.9 58.3h0.55M179.9 52.1h0.55M200.3 48.2h0.55M173.9 53.7h0.55M178.0 43.2h0.55M172.5 53.0h0.55M160.9 50.9h0.55M162.2 55.4h0.55M188.5 52.4h0.55M170.1 55.0h0.55M201.5 51.7h0.55M199.2 54.0h0.55M180.7 51.2h0.55M192.8 48.6h0.55M158.3 60.1h0.55M201.3 57.7h0.55M202.6 54.8h0.55M185.0 53.5h0.55M192.0 53.6h0.55M157.8 58.4h0.55M189.8 53.9h0.55M175.0 52.7h0.55M157.9 56.9h0.55M177.7 52.0h0.55M200.3 57.0h0.55M184.8 50.7h0.55M169.8 53.0h0.55M180.8 55.6h0.55M195.7 52.4h0.55M164.4 58.5h0.55M201.9 54.6h0.55M164.9 55.7h0.55M163.8 47.8h0.55M158.9 57.0h0.55M198.6 55.3h0.55M186.1 47.8h0.55M176.2 56.1h0.55M162.5 52.4h0.55M174.7 51.0h0.55M165.4 49.8h0.55M182.3 54.2h0.55M169.7 54.8h0.55M166.0 49.2h0.55M200.5 56.0h0.55M182.3 51.7h0.55M163.2 52.9h0.55M199.9 55.4h0.55M198.9 53.6h0.55M175.0 53.5h0.55M165.5 44.5h0.55M159.7 47.0h0.55M191.1 50.9h0.55M163.9 53.0h0.55M157.8 64.0h0.55M163.0 51.4h0.55M190.3 54.1h0.55M177.7 50.4h0.55M202.3 54.2h0.55M163.8 56.4h0.55M201.9 60.6h0.55M202.1 45.4h0.55M171.9 54.6h0.55M160.5 57.1h0.55M187.6 52.1h0.55M166.1 61.7h0.55M160.2 56.3h0.55M170.5 62.6h0.55M197.8 50.6h0.55M158.3 52.3h0.55M195.1 55.0h0.55M166.6 51.2h0.55M171.7 57.3h0.55M183.8 50.9h0.55M198.7 56.1h0.55M183.1 49.5h0.55M183.4 51.8h0.55M192.8 55.8h0.55M196.7 51.4h0.55M172.0 49.5h0.55M201.5 56.9h0.55M202.3 51.3h0.55M160.2 59.6h0.55M175.4 57.3h0.55M194.2 49.4h0.55M167.9 59.4h0.55M172.7 52.8h0.55M165.2 53.4h0.55M174.4 56.1h0.55M195.4 56.5h0.55M161.8 58.9h0.55M199.0 56.9h0.55M167.7 55.5h0.55M161.5 55.4h0.55M160.0 53.9h0.55M169.9 59.4h0.55M167.7 50.7h0.55M186.1 52.9h0.55M199.2 48.3h0.55M169.8 56.1h0.55M159.2 53.9h0.55M165.4 52.7h0.55M203.6 59.9h0.55M159.2 54.9h0.55M177.8 55.1h0.55M162.0 56.1h0.55M157.7 58.3h0.55M175.9 55.9h0.55M200.3 53.4h0.55M163.7 54.2h0.55M203.2 56.1h0.55M178.3 54.5h0.55M171.6 53.7h0.55M200.5 59.5h0.55M172.1 56.6h0.55M164.7 58.4h0.55M199.8 51.9h0.55M200.1 58.1h0.55M193.6 55.2h0.55M193.0 54.2h0.55M179.0 52.6h0.55M196.8 52.8h0.55M176.4 53.4h0.55M179.8 55.5h0.55M165.0 54.8h0.55M169.7 56.0h0.55M164.0 54.8h0.55M161.2 52.2h0.55M179.4 52.2h0.55M162.7 56.4h0.55M177.1 49.6h0.55M160.4 60.8h0.55M194.1 49.8h0.55M162.1 59.5h0.55M163.2 59.1h0.55M201.0 57.6h0.55M163.0 61.1h0.55M189.9 52.2h0.55M179.3 53.5h0.55M167.0 57.3h0.55M177.4 50.0h0.55M175.3 58.1h0.55M197.6 58.8h0.55M183.4 54.4h0.55M194.9 56.5h0.55M159.7 58.6h0.55M201.1 47.5h0.55M168.1 53.1h0.55M181.3 52.0h0.55M160.8 54.6h0.55M167.4 50.7h0.55M179.7 50.5h0.55M179.3 50.7h0.55M169.1 61.0h0.55M174.7 58.8h0.55M165.2 59.9h0.55M192.7 53.6h0.55M165.5 49.7h0.55M159.5 52.3h0.55M161.0 50.2h0.55M175.9 48.3h0.55M173.0 56.2h0.55M159.6 54.9h0.55M183.5 50.4h0.55M167.6 59.2h0.55M158.4 55.8h0.55M178.7 56.0h0.55M163.0 54.7h0.55M196.1 44.6h0.55M187.8 51.0h0.55M159.3 45.2h0.55M197.7 54.3h0.55M165.4 59.4h0.55M175.3 49.0h0.55M173.9 57.8h0.55M193.2 54.2h0.55M161.6 56.5h0.55M196.9 51.6h0.55M165.0 57.3h0.55M190.7 55.0h0.55M163.4 58.4h0.55M162.7 54.5h0.55M176.1 54.8h0.55M203.6 55.9h0.55M195.6 52.8h0.55M166.9 55.7h0.55M177.7 53.6h0.55M173.2 51.4h0.55M160.5 51.7h0.55M173.7 58.3h0.55M170.5 57.1h0.55M166.8 57.3h0.55M165.1 57.2h0.55M162.6 59.0h0.55M196.5 56.9h0.55M191.2 52.4h0.55M197.0 52.5h0.55M184.7 50.7h0.55M196.6 54.4h0.55M164.0 57.6h0.55M166.4 55.3h0.55M175.0 57.7h0.55M166.5 56.8h0.55M174.8 55.6h0.55M175.9 50.4h0.55M198.6 55.4h0.55M177.5 55.3h0.55M167.1 52.4h0.55M197.8 54.8h0.55M195.6 52.6h0.55M165.9 55.8h0.55M193.0 49.0h0.55M194.3 56.3h0.55M194.0 55.3h0.55M199.1 55.9h0.55M180.3 54.9h0.55M169.3 57.0h0.55M180.6 55.2h0.55M200.2 59.2h0.55M197.6 56.4h0.55M185.8 50.6h0.55M167.4 49.2h0.55M184.5 52.0h0.55M186.2 53.1h0.55M160.0 51.2h0.55M157.9 55.2h0.55M202.6 53.9h0.55M160.1 52.5h0.55M194.9 56.6h0.55M186.4 52.6h0.55M183.2 53.6h0.55M167.9 56.8h0.55M185.0 52.7h0.55M198.8 52.9h0.55M168.2 58.9h0.55M200.3 49.4h0.55M169.3 56.9h0.55M199.8 47.1h0.55M172.0 48.2h0.55M183.6 47.0h0.55M194.2 47.5h0.55M202.8 50.9h0.55M191.7 53.0h0.55M200.2 48.2h0.55M181.5 54.4h0.55M169.4 52.3h0.55M175.8 55.6h0.55M173.9 57.4h0.55M202.1 61.5h0.55M202.0 54.8h0.55M200.8 57.8h0.55M176.8 57.0h0.55M201.8 55.3h0.55M167.0 56.5h0.55M162.6 50.3h0.55M182.2 53.8h0.55M201.5 56.4h0.55M176.8 56.2h0.55M175.1 56.4h0.55M161.2 61.1h0.55M189.0 50.5h0.55M200.3 60.9h0.55M173.5 52.6h0.55M169.2 52.1h0.55M200.8 59.1h0.55M162.4 53.9h0.55M174.5 48.9h0.55M201.3 56.8h0.55M197.9 50.0h0.55M199.2 58.1h0.55M192.3 52.8h0.55M167.1 50.5h0.55M195.2 51.6h0.55M194.5 47.9h0.55M172.5 52.2h0.55M167.2 59.0h0.55M170.0 56.0h0.55M196.7 53.0h0.55M179.7 55.9h0.55M161.7 57.9h0.55M198.8 56.3h0.55M158.3 54.7h0.55M167.3 55.6h0.55M199.2 56.7h0.55M173.5 57.3h0.55M186.6 51.0h0.55M189.3 48.2h0.55M159.9 55.7h0.55M165.0 56.7h0.55M169.8 51.4h0.55M179.1 55.6h0.55M184.2 51.2h0.55M194.2 55.4h0.55M167.3 54.8h0.55M162.8 54.4h0.55M196.0 56.2h0.55M185.1 53.2h0.55M175.1 55.0h0.55M161.1 57.6h0.55M166.5 60.6h0.55M194.5 56.6h0.55M158.6 57.2h0.55M192.7 52.7h0.55M162.0 57.6h0.55M175.9 56.2h0.55M199.9 60.9h0.55M191.1 46.1h0.55M187.7 52.7h0.55M176.2 48.7h0.55M169.2 60.1h0.55M162.0 56.1h0.55M171.7 57.5h0.55M174.4 56.6h0.55M177.9 56.1h0.55M196.4 56.6h0.55M177.5 53.5h0.55M187.4 47.6h0.55M165.3 56.3h0.55M174.6 54.9h0.55M200.6 53.0h0.55M165.7 52.8h0.55M162.8 59.9h0.55M161.1 52.3h0.55M157.9 51.2h0.55M164.5 57.5h0.55M161.7 60.5h0.55M165.5 50.3h0.55M176.5 51.4h0.55M190.0 51.2h0.55M195.3 56.5h0.55M162.4 60.2h0.55M195.5 54.9h0.55M195.9 52.8h0.55M167.0 52.9h0.55M202.1 52.0h0.55M193.7 54.2h0.55M172.7 54.9h0.55M177.1 52.7h0.55M162.5 61.5h0.55M203.4 50.9h0.55M199.9 51.3h0.55M166.8 54.0h0.55M180.9 50.5h0.55M171.6 54.0h0.55M201.1 56.0h0.55M164.6 55.7h0.55M158.9 50.1h0.55M182.3 47.7h0.55M176.8 48.2h0.55M167.5 59.5h0.55M200.2 54.4h0.55M171.1 55.3h0.55M168.6 60.4h0.55M188.8 51.4h0.55M202.4 56.6h0.55M177.0 52.6h0.55M192.6 55.7h0.55M160.3 48.1h0.55M196.5 53.6h0.55M182.5 54.8h0.55M179.2 49.8h0.55M158.5 54.1h0.55M175.5 58.3h0.55M165.2 54.7h0.55M166.0 58.2h0.55M196.0 57.5h0.55M173.7 55.9h0.55M195.7 53.7h0.55M192.9 55.3h0.55M189.7 51.6h0.55M179.7 57.5h0.55M160.8 56.2h0.55M159.0 63.3h0.55M175.3 58.1h0.55M198.5 57.1h0.55M200.7 54.0h0.55M193.2 50.4h0.55M182.7 50.0h0.55M174.8 58.7h0.55M162.9 56.7h0.55M196.0 57.0h0.55M194.2 48.8h0.55M187.5 53.0h0.55M198.8 49.3h0.55M159.1 50.8h0.55M162.4 52.9h0.55M185.3 52.5h0.55M203.6 60.9h0.55M200.6 50.3h0.55M187.2 52.7h0.55M162.7 52.3h0.55M193.6 52.1h0.55M202.9 48.9h0.55M193.4 53.4h0.55M192.3 51.0h0.55M174.0 58.6h0.55M179.1 51.3h0.55M182.2 52.6h0.55M174.7 53.4h0.55M202.8 62.1h0.55M170.9 57.9h0.55M168.4 51.3h0.55M203.6 50.9h0.55M173.7 52.4h0.55M200.6 59.8h0.55M184.5 52.4h0.55M161.3 48.5h0.55M177.1 53.3h0.55M178.1 56.9h0.55M180.0 56.5h0.55M170.2 52.4h0.55M175.1 54.4h0.55M179.2 56.0h0.55M178.6 57.9h0.55M182.4 53.3h0.55M161.5 51.2h0.55M178.9 57.5h0.55M197.5 53.4h0.55M202.4 53.7h0.55M197.0 56.0h0.55M162.6 53.1h0.55M198.4 51.3h0.55M180.5 51.6h0.55M189.6 50.9h0.55M180.5 56.2h0.55M167.4 54.7h0.55M174.3 49.3h0.55M173.9 55.5h0.55M164.6 50.8h0.55M160.8 51.7h0.55M196.8 58.4h0.55M164.5 53.8h0.55M163.5 49.8h0.55M164.7 54.8h0.55M197.0 56.1h0.55M165.5 51.9h0.55M186.4 53.3h0.55M168.6 62.5h0.55M172.1 53.0h0.55M172.7 60.8h0.55M158.8 50.9h0.55M177.0 55.9h0.55M197.5 56.4h0.55M166.5 55.0h0.55M181.6 52.7h0.55M200.7 55.4h0.55M179.1 49.6h0.55M179.9 45.9h0.55M193.2 49.4h0.55M160.8 60.8h0.55M172.1 58.1h0.55M171.9 56.8h0.55M182.9 49.7h0.55M193.6 51.4h0.55M176.5 56.2h0.55M193.8 52.0h0.55M178.1 51.5h0.55M198.8 51.1h0.55M172.7 52.2h0.55M178.1 48.0h0.55M158.1 52.4h0.55M174.8 54.8h0.55M163.1 58.8h0.55M162.2 59.0h0.55M179.4 55.8h0.55M195.3 54.4h0.55M199.6 57.4h0.55M203.0 54.4h0.55M181.4 53.2h0.55M166.6 55.0h0.55M201.1 58.4h0.55M167.9 57.5h0.55M183.5 52.9h0.55M167.0 54.5h0.55M198.3 55.6h0.55M193.0 53.5h0.55M181.8 54.7h0.55M197.7 51.5h0.55M189.2 52.1h0.55M198.7 53.9h0.55M189.9 54.4h0.55M174.0 57.6h0.55M182.1 53.3h0.55M180.5 55.1h0.55M161.9 56.9h0.55M197.2 51.8h0.55M178.5 54.3h0.55M202.6 57.1h0.55M178.3 55.1h0.55M162.0 52.1h0.55M191.9 53.3h0.55M172.4 54.2h0.55M159.5 55.2h0.55M166.2 55.9h0.55M174.7 53.7h0.55M176.9 57.6h0.55M200.7 51.2h0.55M197.7 52.9h0.55M175.1 51.1h0.55M174.9 56.3h0.55M173.0 54.3h0.55M168.3 59.5h0.55M200.9 53.0h0.55M192.2 53.9h0.55M176.5 54.8h0.55M167.0 55.7h0.55M177.1 51.1h0.55M171.4 57.1h0.55M165.5 59.3h0.55M169.8 50.3h0.55M183.2 50.9h0.55M161.1 54.6h0.55M201.7 55.1h0.55M199.5 51.2h0.55M198.4 54.6h0.55M159.8 54.1h0.55M171.9 51.3h0.55M162.3 53.0h0.55M162.6 52.6h0.55M165.8 57.0h0.55M160.3 58.6h0.55M200.5 59.1h0.55M172.5 51.2h0.55M169.0 57.1h0.55M157.9 58.0h0.55M159.1 56.6h0.55M187.4 51.7h0.55M179.7 44.6h0.55M172.3 55.6h0.55M179.2 52.1h0.55M174.9 58.3h0.55M190.1 49.8h0.55M177.0 53.5h0.55M157.9 50.3h0.55M182.9 53.4h0.55M197.7 54.5h0.55M169.2 58.1h0.55M173.3 57.9h0.55M165.1 57.8h0.55M184.6 53.4h0.55M186.2 53.5h0.55M194.1 55.6h0.55M198.8 53.8h0.55M196.4 49.1h0.55M166.2 47.6h0.55M159.9 53.2h0.55M177.4 55.6h0.55M164.2 59.0h0.55M164.0 53.3h0.55M163.8 54.7h0.55M199.6 55.3h0.55M201.1 53.5h0.55M164.4 53.0h0.55M161.9 55.0h0.55M179.6 48.7h0.55M169.8 56.5h0.55M170.4 56.4h0.55M166.3 43.9h0.55M171.3 51.1h0.55M191.7 55.0h0.55M176.3 46.9h0.55M180.7 56.6h0.55M164.8 58.6h0.55M173.7 54.7h0.55M169.3 57.6h0.55M161.5 54.6h0.55M165.3 55.3h0.55M158.0 49.0h0.55M199.2 50.2h0.55M201.7 58.7h0.55M165.1 58.8h0.55M195.4 52.1h0.55M184.3 49.5h0.55M192.9 47.9h0.55M181.2 56.3h0.55M175.2 59.6h0.55M171.2 58.0h0.55M165.0 53.0h0.55M203.3 53.8h0.55M170.8 59.0h0.55M162.4 49.9h0.55M170.2 57.1h0.55M194.8 53.5h0.55M198.6 53.0h0.55M199.1 52.4h0.55M203.6 58.5h0.55M172.8 43.4h0.55M168.1 58.8h0.55M201.2 56.1h0.55M199.9 52.8h0.55M172.1 53.3h0.55M166.8 57.3h0.55M202.7 55.3h0.55M185.8 51.6h0.55M166.2 52.6h0.55M166.1 61.7h0.55M177.0 56.1h0.55M199.0 54.3h0.55M195.1 51.7h0.55M169.9 53.1h0.55M160.7 55.8h0.55M185.8 50.6h0.55M191.7 54.8h0.55M200.4 54.1h0.55M187.1 47.9h0.55M169.4 55.0h0.55M190.2 53.4h0.55M166.7 54.2h0.55M199.5 55.9h0.55M164.4 52.8h0.55M158.2 48.7h0.55M171.1 55.1h0.55M193.2 53.4h0.55M183.8 52.6h0.55M170.6 60.0h0.55M173.0 55.4h0.55M181.1 52.3h0.55M195.0 52.5h0.55M202.5 60.7h0.55M164.2 48.6h0.55M197.8 57.2h0.55M195.2 53.2h0.55M190.3 52.9h0.55M158.5 57.6h0.55M189.0 51.9h0.55M180.2 54.9h0.55M203.4 57.3h0.55M201.4 54.6h0.55M179.4 56.5h0.55M196.2 52.5h0.55M174.0 52.6h0.55M191.3 49.9h0.55M159.2 53.3h0.55M159.2 58.1h0.55M168.3 55.7h0.55M168.5 54.8h0.55M158.3 55.6h0.55M198.3 49.6h0.55M194.0 54.8h0.55M193.4 54.6h0.55M195.1 52.7h0.55M200.5 57.8h0.55M164.7 52.6h0.55M180.4 52.7h0.55M174.8 57.5h0.55M175.2 57.3h0.55M174.3 55.8h0.55M200.6 56.4h0.55M163.9 56.2h0.55M165.8 51.4h0.55M198.2 58.0h0.55M169.5 62.3h0.55M174.1 56.4h0.55M178.6 54.0h0.55M199.5 57.3h0.55M188.3 52.3h0.55M168.3 54.6h0.55M196.8 52.9h0.55M172.4 58.7h0.55M161.5 50.3h0.55M159.3 59.5h0.55M196.1 52.5h0.55M168.8 53.4h0.55M160.7 56.4h0.55M202.4 59.2h0.55M192.4 50.6h0.55M176.6 54.1h0.55M167.0 55.5h0.55M188.0 53.1h0.55M186.5 53.5h0.55M162.7 52.2h0.55M197.3 54.8h0.55M183.8 51.4h0.55M201.7 57.9h0.55M168.0 57.3h0.55M186.1 51.2h0.55M202.8 53.0h0.55M168.1 50.6h0.55M175.0 56.1h0.55M199.1 54.4h0.55M161.7 51.6h0.55M193.1 51.6h0.55M181.3 54.2h0.55M159.4 56.0h0.55M195.7 56.8h0.55M166.4 57.1h0.55M172.7 55.3h0.55M181.4 55.1h0.55M172.5 57.2h0.55M196.6 52.7h0.55M202.2 50.2h0.55M200.2 58.0h0.55M180.2 47.5h0.55M172.4 59.6h0.55M179.4 50.5h0.55M181.3 46.9h0.55M177.6 51.9h0.55M166.6 56.1h0.55M199.2 51.5h0.55M173.9 57.3h0.55M171.8 51.4h0.55M163.0 57.8h0.55M179.4 49.8h0.55M173.1 53.3h0.55M199.0 55.8h0.55M163.1 59.8h0.55M167.2 57.9h0.55M170.6 49.7h0.55M201.0 51.8h0.55M168.2 56.0h0.55M165.0 60.7h0.55M172.9 56.9h0.55M175.5 59.4h0.55M180.5 50.5h0.55M190.9 50.9h0.55M164.3 53.4h0.55M166.3 52.9h0.55M199.7 55.4h0.55M189.0 53.8h0.55M162.4 50.8h0.55M196.2 49.9h0.55M168.8 52.5h0.55M180.2 56.1h0.55M194.2 51.7h0.55M170.4 54.9h0.55M160.9 56.8h0.55M188.1 50.4h0.55M194.2 51.9h0.55M166.3 51.8h0.55M161.3 53.0h0.55M181.8 54.5h0.55M181.1 51.5h0.55M178.5 53.4h0.55M198.2 59.0h0.55M160.6 53.4h0.55M186.8 47.9h0.55M196.6 53.9h0.55M194.7 54.4h0.55M190.9 53.7h0.55M167.0 62.7h0.55M167.4 58.3h0.55M193.7 52.7h0.55M161.5 57.7h0.55M160.3 55.9h0.55M199.0 54.6h0.55M174.7 51.9h0.55M200.5 47.9h0.55M162.0 58.4h0.55M166.2 47.3h0.55M198.8 55.6h0.55M190.7 52.2h0.55M175.6 52.7h0.55M195.0 54.0h0.55M197.4 57.6h0.55M203.5 51.9h0.55M167.1 62.3h0.55M165.3 49.6h0.55M176.2 54.5h0.55M170.8 51.5h0.55M179.0 54.8h0.55M165.9 47.6h0.55M188.4 51.5h0.55M182.5 54.5h0.55M166.1 52.7h0.55M161.4 51.7h0.55M203.0 52.9h0.55M201.9 51.5h0.55M203.5 54.0h0.55M177.1 55.0h0.55M199.4 56.1h0.55M162.3 48.6h0.55M157.7 53.4h0.55M163.0 59.1h0.55M158.5 49.7h0.55M163.1 55.4h0.55M180.0 53.1h0.55M182.1 55.8h0.55M160.6 53.1h0.55M187.4 49.2h0.55M186.6 53.0h0.55M194.9 51.8h0.55M182.8 55.0h0.55M173.2 60.5h0.55M170.9 61.8h0.55M180.3 56.0h0.55M170.2 55.3h0.55M202.5 54.4h0.55M162.1 56.0h0.55M176.4 52.2h0.55M182.1 55.3h0.55M172.3 52.7h0.55M177.7 55.6h0.55M165.5 53.3h0.55M164.0 60.9h0.55M164.9 61.3h0.55M175.7 58.6h0.55M177.4 53.5h0.55M187.8 50.0h0.55M188.0 52.4h0.55M202.4 53.5h0.55M159.0 52.1h0.55M179.4 49.1h0.55M174.2 58.7h0.55M203.3 59.3h0.55M172.1 55.8h0.55M176.7 49.2h0.55M192.3 54.7h0.55M177.2 52.2h0.55M164.7 58.3h0.55M167.8 60.3h0.55M175.1 56.6h0.55M168.8 61.1h0.55M202.7 50.8h0.55M173.1 56.7h0.55M175.0 50.9h0.55M186.1 52.3h0.55M197.4 51.1h0.55M182.9 54.5h0.55M173.5 49.2h0.55M180.1 54.7h0.55M172.8 54.3h0.55M194.0 51.9h0.55M181.9 55.3h0.55M173.2 55.3h0.55M169.8 55.7h0.55M172.0 50.4h0.55M157.9 55.2h0.55M162.7 56.7h0.55M172.7 55.7h0.55M172.7 59.0h0.55M177.3 58.3h0.55M170.0 54.6h0.55M165.5 55.3h0.55M190.6 49.3h0.55M199.6 59.2h0.55M160.4 52.8h0.55M173.3 55.2h0.55M176.1 50.2h0.55M164.2 55.8h0.55M201.6 57.3h0.55M196.7 52.1h0.55M169.6 55.7h0.55M163.5 60.2h0.55M179.7 56.0h0.55M169.0 52.2h0.55M181.1 49.6h0.55M191.7 49.0h0.55M170.8 58.8h0.55M174.9 54.6h0.55M182.1 54.5h0.55M158.4 52.6h0.55M172.8 61.5h0.55M163.8 57.7h0.55M179.1 51.0h0.55M170.0 57.6h0.55M160.4 51.2h0.55M198.6 52.2h0.55M198.3 52.4h0.55M163.7 56.1h0.55M160.8 52.7h0.55M182.0 52.9h0.55M173.5 55.7h0.55M160.1 52.2h0.55M167.3 58.6h0.55M202.6 55.5h0.55M178.2 47.2h0.55M177.8 54.6h0.55M202.8 60.6h0.55M178.3 47.3h0.55M159.8 58.5h0.55M181.1 50.9h0.55M169.5 55.2h0.55M181.7 51.2h0.55M171.1 49.8h0.55M202.6 56.3h0.55M160.8 48.9h0.55M192.0 53.4h0.55M197.4 55.4h0.55M190.1 49.7h0.55M170.8 52.6h0.55M175.5 56.7h0.55M164.1 57.5h0.55M160.0 59.1h0.55M163.3 59.3h0.55M161.6 61.4h0.55M165.2 63.5h0.55M166.3 52.7h0.55M161.1 59.4h0.55M166.1 55.2h0.55M163.0 58.9h0.55M162.6 61.5h0.55M159.8 59.7h0.55M160.4 59.4h0.55M160.0 56.7h0.55M165.8 54.2h0.55M163.2 60.2h0.55M162.6 56.8h0.55M163.0 54.5h0.55M165.3 60.5h0.55M168.4 58.8h0.55M166.4 55.9h0.55M164.4 54.4h0.55M163.7 56.6h0.55M165.9 50.2h0.55M162.4 56.7h0.55M165.0 55.1h0.55M161.6 62.5h0.55M161.0 56.3h0.55M166.5 50.0h0.55M164.2 59.0h0.55M163.7 51.2h0.55M158.5 54.7h0.55M160.3 60.3h0.55M161.5 63.0h0.55M162.8 60.0h0.55M160.9 55.6h0.55M164.3 61.0h0.55M160.9 62.5h0.55M162.2 63.6h0.55M159.1 56.5h0.55M165.0 57.5h0.55M161.1 60.2h0.55M165.9 56.3h0.55M165.3 56.2h0.55M160.5 62.5h0.55M161.2 56.0h0.55M165.3 54.2h0.55M160.0 56.8h0.55M163.2 61.2h0.55M162.3 55.4h0.55M158.9 56.6h0.55M161.5 61.9h0.55M157.9 51.2h0.55M164.3 63.7h0.55M157.9 58.3h0.55M161.0 63.7h0.55M164.0 63.4h0.55M162.8 61.7h0.55M164.0 55.4h0.55M165.8 56.6h0.55M159.1 59.7h0.55M167.7 58.8h0.55M164.6 53.1h0.55M160.4 55.5h0.55M169.0 56.2h0.55M163.7 50.9h0.55M161.3 58.2h0.55M162.4 56.6h0.55M164.2 59.5h0.55M159.1 52.7h0.55M164.6 60.7h0.55M158.6 60.2h0.55M158.5 57.1h0.55M166.9 51.6h0.55M162.8 56.9h0.55M159.3 60.5h0.55M159.9 55.2h0.55M159.4 59.3h0.55M164.6 62.7h0.55M162.1 54.6h0.55M167.5 55.3h0.55M165.0 63.7h0.55M165.3 50.8h0.55M159.5 54.7h0.55M165.4 54.7h0.55M165.2 58.4h0.55M163.3 57.5h0.55M160.4 62.7h0.55M163.2 63.2h0.55M159.9 51.2h0.55M167.2 53.2h0.55M163.1 56.2h0.55M162.3 56.3h0.55M159.3 53.0h0.55M163.4 54.9h0.55M168.2 57.8h0.55M167.1 55.7h0.55M165.2 55.3h0.55M159.7 56.6h0.55M158.5 55.0h0.55M164.9 56.9h0.55M163.1 60.4h0.55M162.2 54.8h0.55M158.4 57.2h0.55M164.4 58.2h0.55M166.4 55.9h0.55M163.5 54.3h0.55M161.2 59.9h0.55M160.7 51.6h0.55M159.8 56.3h0.55M160.5 56.4h0.55M164.4 57.4h0.55M164.1 56.8h0.55M160.5 53.7h0.55M166.1 53.7h0.55M159.6 54.2h0.55M163.7 57.8h0.55M161.9 57.2h0.55M157.3 56.9h0.55M162.0 59.2h0.55M160.3 55.4h0.55M159.7 57.6h0.55M159.7 62.5h0.55M163.0 58.2h0.55M165.9 62.3h0.55M160.5 58.4h0.55M161.1 61.8h0.55M161.9 49.6h0.55M163.5 54.3h0.55M162.8 57.9h0.55M166.0 50.6h0.55M163.9 61.8h0.55M158.5 60.3h0.55M165.2 55.4h0.55M161.2 63.3h0.55M161.9 60.1h0.55M163.8 58.2h0.55M158.7 54.7h0.55M163.0 57.1h0.55M162.3 60.4h0.55M162.8 60.2h0.55M162.9 58.9h0.55M161.0 51.8h0.55M165.4 60.7h0.55M164.7 54.4h0.55M166.2 57.8h0.55M163.2 54.9h0.55M161.1 55.1h0.55M163.8 54.9h0.55M162.6 55.4h0.55M158.6 57.7h0.55M163.1 57.7h0.55M162.6 53.9h0.55M168.7 57.6h0.55M165.0 57.9h0.55M159.1 61.5h0.55M162.3 54.2h0.55M159.5 57.6h0.55M159.2 60.1h0.55M161.0 55.8h0.55M168.9 60.4h0.55M160.6 58.8h0.55M157.5 54.6h0.55M162.1 54.6h0.55M159.5 59.8h0.55M160.7 54.4h0.55M160.7 55.0h0.55M165.1 58.5h0.55M157.9 62.4h0.55M166.0 56.4h0.55M159.5 57.5h0.55M160.8 59.4h0.55M162.5 62.2h0.55M157.5 55.1h0.55M163.5 55.6h0.55M161.3 53.1h0.55M168.6 56.7h0.55M164.8 54.5h0.55M161.2 57.1h0.55M167.8 62.5h0.55M169.2 63.1h0.55M167.3 56.6h0.55M160.5 62.3h0.55M160.4 59.4h0.55M160.7 53.5h0.55M162.8 54.1h0.55M161.7 60.7h0.55M162.0 61.1h0.55M161.2 58.7h0.55M159.5 62.3h0.55M164.4 47.7h0.55M157.5 51.7h0.55M162.4 56.4h0.55M161.6 59.7h0.55M169.7 53.6h0.55M163.7 57.6h0.55M166.0 49.5h0.55M157.5 53.4h0.55M159.2 58.3h0.55M161.1 49.9h0.55M160.3 51.4h0.55M160.2 56.7h0.55M160.1 61.9h0.55M169.6 59.2h0.55M157.8 62.7h0.55M169.1 56.7h0.55M163.8 61.5h0.55M163.2 62.0h0.55M164.3 55.1h0.55M161.1 56.4h0.55M160.5 62.2h0.55M163.6 56.6h0.55M165.1 57.7h0.55M165.8 63.4h0.55M163.1 55.2h0.55M158.9 63.9h0.55M163.8 55.1h0.55M162.3 53.2h0.55M166.8 58.5h0.55M161.4 51.9h0.55M169.2 57.8h0.55M162.5 57.9h0.55M159.2 61.6h0.55M164.4 57.5h0.55M160.5 50.7h0.55M161.1 56.6h0.55M158.9 58.4h0.55M165.1 55.6h0.55M161.3 57.3h0.55M167.8 62.7h0.55M157.4 55.5h0.55M170.6 56.1h0.55M168.1 59.2h0.55M166.5 56.0h0.55M162.9 59.4h0.55M162.5 57.2h0.55M167.1 56.8h0.55M166.7 55.1h0.55M161.6 60.1h0.55M164.2 61.0h0.55M162.7 57.3h0.55M161.1 51.5h0.55M161.3 61.2h0.55M162.4 58.1h0.55M166.5 54.0h0.55M163.7 55.3h0.55M166.1 52.0h0.55M161.5 55.5h0.55M161.6 55.3h0.55M168.5 56.6h0.55M162.1 52.1h0.55M158.5 54.6h0.55M158.8 59.3h0.55M160.8 55.7h0.55M162.2 54.0h0.55M158.7 54.9h0.55M163.2 57.0h0.55M160.0 63.3h0.55M163.8 59.9h0.55M167.4 54.0h0.55M165.6 58.3h0.55M163.5 51.8h0.55M160.1 57.4h0.55M162.5 63.1h0.55M161.4 58.3h0.55M161.7 52.6h0.55M161.5 57.8h0.55M168.0 62.0h0.55M161.0 54.1h0.55M162.5 55.3h0.55M170.3 60.5h0.55M162.5 55.4h0.55M159.3 57.1h0.55M161.2 63.0h0.55M161.6 60.3h0.55M160.4 58.9h0.55M160.2 57.0h0.55M162.3 55.3h0.55M162.4 57.6h0.55M161.6 51.1h0.55M163.5 52.1h0.55M162.4 61.2h0.55M158.7 57.0h0.55M163.3 57.3h0.55M161.2 57.5h0.55M164.8 53.8h0.55M162.2 60.1h0.55M160.8 53.1h0.55M165.0 60.0h0.55M165.6 57.4h0.55M160.7 63.0h0.55M166.5 60.4h0.55M161.2 57.9h0.55M160.0 53.6h0.55M163.0 58.7h0.55M164.4 57.9h0.55M169.0 53.9h0.55M166.7 56.0h0.55M165.6 54.1h0.55M169.5 62.8h0.55M157.8 62.3h0.55M163.3 60.8h0.55M162.7 57.0h0.55M158.5 55.8h0.55M162.7 51.4h0.55M159.7 57.6h0.55M164.1 55.9h0.55M167.1 55.7h0.55M164.7 62.4h0.55M160.3 61.8h0.55M162.4 54.5h0.55M161.8 61.6h0.55M165.9 57.6h0.55M169.6 57.2h0.55M160.8 57.8h0.55M162.5 56.1h0.55M162.0 52.8h0.55M164.7 52.7h0.55M166.3 60.2h0.55M161.6 56.3h0.55M160.8 57.7h0.55M168.3 58.9h0.55M161.5 64.1h0.55M161.6 56.4h0.55M169.5 60.2h0.55M166.6 60.0h0.55M164.5 60.2h0.55M159.3 49.0h0.55M162.0 52.3h0.55M163.4 53.3h0.55M163.0 61.8h0.55M161.3 55.0h0.55M165.3 54.9h0.55M202.1 57.2h0.55M203.3 55.0h0.55M224.3 55.0h0.55M220.1 58.8h0.55M220.7 58.8h0.55M219.4 54.4h0.55M209.7 59.7h0.55M220.4 55.5h0.55M207.1 55.4h0.55M218.6 58.2h0.55M205.9 53.0h0.55M243.3 50.1h0.55M218.9 55.0h0.55M224.7 58.7h0.55M231.2 54.5h0.55M205.4 58.7h0.55M221.1 59.8h0.55M235.9 54.4h0.55M207.7 55.6h0.55M221.1 55.1h0.55M225.3 57.9h0.55M214.3 57.3h0.55M211.0 56.3h0.55M210.0 60.4h0.55M211.9 57.0h0.55M216.8 56.6h0.55M227.4 53.0h0.55M241.5 55.9h0.55M210.9 60.3h0.55M206.2 58.1h0.55M219.2 56.0h0.55M207.6 55.3h0.55M207.6 52.4h0.55M217.7 53.1h0.55M204.3 59.2h0.55M216.2 55.7h0.55M207.8 56.0h0.55M202.0 60.1h0.55M204.7 54.2h0.55M214.5 54.0h0.55M202.1 60.6h0.55M203.7 57.9h0.55M214.8 50.1h0.55M203.2 55.6h0.55M219.2 52.9h0.55M221.6 53.9h0.55M241.6 54.8h0.55M227.6 49.9h0.55M220.9 53.1h0.55M210.2 62.0h0.55M210.5 55.0h0.55M226.9 54.0h0.55M203.6 59.0h0.55M213.1 50.9h0.55M210.3 54.9h0.55M214.5 60.2h0.55M211.7 55.7h0.55M208.1 56.9h0.55M205.7 54.9h0.55M226.4 56.9h0.55M243.1 58.1h0.55M212.1 55.1h0.55M225.3 56.1h0.55M222.3 56.6h0.55M204.3 49.1h0.55M228.9 58.9h0.55M219.8 62.0h0.55M208.5 58.6h0.55M237.9 56.5h0.55M224.7 54.4h0.55M237.9 57.0h0.55M221.9 62.5h0.55M210.1 60.9h0.55M202.1 53.3h0.55M203.6 61.0h0.55M225.2 53.3h0.55M206.5 53.5h0.55M220.7 55.2h0.55M216.5 57.9h0.55M202.1 55.0h0.55M221.8 59.2h0.55M207.9 56.8h0.55M202.9 61.2h0.55M238.3 50.9h0.55M222.6 56.2h0.55M220.2 58.1h0.55M209.0 61.1h0.55M205.4 48.5h0.55M205.3 55.0h0.55M210.8 48.9h0.55M221.4 57.3h0.55M202.5 53.8h0.55M209.3 56.9h0.55M210.3 59.3h0.55M219.3 58.8h0.55M208.0 55.1h0.55M223.1 57.9h0.55M221.1 66.6h0.55M213.5 54.1h0.55M202.4 57.8h0.55M212.9 54.1h0.55M230.6 58.7h0.55M202.8 53.0h0.55M223.0 57.9h0.55M215.5 50.7h0.55M210.6 56.5h0.55M211.0 64.6h0.55M225.7 51.9h0.55M239.1 53.8h0.55M213.1 59.0h0.55M205.9 52.0h0.55M206.0 47.7h0.55M210.7 50.1h0.55M219.1 56.5h0.55M226.3 59.7h0.55M213.4 56.2h0.55M205.5 56.1h0.55M219.1 59.6h0.55M208.6 55.7h0.55M211.5 60.5h0.55M216.5 61.0h0.55M205.0 54.7h0.55M233.8 60.3h0.55M219.5 58.3h0.55M221.8 55.4h0.55M218.4 55.8h0.55M205.4 59.6h0.55M212.7 51.5h0.55M221.0 50.3h0.55M220.4 59.9h0.55M214.1 62.6h0.55M202.6 56.8h0.55M206.3 59.4h0.55M202.0 50.1h0.55M210.9 51.2h0.55M202.7 53.9h0.55M206.5 54.6h0.55M213.5 56.4h0.55M222.3 54.1h0.55M203.7 55.6h0.55M222.1 55.1h0.55M210.4 57.9h0.55M211.6 59.5h0.55M228.3 58.9h0.55M207.3 60.7h0.55M208.6 55.1h0.55M206.7 54.2h0.55M204.7 49.2h0.55M209.1 49.9h0.55M205.3 58.6h0.55M203.4 57.4h0.55M212.2 55.9h0.55M215.4 54.7h0.55M225.1 51.4h0.55M208.2 48.1h0.55M226.4 53.7h0.55M218.0 54.8h0.55M210.3 46.7h0.55M214.5 60.4h0.55M225.8 53.4h0.55M215.1 57.2h0.55M234.2 60.3h0.55M221.2 61.0h0.55M223.7 54.6h0.55M204.9 59.1h0.55M233.8 58.9h0.55M210.2 55.9h0.55M220.4 56.9h0.55M214.1 52.6h0.55M202.4 56.6h0.55M205.2 53.4h0.55M211.5 54.9h0.55M211.2 56.1h0.55M207.0 59.0h0.55M204.6 54.9h0.55M229.3 54.8h0.55M203.3 54.2h0.55M206.8 65.3h0.55M206.2 54.2h0.55M232.8 57.4h0.55M202.9 50.4h0.55M213.7 55.9h0.55M202.7 51.5h0.55M230.6 53.7h0.55M202.5 58.3h0.55M224.3 61.8h0.55M217.2 56.3h0.55M213.8 57.8h0.55M211.9 56.3h0.55M211.8 54.1h0.55M212.1 56.0h0.55M213.1 59.1h0.55M214.7 56.4h0.55M212.4 54.4h0.55M208.1 54.0h0.55M237.2 57.4h0.55M219.1 54.6h0.55M212.8 59.0h0.55M227.3 50.8h0.55M223.1 58.4h0.55M201.8 52.8h0.55M208.4 55.4h0.55M223.6 63.2h0.55M237.3 59.4h0.55M213.0 53.9h0.55M205.3 54.4h0.55M228.0 58.9h0.55M203.1 59.0h0.55M203.3 55.6h0.55M202.2 58.4h0.55M202.3 54.2h0.55M204.7 46.0h0.55M212.3 59.6h0.55M214.9 54.0h0.55M208.7 57.8h0.55M213.6 55.1h0.55M223.8 54.7h0.55M204.3 52.6h0.55M206.7 58.4h0.55M224.9 58.7h0.55M212.3 60.2h0.55M215.7 58.2h0.55M203.9 57.3h0.55M209.4 53.9h0.55M211.0 55.9h0.55M204.5 57.2h0.55M223.8 46.9h0.55M218.1 51.6h0.55M208.1 55.1h0.55M202.2 58.6h0.55M220.6 60.7h0.55M208.2 61.8h0.55M221.2 53.0h0.55M208.1 56.0h0.55M206.5 53.9h0.55M221.0 52.8h0.55M214.0 54.5h0.55M210.1 56.1h0.55M208.7 58.6h0.55M207.8 50.5h0.55M216.6 55.2h0.55M228.7 52.2h0.55M222.9 60.7h0.55M234.1 61.7h0.55M204.2 54.0h0.55M208.2 53.2h0.55M231.3 57.9h0.55M205.0 59.1h0.55M211.4 52.2h0.55M202.8 54.2h0.55M210.5 56.6h0.55M235.0 52.0h0.55M210.0 61.0h0.55M225.3 55.8h0.55M242.8 55.9h0.55M205.7 51.6h0.55M227.3 60.0h0.55M208.3 50.9h0.55M212.9 53.1h0.55M228.7 53.5h0.55M218.6 55.2h0.55M231.5 50.6h0.55M217.4 52.9h0.55M204.8 57.7h0.55M205.8 55.5h0.55M223.4 56.1h0.55M212.2 59.1h0.55M205.1 57.2h0.55M219.0 59.2h0.55M207.6 55.7h0.55M228.8 52.5h0.55M230.8 61.5h0.55M229.3 49.6h0.55M211.6 50.8h0.55M206.9 51.6h0.55M210.9 64.0h0.55M206.8 55.9h0.55M230.6 59.4h0.55M212.5 50.1h0.55M219.2 51.8h0.55M203.2 56.8h0.55M210.6 54.0h0.55M223.0 56.0h0.55M202.5 57.8h0.55M204.8 56.0h0.55M206.6 55.9h0.55M214.4 56.4h0.55M236.4 54.9h0.55M228.3 56.7h0.55M208.3 59.1h0.55M202.5 52.4h0.55M221.6 56.6h0.55M207.2 58.8h0.55M239.4 55.0h0.55M212.3 55.3h0.55M231.7 62.2h0.55M210.5 59.6h0.55M202.8 63.7h0.55M202.0 62.2h0.55M229.7 54.5h0.55M210.2 53.2h0.55M214.3 54.7h0.55M205.3 58.7h0.55M216.6 43.6h0.55M218.0 55.8h0.55M241.2 59.9h0.55M204.0 55.9h0.55M242.5 56.8h0.55M209.1 54.9h0.55M208.7 49.8h0.55M205.2 59.0h0.55M215.7 54.7h0.55M228.9 57.4h0.55M226.1 55.8h0.55M212.6 62.6h0.55M208.9 57.4h0.55M207.9 57.2h0.55M203.2 55.4h0.55M229.0 52.8h0.55M223.2 57.1h0.55M234.6 59.5h0.55M204.0 55.7h0.55M202.4 48.1h0.55M207.6 53.0h0.55M207.7 62.5h0.55M215.2 53.7h0.55M223.3 56.3h0.55M218.5 49.0h0.55M202.2 53.7h0.55M219.7 52.7h0.55M204.1 58.5h0.55M209.0 57.9h0.55M221.0 57.6h0.55M202.8 59.3h0.55M216.3 54.0h0.55M232.4 61.7h0.55M204.5 54.9h0.55M210.9 58.9h0.55M230.9 63.1h0.55M224.9 53.9h0.55M206.8 57.0h0.55M220.7 55.3h0.55M206.6 56.2h0.55M209.4 56.8h0.55M203.7 55.4h0.55M206.6 55.8h0.55M206.8 58.2h0.55M210.1 51.1h0.55M204.2 53.1h0.55M234.9 54.0h0.55M208.6 50.9h0.55M234.0 56.9h0.55M205.1 54.1h0.55M235.3 52.7h0.55M203.4 50.9h0.55M225.6 52.6h0.55M205.6 57.2h0.55M233.0 51.2h0.55M215.5 58.9h0.55M209.5 57.9h0.55M210.0 56.7h0.55M218.9 49.8h0.55M230.2 53.0h0.55M204.1 59.3h0.55M212.6 54.4h0.55M222.0 53.0h0.55M214.0 53.1h0.55M214.6 57.0h0.55M225.7 49.2h0.55M232.2 59.3h0.55M217.8 56.5h0.55M214.9 52.0h0.55M215.7 57.8h0.55M211.2 46.2h0.55M226.3 51.3h0.55M231.3 56.7h0.55M205.9 60.9h0.55M236.2 51.5h0.55M218.2 50.7h0.55M203.1 55.4h0.55M201.9 56.0h0.55M223.0 53.0h0.55M218.7 52.9h0.55M209.2 61.1h0.55M219.8 52.4h0.55M203.8 49.9h0.55M217.6 54.2h0.55M236.6 60.2h0.55M242.0 58.1h0.55M227.6 55.5h0.55M226.4 51.1h0.55M224.3 55.3h0.55M204.4 65.7h0.55M204.7 57.7h0.55M235.1 59.3h0.55M229.0 50.0h0.55M207.8 54.2h0.55M203.5 53.6h0.55M214.9 61.7h0.55M210.4 54.6h0.55M209.9 55.4h0.55M215.3 53.9h0.55M210.6 45.6h0.55M202.9 59.6h0.55M204.0 48.9h0.55M212.3 53.6h0.55M213.3 50.1h0.55M203.4 53.5h0.55M203.5 54.0h0.55M224.3 53.8h0.55M233.4 60.7h0.55M234.1 51.4h0.55M233.0 54.5h0.55M224.2 57.5h0.55M203.1 54.1h0.55M219.0 53.7h0.55M220.3 62.4h0.55M233.8 58.3h0.55M207.4 52.6h0.55M233.6 56.5h0.55M204.1 52.4h0.55M207.0 57.2h0.55M211.5 50.6h0.55M211.5 58.4h0.55M202.6 56.9h0.55M212.6 56.8h0.55M207.7 55.6h0.55M233.6 56.4h0.55M218.1 52.5h0.55M213.0 55.8h0.55M210.5 57.7h0.55M205.3 57.1h0.55M205.9 52.3h0.55M212.0 57.6h0.55M207.6 51.3h0.55M231.4 53.0h0.55M236.2 52.6h0.55M206.8 53.4h0.55M202.6 55.1h0.55M227.1 57.9h0.55M228.3 59.3h0.55M203.7 57.1h0.55M223.0 53.0h0.55M209.1 58.2h0.55M203.3 59.0h0.55M207.7 52.9h0.55M211.1 51.4h0.55M209.3 55.0h0.55M213.3 62.4h0.55M221.4 54.5h0.55M211.6 54.9h0.55M214.7 58.0h0.55M212.0 51.4h0.55M220.5 51.7h0.55M236.0 55.1h0.55M207.3 58.5h0.55M212.1 54.4h0.55M203.5 53.3h0.55M225.7 49.6h0.55M221.7 61.1h0.55M204.2 51.1h0.55M212.3 60.1h0.55M211.3 53.0h0.55M218.5 59.6h0.55M209.3 61.5h0.55M221.0 52.4h0.55M220.0 57.6h0.55M206.0 58.1h0.55M210.4 59.9h0.55M205.9 54.4h0.55M221.7 59.9h0.55M205.9 55.9h0.55M204.5 52.0h0.55M221.6 59.1h0.55M221.9 60.0h0.55M231.5 55.5h0.55M237.6 55.1h0.55M211.8 58.2h0.55M205.5 61.5h0.55M225.8 51.2h0.55M233.0 59.3h0.55M210.8 62.7h0.55M239.7 52.4h0.55M216.8 57.5h0.55M210.9 55.7h0.55M229.9 56.8h0.55M202.4 59.9h0.55M233.4 49.9h0.55M208.2 53.7h0.55M222.2 50.7h0.55M210.9 54.4h0.55M218.9 62.1h0.55M203.5 51.8h0.55M215.2 53.9h0.55M204.5 53.4h0.55M225.6 56.9h0.55M209.9 54.4h0.55M203.5 52.8h0.55M217.0 52.8h0.55M222.7 54.9h0.55M223.4 51.2h0.55M232.7 47.0h0.55M217.7 59.6h0.55M207.7 56.0h0.55M212.3 53.4h0.55M205.4 54.9h0.55M230.3 58.1h0.55M221.1 52.5h0.55M204.4 55.6h0.55M229.5 53.6h0.55M221.0 59.8h0.55M204.2 46.9h0.55M236.3 50.6h0.55M205.4 60.5h0.55M214.1 51.3h0.55M206.0 52.7h0.55M203.7 51.2h0.55M216.8 47.3h0.55M208.9 55.1h0.55M205.1 57.9h0.55M222.0 56.6h0.55M215.5 51.1h0.55M204.7 53.6h0.55M205.8 61.3h0.55M207.4 54.8h0.55M217.3 52.2h0.55M217.1 58.6h0.55M204.4 54.4h0.55M219.8 48.9h0.55M229.0 52.5h0.55M205.6 58.7h0.55M214.4 54.9h0.55M234.2 55.1h0.55M227.8 57.7h0.55M239.9 52.7h0.55M218.1 50.2h0.55M231.6 55.4h0.55M209.7 53.2h0.55M205.9 55.4h0.55M205.2 52.9h0.55M202.9 52.8h0.55M202.3 50.5h0.55M207.2 56.5h0.55M229.6 62.3h0.55M242.3 51.1h0.55M228.8 59.5h0.55M225.9 57.9h0.55M207.0 53.2h0.55M203.6 51.9h0.55M208.8 57.4h0.55M236.6 54.2h0.55M202.2 54.5h0.55M228.1 53.9h0.55M209.6 62.2h0.55M235.2 49.8h0.55M238.3 57.0h0.55M202.9 62.2h0.55M204.5 56.1h0.55M207.8 63.1h0.55M212.8 55.5h0.55M204.3 56.1h0.55M210.5 58.3h0.55M230.4 53.0h0.55M230.1 55.6h0.55M202.1 57.6h0.55M212.5 53.2h0.55M213.2 57.2h0.55M222.9 59.4h0.55M224.4 51.4h0.55M206.7 55.1h0.55M215.0 56.9h0.55M206.8 53.0h0.55M211.2 59.1h0.55M218.7 59.9h0.55M208.9 53.6h0.55M208.4 56.4h0.55M206.2 53.3h0.55M227.0 55.1h0.55M210.0 57.2h0.55M204.5 55.0h0.55M218.6 56.2h0.55M240.2 54.0h0.55M206.7 59.8h0.55M224.2 58.9h0.55M208.0 53.4h0.55M212.5 57.5h0.55M219.2 64.9h0.55M213.2 54.0h0.55M207.4 60.5h0.55M218.3 65.0h0.55M215.0 54.9h0.55M217.0 58.5h0.55M223.5 47.9h0.55M218.7 60.5h0.55M212.6 57.9h0.55M202.7 58.6h0.55M213.5 56.3h0.55M225.2 59.1h0.55M206.9 59.6h0.55M220.4 58.2h0.55M203.2 54.7h0.55M204.0 55.1h0.55M222.8 55.8h0.55M208.2 54.9h0.55M214.2 52.7h0.55M220.1 51.2h0.55M233.1 55.3h0.55M208.6 52.4h0.55M208.9 54.4h0.55M219.5 51.2h0.55M235.1 50.9h0.55M213.4 54.2h0.55M222.2 54.8h0.55M221.1 63.3h0.55M204.3 55.4h0.55M229.6 59.3h0.55M206.2 57.4h0.55M210.1 56.7h0.55M226.8 54.6h0.55M204.1 57.9h0.55M208.9 57.5h0.55M214.6 50.7h0.55M207.7 58.0h0.55M213.0 54.9h0.55M208.6 50.0h0.55M215.0 52.9h0.55M216.5 58.1h0.55M208.7 59.0h0.55M204.6 55.2h0.55M201.9 59.9h0.55M202.8 58.4h0.55M239.7 50.2h0.55M219.9 51.8h0.55M209.5 56.9h0.55M203.1 52.5h0.55M212.0 53.4h0.55M210.4 56.7h0.55M205.4 54.6h0.55M210.0 53.2h0.55M242.4 50.7h0.55M216.4 62.9h0.55M213.7 50.7h0.55M208.3 54.1h0.55M212.7 59.5h0.55M217.1 55.3h0.55M205.1 52.3h0.55M215.0 51.6h0.55M209.0 59.7h0.55M219.4 58.4h0.55M210.0 48.7h0.55M227.8 50.7h0.55M229.8 57.9h0.55M211.2 61.3h0.55M217.7 53.7h0.55M213.7 59.0h0.55M209.2 50.0h0.55M214.0 49.7h0.55M210.2 51.2h0.55M204.6 57.4h0.55M215.0 56.3h0.55M210.4 58.2h0.55M206.4 49.3h0.55M204.7 61.5h0.55M205.3 54.2h0.55M209.7 65.0h0.55M216.0 56.5h0.55M226.9 49.2h0.55M214.9 55.5h0.55M213.5 52.6h0.55M232.0 61.1h0.55M215.3 56.4h0.55M203.5 60.0h0.55M204.3 52.7h0.55M231.3 52.9h0.55M208.4 56.1h0.55M227.5 55.9h0.55M224.8 52.3h0.55M223.5 57.4h0.55M214.4 59.7h0.55M207.4 54.3h0.55M201.7 53.8h0.55M228.2 53.8h0.55M210.8 57.5h0.55M223.7 55.1h0.55M207.3 57.1h0.55M224.4 59.5h0.55M212.6 54.5h0.55M220.1 54.6h0.55M211.7 54.5h0.55M202.3 60.8h0.55M204.7 55.1h0.55M203.4 55.8h0.55M213.7 54.5h0.55M203.7 58.7h0.55M208.7 57.0h0.55M216.0 51.4h0.55M212.9 58.9h0.55M215.0 57.0h0.55M211.3 59.8h0.55M218.3 57.4h0.55M208.1 55.3h0.55M206.7 52.0h0.55M208.4 59.1h0.55M203.4 60.0h0.55M207.6 52.4h0.55M234.9 55.3h0.55M224.0 57.2h0.55M219.8 55.1h0.55M207.0 56.9h0.55M232.7 54.2h0.55M216.6 53.2h0.55M202.4 59.9h0.55M231.4 49.5h0.55M211.0 57.8h0.55M206.0 52.7h0.55M219.2 55.6h0.55M242.1 53.1h0.55M209.7 56.1h0.55M205.7 53.3h0.55M220.0 56.5h0.55M205.3 50.4h0.55M207.2 51.7h0.55M231.7 55.0h0.55M218.7 57.7h0.55M227.2 52.5h0.55M215.6 62.4h0.55M208.2 54.1h0.55M203.0 58.3h0.55M223.5 49.0h0.55M235.7 51.9h0.55M233.7 51.9h0.55M206.7 51.3h0.55M217.4 49.9h0.55M223.5 53.9h0.55M223.1 52.4h0.55M217.6 61.3h0.55M233.9 55.2h0.55M222.3 56.5h0.55M205.5 48.0h0.55M207.7 60.8h0.55M215.3 61.0h0.55M214.9 51.5h0.55M205.4 51.7h0.55M208.2 52.7h0.55M203.8 60.5h0.55M201.9 50.7h0.55M203.1 51.8h0.55M220.7 49.8h0.55M207.1 56.5h0.55M227.4 58.5h0.55M222.3 52.0h0.55M209.1 59.5h0.55M223.8 56.0h0.55M213.5 52.5h0.55M213.9 57.5h0.55M203.3 60.0h0.55M230.2 60.0h0.55M226.3 57.4h0.55M211.4 60.2h0.55M243.3 55.5h0.55M206.1 56.6h0.55M206.8 61.9h0.55M212.2 55.1h0.55M218.2 52.6h0.55M222.0 51.2h0.55M213.7 53.7h0.55M202.1 48.8h0.55M217.1 52.2h0.55M224.5 51.4h0.55M216.3 54.9h0.55M219.3 50.6h0.55M209.5 55.1h0.55M230.1 55.5h0.55M206.9 58.3h0.55M212.4 59.2h0.55M209.1 61.1h0.55M212.6 54.6h0.55M222.4 50.6h0.55M216.2 58.3h0.55M208.6 57.0h0.55M202.8 54.0h0.55M202.9 58.5h0.55M220.8 62.6h0.55M223.3 56.9h0.55M204.4 54.1h0.55M218.6 56.3h0.55M202.3 52.3h0.55M217.3 62.6h0.55M206.0 51.2h0.55M212.4 51.9h0.55M234.2 59.2h0.55M209.8 54.9h0.55M228.3 51.2h0.55M217.1 58.9h0.55M223.1 59.7h0.55M205.0 49.8h0.55M204.7 57.9h0.55M229.0 59.1h0.55M225.7 62.2h0.55M217.6 57.3h0.55M219.8 58.3h0.55M205.4 56.0h0.55M203.2 58.1h0.55M224.8 61.7h0.55M207.7 58.2h0.55M226.9 53.4h0.55M233.9 55.3h0.55M228.5 62.6h0.55M213.4 51.1h0.55M215.8 53.5h0.55M205.9 53.2h0.55M215.1 60.3h0.55M241.6 52.5h0.55M210.2 54.1h0.55M217.3 55.4h0.55M218.3 57.6h0.55M241.3 57.8h0.55M243.3 51.5h0.55M216.2 51.5h0.55M205.0 50.5h0.55M203.2 59.7h0.55M223.5 54.7h0.55M213.3 56.2h0.55M233.8 55.6h0.55M206.3 50.3h0.55M204.8 49.7h0.55M222.4 51.6h0.55M240.5 62.5h0.55M213.6 54.2h0.55M204.4 57.4h0.55M214.0 52.0h0.55M209.0 64.8h0.55M240.6 55.9h0.55M214.6 50.0h0.55M202.3 53.8h0.55M216.4 56.7h0.55M219.3 59.1h0.55M202.5 54.3h0.55M232.5 57.9h0.55M221.8 56.6h0.55M222.4 56.3h0.55M216.3 54.1h0.55M201.7 56.9h0.55M202.2 59.5h0.55M204.5 55.5h0.55M220.7 54.4h0.55M216.7 65.5h0.55M209.8 58.0h0.55M230.4 57.9h0.55M207.8 50.4h0.55M225.3 59.4h0.55M225.4 49.9h0.55M202.5 59.8h0.55M222.7 56.7h0.55M222.2 53.8h0.55M222.2 53.1h0.55M231.5 56.2h0.55M217.0 54.2h0.55M203.5 49.5h0.55M213.5 59.3h0.55M205.6 50.1h0.55M211.1 54.9h0.55M212.6 53.8h0.55M208.9 61.0h0.55M208.0 50.1h0.55M202.9 59.1h0.55M212.6 57.2h0.55M211.6 45.3h0.55M217.5 50.5h0.55M202.4 53.1h0.55M216.1 51.8h0.55M207.4 56.3h0.55M203.3 57.5h0.55M210.4 59.2h0.55M225.8 52.9h0.55M232.4 57.4h0.55M203.2 54.7h0.55M218.5 57.3h0.55M228.4 55.3h0.55M225.3 55.4h0.55M215.6 54.3h0.55M234.1 57.3h0.55M220.8 55.9h0.55M234.3 52.1h0.55M203.1 48.1h0.55M226.8 59.1h0.55M218.0 58.2h0.55M217.8 55.2h0.55M217.8 59.7h0.55M220.8 55.3h0.55M216.6 55.1h0.55M231.3 54.0h0.55M224.2 60.1h0.55M213.3 61.9h0.55M227.6 54.8h0.55M232.3 53.3h0.55M214.5 59.3h0.55M206.0 58.7h0.55M202.2 57.8h0.55M211.9 50.5h0.55M225.6 56.6h0.55M218.0 56.2h0.55M211.0 54.5h0.55M213.7 57.2h0.55M202.8 55.0h0.55M229.5 57.0h0.55M205.5 55.5h0.55M207.3 54.6h0.55M213.7 61.6h0.55M241.7 55.4h0.55M213.5 57.8h0.55M201.7 58.9h0.55M214.5 52.2h0.55M216.0 55.0h0.55M211.8 52.5h0.55M219.6 55.0h0.55M211.4 51.5h0.55M203.6 58.7h0.55M209.3 55.6h0.55M221.6 51.3h0.55M205.1 57.3h0.55M216.4 52.1h0.55M219.5 50.5h0.55M235.2 57.1h0.55M206.0 55.8h0.55M210.2 53.0h0.55M206.2 58.1h0.55M211.6 57.2h0.55M205.0 56.2h0.55M225.1 59.2h0.55M225.9 56.7h0.55M214.3 60.0h0.55M202.3 56.8h0.55M211.5 56.8h0.55M234.3 45.7h0.55M209.8 54.4h0.55M216.5 62.3h0.55M205.8 53.6h0.55M242.1 55.1h0.55M207.7 54.1h0.55M213.3 49.3h0.55M209.3 57.7h0.55M203.1 62.3h0.55M224.6 61.5h0.55M207.4 54.8h0.55M206.0 52.5h0.55M212.9 53.7h0.55M236.7 57.4h0.55M203.5 54.2h0.55M223.5 58.4h0.55M212.0 56.6h0.55M212.4 51.3h0.55M219.6 51.6h0.55M223.7 58.6h0.55M212.0 58.6h0.55M203.1 55.7h0.55M227.8 60.8h0.55M218.4 55.4h0.55M218.7 54.6h0.55M215.2 55.5h0.55M202.6 57.6h0.55M219.3 47.6h0.55M210.9 56.1h0.55M203.5 56.1h0.55M226.4 52.7h0.55M202.6 52.6h0.55M207.9 59.9h0.55M226.6 54.0h0.55M212.0 54.6h0.55M227.8 58.9h0.55M205.8 51.3h0.55M204.0 64.3h0.55M210.0 53.0h0.55M225.3 53.4h0.55M206.3 50.5h0.55M212.5 53.4h0.55M219.7 52.2h0.55M207.2 54.0h0.55M228.5 51.7h0.55M209.7 47.2h0.55M222.6 59.7h0.55M215.1 58.2h0.55M203.2 57.9h0.55M204.6 57.5h0.55M215.5 57.7h0.55M211.0 53.1h0.55M207.1 65.7h0.55M206.8 53.5h0.55M213.2 51.3h0.55M201.8 62.7h0.55M231.1 54.2h0.55M220.5 55.8h0.55M211.2 52.0h0.55M214.3 54.7h0.55M227.3 57.2h0.55M208.7 56.7h0.55M205.7 51.3h0.55M228.7 58.2h0.55M207.3 52.8h0.55M206.4 50.1h0.55M241.2 58.7h0.55M210.5 56.7h0.55M202.8 54.8h0.55M215.6 52.8h0.55M213.1 58.3h0.55M221.5 54.6h0.55M211.0 53.1h0.55M211.0 57.5h0.55M207.0 56.6h0.55M215.6 51.3h0.55M208.1 59.9h0.55M204.0 49.7h0.55M238.5 52.7h0.55M230.8 56.8h0.55M210.5 55.2h0.55M214.4 58.3h0.55M216.9 57.6h0.55M210.1 47.2h0.55M220.6 60.2h0.55M214.2 53.8h0.55M205.9 55.6h0.55M209.4 52.9h0.55M213.8 51.8h0.55M216.3 57.8h0.55M207.3 57.2h0.55M216.1 56.4h0.55M204.7 53.3h0.55M220.4 61.1h0.55M208.7 56.9h0.55M216.9 57.6h0.55M211.0 55.9h0.55M225.4 56.6h0.55M225.4 59.7h0.55M234.4 59.3h0.55M206.0 59.5h0.55M204.0 56.0h0.55M216.5 56.1h0.55M214.1 51.5h0.55M210.9 54.9h0.55M224.0 53.6h0.55M223.5 52.7h0.55M220.7 55.6h0.55M206.7 55.9h0.55M216.3 53.1h0.55M223.5 49.6h0.55M213.9 54.7h0.55M203.1 55.6h0.55M206.7 56.7h0.55M225.9 52.5h0.55M219.1 51.0h0.55M214.1 49.1h0.55M229.0 55.5h0.55M208.3 53.5h0.55M205.1 57.6h0.55M211.7 50.6h0.55M202.5 60.2h0.55M234.0 54.9h0.55M215.2 54.8h0.55M202.1 56.0h0.55M208.3 58.0h0.55M236.8 58.3h0.55M209.7 49.1h0.55M238.5 53.5h0.55M225.1 57.1h0.55M210.9 57.6h0.55M242.7 56.3h0.55M228.0 52.4h0.55M227.2 57.0h0.55M243.2 54.9h0.55M215.8 55.5h0.55M212.8 59.8h0.55M232.9 55.2h0.55M203.1 57.1h0.55M212.6 60.6h0.55M204.7 59.0h0.55M205.6 51.2h0.55M220.7 51.8h0.55M226.8 48.5h0.55M238.7 59.2h0.55M229.5 54.9h0.55M201.9 53.6h0.55M238.3 55.2h0.55M210.9 51.4h0.55M222.5 57.5h0.55M212.1 52.4h0.55M212.2 58.7h0.55M206.4 56.4h0.55M228.3 55.3h0.55M210.6 57.5h0.55M203.3 54.7h0.55M208.2 55.4h0.55M219.4 59.7h0.55M203.1 61.4h0.55M219.0 57.5h0.55M234.2 60.4h0.55M217.1 50.0h0.55M208.4 56.0h0.55M203.9 55.5h0.55M207.4 53.9h0.55M206.3 57.4h0.55M222.6 62.3h0.55M219.0 57.4h0.55M211.9 59.5h0.55M238.6 60.4h0.55M218.4 60.2h0.55M212.0 55.9h0.55M215.4 53.5h0.55M225.5 59.6h0.55M228.0 58.7h0.55M220.7 54.1h0.55M221.9 61.3h0.55M202.7 52.8h0.55M216.9 51.4h0.55M204.2 55.4h0.55M202.1 51.1h0.55M213.5 55.1h0.55M211.3 55.4h0.55M206.7 53.6h0.55M206.6 55.9h0.55M209.3 51.3h0.55M225.0 47.8h0.55M203.5 58.5h0.55M213.7 58.9h0.55M223.4 58.6h0.55M232.7 54.2h0.55M216.2 57.2h0.55M213.6 54.5h0.55M217.2 59.8h0.55M209.1 51.6h0.55M227.6 56.7h0.55M206.5 54.1h0.55M206.8 58.1h0.55M210.6 55.9h0.55M212.7 49.5h0.55M203.5 54.6h0.55M235.6 52.3h0.55M216.8 57.2h0.55M215.9 58.6h0.55M241.9 51.5h0.55M214.3 57.1h0.55M206.4 52.2h0.55M202.2 53.9h0.55M206.0 56.2h0.55M206.0 59.9h0.55M221.7 57.3h0.55M202.4 57.9h0.55M207.8 54.0h0.55M216.8 55.2h0.55M208.7 57.8h0.55M204.6 56.2h0.55M219.6 56.2h0.55M210.4 57.0h0.55M203.6 61.4h0.55M214.4 60.4h0.55M212.1 60.6h0.55M228.2 57.0h0.55M212.2 53.0h0.55M236.8 51.7h0.55M215.5 56.2h0.55M205.3 52.3h0.55M210.5 49.0h0.55M202.2 54.7h0.55M232.1 63.4h0.55M228.6 55.8h0.55M224.7 56.2h0.55M218.3 55.5h0.55M204.5 56.3h0.55M219.3 51.1h0.55M232.7 56.6h0.55M208.9 58.5h0.55M232.9 56.6h0.55M223.3 56.8h0.55M215.6 55.9h0.55M220.9 58.2h0.55M212.9 51.8h0.55M215.9 48.9h0.55M234.3 54.0h0.55M227.1 55.7h0.55M212.7 57.8h0.55M216.8 53.2h0.55M240.4 56.3h0.55M224.4 55.6h0.55M222.3 58.2h0.55M225.4 54.1h0.55M215.3 57.9h0.55M210.9 58.3h0.55M218.6 54.8h0.55M208.1 55.2h0.55M223.6 54.1h0.55M227.0 53.3h0.55M224.9 53.5h0.55M217.0 52.0h0.55M221.7 58.2h0.55M216.0 57.1h0.55M216.3 55.3h0.55M213.2 56.1h0.55M214.4 55.8h0.55M206.0 60.9h0.55M209.1 58.7h0.55M224.1 54.6h0.55M203.0 58.1h0.55M212.2 50.1h0.55M213.5 54.0h0.55M226.4 53.0h0.55M205.9 56.8h0.55M218.1 53.8h0.55M203.7 53.0h0.55M209.0 53.2h0.55M210.6 50.8h0.55M210.3 51.1h0.55M238.0 52.3h0.55M223.7 56.9h0.55M215.3 56.6h0.55M202.2 58.2h0.55M207.1 61.4h0.55M214.7 58.8h0.55M216.6 49.4h0.55M213.9 53.5h0.55M234.7 60.8h0.55M204.2 56.2h0.55M229.7 56.9h0.55M236.8 56.4h0.55M203.0 50.9h0.55M212.6 57.0h0.55M238.6 55.1h0.55M235.4 52.2h0.55M204.4 56.9h0.55M203.6 61.5h0.55M204.8 55.0h0.55M210.8 51.2h0.55M232.7 55.2h0.55M215.6 52.5h0.55M215.9 47.3h0.55M209.0 53.9h0.55M206.8 56.9h0.55M224.5 52.3h0.55M220.3 55.2h0.55M214.9 55.1h0.55M213.8 54.0h0.55M221.0 54.2h0.55M218.4 54.5h0.55M209.1 54.6h0.55M220.8 55.1h0.55M204.8 57.3h0.55M216.7 53.9h0.55M207.7 52.7h0.55M219.8 57.2h0.55M210.8 53.2h0.55M233.5 62.8h0.55M204.7 54.7h0.55M215.4 62.3h0.55M202.5 56.4h0.55M223.1 56.6h0.55M209.7 58.6h0.55M239.3 57.0h0.55M225.5 55.1h0.55M231.6 54.4h0.55M207.4 52.4h0.55M225.7 52.3h0.55M208.9 58.4h0.55M218.1 47.3h0.55M206.0 61.4h0.55M205.8 58.7h0.55M223.1 54.5h0.55M237.6 61.4h0.55M204.5 61.9h0.55M217.5 59.3h0.55M224.6 47.3h0.55M234.8 48.7h0.55M203.1 57.7h0.55M231.5 51.4h0.55M215.2 56.8h0.55M206.2 54.1h0.55M215.2 56.8h0.55M229.1 54.3h0.55M235.0 55.5h0.55M218.9 49.6h0.55M203.6 55.3h0.55M206.5 52.4h0.55M202.1 59.0h0.55M223.5 53.1h0.55M213.1 56.9h0.55M224.4 57.4h0.55M240.5 54.9h0.55M203.5 52.5h0.55M204.1 55.8h0.55M207.5 54.9h0.55M209.3 58.0h0.55M205.7 52.2h0.55M209.6 51.3h0.55M224.3 57.7h0.55M220.5 56.2h0.55M209.7 59.4h0.55M210.1 59.9h0.55M217.4 49.0h0.55M212.1 56.2h0.55M228.2 55.8h0.55M218.0 55.5h0.55M232.3 58.5h0.55M215.5 61.9h0.55M226.5 54.7h0.55M225.0 54.8h0.55M209.9 57.5h0.55M222.8 57.8h0.55M206.1 54.8h0.55M208.3 58.2h0.55M203.9 59.9h0.55M206.3 53.5h0.55M211.4 59.6h0.55M205.5 52.6h0.55M202.3 59.6h0.55M218.8 52.2h0.55M202.9 52.3h0.55M205.1 50.5h0.55M228.0 54.1h0.55M202.6 55.0h0.55M226.4 54.7h0.55M234.4 53.9h0.55M203.7 54.3h0.55M211.0 53.5h0.55M219.0 53.8h0.55M213.1 55.6h0.55M230.4 53.2h0.55M219.5 55.7h0.55M207.4 51.4h0.55M204.6 50.6h0.55M210.0 57.7h0.55M205.9 52.4h0.55M221.2 55.4h0.55M214.6 51.7h0.55M210.0 50.0h0.55M213.3 50.4h0.55M208.5 52.1h0.55M211.3 59.5h0.55M223.3 52.6h0.55M217.9 55.9h0.55M212.2 53.7h0.55M205.8 55.4h0.55M221.8 50.9h0.55M208.1 58.8h0.55M210.8 55.8h0.55M215.4 53.5h0.55M214.2 57.8h0.55M216.9 49.8h0.55M208.1 52.6h0.55M204.7 56.3h0.55M211.4 60.5h0.55M202.1 53.3h0.55M225.5 61.3h0.55M204.0 59.1h0.55M208.3 52.0h0.55M237.1 56.9h0.55M236.9 59.0h0.55M218.1 51.8h0.55M220.1 60.2h0.55M212.3 49.8h0.55M223.0 59.9h0.55M212.9 59.1h0.55M211.7 60.8h0.55M211.9 58.0h0.55M212.7 56.1h0.55M208.4 49.7h0.55M204.1 61.2h0.55M213.2 57.4h0.55M215.1 58.1h0.55M201.8 53.2h0.55M221.9 47.5h0.55M210.4 56.9h0.55M207.1 52.1h0.55M217.0 55.1h0.55M214.1 57.1h0.55M217.7 50.7h0.55M217.4 56.7h0.55M215.2 52.6h0.55M202.1 53.2h0.55M208.8 57.8h0.55M225.8 50.1h0.55M207.7 53.2h0.55M220.2 54.3h0.55M228.4 58.7h0.55M221.7 54.9h0.55M219.3 57.5h0.55M210.9 51.4h0.55M210.1 50.0h0.55M203.6 54.6h0.55M216.5 60.5h0.55M212.8 56.9h0.55M214.4 53.7h0.55M211.3 53.0h0.55M216.1 59.8h0.55M225.3 57.3h0.55M225.4 50.2h0.55M209.4 48.4h0.55M227.3 61.8h0.55M234.5 55.7h0.55M205.1 55.2h0.55M228.8 56.4h0.55M202.2 54.9h0.55M224.3 54.6h0.55M202.3 54.9h0.55M215.1 48.3h0.55M226.3 54.0h0.55M243.4 53.5h0.55M218.5 58.8h0.55M221.8 58.5h0.55M211.0 53.8h0.55M203.0 54.7h0.55M205.6 55.4h0.55M223.6 61.9h0.55M216.4 58.8h0.55M217.4 52.8h0.55M209.1 60.1h0.55M209.6 51.9h0.55M218.4 59.0h0.55M228.3 55.5h0.55M202.8 51.1h0.55M238.2 53.6h0.55M212.2 54.5h0.55M223.4 58.9h0.55M204.0 59.7h0.55M209.6 49.1h0.55M229.7 53.5h0.55M216.6 58.9h0.55M218.4 56.9h0.55M221.8 56.9h0.55M205.0 57.4h0.55M209.6 57.8h0.55M209.9 59.6h0.55M234.4 53.8h0.55M204.3 47.5h0.55M224.1 56.8h0.55M205.2 53.0h0.55M238.3 49.4h0.55M207.4 55.3h0.55M220.7 52.6h0.55M213.8 54.9h0.55M204.1 48.1h0.55M214.4 56.9h0.55M213.1 54.9h0.55M213.1 55.8h0.55M204.8 52.6h0.55M207.4 52.3h0.55M220.8 58.4h0.55M215.5 57.3h0.55M204.0 54.2h0.55M223.8 51.0h0.55M226.0 56.9h0.55M216.3 53.4h0.55M222.0 58.0h0.55M206.4 52.7h0.55M208.5 55.7h0.55M206.9 56.3h0.55M230.2 53.2h0.55M240.7 56.9h0.55M221.3 50.4h0.55M217.9 59.6h0.55M228.6 53.7h0.55M207.7 53.6h0.55M203.6 54.5h0.55M212.1 53.9h0.55M212.0 52.7h0.55M208.4 55.8h0.55M227.5 53.0h0.55M209.0 54.1h0.55M210.9 55.7h0.55M218.6 54.4h0.55M216.6 52.4h0.55M222.3 57.8h0.55M213.9 61.8h0.55M213.0 53.1h0.55M202.9 58.1h0.55M212.7 52.7h0.55M215.0 54.2h0.55M214.5 51.4h0.55M229.8 53.1h0.55M221.9 52.5h0.55M221.5 54.7h0.55M205.5 54.0h0.55M215.0 62.5h0.55M223.9 52.1h0.55M207.6 57.2h0.55M217.0 57.9h0.55M203.0 49.1h0.55M206.2 49.3h0.55M242.6 58.1h0.55M243.5 51.1h0.55M223.6 54.1h0.55M202.3 46.1h0.55M217.4 51.5h0.55M205.3 54.3h0.55M217.7 59.0h0.55M218.3 62.1h0.55M214.5 53.1h0.55M227.2 60.1h0.55M231.7 55.2h0.55M218.4 54.4h0.55M225.9 54.5h0.55M222.5 54.4h0.55M218.7 50.0h0.55M208.3 55.0h0.55M228.1 51.4h0.55M213.0 56.4h0.55M215.4 64.5h0.55M214.2 50.8h0.55M216.5 60.9h0.55M202.6 51.4h0.55M207.3 54.1h0.55M202.9 58.8h0.55M202.3 57.0h0.55M224.8 59.3h0.55M239.8 59.9h0.55M201.9 54.3h0.55M203.3 53.4h0.55M204.8 57.4h0.55M219.8 57.0h0.55M214.8 61.1h0.55M203.7 48.0h0.55M204.5 58.8h0.55M212.5 57.0h0.55M221.5 54.3h0.55M210.0 52.5h0.55M209.8 52.6h0.55M236.1 52.6h0.55M214.4 60.8h0.55M210.7 55.4h0.55M231.7 54.4h0.55M230.4 55.5h0.55M206.4 57.2h0.55M239.1 57.9h0.55M207.9 55.2h0.55M241.0 54.6h0.55M208.3 52.6h0.55M234.9 55.1h0.55M231.2 54.8h0.55M216.1 53.2h0.55M205.5 54.2h0.55M208.8 59.6h0.55M222.6 58.0h0.55M228.9 56.3h0.55M216.4 59.4h0.55M208.1 55.7h0.55M221.6 59.3h0.55M221.6 55.3h0.55M212.6 60.3h0.55M220.5 57.2h0.55M227.1 54.3h0.55M229.0 51.3h0.55M240.0 55.8h0.55M205.3 55.8h0.55M222.3 51.6h0.55M219.7 54.6h0.55M237.1 53.3h0.55M224.3 56.3h0.55M232.9 50.9h0.55M217.8 55.3h0.55M216.4 61.9h0.55M205.0 58.6h0.55M215.0 55.2h0.55M220.0 60.6h0.55M204.7 54.0h0.55M215.1 58.2h0.55M225.3 56.4h0.55M203.6 53.9h0.55M203.7 57.0h0.55M210.7 63.4h0.55M213.5 52.4h0.55M215.9 52.3h0.55M204.4 61.1h0.55M239.5 53.1h0.55M214.3 54.9h0.55M213.4 53.8h0.55M213.9 52.8h0.55M213.3 57.0h0.55M205.8 51.9h0.55M222.4 51.8h0.55M211.9 54.5h0.55M217.8 57.2h0.55M210.1 60.3h0.55M217.4 55.2h0.55M224.6 58.5h0.55M221.5 60.0h0.55M201.8 56.9h0.55M213.4 58.2h0.55M207.7 54.6h0.55M204.5 49.8h0.55M219.3 58.0h0.55M235.5 51.5h0.55M203.6 57.3h0.55M204.5 52.5h0.55M206.3 51.3h0.55M206.1 54.9h0.55M236.0 51.0h0.55M208.1 55.6h0.55M202.0 54.7h0.55M222.3 54.6h0.55M219.9 60.6h0.55M207.2 58.1h0.55M202.6 54.5h0.55M211.1 58.1h0.55M239.1 56.7h0.55M214.4 54.2h0.55M214.7 50.7h0.55M223.9 52.9h0.55M232.7 62.1h0.55M233.8 55.5h0.55M228.0 57.3h0.55M218.9 61.2h0.55M204.3 52.9h0.55M221.1 59.1h0.55M212.5 46.6h0.55M210.0 51.8h0.55M228.1 47.9h0.55M204.0 55.3h0.55M203.8 55.4h0.55M207.0 52.8h0.55M218.3 53.1h0.55M222.9 65.4h0.55M219.9 56.7h0.55M242.2 57.2h0.55M209.7 52.3h0.55M205.4 52.6h0.55M206.0 56.0h0.55M219.8 54.2h0.55M205.5 54.7h0.55M212.8 54.3h0.55M207.9 49.4h0.55M238.7 56.6h0.55M210.8 56.1h0.55M218.3 57.2h0.55M213.5 57.8h0.55M208.2 61.6h0.55M221.2 54.0h0.55M212.1 56.1h0.55M206.7 60.0h0.55M210.6 54.1h0.55M207.9 59.3h0.55M205.5 53.7h0.55M214.5 53.8h0.55M221.7 51.6h0.55M231.2 54.9h0.55M238.3 62.5h0.55M206.8 61.7h0.55M209.4 55.7h0.55M210.2 57.1h0.55M219.2 59.3h0.55M209.1 51.7h0.55M240.0 53.9h0.55M241.2 42.8h0.55M250.1 127.3h0.55M214.1 78.5h0.55M231.7 107.9h0.55M212.6 54.2h0.55M240.3 64.2h0.55M234.0 102.6h0.55M231.5 74.8h0.55M232.7 88.2h0.55M242.8 117.4h0.55M221.6 89.4h0.55M216.3 121.2h0.55M227.5 67.1h0.55M209.7 98.0h0.55M240.2 54.0h0.55M213.9 52.4h0.55M231.7 77.5h0.55M246.1 103.4h0.55M245.3 85.4h0.55M245.0 52.7h0.55M244.6 127.4h0.55M233.4 123.0h0.55M213.1 52.2h0.55M222.7 69.0h0.55M250.8 69.4h0.55M250.5 74.9h0.55M228.5 102.9h0.55M242.8 116.9h0.55M207.0 54.2h0.55M226.0 104.7h0.55M204.5 125.9h0.55M210.9 124.5h0.55M211.8 88.9h0.55M206.2 56.7h0.55M243.2 104.5h0.55M206.7 114.2h0.55M232.9 55.7h0.55M209.4 64.8h0.55M238.6 118.9h0.55M213.1 95.7h0.55M210.4 48.4h0.55M232.2 123.6h0.55M231.1 82.8h0.55M230.7 100.5h0.55M240.5 99.8h0.55M237.8 57.3h0.55M243.6 78.6h0.55M230.6 73.9h0.55M221.0 114.1h0.55M219.5 95.2h0.55M227.1 86.1h0.55M240.6 63.1h0.55M232.7 91.6h0.55M239.1 128.9h0.55M207.5 41.4h0.55M246.8 93.0h0.55M218.8 70.3h0.55M230.4 53.6h0.55M248.6 72.6h0.55M241.4 43.5h0.55M235.2 41.6h0.55M249.1 93.4h0.55M227.4 72.7h0.55M224.3 88.6h0.55M230.8 121.5h0.55M230.4 76.7h0.55M222.2 76.5h0.55M241.7 129.2h0.55M223.1 86.6h0.55M241.6 41.3h0.55M224.7 42.3h0.55M222.1 77.0h0.55M250.8 62.1h0.55M219.4 68.9h0.55M213.6 91.8h0.55M223.4 100.3h0.55M220.8 64.1h0.55M217.7 92.1h0.55M218.7 113.0h0.55M232.4 73.2h0.55M239.8 127.3h0.55M241.9 81.9h0.55M227.3 44.0h0.55M230.5 97.5h0.55M230.2 46.0h0.55M238.5 65.0h0.55M238.5 89.6h0.55M214.5 75.7h0.55M246.2 79.3h0.55M223.0 110.5h0.55M237.3 88.9h0.55M237.5 120.4h0.55M240.9 81.5h0.55M236.8 70.9h0.55M248.8 59.3h0.55M227.9 78.3h0.55M246.8 70.7h0.55M226.7 76.5h0.55M215.9 57.9h0.55M243.4 108.6h0.55M248.4 81.5h0.55M207.0 65.1h0.55M248.3 65.4h0.55M218.7 111.3h0.55M214.7 48.2h0.55M207.1 74.6h0.55M244.7 81.2h0.55M225.9 103.6h0.55M219.1 120.3h0.55M217.2 50.1h0.55M248.2 90.4h0.55M213.9 124.5h0.55M237.6 41.0h0.55M230.5 45.2h0.55M224.8 64.3h0.55M209.7 103.2h0.55M217.6 126.8h0.55M231.8 91.4h0.55M223.9 94.3h0.55M244.8 97.2h0.55M213.3 92.4h0.55M216.2 41.9h0.55M221.6 124.2h0.55M221.7 50.9h0.55M246.5 46.9h0.55M212.3 105.3h0.55M207.8 98.3h0.55M229.9 97.2h0.55M210.8 64.4h0.55M241.4 98.0h0.55M236.0 50.2h0.55M215.1 76.2h0.55M239.2 104.2h0.55M249.6 41.6h0.55M205.5 69.5h0.55M232.4 70.0h0.55M207.2 71.8h0.55M241.5 126.1h0.55M223.8 41.5h0.55M228.7 65.2h0.55M218.0 128.9h0.55M233.4 68.1h0.55M205.7 104.1h0.55M222.5 117.8h0.55M225.3 110.5h0.55M221.0 103.2h0.55M171.8 47.2h0.55M192.0 49.3h0.55M167.9 62.0h0.55M200.8 58.5h0.55M171.4 49.7h0.55M166.1 59.1h0.55M167.3 60.6h0.55M168.4 55.5h0.55M162.1 61.4h0.55M201.1 54.7h0.55M198.8 56.2h0.55M168.0 57.6h0.55M159.1 59.5h0.55M172.5 60.1h0.55M166.5 58.1h0.55M168.5 56.7h0.55M197.3 48.7h0.55M165.4 58.6h0.55M177.4 53.3h0.55M169.7 53.7h0.55M159.5 64.8h0.55M170.4 43.6h0.55M191.2 52.8h0.55M196.2 55.8h0.55M199.3 57.4h0.55M173.0 55.5h0.55M172.3 52.6h0.55M163.6 49.5h0.55M170.9 52.6h0.55M165.1 63.2h0.55M200.5 57.2h0.55M163.9 43.1h0.55M172.4 55.7h0.55M164.5 55.8h0.55M171.6 51.8h0.55M197.0 57.3h0.55M159.4 60.5h0.55M172.8 48.7h0.55M200.3 55.5h0.55M160.5 61.0h0.55M163.3 60.3h0.55M195.7 55.7h0.55M167.1 60.8h0.55M168.0 50.9h0.55M158.7 55.2h0.55M168.5 60.3h0.55M158.8 55.7h0.55M177.3 47.4h0.55M167.5 60.7h0.55M159.1 55.7h0.55M169.0 62.7h0.55M201.4 62.6h0.55M170.9 56.8h0.55M161.6 58.1h0.55M171.0 61.3h0.55M162.5 50.5h0.55M198.0 50.5h0.55M180.3 54.2h0.55M199.3 57.3h0.55M168.0 55.4h0.55M171.3 55.5h0.55M168.2 59.3h0.55M175.9 54.3h0.55M183.0 52.7h0.55M178.7 52.3h0.55M199.9 51.4h0.55M162.0 62.1h0.55M178.7 55.3h0.55M159.0 58.1h0.55M171.7 59.6h0.55M168.7 63.1h0.55M166.0 52.9h0.55M159.5 58.3h0.55M160.6 59.4h0.55M159.1 59.4h0.55M170.8 57.4h0.55M199.9 59.5h0.55M168.4 57.8h0.55M164.4 58.4h0.55M172.2 60.4h0.55M169.9 55.7h0.55M191.2 51.2h0.55M169.9 54.3h0.55M171.9 56.5h0.55M196.7 54.5h0.55M176.7 54.1h0.55M164.3 52.7h0.55M167.1 58.6h0.55M172.3 58.7h0.55M159.8 60.1h0.55M160.4 55.8h0.55" fill="none" stroke="#1a1a1a" stroke-width="0.55"/>
</g>
<rect x="157.7" y="37.6" width="93.8" height="91.9" fill="none" stroke="#222" stroke-width="0.9"/>
<line x1="158.5" y1="46.6" x2="158.5" y2="129.5" stroke="#000" stroke-width="2.2"/>
<line x1="157.7" y1="129.1" x2="201.7" y2="129.1" stroke="#000" stroke-width="2.6"/>
<line x1="201.7" y1="129" x2="248.5" y2="129" stroke="#222" stroke-width="1.3" stroke-dasharray="1.3 0.9"/>
<rect x="158.5" y="42.1" width="43.5" height="24.3" fill="none" stroke="#222" stroke-width="0.9"/>
<rect x="202.5" y="42.1" width="41.2" height="24.3" fill="none" stroke="#222" stroke-width="0.9"/>
<line x1="202.5" y1="42.1" x2="202.5" y2="67.4" stroke="#000" stroke-width="1.6"/>
<line x1="154.7" y1="45.6" x2="157.7" y2="45.6" stroke="#000" stroke-width="0.6"/>
<text x="153.9" y="47.11" font-size="4.2" text-anchor="end" fill="#222">1x10<tspan dy="-1.8" font-size="3">5</tspan></text>
<line x1="154.7" y1="66.3" x2="157.7" y2="66.3" stroke="#000" stroke-width="0.6"/>
<text x="153.9" y="67.81" font-size="4.2" text-anchor="end" fill="#222">10000</text>
<line x1="154.7" y1="88.1" x2="157.7" y2="88.1" stroke="#000" stroke-width="0.6"/>
<text x="153.9" y="89.61" font-size="4.2" text-anchor="end" fill="#222">1000</text>
<line x1="154.7" y1="110.6" x2="157.7" y2="110.6" stroke="#000" stroke-width="0.6"/>
<text x="153.9" y="112.11" font-size="4.2" text-anchor="end" fill="#222">100</text>
<line x1="154.7" y1="120.6" x2="157.7" y2="120.6" stroke="#000" stroke-width="0.6"/>
<text x="153.9" y="122.11" font-size="4.2" text-anchor="end" fill="#222">0</text>
<line x1="168" y1="129.5" x2="168" y2="131.5" stroke="#000" stroke-width="0.6"/>
<text x="168" y="137.61" font-size="4.2" text-anchor="middle" fill="#222">0</text>
<line x1="177.3" y1="129.5" x2="177.3" y2="131.5" stroke="#000" stroke-width="0.6"/>
<text x="177.3" y="137.61" font-size="4.2" text-anchor="middle" fill="#222">100</text>
<line x1="199" y1="129.5" x2="199" y2="131.5" stroke="#000" stroke-width="0.6"/>
<text x="199" y="137.61" font-size="4.2" text-anchor="middle" fill="#222">1000</text>
<line x1="221.2" y1="129.5" x2="221.2" y2="131.5" stroke="#000" stroke-width="0.6"/>
<text x="221.2" y="137.61" font-size="4.2" text-anchor="middle" fill="#222">10000</text>
<line x1="242.2" y1="129.5" x2="242.2" y2="131.5" stroke="#000" stroke-width="0.6"/>
<text x="242.2" y="137.61" font-size="4.2" text-anchor="middle" fill="#222">1x10<tspan dy="-1.8" font-size="3">5</tspan></text>
<text x="268.6" y="12.7" font-size="16" font-weight="bold">B</text>
<text x="360.4" y="13.4" font-size="11.9" text-anchor="middle">Vector</text>
<text x="362.4" y="27.8" font-size="11.9" text-anchor="middle">+ tamoxifen</text>
<text x="472.7" y="13.3" font-size="11.8" text-anchor="middle">myr-AKT-ER</text>
<text x="473.1" y="27.7" font-size="11.8" text-anchor="middle">+ tamoxifen</text>
<line x1="299.9" y1="39.3" x2="299.9" y2="123.2" stroke="#000" stroke-width="1.4"/>
<path d="M299.9 34.3L296.8 40.3L303 40.3Z" fill="#000"/>
<text x="283.8" y="139.3" font-size="11.4">CD34</text>
<text x="319.6" y="144.7" font-size="11.2">SSC</text>
<line x1="347.4" y1="141.8" x2="448.8" y2="141.8" stroke="#000" stroke-width="1.4"/>
<path d="M454 141.8L447.8 138.5L447.8 145.1Z" fill="#000"/>
<clipPath id="cB1"><rect x="323.5" y="32" width="88.5" height="87.6"/></clipPath><g clip-path="url(#cB1)">
<path d="M376.1 99.1 375.3 99.1 374.9 98.8 374.5 98.4 374.1 98.1 373.6 97.8 372.9 97.5 372.5 97.4 371.7 97.2 370.9 97.0 370.5 96.9 369.9 96.6 369.3 96.4 368.9 96.2 368.1 95.9 367.7 95.7 367.3 95.4 366.9 95.0 366.5 94.6 365.8 94.2 365.3 94.1 364.5 94.0 363.7 93.8 363.3 93.7 362.8 93.4 362.2 93.0 361.7 92.6 361.3 92.2 361.0 91.8 360.8 91.4 360.5 90.9 360.2 90.2 360.0 89.8 359.7 89.3 359.4 88.6 359.5 87.8 359.8 87.4 360.1 87.0 360.5 86.6 361.0 86.2 361.6 85.8 362.1 85.5 362.5 85.1 362.9 84.8 363.3 84.2 363.5 83.8 363.7 83.0 363.7 82.6 363.9 81.8 364.2 81.4 364.6 81.0 365.2 80.6 365.7 80.2 366.1 79.9 366.5 79.8 367.3 79.7 367.7 79.8 368.5 80.0 369.3 79.9 370.1 79.8 370.5 79.7 371.3 79.7 372.0 79.8 372.5 80.0 372.9 80.2 373.5 80.6 374.1 81.0 374.5 81.1 375.3 81.1 375.8 81.0 376.5 80.8 377.3 80.7 378.1 80.9 378.5 81.0 379.3 81.4 379.7 81.6 380.1 81.8 380.9 82.1 381.3 82.2 382.1 82.3 382.9 82.4 383.7 82.6 384.1 82.8 384.5 83.0 385.0 83.4 385.3 83.8 385.7 84.5 385.9 85.0 386.0 85.8 386.0 86.6 386.1 87.4 386.2 87.8 386.5 88.2 386.9 88.6 387.4 89.0 387.7 89.5 387.8 90.2 387.7 90.7 387.4 91.4 387.1 91.8 386.5 92.2 385.7 92.2 384.9 92.1 384.5 92.2 383.8 92.6 383.4 93.0 383.1 93.4 382.8 93.8 382.5 94.2 382.1 94.7 381.7 95.1 381.3 95.5 380.9 95.8 380.4 96.2 379.7 96.6 379.3 96.8 378.9 97.0 378.1 97.3 377.7 97.5 377.1 97.8 376.8 98.2 376.5 98.7 376.1 99.1 376.1 99.1Z" fill="#000" fill-opacity="0.22" fill-rule="evenodd" stroke="none"/>
<path d="M379.7 93.8 378.9 93.9 378.5 93.7 378.1 93.3 377.7 93.0 376.9 92.6 376.5 92.6 375.7 92.6 374.9 92.6 374.1 92.4 373.3 92.3 372.6 92.6 372.1 92.9 371.7 93.2 371.3 93.5 370.5 93.8 370.1 93.9 369.3 93.8 368.9 93.7 368.2 93.4 367.7 93.1 367.3 92.7 366.9 92.4 366.5 92.1 366.1 91.8 365.3 91.5 364.5 91.5 363.7 91.6 363.1 91.4 362.7 91.0 362.4 90.6 362.2 89.8 362.2 89.0 362.5 88.2 362.7 87.8 363.0 87.4 363.3 87.0 363.7 86.5 364.1 86.0 364.5 85.6 364.9 85.1 365.3 84.6 365.7 84.2 366.1 83.8 366.5 83.6 367.3 83.5 368.1 83.7 368.5 83.8 369.3 83.9 369.9 83.8 370.5 83.4 370.8 83.0 371.0 82.6 371.5 82.2 372.1 82.0 372.9 82.2 373.3 82.3 374.1 82.5 374.8 82.6 375.3 82.6 376.1 82.7 376.9 82.8 377.7 83.0 378.1 83.1 378.8 83.4 379.3 83.6 379.9 83.8 380.5 84.0 380.9 84.2 381.5 84.6 381.6 85.4 381.5 86.2 381.5 87.0 381.6 87.8 381.6 88.6 381.6 89.4 381.6 90.2 381.4 91.0 381.3 91.4 380.9 91.9 380.5 92.5 380.2 93.0 380.0 93.4 379.7 93.8 379.7 93.8Z" fill="#000" fill-opacity="0.3" fill-rule="evenodd" stroke="none"/>
<path d="M384.9 65.6l-.8 0 -.8 -.2 -.4 -.1 -.7 -.3 -.5 -.4 -.3 -.4 -.2 -.7 .0 -.3 .1 -.6 .3 -.4 .8 -.4 .4 -.0 .4 0 .8 .1 .7 .2 .5 .4 .4 .4 .2 .4 .1 .8 -.3 .8 -.4 .4 -.4 .2 .0 0M400.1 74.7l-.8 -.1 -.4 -.2 -.4 -.3 -.4 -.4 -.4 -.6 -.2 -.5 -.2 -.8 0 -.8 .1 -.8 .3 -.7 .3 -.5 .4 -.4 .4 -.2 .8 .1 .4 .2 .6 .3 .4 .4 .3 .4 .3 .6 .2 .6 .1 .8 -.1 .8 -.1 .4 -.4 .7 -.4 .5 -.4 .4 -.4 .2 .0 0M378.5 119.4l-.8 .1 -.8 .1 -.8 0 -.8 0 -.8 0 -.8 0 -.8 -.0 -.8 0 -.8 0 -.8 -.0 -.8 -.0 -.8 -.1 -.8 -.1 -.4 -.4 -.4 -.4 -.4 -.3 -.4 -.3 -.4 -.3 -.5 -.3 -.7 -.4 -.4 -.3 -.4 -.4 -.3 -.5 -.1 -.4 -.3 -.8 -.2 -.4 -.3 -.6 -.4 -.6 -.2 -.4 -.2 -.4 -.3 -.8 -.1 -.8 .0 -.8 .0 -.8 -.1 -.6 -.2 -.6 -.2 -.4 -.4 -.8 -.2 -.4 -.3 -.8 -.2 -.4 -.2 -.4 -.4 -.4 -.8 -.3 -.4 -.2 -.4 -.3 -.4 -.5 -.4 -.7 -.2 -.4 -.2 -.5 -.2 -.7 -.2 -.5 -.4 -.5 -.4 -.3 -.5 -.3 -.5 -.4 -.3 -.4 -.3 -.8 -.1 -.4 -.3 -.8 -.2 -.4 -.2 -.4 -.4 -.8 -.1 -.4 -.2 -.8 -.1 -.4 -.3 -.8 -.1 -.4 -.1 -.8 .0 -.8 .1 -.8 .1 -.8 .1 -.4 .2 -.8 .2 -.7 .1 -.5 .0 -.8 -.1 -.8 0 -.4 0 -.8 .0 -.8 .1 -.4 .2 -.8 .2 -.4 .3 -.5 .4 -.4 .4 -.4 .5 -.4 .5 -.4 .6 -.4 .4 -.2 .6 -.2 .6 -.3 .4 -.1 .8 -.2 .8 0 .8 -.0 .6 -.1 .6 -.3 .4 -.2 .4 -.2 .8 -.4 .4 -.2 .6 -.2 .6 -.2 .8 -.2 .4 -.1 .8 -.1 .8 -.2 .4 -.1 .8 -.2 .8 -.2 .4 -.0 .8 -.0 .4 0 .8 .1 .8 .1 .8 0 .8 -.0 .8 -.0 .8 -.0 .8 0 .8 .1 .7 .2 .5 .1 .8 .2 .4 .1 .8 .1 .8 .1 .8 .1 .8 .1 .8 0 .8 0 .4 0 .8 .1 .8 .2 .4 .2 .5 .3 .7 .4 .4 .2 .8 .3 .4 .1 .8 .3 .4 .2 .5 .2 .6 .4 .5 .3 .4 .2 .5 .2 .7 .4 .4 .3 .4 .4 .3 .6 .1 .4 .3 .8 .2 .4 .3 .4 .4 .4 .4 .4 .4 .4 .5 .4 .4 .4 .4 .4 .3 .4 .2 .8 .1 .8 .0 .8 -.1 .8 -.2 .8 -.2 .4 -.3 .4 -.3 .4 -.3 .4 -.4 .5 -.4 .5 -.4 .4 -.4 .3 -.4 .3 -.6 .4 -.5 .4 -.3 .4 -.2 .4 -.3 .8 -.1 .4 -.2 .8 -.2 .5 -.3 .7 -.2 .4 -.3 .8 -.2 .4 -.2 .6 .0 .3 .3 .7 .2 .4 .2 .5 .2 .7 .2 .8 .1 .4 .1 .8 -.1 .8 -.1 .4 -.2 .8 -.2 .4 -.3 .5 -.4 .4 -.4 .5 -.3 .6 .0 .8 .2 .8 -.1 .8 -.3 .4 -.5 .4 -.4 .4 -.3 .4 -.3 .4 -.4 .4 -.7 .4 -.5 .2 -.8 .2 -.4 .1 -.8 .2 -.8 .1 -.4 0 -.8 .2 -.4 .2 -.4 .4 -.4 .5 -.4 .4 -.4 .4 -.4 .4 -.4 .3 -.6 .4 -.6 .2 -.7 .2 -.5 .3 -.4 .1 .0 0M410.5 86.6l-.4 -.1 -.5 -.4 -.3 -.4 -.3 -.8 -.1 -.4 0 -.8 .1 -.4 .3 -.8 .2 -.4 .4 -.4 .7 -.3 .8 .3 .4 .2 .1 .6 .1 .8 .0 .8 0 .8 -.1 .8 -.2 .4 -.6 .3 -.4 .1 .0 0M403.7 106.6l-.8 .2 -.8 -.2 -.4 -.3 -.4 -.5 -.2 -.4 .1 -.8 .4 -.4 .4 -.2 .8 -.1 .8 .2 .4 .2 .4 .5 .1 .6 -.1 .4 -.4 .5 -.4 .3 .0 0M384.5 64.4l-.4 .1 -.4 -.1 -.4 -.2 -.1 -.0 -.3 -.4 0 -.2 0 -.2 .0 -.0 .4 -.3 .4 -.0 .4 .1 .4 .2 .0 0 .2 .4 0 .4 -.2 .2M400.1 73.4l-.5 -.0 -.7 -.4 -.4 -.4 -.2 -.4 -.2 -.4 -.1 -.8 .1 -.5 .4 -.7 .4 -.3 .8 -.0 .6 .3 .4 .4 .3 .4 .2 .8 -.1 .8 -.2 .5 -.4 .5 -.4 .2 .0 0M376.5 119.4l-.8 0 -.8 0 -.8 0 -.8 -.0 -.8 0 -.8 0 -.8 -.0 -.8 -.0 -.2 -.4 -.2 -.6 -.3 -.6 -.4 -.4 -.4 -.4 -.3 -.4 -.2 -.7 -.1 -.5 -.3 -.6 -.4 -.4 -.4 -.3 -.4 -.4 -.3 -.7 -.1 -.4 -.3 -.8 -.4 -.4 -.4 -.4 -.4 -.4 -.1 -.4 .1 -.4 .4 -.8 .2 -.4 .2 -.4 0 -.8 -.3 -.4 -.4 -.4 -.4 -.4 -.4 -.4 -.5 -.3 -.4 -.2 -.4 -.3 -.4 -.5 -.3 -.6 -.1 -.6 -.2 -.6 -.2 -.5 -.8 -.2 -.8 -.1 -.4 -.2 -.4 -.3 -.4 -.5 -.4 -.6 -.2 -.4 -.3 -.4 -.4 -.4 -.6 -.4 -.5 -.4 -.4 -.4 -.4 -.5 -.2 -.4 -.2 -.8 -.1 -.4 -.3 -.8 -.2 -.4 -.3 -.5 -.3 -.7 -.1 -.4 -.3 -.8 -.2 -.4 -.3 -.8 -.1 -.4 -.1 -.8 .1 -.8 .1 -.4 .2 -.8 .2 -.5 .3 -.7 .1 -.5 .0 -.4 -.1 -.7 -.2 -.8 -.1 -.8 .1 -.8 .3 -.8 .3 -.4 .4 -.4 .5 -.4 .5 -.4 .5 -.4 .4 -.3 .4 -.2 .6 -.3 .6 -.2 .8 -.2 .4 -.1 .8 -.1 .8 -.1 .5 -.2 .6 -.4 .5 -.3 .4 -.2 .5 -.2 .7 -.3 .4 -.1 .8 -.3 .5 -.1 .7 -.2 .8 -.1 .7 -.1 .5 -.1 .8 -.2 .8 -.1 .4 -.0 .8 -.0 .6 0 .6 .1 .8 .1 .8 0 .8 -.0 .8 -.1 .7 -.0 .5 -.0 .4 0 .8 .2 .6 .2 .6 .3 .4 .2 .8 .2 .8 0 .8 -.0 .8 0 .8 0 .8 0 .5 0 .7 .1 .8 .3 .4 .2 .4 .2 .8 .3 .4 .1 .8 .2 .4 .2 .6 .3 .6 .4 .4 .4 .4 .4 .4 .3 .4 .2 .6 .3 .5 .4 .2 .4 .2 .8 .1 .4 .4 .7 .4 .4 .4 .4 .4 .3 .4 .5 .2 .4 .2 .8 .1 .4 .3 .8 .2 .4 .2 .6 .1 .6 -.1 .4 -.4 .8 -.3 .4 -.3 .4 -.4 .4 -.4 .4 -.4 .4 -.3 .4 -.3 .4 -.4 .5 -.4 .5 -.3 .5 -.2 .4 -.3 .6 -.3 .6 -.2 .4 -.3 .5 -.4 .5 -.4 .3 -.6 .2 -.6 .2 -.4 .3 -.4 .7 -.1 .5 .1 .8 .2 .4 .3 .4 .4 .5 .4 .4 .4 .3 .6 .4 .4 .4 .2 .4 .3 .8 .1 .7 .0 .2 -.2 .7 -.2 .4 -.4 .5 -.4 .4 -.4 .5 -.4 .6 -.2 .4 -.2 .4 -.3 .8 -.2 .4 -.3 .7 -.3 .5 -.3 .4 -.6 .3 -.5 -.3 0 -.8 -.1 -.8 -.3 -.4 -.4 -.4 -.4 -.4 -.4 -.4 -.5 -.4 -.7 -.1 -.5 .1 -.3 .8 .1 .8 .2 .8 .1 .8 -.1 .8 -.2 .4 -.4 .5 -.5 .3 -.7 .4 -.4 .3 -.3 .5 -.1 .5 -.2 .7 -.2 .4 -.4 .4 -.6 .4 -.6 .1 -.8 .1 -.7 .2 -.5 .4 -.3 .4 -.2 .4 -.3 .4 .0 0M410.5 85.8l-.4 -.1 -.4 -.4 -.3 -.7 .0 -.8 .3 -.7 .4 -.4 .4 -.1 .4 .1 .4 .4 .4 .6 .0 .6 0 .6 -.4 .5 -.4 .3 -.4 .1 .0 0M374.1 118.2l-.5 -.0 -.7 -.1 -.8 -.2 -.4 -.2 -.4 -.3 -.4 -.5 -.4 -.6 -.3 -.5 -.3 -.4 -.2 -.4 -.4 -.7 -.4 -.5 -.3 -.4 -.4 -.4 -.3 -.4 -.3 -.4 -.4 -.7 -.4 -.5 -.3 -.4 -.2 -.4 -.1 -.8 .2 -.6 .2 -.6 0 -.8 -.2 -.4 -.4 -.5 -.4 -.4 -.4 -.5 -.4 -.5 -.4 -.5 -.4 -.4 -.4 -.3 -.4 -.4 -.2 -.5 0 -.8 .0 -.8 -.2 -.8 -.4 -.4 -.4 -.2 -.4 -.2 -.6 -.4 -.5 -.4 -.5 -.4 -.5 -.3 -.4 -.1 -.8 -.0 -.8 -.2 -.5 -.2 -.6 -.4 -.3 -.4 -.2 -.4 -.2 -.8 -.2 -.8 -.1 -.4 -.3 -.7 -.2 -.5 -.2 -.5 -.2 -.7 -.2 -.5 -.4 -.7 -.2 -.4 -.2 -.6 -.1 -.6 .1 -.8 .1 -.4 .3 -.8 .2 -.4 .2 -.6 .2 -.6 -.2 -.8 -.1 -.4 -.2 -.8 .0 -.8 .3 -.8 .4 -.4 .4 -.3 .4 -.3 .4 -.4 .4 -.5 .4 -.4 .4 -.3 .6 -.3 .6 -.2 .8 -.1 .8 -.0 .6 -.1 .6 -.2 .4 -.2 .5 -.4 .6 -.4 .5 -.2 .5 -.2 .7 -.3 .4 -.1 .8 -.3 .4 -.1 .8 -.1 .8 -.0 .8 -.0 .8 -.1 .4 -.1 .8 -.1 .8 -.0 .8 0 .8 .1 .8 .1 .8 -.0 .8 -.1 .8 -.1 .8 0 .8 .2 .4 .2 .4 .3 .5 .4 .7 .3 .8 0 .8 -.1 .8 -.0 .8 -.0 .8 0 .8 .1 .4 .1 .8 .3 .4 .2 .4 .2 .8 .3 .4 .1 .8 .2 .4 .2 .4 .3 .4 .5 .3 .7 .2 .4 .3 .8 .2 .4 .5 .4 .6 .2 .4 .2 .4 .4 .4 .4 .4 .7 .3 .5 .1 .4 .2 .8 .2 .6 .4 .6 .4 .4 .3 .4 .2 .4 .1 .8 -.3 .8 -.3 .4 -.5 .4 -.4 .3 -.4 .3 -.4 .5 -.3 .5 -.2 .4 -.3 .5 -.4 .6 -.3 .5 -.3 .4 -.4 .4 -.4 .4 -.3 .4 -.4 .4 -.6 .4 -.4 .2 -.4 .2 -.4 .5 -.3 .7 -.1 .6 -.2 .6 -.2 .8 -.1 .4 .1 .5 .4 .4 .4 .3 .4 .5 .4 .7 .2 .4 .2 .8 -.4 .4 -.6 .4 -.5 .4 -.5 .4 -.4 .2 -.8 .1 -.8 0 -.8 .1 -.4 .1 -.8 .2 -.4 .2 -.4 .4 -.2 .7 .1 .8 .1 .4 .2 .8 .2 .8 .0 .4 -.1 .4 -.4 .6 -.4 .3 -.6 .3 -.6 .2 -.4 .2 -.7 .4 -.5 .3 -.4 .2 -.8 .2 -.4 .1 -.8 .4 -.4 .3 -.4 .4 -.3 .5 -.1 .4 -.3 .8 -.3 .4 -.6 .3 -.4 .1 .0 0M373.3 116.0l-.8 -.1 -.4 -.3 -.4 -.6 -.1 -.4 .0 -.8 .1 -.4 0 -.8 -.4 -.4 -.4 -.1 -.8 0 -.8 -.2 -.4 -.3 -.4 -.4 -.4 -.5 -.4 -.6 -.2 -.4 .1 -.8 .2 -.4 .2 -.8 -.1 -.8 -.2 -.5 -.4 -.5 -.4 -.3 -.5 -.4 -.4 -.4 -.4 -.4 -.3 -.4 -.3 -.4 -.4 -.5 -.4 -.7 -.1 -.4 .0 -.8 .0 -.4 .1 -.8 -.1 -.4 -.7 -.4 -.4 -.1 -.6 -.3 -.5 -.4 -.4 -.4 -.3 -.4 -.3 -.4 -.3 -.5 -.4 -.5 -.5 -.2 -.7 -.1 -.8 -.0 -.6 -.3 -.3 -.4 -.3 -.7 -.2 -.5 -.2 -.4 -.3 -.8 -.1 -.4 -.2 -.8 -.2 -.5 -.4 -.7 -.3 -.4 -.2 -.4 -.3 -.8 .0 -.8 .3 -.8 .2 -.4 .3 -.4 .4 -.7 .1 -.5 -.1 -.6 -.2 -.6 0 -.8 .2 -.4 .4 -.4 .4 -.4 .4 -.7 .2 -.5 .2 -.4 .4 -.4 .7 -.3 .4 -.1 .8 -.1 .8 -.0 .8 -.2 .4 -.2 .4 -.3 .5 -.4 .7 -.4 .4 -.2 .6 -.2 .6 -.2 .4 -.2 .8 -.3 .4 -.1 .8 -.1 .8 0 .8 -.0 .8 -.2 .8 -.2 .4 -.1 .8 -.1 .8 .1 .4 .1 .8 .1 .8 0 .8 -.1 .4 -.1 .8 -.1 .6 .1 .6 .2 .4 .3 .4 .3 .5 .4 .7 .4 .8 -.0 .8 -.2 .8 -.1 .4 -.0 .8 0 .4 0 .8 .2 .4 .2 .6 .4 .4 .4 .4 .4 .5 .2 .8 0 .5 .1 .5 .4 .3 .4 .2 .8 0 .8 .1 .8 .3 .4 .5 .3 .8 .1 .4 .1 .8 .4 .4 .4 .2 .4 .2 .8 0 .8 -.1 .8 .2 .6 .4 .4 .4 .2 .5 .4 .0 .8 -.5 .4 -.5 .2 -.7 .2 -.5 .3 -.4 .5 -.1 .4 -.1 .8 -.2 .7 -.3 .5 -.3 .4 -.4 .4 -.4 .4 -.4 .4 -.4 .4 -.6 .4 -.4 .2 -.5 .2 -.6 .4 -.2 .4 -.1 .8 -.1 .4 -.4 .7 -.4 .4 -.4 .3 -.4 .3 -.4 .5 -.3 .6 -.2 .4 -.3 .8 -.1 .4 -.2 .8 -.1 .8 -.2 .4 -.3 .4 -.4 .4 -.4 .4 -.4 .5 -.3 .7 -.1 .4 .0 .6 .1 .6 .2 .8 .1 .4 .1 .8 -.1 .4 -.4 .4 -.8 .3 -.4 .1 -.8 .3 -.4 .2 -.4 .2 -.6 .3 -.6 .3 -.4 .2 -.8 .3 -.4 .2 -.7 .3 -.5 .3 -.4 .4 -.4 .4 -.4 .3 .0 0M374.5 113.4l-.8 .2 -.4 -.3 -.1 -.8 -.3 -.7 -.3 -.5 -.4 -.4 -.4 -.3 -.4 -.2 -.4 -.2 -.7 -.4 -.3 -.4 -.2 -.5 -.2 -.7 -.2 -.7 -.1 -.5 0 -.8 .1 -.8 .0 -.4 0 -.4 -.1 -.8 -.2 -.8 -.2 -.4 -.6 -.3 -.4 .4 -.3 .6 -.3 .4 -.6 .1 -.4 -.2 -.4 -.4 -.4 -.5 -.3 -.6 -.1 -.8 .3 -.8 .4 -.4 .5 -.2 .8 0 .6 .2 .6 .2 .4 -.2 .2 -.8 -.2 -.4 -.5 -.4 -.7 -.3 -.4 -.1 -.8 -.3 -.8 .1 -.4 .2 -.8 .3 -.8 0 -.8 -.3 -.4 -.3 -.4 -.5 -.2 -.4 -.1 -.8 .1 -.8 -.2 -.5 -.8 -.2 -.8 .1 -.8 -.1 -.4 -.2 -.5 -.4 -.3 -.4 -.4 -.7 -.2 -.5 -.1 -.8 -.1 -.5 -.4 -.7 -.3 -.4 -.3 -.4 -.3 -.4 -.3 -.8 .0 -.8 .3 -.6 .4 -.5 .4 -.4 .3 -.4 .2 -.4 0 -.8 .1 -.8 .3 -.5 .4 -.5 .4 -.6 .1 -.4 .2 -.8 .5 -.4 .4 -.1 .8 -.0 .8 -.2 .4 -.2 .7 -.4 .5 -.4 .4 -.3 .4 -.2 .6 -.3 .6 -.3 .4 -.2 .5 -.3 .7 -.3 .6 -.1 .6 -.0 .4 0 .8 .1 .8 -.1 .4 -.1 .8 -.2 .7 -.1 .5 -.0 .7 0 .5 .1 .8 .2 .8 .1 .8 -.1 .8 -.1 .8 0 .5 .2 .6 .4 .5 .4 .5 .4 .4 .3 .4 .2 .8 .2 .7 -.3 .5 -.3 .4 -.2 .8 -.1 .8 .1 .4 .1 .7 .4 .3 .4 .2 .4 .4 .7 .4 .4 .4 .2 .8 0 .8 .4 .1 .4 .1 .8 .2 .6 .4 .5 .4 .3 .4 .2 .8 .2 .5 .1 .7 .4 .2 .4 .1 .8 -.2 .8 -.1 .8 .1 .8 -.1 .8 -.2 .4 -.3 .4 -.3 .4 -.2 .8 -.1 .8 -.1 .4 -.4 .8 -.3 .4 -.3 .4 -.4 .4 -.4 .4 -.6 .4 -.4 .1 -.8 0 -.6 -.1 -.6 -.1 -.8 0 -.4 .3 -.2 .5 -.1 .8 .0 .8 -.4 .4 -.5 .3 -.4 .2 -.4 .3 -.4 .7 0 .5 .1 .4 .1 .8 -.1 .6 -.3 .6 -.3 .4 -.3 .4 -.2 .8 .1 .8 -.1 .8 -.2 .4 -.3 .8 -.1 .4 -.1 .8 .0 .8 .0 .4 0 .5 -.3 .7 -.5 .4 -.4 .2 -.5 .3 -.5 .4 -.5 .4 -.6 .4 -.4 .2 -.8 .2 -.4 .1 -.8 .2 -.4 .2 .0 0M361.3 83.8l.4 -.4 .0 -.0 .0 -.4 -.1 -.2 -.1 -.2 -.3 -.3 -.1 -.1 -.3 -.2 -.4 -.2 -.2 -.0 -.2 -.0 -.1 0 -.3 .1 -.3 .3 -.1 .2 0 .2 .0 .2 .0 .2 .2 .4 .2 .2 .2 .2 .2 .1 .4 .1 .4 -.0 .4 -.1 .0 -.0M376.9 111.2l-.8 .1 -.8 0 -.8 0 -.8 -.2 -.4 -.3 -.4 -.4 -.4 -.5 -.4 -.6 -.2 -.4 -.2 -.4 -.4 -.5 -.4 -.4 -.4 -.4 -.3 -.8 .0 -.8 .2 -.8 .1 -.4 .3 -.8 .0 -.8 -.3 -.7 -.2 -.5 -.2 -.4 -.1 -.8 -.1 -.8 -.2 -.4 -.4 -.6 -.4 -.5 -.4 -.3 -.4 -.2 -.8 -.3 -.4 -.2 -.4 -.3 -.5 -.4 -.7 -.2 -.4 .3 -.4 .4 -.4 .3 -.8 .1 -.4 -.2 -.4 -.5 -.1 -.7 .0 -.8 -.4 -.7 -.4 -.4 -.4 -.2 -.8 -.2 -.8 -.0 -.4 -.1 -.6 -.4 -.3 -.4 -.2 -.8 0 -.4 -.2 -.8 -.3 -.4 -.4 -.4 -.4 -.4 -.3 -.4 -.4 -.8 -.1 -.4 .1 -.4 .4 -.7 .4 -.4 .4 -.3 .5 -.3 .5 -.4 .3 -.4 .4 -.4 .7 -.2 .8 -.2 .4 -.1 .7 -.3 .5 -.4 .2 -.4 -.1 -.8 -.2 -.4 -.3 -.7 0 -.5 .3 -.4 .5 -.4 .5 -.4 .4 -.3 .4 -.2 .6 -.3 .6 -.4 .4 -.3 .4 -.2 .8 -.3 .4 -.0 .4 0 .8 .1 .8 .1 .8 -.1 .4 -.1 .8 -.2 .8 -.1 .8 .1 .8 .2 .4 .1 .8 .1 .8 0 .8 -.0 .8 .1 .4 .2 .6 .4 .5 .4 .5 .3 .4 .3 .4 .2 .8 .3 .4 .1 .4 -.0 .7 -.4 .4 -.3 .4 -.2 .8 0 .4 .2 .4 .5 .3 .6 .3 .4 .4 .4 .6 .4 .4 .3 .4 .3 .4 .4 .4 .5 .4 .5 .4 .4 .4 .4 .4 .3 .4 .2 .7 .3 .5 .4 .1 .4 -.1 .8 0 .4 .0 .8 -.1 .8 -.3 .7 -.2 .5 -.2 .5 -.1 .7 -.1 .8 -.1 .4 -.4 .7 -.4 .5 -.4 .4 -.4 .3 -.4 .2 -.8 .1 -.8 -.1 -.4 -.1 -.8 -.1 -.4 .1 -.5 .4 -.3 .4 -.4 .7 -.3 .5 -.3 .4 -.4 .4 -.4 .4 -.5 .4 -.4 .4 -.2 .4 0 .8 .2 .4 .3 .8 0 .8 -.2 .5 -.4 .5 -.4 .4 -.4 .5 -.2 .4 .0 .8 .1 .8 .0 .4 0 .4 0 .8 -.1 .8 -.2 .8 -.2 .4 -.4 .4 -.5 .4 -.5 .4 -.4 .3 -.4 .2 .0 0" fill="none" stroke="#222" stroke-width="0.45" stroke-linejoin="round"/>
<path d="M375.3 110.2l-.8 .1 -.6 -.1 -.5 -.4 -.3 -.4 -.2 -.8 .0 -.8 .1 -.8 .1 -.8 -.1 -.8 -.3 -.8 -.2 -.4 -.2 -.8 .2 -.8 .5 -.4 .4 -.4 .2 -.4 0 -.8 -.2 -.5 -.4 -.5 -.4 -.3 -.8 -.2 -.8 .1 -.8 -.1 -.4 -.3 -.4 -.4 -.4 -.4 -.4 -.3 -.4 -.2 -.8 -.3 -.4 -.2 -.4 -.3 -.4 -.4 -.4 -.4 -.8 -.4 -.8 .1 -.8 -.0 -.4 -.3 -.4 -.4 -.4 -.4 -.4 -.3 -.4 -.3 -.7 -.4 -.5 -.2 -.4 -.2 -.5 -.4 -.3 -.8 -.2 -.4 -.2 -.4 -.4 -.5 -.4 -.4 -.4 -.3 -.4 -.4 -.4 -.6 -.1 -.6 .1 -.4 .4 -.4 .6 -.4 .6 -.4 .4 -.3 .4 -.4 .4 -.3 .4 -.3 .7 -.3 .5 -.2 .4 -.2 .5 -.4 .3 -.4 .2 -.8 -.2 -.8 -.1 -.4 .0 -.8 .3 -.4 .5 -.4 .4 -.2 .4 -.2 .5 -.3 .5 -.4 .5 -.4 .4 -.2 .8 -.2 .8 .1 .8 .2 .8 -.0 .8 -.2 .4 -.1 .8 -.2 .8 0 .7 .2 .5 .2 .7 .2 .5 .1 .8 .1 .8 0 .8 .1 .4 .1 .7 .4 .5 .3 .4 .2 .4 .3 .7 .4 .4 .2 .8 .1 .8 -.1 .8 -.2 .8 .1 .4 .3 .4 .3 .5 .4 .5 .4 .5 .4 .4 .4 .4 .4 .4 .4 .3 .4 .4 .4 .4 .4 .4 .4 .4 .4 .3 .4 .4 .7 .2 .5 .2 .8 0 .8 -.2 .8 -.1 .4 -.2 .8 -.1 .6 -.2 .6 -.2 .5 -.4 .6 -.4 .4 -.4 .3 -.7 .2 -.2 0 -.6 -.1 -.8 -.2 -.8 -.1 -.5 .4 -.3 .4 -.3 .4 -.4 .6 -.4 .5 -.4 .4 -.4 .4 -.4 .4 -.4 .3 -.4 .3 -.4 .4 -.4 .6 -.2 .5 .1 .8 .2 .4 .2 .4 .0 .8 -.3 .4 -.5 .3 -.6 .1 -.5 .4 -.1 .4 -.1 .8 .0 .8 .1 .4 .3 .8 .1 .4 .1 .8 -.1 .5 -.4 .6 -.4 .4 -.4 .3 -.4 .3 -.6 .3 -.6 .3 -.4 .1 .0 0M375.7 102.3l-.4 -.3 -.3 -.6 -.2 -.4 -.3 -.7 -.3 -.5 -.3 -.4 -.4 -.4 -.6 -.4 -.4 -.2 -.8 -.1 -.8 -.1 -.4 -.2 -.4 -.3 -.4 -.4 -.6 -.4 -.5 -.2 -.5 -.2 -.7 -.4 -.4 -.3 -.4 -.4 -.4 -.4 -.4 -.2 -.8 -.1 -.8 -.0 -.4 -.1 -.7 -.4 -.5 -.3 -.4 -.3 -.4 -.3 -.4 -.3 -.5 -.4 -.4 -.4 -.3 -.6 -.3 -.6 -.3 -.4 -.3 -.4 -.4 -.4 -.5 -.4 -.3 -.4 -.1 -.8 .3 -.4 .4 -.4 .4 -.4 .4 -.4 .4 -.4 .5 -.4 .6 -.4 .4 -.2 .4 -.2 .6 -.4 .4 -.4 .3 -.4 .1 -.8 -.1 -.8 .0 -.8 .3 -.5 .4 -.3 .7 -.4 .5 -.3 .4 -.3 .4 -.3 .4 -.3 .8 -.2 .8 .2 .4 .2 .8 .1 .8 -.2 .4 -.1 .8 -.2 .8 -.1 .8 .2 .4 .2 .7 .4 .5 .4 .4 .2 .8 -.1 .4 -.1 .8 -.1 .8 .1 .4 .1 .6 .3 .6 .3 .4 .2 .5 .3 .7 .3 .4 .1 .8 .1 .8 0 .8 .1 .5 .2 .7 .3 .4 .3 .4 .3 .4 .4 .4 .5 .4 .6 .3 .5 .2 .4 .2 .8 .1 .6 .3 .6 .4 .4 .5 .3 .4 .4 .2 .5 .0 .8 -.2 .8 -.1 .4 -.2 .8 -.2 .6 -.3 .6 -.3 .4 -.5 .4 -.5 .1 -.8 -.1 -.4 -.1 -.8 -.3 -.8 .2 -.4 .4 -.4 .5 -.3 .4 -.3 .4 -.3 .4 -.4 .4 -.4 .4 -.5 .4 -.5 .4 -.4 .3 -.4 .3 -.4 .4 -.4 .5 -.4 .4 -.3 .4 -.4 .4 -.4 .4 -.3 .4 -.3 .4 -.4 .6 -.4 .5 -.4 .2 .0 0M376.5 107.9l-.8 .1 -.4 -.1 -.4 -.4 -.3 -.7 -.1 -.8 -.1 -.8 -.1 -.4 -.1 -.8 .3 -.4 .6 -.3 .4 .3 .2 .8 .2 .7 .3 .5 .3 .4 .3 .4 .3 .8 -.3 .6 -.4 .2 .0 0M375.7 100.3l-.4 -.2 -.4 -.4 -.4 -.5 -.4 -.4 -.4 -.3 -.4 -.3 -.7 -.3 -.5 -.1 -.8 -.1 -.5 -.2 -.7 -.4 -.4 -.2 -.4 -.2 -.8 -.3 -.4 -.1 -.7 -.4 -.4 -.4 -.4 -.4 -.4 -.4 -.5 -.3 -.8 -.1 -.8 -.0 -.4 -.1 -.6 -.3 -.6 -.4 -.4 -.3 -.4 -.3 -.4 -.4 -.4 -.5 -.3 -.6 -.2 -.4 -.3 -.5 -.4 -.6 -.4 -.5 -.3 -.4 -.2 -.4 .1 -.5 .4 -.7 .3 -.4 .4 -.4 .5 -.4 .5 -.3 .4 -.2 .5 -.3 .6 -.4 .5 -.4 .3 -.4 .2 -.4 .1 -.8 0 -.8 .2 -.8 .4 -.4 .4 -.3 .4 -.3 .4 -.3 .4 -.4 .5 -.4 .7 -.2 .7 .2 .5 .2 .8 .1 .8 -.2 .8 -.2 .4 -.1 .8 0 .4 .1 .7 .4 .5 .4 .4 .4 .4 .3 .4 .1 .8 -.1 .4 -.2 .4 -.2 .8 -.2 .8 .1 .4 .1 .8 .4 .4 .2 .4 .3 .7 .4 .5 .1 .8 .1 .8 .1 .6 .1 .6 .1 .7 .3 .5 .4 .4 .4 .3 .4 .2 .4 .2 .6 .2 .6 .1 .8 .1 .8 .1 .4 .4 .5 .4 .3 .6 .4 .4 .4 .1 .8 -.2 .8 -.1 .5 -.3 .7 -.2 .4 -.4 .4 -.7 .2 -.8 -.2 -.4 -.1 -.8 -.1 -.4 .2 -.5 .4 -.3 .4 -.4 .6 -.4 .6 -.4 .4 -.4 .4 -.4 .4 -.4 .3 -.4 .3 -.4 .3 -.5 .4 -.5 .4 -.5 .4 -.4 .3 -.4 .3 -.4 .4 -.4 .5 -.4 .5 -.4 .4 -.4 .1 .0 0M375.3 98.2l-.5 -.4 -.6 -.4 -.4 -.2 -.5 -.2 -.7 -.1 -.8 -.1 -.8 -.2 -.4 -.2 -.6 -.3 -.6 -.2 -.8 -.2 -.4 -.2 -.4 -.3 -.4 -.4 -.3 -.4 -.4 -.4 -.6 -.4 -.6 -.1 -.8 .1 -.8 -.1 -.5 -.2 -.7 -.4 -.4 -.3 -.4 -.4 -.4 -.5 -.2 -.4 -.2 -.4 -.3 -.8 -.2 -.4 -.3 -.6 -.3 -.6 .0 -.8 .2 -.5 .4 -.5 .4 -.3 .5 -.3 .6 -.4 .4 -.3 .4 -.3 .4 -.4 .4 -.5 .1 -.4 .1 -.8 .1 -.8 .2 -.4 .4 -.4 .6 -.4 .5 -.4 .4 -.4 .4 -.2 .8 -.0 .5 .2 .7 .2 .8 -.0 .6 -.1 .6 -.1 .8 -.1 .8 .2 .4 .2 .4 .3 .4 .3 .6 .4 .6 .2 .8 -.0 .7 -.2 .5 -.2 .8 -.2 .8 .1 .7 .3 .5 .3 .4 .3 .4 .2 .8 .2 .8 .1 .4 0 .8 .1 .8 .2 .4 .2 .5 .4 .4 .4 .3 .5 .2 .7 .1 .8 -.1 .8 -.2 .8 -.4 .4 -.3 0 -.6 -.2 -.7 .2 .3 .7 .4 .2 .8 -.1 .8 .2 .4 .2 .8 .3 .4 .5 .1 .4 -.1 .4 -.4 .7 -.4 .3 -.8 .1 -.8 -.1 -.8 .2 -.4 .3 -.4 .4 -.3 .5 -.3 .4 -.3 .4 -.4 .5 -.4 .5 -.4 .4 -.4 .3 -.5 .3 -.7 .4 -.5 .2 -.4 .2 -.8 .1 -.4 -.2 -.4 -.4 -.4 -.3 -.8 -.1 -.4 .2 -.4 .4 -.2 .7 .2 .5 .0 .7 .0 0M378.9 95.8l-.4 -.0 -.7 -.4 -.5 -.4 -.4 -.2 -.8 -.1 -.7 .2 -.5 .3 -.4 .2 -.6 .3 -.6 .1 -.8 .1 -.8 0 -.8 -.1 -.4 -.1 -.8 -.2 -.6 -.1 -.6 -.1 -.5 -.3 -.4 -.4 -.3 -.4 -.4 -.4 -.4 -.4 -.7 -.4 -.4 -.0 -.4 .1 -.8 .1 -.8 -.2 -.4 -.2 -.4 -.3 -.4 -.4 -.4 -.5 -.3 -.6 -.2 -.4 -.2 -.8 -.1 -.4 -.1 -.8 .1 -.8 .3 -.4 .5 -.4 .5 -.4 .4 -.4 .4 -.4 .4 -.4 .4 -.4 .3 -.4 .2 -.4 .1 -.8 .1 -.8 .2 -.4 .5 -.4 .6 -.4 .4 -.3 .4 -.3 .8 -.1 .8 .2 .4 .1 .8 -.0 .4 -.1 .8 -.2 .8 -.1 .8 .1 .4 .2 .6 .4 .6 .3 .4 .2 .8 .1 .8 -.0 .8 -.2 .4 -.1 .8 -.1 .8 .2 .4 .2 .4 .3 .5 .3 .7 .3 .6 .1 .6 .1 .8 .1 .8 .1 .4 .1 .6 .3 .3 .4 .3 .7 .1 .5 -.1 .4 -.4 .5 -.8 0 -.8 .1 -.4 .5 0 .5 .1 .4 .2 .8 .2 .7 .4 .5 .4 .4 .2 .4 -.2 .4 -.4 .5 -.4 .6 -.3 .5 -.2 .4 -.3 .4 -.4 .6 -.4 .5 -.4 .4 -.4 .3 -.4 .2 -.8 .3 -.4 .1 .0 0M379.7 95.0l-.8 .1 -.4 -.1 -.5 -.4 -.4 -.4 -.4 -.4 -.7 -.3 -.8 .3 -.4 .2 -.7 .2 -.5 0 -.4 -.2 -.4 -.4 -.8 0 -.4 .4 -.4 .4 -.4 .2 -.8 0 -.8 -.1 -.7 -.1 -.5 -.2 -.4 -.2 -.4 -.4 -.4 -.4 -.4 -.4 -.5 -.4 -.7 -.4 -.4 -.1 -.4 .1 -.8 .3 -.8 -.1 -.5 -.3 -.4 -.4 -.3 -.4 -.3 -.8 -.1 -.4 -.1 -.8 .1 -.8 .2 -.4 .3 -.5 .4 -.5 .4 -.5 .4 -.5 .4 -.5 .4 -.4 .3 -.4 .3 -.4 .2 -.7 .1 -.5 .3 -.6 .4 -.3 .5 -.3 .7 -.3 .8 .3 .1 .4 .3 .6 .4 .3 .8 .3 .8 -.3 .2 -.5 .1 -.8 .1 -.4 .6 -.4 .5 -.1 .4 .1 .8 .3 .4 .2 .7 .3 .5 .1 .8 .1 .8 -.0 .8 -.1 .5 -.1 .4 0 .7 .2 .4 .3 .5 .3 .7 .3 .4 .1 .8 .2 .7 .2 .5 .2 .6 .2 .5 .4 -.3 .5 -.5 .3 -.5 .4 -.2 .4 -.1 .8 .1 .8 .1 .5 .0 .7 .1 .8 .1 .8 -.1 .8 -.1 .4 -.4 .8 -.2 .4 -.2 .4 -.4 .7 -.4 .4 -.4 .3 -.4 .2 .0 0M379.3 94.3l-.4 -.1 -.5 -.4 -.3 -.5 -.4 -.6 -.4 -.2 -.8 -.1 -.8 .1 -.8 0 -.5 -.3 -.7 -.2 -.8 .2 -.4 .2 -.4 .3 -.4 .3 -.5 .4 -.7 .4 -.4 0 -.4 -.0 -.8 -.1 -.6 -.2 -.6 -.4 -.4 -.3 -.4 -.3 -.4 -.3 -.4 -.3 -.5 -.3 -.7 -.1 -.4 .2 -.8 .3 0 0 -.8 -.3 -.3 -.5 -.2 -.4 -.2 -.8 .0 -.8 .3 -.8 .3 -.4 .3 -.4 .3 -.4 .3 -.4 .4 -.4 .4 -.5 .4 -.4 .4 -.5 .4 -.4 .4 -.3 .5 -.2 .7 -.1 .4 .1 .8 .2 .8 .1 .8 -.2 .4 -.3 .4 -.7 .2 -.4 .2 -.4 .8 -.2 .8 .2 .4 .2 .8 .2 .4 .1 .8 .1 .8 .1 .8 .1 .8 .1 .4 .2 .5 .3 .7 .3 .5 .1 .7 .2 .6 .2 .5 .4 .0 .8 -.2 .8 .1 .8 .2 .8 .0 .8 -.1 .8 -.1 .8 -.1 .8 -.2 .4 -.3 .4 -.5 .4 -.3 .4 .1 .7 .0 .3 -.4 .6 -.4 .1 .0 0M370.5 92.7l-.8 .2 -.8 -.1 -.6 -.2 -.6 -.4 -.4 -.3 -.4 -.4 -.4 -.4 -.3 -.5 -.3 -.4 -.6 -.3 -.8 .2 -.4 .2 -.8 0 -.4 -.5 -.1 -.4 .1 -.6 .3 -.6 .3 -.4 .3 -.4 .3 -.4 .4 -.5 .4 -.5 .4 -.4 .4 -.4 .4 -.3 .5 -.3 .7 -.3 .8 -.0 .8 .1 .8 0 .8 -.2 .4 -.3 .4 -.5 .3 -.4 .5 -.3 .8 0 .8 .2 .8 .1 .4 0 .8 .1 .8 .2 .4 .2 .4 .3 .6 .4 .6 .2 .8 .1 .7 .1 .5 .3 .3 .5 .1 .8 .1 .6 .1 .6 .1 .8 -.1 .8 -.1 .4 -.1 .8 -.3 .7 -.4 .3 -.4 .2 -.8 .2 -.8 -.0 -.8 -.1 -.8 -.1 -.4 -.1 -.8 -.3 -.4 -.1 -.8 -.2 -.8 .2 -.4 .2 -.5 .3 -.6 .4 -.4 .4 -.4 .3 -.4 .2 .0 0M369.7 92.0l-.8 -.0 -.4 -.2 -.5 -.4 -.3 -.4 -.3 -.7 -.3 -.5 -.4 -.4 -.6 -.4 -.4 -.1 -.8 -.1 -.8 -.3 .2 -.8 .2 -.4 .4 -.6 .4 -.5 .4 -.4 .4 -.3 .4 -.3 .4 -.2 .8 -.2 .8 0 .8 .1 .8 -.0 .6 -.2 .6 -.4 .4 -.4 .4 -.3 .4 -.2 .8 -.0 .8 .1 .8 .1 .4 .1 .8 .2 .4 .2 .4 .3 .4 .4 .7 .4 .5 .1 .8 .1 .4 .1 .4 .4 .2 .7 .1 .8 -.1 .8 -.2 .6 -.2 .6 -.1 .8 -.4 .4 -.5 .1 -.8 .1 -.8 0 -.8 -.1 -.4 -.1 -.6 -.3 -.6 -.3 -.8 -.0 -.8 .3 -.4 .2 -.6 .2 -.6 .2 -.6 .2 -.5 .4 -.4 .4 -.4 .2 .0 0M377.3 89.8l-.8 -.0 -.4 -.3 -.3 -.5 .2 -.8 .0 -.8 -.4 -.4 -.7 -.1 -.4 .5 0 .4 -.1 .8 -.3 .4 -.5 .4 -.7 .4 -.4 .2 -.8 .1 -.8 -.1 -.4 -.1 -.8 -.0 -.4 0 -.4 -.0 -.8 -.3 -.4 -.2 -.4 -.3 -.7 -.4 -.5 -.2 -.4 -.2 -.5 -.4 .1 -.6 .3 -.6 .3 -.4 .5 -.4 .5 -.3 .4 -.2 .8 -.2 .8 0 .8 .1 .8 -.0 .5 -.1 .7 -.4 .5 -.3 .4 -.2 .8 -.2 .4 -.0 .8 -.0 .5 0 .7 .2 .4 .2 .5 .4 .4 .4 .4 .4 .7 .4 .4 .2 .6 .2 .3 .4 0 .8 -.5 .4 -.4 .2 -.4 .5 -.2 .5 -.2 .5 -.4 .3 .0 0M372.5 89.4l-.8 -.0 -.4 -.2 -.4 -.3 -.8 -.2 -.8 .1 -.8 0 -.8 -.3 -.4 -.2 -.4 -.2 -.6 -.4 -.3 -.4 .1 -.5 .4 -.6 .4 -.3 .4 -.2 .8 -.2 .8 -.0 .8 .1 .8 .1 .8 -.2 .4 -.2 .4 -.3 .7 -.4 .5 -.1 .8 -.1 .8 -.0 .8 .3 .4 .3 .4 .5 .2 .4 -.2 .5 -.7 -.1 -.5 -.1 -.8 .1 -.4 .4 -.1 .4 -.1 .8 -.2 .7 -.4 .5 -.4 .3 -.4 .2 .0 0" fill="none" stroke="#000" stroke-width="0.75" stroke-linejoin="round"/>
</g>
<rect x="323.5" y="32" width="88.5" height="87.6" fill="none" stroke="#222" stroke-width="0.8"/>
<rect x="324.3" y="61.3" width="87.7" height="38.3" fill="none" stroke="#222" stroke-width="0.8"/>
<rect x="324.3" y="102.6" width="87.7" height="16.6" fill="none" stroke="#222" stroke-width="0.8"/>
<line x1="324.1" y1="61" x2="324.1" y2="119.4" stroke="#000" stroke-width="1.5"/>
<line x1="321.5" y1="40" x2="323.5" y2="40" stroke="#000" stroke-width="0.6"/>
<text x="320.7" y="41.37" font-size="3.8" text-anchor="end" fill="#222">1x10<tspan dy="-1.6" font-size="2.7">5</tspan></text>
<line x1="321.5" y1="59.8" x2="323.5" y2="59.8" stroke="#000" stroke-width="0.6"/>
<text x="320.7" y="61.17" font-size="3.8" text-anchor="end" fill="#222">10000</text>
<line x1="321.5" y1="80.2" x2="323.5" y2="80.2" stroke="#000" stroke-width="0.6"/>
<text x="320.7" y="81.57" font-size="3.8" text-anchor="end" fill="#222">1000</text>
<line x1="321.5" y1="101" x2="323.5" y2="101" stroke="#000" stroke-width="0.6"/>
<text x="320.7" y="102.37" font-size="3.8" text-anchor="end" fill="#222">100</text>
<line x1="321.5" y1="110.3" x2="323.5" y2="110.3" stroke="#000" stroke-width="0.6"/>
<text x="320.7" y="111.67" font-size="3.8" text-anchor="end" fill="#222">0</text>
<line x1="322.4" y1="54.68" x2="323.5" y2="54.68" stroke="#000" stroke-width="0.45"/>
<line x1="322.4" y1="50.98" x2="323.5" y2="50.98" stroke="#000" stroke-width="0.45"/>
<line x1="322.4" y1="48.36" x2="323.5" y2="48.36" stroke="#000" stroke-width="0.45"/>
<line x1="322.4" y1="46.32" x2="323.5" y2="46.32" stroke="#000" stroke-width="0.45"/>
<line x1="322.4" y1="44.66" x2="323.5" y2="44.66" stroke="#000" stroke-width="0.45"/>
<line x1="322.4" y1="43.25" x2="323.5" y2="43.25" stroke="#000" stroke-width="0.45"/>
<line x1="322.4" y1="42.04" x2="323.5" y2="42.04" stroke="#000" stroke-width="0.45"/>
<line x1="322.4" y1="40.96" x2="323.5" y2="40.96" stroke="#000" stroke-width="0.45"/>
<line x1="322.4" y1="74.48" x2="323.5" y2="74.48" stroke="#000" stroke-width="0.45"/>
<line x1="322.4" y1="70.78" x2="323.5" y2="70.78" stroke="#000" stroke-width="0.45"/>
<line x1="322.4" y1="68.16" x2="323.5" y2="68.16" stroke="#000" stroke-width="0.45"/>
<line x1="322.4" y1="66.12" x2="323.5" y2="66.12" stroke="#000" stroke-width="0.45"/>
<line x1="322.4" y1="64.46" x2="323.5" y2="64.46" stroke="#000" stroke-width="0.45"/>
<line x1="322.4" y1="63.05" x2="323.5" y2="63.05" stroke="#000" stroke-width="0.45"/>
<line x1="322.4" y1="61.84" x2="323.5" y2="61.84" stroke="#000" stroke-width="0.45"/>
<line x1="322.4" y1="60.76" x2="323.5" y2="60.76" stroke="#000" stroke-width="0.45"/>
<line x1="322.4" y1="94.88" x2="323.5" y2="94.88" stroke="#000" stroke-width="0.45"/>
<line x1="322.4" y1="91.18" x2="323.5" y2="91.18" stroke="#000" stroke-width="0.45"/>
<line x1="322.4" y1="88.56" x2="323.5" y2="88.56" stroke="#000" stroke-width="0.45"/>
<line x1="322.4" y1="86.52" x2="323.5" y2="86.52" stroke="#000" stroke-width="0.45"/>
<line x1="322.4" y1="84.86" x2="323.5" y2="84.86" stroke="#000" stroke-width="0.45"/>
<line x1="322.4" y1="83.45" x2="323.5" y2="83.45" stroke="#000" stroke-width="0.45"/>
<line x1="322.4" y1="82.24" x2="323.5" y2="82.24" stroke="#000" stroke-width="0.45"/>
<line x1="322.4" y1="81.16" x2="323.5" y2="81.16" stroke="#000" stroke-width="0.45"/>
<line x1="322.4" y1="103.5" x2="323.5" y2="103.5" stroke="#000" stroke-width="0.45"/>
<line x1="322.4" y1="106" x2="323.5" y2="106" stroke="#000" stroke-width="0.45"/>
<line x1="322.4" y1="108" x2="323.5" y2="108" stroke="#000" stroke-width="0.45"/>
<line x1="322.4" y1="112" x2="323.5" y2="112" stroke="#000" stroke-width="0.45"/>
<line x1="322.4" y1="113.5" x2="323.5" y2="113.5" stroke="#000" stroke-width="0.45"/>
<line x1="322.4" y1="115" x2="323.5" y2="115" stroke="#000" stroke-width="0.45"/>
<line x1="322.4" y1="116.5" x2="323.5" y2="116.5" stroke="#000" stroke-width="0.45"/>
<line x1="323.8" y1="119.6" x2="323.8" y2="121.4" stroke="#000" stroke-width="0.6"/>
<text x="323.8" y="126.59" font-size="3.5" text-anchor="middle" fill="#222">0</text>
<line x1="339.8" y1="119.6" x2="339.8" y2="121.4" stroke="#000" stroke-width="0.6"/>
<text x="339.8" y="126.59" font-size="3.5" text-anchor="middle" fill="#222">50K</text>
<line x1="357.1" y1="119.6" x2="357.1" y2="121.4" stroke="#000" stroke-width="0.6"/>
<text x="357.1" y="126.59" font-size="3.5" text-anchor="middle" fill="#222">100K</text>
<line x1="374.1" y1="119.6" x2="374.1" y2="121.4" stroke="#000" stroke-width="0.6"/>
<text x="374.1" y="126.59" font-size="3.5" text-anchor="middle" fill="#222">150K</text>
<line x1="390.8" y1="119.6" x2="390.8" y2="121.4" stroke="#000" stroke-width="0.6"/>
<text x="390.8" y="126.59" font-size="3.5" text-anchor="middle" fill="#222">200K</text>
<line x1="407.1" y1="119.6" x2="407.1" y2="121.4" stroke="#000" stroke-width="0.6"/>
<text x="407.1" y="126.59" font-size="3.5" text-anchor="middle" fill="#222">250K</text>
<line x1="327.16" y1="119.6" x2="327.16" y2="120.6" stroke="#000" stroke-width="0.4"/>
<line x1="330.52" y1="119.6" x2="330.52" y2="120.6" stroke="#000" stroke-width="0.4"/>
<line x1="333.88" y1="119.6" x2="333.88" y2="120.6" stroke="#000" stroke-width="0.4"/>
<line x1="337.24" y1="119.6" x2="337.24" y2="120.6" stroke="#000" stroke-width="0.4"/>
<line x1="343.96" y1="119.6" x2="343.96" y2="120.6" stroke="#000" stroke-width="0.4"/>
<line x1="347.32" y1="119.6" x2="347.32" y2="120.6" stroke="#000" stroke-width="0.4"/>
<line x1="350.68" y1="119.6" x2="350.68" y2="120.6" stroke="#000" stroke-width="0.4"/>
<line x1="354.04" y1="119.6" x2="354.04" y2="120.6" stroke="#000" stroke-width="0.4"/>
<line x1="360.76" y1="119.6" x2="360.76" y2="120.6" stroke="#000" stroke-width="0.4"/>
<line x1="364.12" y1="119.6" x2="364.12" y2="120.6" stroke="#000" stroke-width="0.4"/>
<line x1="367.48" y1="119.6" x2="367.48" y2="120.6" stroke="#000" stroke-width="0.4"/>
<line x1="370.84" y1="119.6" x2="370.84" y2="120.6" stroke="#000" stroke-width="0.4"/>
<line x1="377.56" y1="119.6" x2="377.56" y2="120.6" stroke="#000" stroke-width="0.4"/>
<line x1="380.92" y1="119.6" x2="380.92" y2="120.6" stroke="#000" stroke-width="0.4"/>
<line x1="384.28" y1="119.6" x2="384.28" y2="120.6" stroke="#000" stroke-width="0.4"/>
<line x1="387.64" y1="119.6" x2="387.64" y2="120.6" stroke="#000" stroke-width="0.4"/>
<line x1="394.36" y1="119.6" x2="394.36" y2="120.6" stroke="#000" stroke-width="0.4"/>
<line x1="397.72" y1="119.6" x2="397.72" y2="120.6" stroke="#000" stroke-width="0.4"/>
<line x1="401.08" y1="119.6" x2="401.08" y2="120.6" stroke="#000" stroke-width="0.4"/>
<line x1="404.44" y1="119.6" x2="404.44" y2="120.6" stroke="#000" stroke-width="0.4"/>
<text x="325" y="68" font-size="4.9" fill="#222">84</text>
<text x="325.5" y="109.8" font-size="4.9" fill="#222">14.2</text>
<clipPath id="cB2"><rect x="431" y="32" width="88.5" height="87.6"/></clipPath><g clip-path="url(#cB2)">
<path d="M484.0 95.1 483.2 95.1 482.8 95.0 482.0 94.6 481.6 94.4 481.2 94.2 480.4 93.9 479.6 93.9 478.8 93.8 478.2 93.8 477.6 93.8 476.8 93.7 476.0 93.6 475.5 93.4 474.8 93.0 474.4 92.8 474.0 92.5 473.6 92.1 473.2 91.6 472.9 91.0 472.7 90.6 472.5 89.8 472.4 89.4 472.1 88.6 472.0 88.2 471.8 87.4 471.6 86.9 471.4 86.2 471.2 85.7 470.9 85.0 470.8 84.6 470.8 84.0 471.0 83.4 471.2 82.8 471.4 82.2 471.6 81.5 471.9 81.0 472.2 80.6 472.8 80.2 473.2 80.1 474.0 79.8 474.4 79.7 475.2 79.6 476.0 79.5 476.4 79.4 477.2 79.1 477.6 78.9 478.2 78.6 478.8 78.4 479.6 78.4 480.4 78.6 480.8 78.8 481.3 79.0 482.0 79.3 482.4 79.4 483.1 79.4 483.6 79.3 484.2 79.0 484.8 78.6 485.2 78.4 485.6 78.2 486.4 78.0 487.2 77.9 488.0 77.9 488.8 77.9 489.6 77.9 490.4 77.9 491.1 77.8 491.6 77.7 492.4 77.6 493.2 77.6 494.0 77.6 494.8 77.6 495.6 77.7 496.0 77.8 496.7 78.2 497.1 78.6 497.5 79.0 497.8 79.4 498.2 79.8 498.7 80.2 499.1 80.6 499.5 81.0 500.0 81.4 500.4 81.8 500.7 82.2 500.9 82.6 500.9 83.4 500.7 83.8 500.4 84.2 499.8 84.6 499.2 84.7 498.8 84.6 498.0 84.6 497.6 84.9 497.2 85.3 496.8 85.7 496.4 86.0 496.0 86.4 495.6 87.0 495.6 87.4 495.5 88.2 495.3 89.0 495.2 89.4 495.0 90.2 494.8 90.7 494.4 91.4 494.1 91.8 493.6 92.2 493.2 92.3 492.4 92.5 491.6 92.6 491.2 92.6 490.4 92.7 489.6 92.8 488.8 92.9 488.0 92.8 487.2 92.6 486.8 92.6 486.4 93.0 486.2 93.4 486.0 93.9 485.6 94.4 485.2 94.6 484.4 95.0 484.0 95.1 484.0 95.1Z" fill="#000" fill-opacity="0.22" fill-rule="evenodd" stroke="none"/>
<path d="M483.6 92.1 482.8 92.1 482.3 91.8 481.6 91.5 481.2 91.4 480.5 91.4 480.0 91.5 479.2 91.7 478.4 91.8 477.6 91.7 476.8 91.5 476.4 91.2 476.0 90.8 475.6 90.4 475.2 90.1 474.8 89.8 474.3 89.4 474.0 89.0 473.7 88.2 473.5 87.8 473.4 87.0 473.3 86.2 473.3 85.4 473.2 84.6 473.3 83.8 473.5 83.0 473.6 82.5 473.9 81.8 474.2 81.4 474.8 81.0 475.2 80.8 476.0 80.7 476.8 80.6 477.2 80.6 478.0 80.4 478.4 80.2 479.2 80.1 479.9 80.2 480.4 80.4 480.8 80.6 481.5 81.0 482.0 81.2 482.5 81.4 483.2 81.5 483.6 81.4 484.4 81.2 485.2 81.2 485.7 81.4 486.4 81.8 486.8 81.8 487.2 81.6 487.6 81.2 488.0 80.9 488.7 80.6 489.2 80.5 489.8 80.6 490.4 80.7 491.2 80.8 492.0 80.7 492.4 80.6 493.2 80.6 493.6 80.8 494.3 81.0 494.8 81.1 495.5 81.4 496.0 81.8 496.2 82.2 496.0 83.0 495.7 83.4 495.2 83.7 494.4 83.4 494.1 83.0 493.8 82.6 493.3 82.2 492.8 82.0 492.4 82.2 492.0 82.8 491.9 83.4 491.9 84.2 492.0 84.7 492.2 85.4 492.3 86.2 492.4 86.6 492.8 87.3 493.1 87.8 493.4 88.2 493.5 89.0 493.2 89.7 492.8 90.0 492.4 90.3 491.6 90.5 490.8 90.6 490.0 90.5 489.5 90.2 489.1 89.8 488.7 89.4 488.2 89.0 487.6 88.8 486.8 89.0 486.4 89.3 486.0 89.6 485.6 90.0 485.2 90.4 484.8 90.8 484.4 91.3 484.0 91.8 483.6 92.1 483.6 92.1Z" fill="#000" fill-opacity="0.3" fill-rule="evenodd" stroke="none"/>
<path d="M485.6 116.6l-.8 .2 -.8 -.1 -.4 -.1 -.8 -.4 -.4 -.2 -.8 -.2 -.4 -.0 -.8 -.2 -.4 -.3 -.4 -.3 -.8 -.4 -.4 -.1 -.6 -.3 -.6 -.4 -.4 -.4 -.4 -.4 -.4 -.4 -.4 -.4 -.4 -.4 -.4 -.3 -.4 -.2 -.6 -.2 -.6 -.2 -.4 -.2 -.5 -.4 -.4 -.4 -.3 -.4 -.4 -.4 -.4 -.4 -.5 -.4 -.5 -.4 -.3 -.4 -.3 -.6 -.2 -.6 -.2 -.8 -.1 -.4 -.1 -.8 .1 -.5 .2 -.7 .0 -.8 -.2 -.4 -.4 -.5 -.4 -.4 -.4 -.4 -.4 -.5 -.3 -.6 -.1 -.6 -.2 -.6 -.2 -.8 -.1 -.4 -.2 -.8 -.1 -.4 -.2 -.8 -.1 -.8 0 -.8 0 -.8 0 -.4 0 -.8 .0 -.8 0 -.8 -.1 -.8 -.1 -.8 -.1 -.8 0 -.4 -.1 -.8 -.1 -.8 .0 -.8 .1 -.8 .1 -.5 .2 -.7 .2 -.6 .2 -.6 .2 -.6 .1 -.6 .1 -.8 .2 -.5 .3 -.7 .3 -.4 .4 -.4 .5 -.4 .5 -.3 .4 -.2 .7 -.3 .5 -.3 .4 -.2 .8 -.3 .8 -.1 .4 -.0 .8 -.1 .8 -.2 .5 -.1 .7 -.2 .8 -.2 .4 -.2 .6 -.2 .6 -.2 .8 -.1 .7 -.1 .5 -.1 .8 -.1 .8 -.1 .8 -.1 .4 -.1 .8 -.1 .8 -.0 .8 .1 .8 .1 .8 0 .8 -.1 .8 -.1 .8 -.0 .8 -.0 .8 -.0 .8 -.1 .8 -.0 .8 -.0 .8 -.0 .8 -.0 .8 -.0 .4 -.0 .8 -.0 .8 -.0 .8 -.0 .8 -.0 .8 -.0 .8 0 .8 0 .8 -.0 .6 -.3 .4 -.4 .3 -.4 .4 -.4 .6 -.4 .5 -.3 .4 -.1 .8 -.3 .4 -.2 .7 -.4 .5 -.2 .8 -.2 .8 0 .8 .1 .8 .1 .8 .1 .5 .1 .7 .2 .6 .2 .6 .2 .6 .2 .6 .3 .4 .4 .3 .5 .1 .4 .1 .8 .0 .8 .1 .8 .0 .8 -.2 .8 -.2 .4 -.3 .8 0 .4 .0 .7 .0 .5 0 .8 -.1 .4 -.2 .8 -.1 .4 -.3 .8 -.2 .4 -.4 .8 -.2 .4 -.2 .5 -.2 .7 -.2 .5 -.3 .7 -.2 .4 -.3 .4 -.4 .5 -.4 .4 -.4 .3 -.6 .4 -.6 .3 -.4 .2 -.5 .3 -.6 .4 -.4 .4 -.1 .4 .1 .4 .4 .4 .5 .4 .4 .4 .3 .4 .3 .8 -.3 .8 -.4 .4 -.4 .3 -.4 .2 -.8 .3 -.4 .1 -.8 0 -.8 -.0 -.4 -.0 -.8 -.1 -.8 -.1 -.7 .2 -.5 .3 -.4 .3 -.4 .3 -.4 .4 -.4 .6 -.2 .4 -.3 .4 -.3 .4 -.5 .4 -.7 .4 -.4 .3 -.4 .4 -.3 .6 -.1 .4 -.1 .8 -.2 .8 -.1 .4 -.1 .8 -.2 .8 -.2 .4 -.5 .4 -.6 .3 -.4 .2 -.3 .7 .0 .8 -.2 .6 -.3 .6 -.2 .4 -.3 .8 -.2 .4 -.4 .4 -.7 .2 -.8 -.1 -.4 -.1 -.8 0 -.4 .3 -.2 .5 -.2 .4 -.1 .8 -.3 .7 -.4 .3 -.4 .2 -.5 .4 -.4 .4 -.4 .4 -.4 .4 -.5 .4 -.6 .4 -.4 .2 -.4 .2 .0 0M486.4 113.8l-.8 .1 -.7 -.1 -.5 -.2 -.5 -.2 -.6 -.4 -.5 -.3 -.4 -.3 -.4 -.2 -.8 -.1 -.4 .2 -.8 .4 -.4 .2 -.8 .1 -.7 -.3 -.5 -.4 -.4 -.4 -.4 -.4 -.4 -.4 -.4 -.3 -.4 -.3 -.4 -.2 -.8 -.3 -.4 -.2 -.6 -.3 -.4 -.4 -.3 -.4 -.3 -.8 -.1 -.4 -.2 -.8 -.1 -.8 0 -.8 .1 -.8 .1 -.8 -.1 -.8 -.2 -.7 -.4 -.5 -.4 -.2 -.5 -.2 -.7 -.3 -.4 -.3 -.4 -.3 -.4 -.4 -.4 -.5 -.3 -.6 -.2 -.4 -.2 -.8 -.1 -.4 -.2 -.8 -.2 -.7 -.2 -.5 -.1 -.8 -.1 -.8 -.1 -.4 -.1 -.8 0 -.8 .1 -.8 .0 -.8 -.2 -.8 -.2 -.6 -.2 -.6 -.2 -.8 -.1 -.5 -.1 -.7 -.1 -.8 0 -.8 .1 -.8 .1 -.4 .3 -.8 .2 -.4 .3 -.8 .1 -.4 .2 -.8 .1 -.5 .3 -.7 .3 -.4 .4 -.4 .6 -.4 .4 -.2 .5 -.2 .7 -.3 .4 -.2 .8 -.2 .5 -.1 .7 -.1 .8 -.1 .7 -.2 .5 -.1 .8 -.2 .4 -.1 .8 -.3 .4 -.2 .8 -.2 .4 -.1 .8 -.1 .8 -.1 .8 -.1 .8 -.1 .4 -.1 .8 -.1 .8 -.1 .8 0 .8 .1 .8 .1 .4 .1 .8 .1 .8 -.0 .5 -.1 .7 -.1 .8 -.1 .8 -.1 .8 -.0 .8 -.0 .8 -.0 .6 -.0 .6 -.0 .8 -.0 .8 -.0 .8 -.0 .8 0 .8 0 .8 -.0 .8 0 .7 .1 .5 .1 .8 .2 .4 .1 .4 -.0 .7 -.4 .3 -.4 .3 -.4 .3 -.4 .4 -.4 .6 -.4 .6 -.3 .4 -.2 .5 -.3 .7 -.4 .4 -.2 .8 -.1 .8 0 .8 .1 .8 .1 .4 .1 .8 .3 .4 .1 .8 .2 .4 .1 .6 .4 .3 .4 .1 .8 -.1 .8 -.1 .5 -.4 .7 -.4 .4 -.4 .4 -.4 .4 -.3 .4 -.3 .4 -.3 .4 -.4 .5 -.3 .7 -.1 .4 -.1 .8 .1 .8 .5 .4 .4 .1 .6 .3 .2 .4 0 .5 -.3 .7 -.2 .4 -.3 .8 -.1 .4 -.3 .8 -.2 .4 -.3 .4 -.4 .4 -.8 .4 -.4 .1 -.8 .2 -.4 .4 -.4 .6 -.4 .4 -.4 .4 -.4 .4 -.4 .4 -.4 .2 -.7 .2 -.5 .1 -.8 .2 -.4 .2 -.4 .3 -.4 .3 -.5 .4 -.4 .4 -.3 .7 -.1 .5 -.3 .6 -.3 .6 -.3 .4 -.3 .4 -.3 .4 -.4 .6 -.4 .5 -.4 .4 -.4 .3 -.4 .3 -.5 .3 -.5 .4 -.4 .4 -.4 .4 -.5 .4 -.5 .4 -.3 .4 -.1 .8 .1 .8 -.1 .8 -.3 .4 -.5 .4 -.4 .3 -.4 .3 -.4 .3 -.5 .3 -.5 .4 -.5 .4 -.3 .4 -.2 .4 -.4 .8 -.3 .4 -.3 .4 -.3 .4 -.3 .6 -.2 .6 -.2 .4 -.3 .8 -.2 .4 -.3 .5 -.4 .5 -.4 .5 -.4 .4 -.4 .3 -.4 .2 .0 0M507.6 94.6l-.7 -.0 -.5 -.2 -.4 -.4 0 -.6 .3 -.4 .4 -.4 .6 -.4 .4 -.1 .6 .1 .6 .3 .4 .5 .1 .4 -.1 .4 -.4 .4 -.8 .4 -.4 .1 .0 0M484.8 111.4l-.4 -.1 -.7 -.4 -.4 -.4 -.3 -.4 -.2 -.4 -.4 -.6 -.4 -.3 -.8 -.1 -.5 .2 -.4 .4 -.3 .8 -.2 .4 -.3 .4 -.8 .2 -.4 -.2 -.5 -.4 -.3 -.4 -.4 -.7 -.2 -.5 -.2 -.7 -.4 -.4 -.8 .1 -.8 .1 -.6 -.3 -.3 -.4 -.3 -.8 0 -.4 .0 -.4 .2 -.8 .2 -.5 .3 -.7 .2 -.4 .3 -.4 .4 -.4 .4 -.4 .4 -.7 .1 -.5 -.1 -.4 -.4 -.4 -.8 -.3 -.8 -.1 -.4 -.0 -.8 -.1 -.8 -.1 -.8 -.0 -.8 -.1 -.4 -.2 -.4 -.4 -.3 -.6 -.1 -.4 -.1 -.8 -.1 -.8 -.1 -.8 -.1 -.8 -.1 -.4 -.3 -.5 -.4 -.6 -.3 -.5 -.1 -.4 -.1 -.8 .1 -.8 .0 -.4 0 -.8 -.1 -.4 -.3 -.8 -.2 -.4 -.3 -.7 -.1 -.5 -.2 -.8 -.1 -.8 0 -.8 .1 -.8 .2 -.8 .2 -.4 .3 -.8 .2 -.4 .2 -.6 .2 -.6 .2 -.5 .4 -.7 .4 -.4 .4 -.3 .4 -.2 .6 -.3 .6 -.2 .5 -.2 .7 -.2 .8 -.1 .7 -.1 .5 -.1 .8 -.2 .4 -.1 .8 -.3 .4 -.2 .8 -.3 .4 -.1 .8 -.2 .8 -.1 .4 -.0 .8 -.0 .8 0 .8 -.0 .8 -.1 .8 -.1 .8 -.1 .8 0 .8 .1 .7 .2 .5 .1 .8 -.0 .5 -.1 .7 -.2 .8 -.2 .6 -.1 .6 -.0 .8 -.0 .8 0 .8 -.1 .8 -.1 .8 -.0 .8 -.0 .8 0 .8 .1 .8 0 .8 -.0 .8 0 .7 .1 .5 .1 .8 .2 .4 .1 .8 -.0 .4 -.1 .5 -.3 .4 -.4 .3 -.4 .3 -.5 .4 -.4 .4 -.3 .6 -.3 .6 -.4 .4 -.2 .4 -.2 .8 -.3 .8 -.0 .8 .1 .6 .2 .6 .3 .4 .2 .6 .3 .6 .4 .3 .4 -.3 .8 -.4 .4 -.4 .2 -.8 .1 -.4 .4 .3 .8 -.1 .8 -.2 .4 -.4 .6 -.3 .6 -.1 .4 -.2 .8 -.2 .6 -.1 .6 .1 .4 .4 .7 .4 .5 .2 .4 .0 .8 -.1 .5 -.4 .7 -.4 .3 -.4 .1 -.8 .1 -.8 .1 -.4 .1 -.5 .3 -.3 .4 -.2 .8 -.1 .8 -.1 .4 -.4 .5 -.4 .3 -.8 .3 -.4 .1 -.8 .4 -.4 .3 -.4 .3 -.6 .3 -.6 .2 -.4 .3 -.3 .7 -.1 .7 -.1 .5 -.2 .8 -.2 .4 -.4 .7 -.4 .5 -.4 .4 -.4 .4 -.4 .3 -.4 .3 -.4 .3 -.4 .4 -.4 .4 -.4 .4 -.4 .4 -.5 .4 -.6 .4 -.4 .4 -.2 .4 -.1 .8 0 .8 -.1 .4 -.4 .6 -.4 .3 -.6 .3 -.6 .1 -.4 -.2 -.4 -.4 -.4 -.5 -.4 -.3 -.5 -.3 -.4 -.4 -.3 -.4 -.4 -.5 -.8 -.0 -.4 .4 -.3 .5 .3 .8 .4 .1 .7 .3 .4 .4 .1 .8 -.2 .8 -.2 .8 .0 .8 .0 .8 -.1 .5 -.2 .7 -.2 .8 -.1 .4 -.3 .7 -.4 .5 -.4 .3 -.4 .2 -.8 .2 -.8 .1 -.4 0 .0 0M486.4 109.5l-.8 .1 -.5 -.2 -.6 -.4 -.4 -.4 -.3 -.4 -.4 -.4 -.6 -.3 -.7 -.1 -.5 -.1 -.8 -.2 -.4 -.1 -.8 -.3 -.4 -.2 -.4 -.3 -.3 -.7 .3 -.4 .4 -.4 .4 -.6 .3 -.6 .2 -.4 .4 -.7 .2 -.5 -.2 -.8 -.4 -.2 -.8 .1 -.4 .4 -.3 .5 -.2 .4 -.4 .6 -.4 .6 -.2 .4 -.1 .8 -.1 .4 -.8 .4 -.7 -.4 .2 -.8 .2 -.4 .3 -.4 .4 -.5 .4 -.6 .2 -.4 .1 -.8 -.2 -.7 -.4 -.5 -.4 -.2 -.4 -.2 -.8 -.2 -.8 -.1 -.7 -.1 -.5 -.1 -.6 -.3 -.6 -.4 -.4 -.4 .0 -.3 .4 -.2 .8 -.2 .5 -.1 .7 -.3 .4 -.5 .0 -.0 -.4 -.7 -.4 -.3 -.5 -.2 -.7 -.2 -.7 -.2 -.2 -.4 -.2 -.8 -.3 -.4 -.6 -.3 -.7 -.1 -.5 -.1 -.4 -.3 -.4 -.6 -.1 -.6 .0 -.8 .1 -.8 .0 -.4 0 -.4 -.4 -.7 -.4 -.5 -.2 -.4 -.2 -.5 -.2 -.7 -.1 -.8 0 -.8 .1 -.8 .2 -.7 .2 -.5 .2 -.4 .4 -.7 .2 -.5 .2 -.4 .3 -.8 .2 -.4 .3 -.4 .5 -.4 .6 -.3 .4 -.2 .8 -.3 .4 -.1 .8 -.1 .8 -.1 .7 -.1 .5 -.1 .8 -.3 .4 -.2 .5 -.2 .7 -.3 .5 -.1 .7 -.1 .8 -.1 .8 -.0 .8 0 .8 .1 .5 .1 .7 .1 .4 -.1 .8 -.3 .4 -.1 .8 -.1 .6 .1 .6 .1 .8 .2 .8 -.0 .8 -.2 .5 -.1 .7 -.2 .8 -.1 .8 -.0 .8 0 .8 0 .8 -.1 .8 -.0 .8 0 .8 .1 .8 .1 .8 .1 .8 0 .8 -.0 .8 .1 .5 .1 .7 .1 .8 .2 .8 .1 .8 -.1 .8 -.2 .4 -.2 .4 -.3 .4 -.6 .3 -.6 .3 -.4 .6 -.4 .4 -.2 .5 -.2 .7 -.2 .6 .2 .1 .8 .0 .8 .1 .4 .2 .8 .1 .8 -.1 .8 -.1 .4 -.1 .8 -.1 .8 -.1 .5 -.2 .7 -.2 .7 -.1 .5 -.3 .7 -.8 .1 -.4 .1 -.6 .4 -.2 .4 -.1 .8 -.1 .8 -.2 .5 -.2 .7 -.2 .6 -.2 .6 -.2 .5 -.4 .4 -.5 .2 -.7 .2 -.4 .2 -.5 .3 -.7 .4 -.4 .1 -.8 -.0 -.4 -.1 -.4 -.5 -.4 -.5 -.4 -.2 -.8 -.0 -.4 .2 -.5 .4 -.3 .6 0 .6 .4 .3 .8 -.1 .8 -.2 .8 .4 .0 .4 0 .6 -.1 .6 -.1 .8 -.1 .8 -.1 .4 -.4 .7 -.4 .5 -.4 .3 -.4 .3 -.4 .3 -.4 .3 -.5 .4 -.4 .4 -.4 .4 -.5 .4 -.6 .4 -.4 .2 -.4 .2 -.5 .4 -.3 .7 -.2 .5 -.2 .6 -.4 .4 -.8 -.1 -.4 -.1 -.6 -.3 -.5 -.4 -.4 -.4 -.4 -.4 -.4 -.4 -.4 -.2 -.4 .2 -.4 .4 -.4 .5 -.4 .5 -.4 .5 -.4 .5 -.2 .4 -.2 .4 -.2 .8 .2 .8 .8 -.2 .8 0 .4 .3 .2 .7 -.1 .8 -.1 .4 -.2 .8 -.1 .8 -.1 .5 -.1 .7 -.3 .6 -.4 .3 .0 0M482.8 104.8l-.8 .1 -.5 -.3 -.3 -.7 .0 -.3 .2 -.6 .2 -.5 .2 -.7 -.2 -.8 -.3 -.4 -.5 -.4 -.4 -.2 -.8 -.2 -.4 -.1 -.6 -.3 -.6 -.3 -.4 -.2 -.6 -.2 -.6 -.2 -.4 -.2 -.3 -.8 .0 -.8 -.1 -.4 -.4 -.5 -.4 -.4 -.4 -.3 -.7 -.4 -.5 -.2 -.4 -.2 -.4 -.4 -.4 -.5 -.4 -.7 -.4 -.5 -.4 -.3 -.5 -.1 -.7 -.2 -.4 -.4 -.2 -.6 .0 -.8 .1 -.4 .2 -.8 -.2 -.7 -.4 -.3 -.4 -.3 -.4 -.4 -.3 -.7 -.1 -.4 -.1 -.8 0 -.8 .1 -.8 .1 -.4 .4 -.8 .3 -.4 .2 -.4 .3 -.6 .2 -.6 .2 -.4 .4 -.7 .4 -.4 .4 -.3 .5 -.2 .7 -.2 .7 -.2 .5 -.1 .8 -.1 .8 -.1 .7 -.1 .5 -.2 .5 -.2 .7 -.4 .4 -.2 .8 -.2 .4 -.1 .8 -.1 .8 -.0 .7 .1 .5 .1 .8 .3 .4 .1 .8 .1 .7 -.3 .5 -.4 .4 -.2 .8 -.1 .8 .1 .8 .1 .8 -.0 .8 -.1 .8 -.2 .4 -.1 .8 -.1 .8 -.0 .8 0 .8 0 .8 -.0 .8 -.0 .8 0 .8 .1 .5 .1 .7 .1 .8 .1 .8 .1 .8 0 .8 .1 .4 0 .8 .2 .8 .2 .4 .1 .8 0 .6 -.1 .6 -.1 .8 -.2 .4 -.2 .4 -.3 .4 -.4 .4 -.4 .8 0 .2 .4 .1 .8 0 .8 0 .8 -.1 .8 -.2 .6 -.3 .6 -.3 .4 -.4 .4 -.6 .4 -.4 .2 -.4 .2 -.4 .5 -.2 .6 -.2 .8 -.1 .4 -.2 .8 -.1 .5 -.4 .7 -.3 .4 -.3 .4 -.4 .4 -.5 .4 -.5 .4 -.4 .3 -.8 .2 -.8 -.3 -.4 -.2 -.8 -.2 -.8 .1 -.5 .2 -.5 .4 -.3 .4 -.2 .4 -.2 .8 .1 .8 .2 .4 .5 .4 .4 .4 .1 .5 .1 .7 -.1 .6 -.3 .6 -.3 .4 -.4 .4 -.4 .4 -.4 .4 -.4 .4 -.4 .4 -.6 .4 -.4 .2 -.8 .2 -.4 .1 -.5 .3 -.4 .4 -.3 .5 -.4 .5 -.8 .2 -.6 -.3 -.4 -.4 -.3 -.4 -.3 -.8 -.4 -.4 -.8 .2 -.4 .4 -.3 .5 -.2 .4 -.3 .5 -.4 .5 -.4 .4 -.4 .5 -.4 .5 -.3 .4 -.3 .4 -.3 .4 -.4 .6 -.3 .6 -.2 .4 -.4 .6 -.4 .4 .0 0M483.2 100.7l-.4 -.1 -.6 -.4 -.6 -.4 -.5 -.2 -.4 -.2 -.8 -.3 -.4 -.2 -.4 -.3 -.4 -.4 -.4 -.5 -.4 -.3 -.4 -.3 -.5 -.4 -.4 -.4 -.4 -.4 -.5 -.4 -.6 -.4 -.5 -.3 -.4 -.2 -.5 -.2 -.7 -.4 -.4 -.3 -.4 -.4 -.3 -.5 -.3 -.4 -.3 -.4 -.3 -.4 -.5 -.4 -.5 -.4 -.1 -.8 .2 -.8 .0 -.2 -.1 -.6 -.3 -.5 -.4 -.4 -.4 -.3 -.6 -.4 -.3 -.4 -.3 -.7 -.1 -.5 0 -.8 .1 -.6 .2 -.6 .2 -.4 .4 -.6 .4 -.6 .2 -.4 .2 -.6 .2 -.6 .3 -.4 .4 -.4 .7 -.4 .4 -.1 .8 -.2 .6 -.1 .6 -.0 .8 -.0 .8 -.1 .8 -.3 .4 -.2 .4 -.2 .7 -.3 .5 -.2 .8 -.1 .8 -.0 .8 .1 .8 .2 .4 .1 .7 .3 .5 .1 .8 -.0 .4 -.2 .4 -.3 .6 -.4 .6 -.2 .8 0 .8 .1 .8 -.0 .8 -.1 .8 -.1 .6 -.1 .6 -.1 .8 -.1 .8 0 .8 0 .8 -.0 .8 -.0 .8 .1 .6 .1 .6 .1 .8 .2 .5 .1 .7 .2 .4 .2 .8 .3 .8 -.0 .8 .1 .4 .4 .1 .5 .0 .8 .2 .8 .3 .4 .4 .4 .5 .3 .4 .2 .4 .4 .2 .7 -.1 .8 -.1 .4 -.4 .7 -.4 .4 -.4 .3 -.4 .3 -.4 .5 -.2 .5 -.2 .4 -.4 .4 -.7 .2 -.8 -.1 -.8 -.1 -.8 .1 -.6 .3 -.6 .4 -.4 .4 -.2 .4 -.2 .5 -.2 .7 -.1 .8 .1 .8 .1 .8 .0 .4 0 .5 -.2 .7 -.2 .4 -.4 .5 -.4 .5 -.4 .5 -.4 .3 -.4 .2 -.8 .1 -.7 .3 -.5 .3 -.4 .3 -.4 .3 -.8 -.1 -.3 -.4 -.2 -.4 -.3 -.5 -.8 -.1 -.5 .3 -.7 .4 -.5 .4 -.4 .4 -.3 .4 -.4 .4 -.5 .2 -.8 -.1 -.8 .1 -.4 .3 -.2 .7 .2 .6 .0 .4 -.4 .3 .0 0M506.4 79.4l-.4 .1 -.2 -.1 -.2 -.2 -.1 -.2 -.1 -.4 .0 -.4 .2 -.3 .2 -.1 .2 -.1 .4 -.1 .4 -.1 .4 .1 .1 .3 0 .4 -.1 .2 -.1 .2 -.3 .4 0 0 -.4 .4 0 0" fill="none" stroke="#222" stroke-width="0.45" stroke-linejoin="round"/>
<path d="M482.0 98.3l-.8 0 -.6 -.2 -.5 -.4 -.3 -.4 -.2 -.5 -.3 -.7 -.4 -.4 -.4 -.2 -.8 -.2 -.4 -.1 -.7 -.3 -.5 -.2 -.4 -.2 -.7 -.4 -.4 -.2 -.4 -.2 -.7 -.4 -.5 -.4 -.3 -.4 -.3 -.4 -.2 -.4 -.4 -.8 -.2 -.4 -.2 -.8 -.1 -.5 -.2 -.7 -.2 -.6 -.3 -.6 -.3 -.4 -.5 -.4 -.5 -.4 -.4 -.4 -.2 -.4 -.2 -.8 .1 -.8 .3 -.7 .3 -.5 .3 -.4 .2 -.4 .3 -.8 .2 -.4 .3 -.6 .4 -.5 .4 -.3 .4 -.2 .8 -.2 .8 -.1 .8 -.0 .8 0 .8 -.0 .4 -.1 .8 -.4 .4 -.3 .4 -.3 .6 -.3 .6 -.2 .8 -.0 .8 .1 .4 .1 .8 .3 .4 .2 .8 .3 .8 -.1 .6 -.3 .6 -.4 .5 -.3 .4 -.1 .8 -.1 .8 0 .8 -.0 .8 -.1 .8 -.1 .8 -.1 .4 -.1 .8 -.1 .8 -.0 .8 0 .8 -.0 .8 -.0 .8 .1 .4 .1 .8 .2 .7 .2 .5 .2 .4 .3 .4 .4 .4 .4 .4 .3 .8 .4 .4 .2 .4 .4 .4 .5 .4 .5 .4 .4 .4 .3 .4 .3 .4 .4 .2 .7 -.2 .8 -.3 .4 -.4 .4 -.5 .4 -.4 .4 -.3 .4 -.2 .4 -.3 .4 -.7 .4 -.4 0 -.8 -.0 -.4 -.0 -.4 .1 -.8 .4 -.4 .3 -.4 .4 -.4 .5 -.2 .4 -.3 .8 -.1 .4 -.1 .8 -.1 .8 -.1 .8 -.1 .4 -.4 .7 -.4 .4 -.4 .3 -.4 .2 -.8 .2 -.6 .2 -.6 .3 -.4 .3 -.4 .2 -.4 -.1 -.4 -.4 -.7 -.4 -.3 0 -.6 .3 -.4 .4 -.4 .4 -.4 .3 -.4 .2 -.8 .4 -.4 .2 -.6 .3 -.6 .2 -.6 .2 -.6 .2 -.4 .2 -.8 .4 -.4 .2 .0 0M482.8 97.1l-.8 .1 -.7 -.2 -.5 -.4 -.3 -.4 -.2 -.4 -.3 -.5 -.5 -.3 -.7 -.2 -.8 -.1 -.4 -.1 -.8 -.1 -.8 -.2 -.4 -.2 -.7 -.3 -.5 -.3 -.4 -.2 -.6 -.3 -.5 -.4 -.3 -.4 -.3 -.5 -.2 -.7 -.2 -.7 -.1 -.5 -.2 -.8 -.1 -.4 -.3 -.8 -.2 -.4 -.3 -.5 -.4 -.5 -.4 -.4 -.4 -.3 -.4 -.6 -.1 -.5 .1 -.8 .2 -.4 .3 -.4 .4 -.6 .3 -.6 .2 -.4 .3 -.8 .3 -.4 .4 -.4 .6 -.3 .5 -.1 .7 -.1 .8 -.1 .8 -.0 .8 -.1 .8 -.1 .4 -.2 .4 -.2 .6 -.4 .6 -.3 .4 -.1 .8 -.0 .4 .1 .8 .2 .5 .2 .7 .3 .4 .1 .8 0 .4 -.1 .8 -.4 .4 -.3 .4 -.3 .5 -.2 .7 -.1 .8 0 .8 -.0 .8 -.1 .8 -.0 .8 -.0 .8 -.1 .4 -.1 .8 -.1 .8 -.0 .8 -.0 .8 -.0 .8 .1 .4 .1 .8 .2 .4 .2 .5 .4 .4 .4 .3 .4 .4 .4 .4 .4 .5 .4 .6 .4 .5 .4 .4 .3 .4 .3 .4 .3 .4 .3 .4 .5 .1 .7 -.2 .4 -.4 .4 -.4 .4 -.4 .4 -.3 .5 -.4 .6 -.4 .3 -.8 .2 -.8 -.1 -.8 .1 -.4 .2 -.4 .3 -.4 .3 -.4 .4 -.4 .8 -.1 .4 -.2 .8 -.1 .4 -.2 .8 -.2 .8 -.1 .4 -.3 .7 -.4 .4 -.4 .2 -.8 .2 -.4 0 -.8 .1 -.8 .1 -.8 0 -.8 0 -.6 .1 -.6 .3 -.4 .5 -.3 .4 -.5 .4 -.4 .2 -.8 .2 -.4 .1 -.8 .3 -.4 .2 -.5 .2 -.7 .4 -.4 .1 .0 0M482.8 95.9l-.5 -.1 -.3 -.4 -.3 -.4 -.5 -.4 -.7 -.2 -.8 -.1 -.4 -.0 -.8 -.1 -.8 -.1 -.8 -.0 -.8 -.1 -.4 -.1 -.6 -.3 -.6 -.3 -.4 -.2 -.4 -.3 -.4 -.4 -.4 -.6 -.2 -.6 -.2 -.8 -.1 -.4 -.2 -.8 -.1 -.4 -.3 -.8 -.1 -.4 -.3 -.8 -.2 -.4 -.3 -.5 -.4 -.4 -.4 -.5 -.1 -.6 .1 -.5 .4 -.6 .3 -.5 .2 -.4 .3 -.8 .2 -.4 .3 -.4 .5 -.4 .7 -.3 .5 -.1 .7 -.1 .8 -.1 .8 -.1 .7 -.1 .5 -.2 .5 -.2 .6 -.4 .5 -.3 .4 -.1 .8 -.0 .4 .1 .8 .3 .4 .2 .5 .2 .7 .3 .8 -.0 .6 -.2 .6 -.3 .4 -.3 .4 -.3 .7 -.3 .5 -.1 .8 -.0 .8 -.0 .8 -.0 .8 0 .8 0 .8 -.1 .8 -.1 .4 -.0 .8 -.0 .8 -.0 .8 -.0 .8 .1 .4 .1 .8 .3 .4 .3 .4 .4 .4 .5 .3 .4 .4 .4 .4 .4 .5 .4 .4 .3 .4 .3 .4 .3 .4 .4 .4 .4 .2 .6 -.2 .4 -.4 .6 -.4 .6 -.3 .4 -.5 .4 -.4 .1 -.4 -.1 -.8 -.3 -.8 .2 -.4 .5 -.4 .4 -.4 .3 -.4 .4 -.2 .5 -.1 .8 -.1 .4 -.2 .8 -.2 .6 -.2 .6 -.2 .7 -.3 .5 -.3 .4 -.6 .4 -.4 .1 -.8 0 -.8 .1 -.8 .1 -.6 .1 -.6 .1 -.8 .1 -.8 .1 -.8 .1 -.3 .4 -.2 .4 -.4 .4 -.7 .3 -.4 .2 -.7 .3 -.5 .2 -.8 .2 -.4 .1 .0 0M484.0 94.6l-.4 -.0 -.8 -.3 -.4 -.2 -.6 -.3 -.6 -.3 -.4 -.2 -.8 -.0 -.7 .1 -.5 0 -.8 -.0 -.8 0 -.8 0 -.4 -.1 -.8 -.3 -.4 -.3 -.4 -.3 -.4 -.3 -.4 -.4 -.3 -.6 -.2 -.6 -.2 -.7 -.2 -.5 -.2 -.7 -.2 -.5 -.2 -.8 -.1 -.4 -.2 -.8 -.1 -.8 0 -.8 .2 -.8 .2 -.8 0 -.8 .0 -.5 .3 -.7 .5 -.4 .4 -.2 .5 -.2 .7 -.2 .8 -.1 .6 -.1 .6 -.1 .8 -.3 .4 -.2 .4 -.3 .8 -.3 .4 -.0 .4 0 .8 .3 .4 .2 .5 .3 .7 .4 .4 .1 .8 -.1 .4 -.2 .4 -.2 .7 -.4 .5 -.4 .4 -.2 .6 -.2 .6 -.1 .8 -.0 .8 -.0 .8 0 .8 .1 .8 -.0 .8 -.2 .8 -.2 .6 -.0 .6 -.0 .8 -.0 .6 0 .6 .1 .7 .3 .4 .4 .2 .4 .3 .4 .4 .4 .5 .4 .4 .4 .4 .4 .4 .4 .4 .4 .3 .4 .3 .8 -.3 .8 -.4 .2 -.4 -.2 -.7 -.4 -.1 0 -.7 .4 -.3 .4 -.3 .4 -.3 .4 -.4 .5 -.4 .3 -.7 .4 -.3 .4 .1 .8 .1 .4 0 .8 -.1 .4 -.2 .8 -.1 .4 -.4 .8 -.3 .4 -.5 .4 -.5 .2 -.8 .1 -.8 .1 -.5 .1 -.7 .2 -.8 .2 -.8 0 -.8 -.2 -.4 -.3 -.4 -.4 -.4 -.3 -.6 .1 -.4 .4 -.2 .8 0 .4 -.2 .8 -.3 .4 -.7 .4 -.4 .1 .0 0M484.0 93.9l-.6 -.1 -.6 -.2 -.5 -.2 -.6 -.4 -.5 -.4 -.4 -.2 -.8 0 -.5 .1 -.7 .2 -.8 .1 -.8 .1 -.8 0 -.8 -.3 -.4 -.3 -.4 -.4 -.4 -.4 -.4 -.4 -.4 -.5 -.2 -.4 -.2 -.4 -.3 -.8 -.1 -.4 -.2 -.8 -.1 -.8 0 -.6 0 -.6 .0 -.8 .0 -.4 .1 -.8 .1 -.8 .1 -.8 .1 -.4 .4 -.7 .4 -.3 .4 -.2 .8 -.3 .4 -.1 .8 -.1 .8 -.1 .4 -.1 .7 -.4 .5 -.3 .4 -.1 .8 0 .4 .2 .5 .3 .6 .4 .5 .3 .4 .2 .8 .2 .8 -.3 .4 -.2 .4 -.2 .5 -.3 .6 -.4 .4 -.2 .8 -.2 .8 -.0 .8 -.0 .8 0 .8 .1 .8 0 .8 -.2 .4 -.1 .8 -.2 .8 -.0 .8 .1 .8 .2 .3 .4 .1 .4 .4 .5 .5 .3 .7 .3 .4 .3 .4 .5 .1 .5 -.1 .4 -.4 .5 -.4 .6 -.3 .5 -.2 .4 -.3 .4 -.4 .4 -.6 .3 -.6 .2 -.4 .2 -.3 .8 .3 .5 .4 .7 .1 .4 0 .8 -.1 .4 -.3 .8 -.3 .4 -.4 .4 -.6 .3 -.4 .1 -.8 .1 -.8 .1 -.8 .1 -.4 .1 -.8 .1 -.7 -.2 -.5 -.4 -.2 -.4 -.2 -.4 -.8 -.3 -.6 .3 -.5 .4 -.3 .4 -.2 .4 -.2 .8 -.2 .7 -.4 .4 -.4 .1 .0 0M484.0 93.0l-.8 .1 -.4 -.1 -.6 -.4 -.4 -.4 -.5 -.4 -.5 -.1 -.7 .1 -.5 .2 -.8 .2 -.4 0 -.8 .1 -.8 .1 -.6 -.1 -.5 -.4 -.2 -.4 -.3 -.6 -.4 -.3 -.5 -.3 -.4 -.4 -.3 -.4 -.3 -.8 -.1 -.4 -.1 -.8 -.1 -.8 0 -.8 0 -.8 .1 -.8 .1 -.8 .1 -.6 .1 -.6 .3 -.8 .4 -.4 .4 -.3 .4 -.2 .8 -.2 .8 -.1 .8 -.1 .4 -.2 .4 -.3 .8 -.4 .4 -.0 .4 .1 .7 .3 .5 .3 .4 .2 .4 .2 .7 .4 .5 .1 .5 -.1 .7 -.4 .4 -.2 .7 -.2 .5 -.2 .6 -.2 .6 -.2 .8 -.1 .8 -.1 .8 0 .8 .2 .8 .1 .8 -.2 .4 -.2 .8 -.3 .4 -.0 .4 .1 .5 .3 .3 .4 .4 .4 .7 .4 .5 .2 .4 .2 .5 .4 .1 .8 -.3 .8 -.2 .4 -.2 .4 -.4 .5 -.4 .3 -.8 .2 -.6 -.2 -.3 -.4 -.3 -.7 -.4 -.5 -.4 -.1 -.4 .3 -.1 .6 .1 .6 .4 .6 .2 .4 .1 .8 .1 .4 .4 .6 .4 .5 .3 .5 .1 .8 -.3 .8 -.3 .4 -.5 .4 -.5 .2 -.8 .2 -.4 .1 -.8 .1 -.8 0 -.8 -.2 -.4 -.4 -.2 -.4 -.2 -.4 -.4 -.4 -.8 -.1 -.4 .2 -.5 .4 -.4 .4 -.4 .4 -.4 .4 -.3 .4 -.3 .8 -.1 .4 -.3 .4 .0 0M483.6 92.3l-.8 -.1 -.4 -.4 -.4 -.4 -.4 -.2 -.8 -.1 -.8 .2 -.4 .1 -.8 .2 -.8 0 -.8 -.1 -.5 -.2 -.3 -.4 -.4 -.5 -.4 -.4 -.7 -.4 -.5 -.3 -.4 -.5 -.2 -.4 -.2 -.6 -.1 -.6 -.1 -.8 -.1 -.8 -.1 -.8 .0 -.8 .1 -.8 .2 -.6 .2 -.6 .2 -.5 .4 -.5 .4 -.3 .8 -.2 .8 -.1 .8 -.0 .4 -.1 .7 -.3 .5 -.2 .8 0 .4 .2 .7 .4 .5 .3 .4 .3 .4 .3 .8 .3 .8 -.1 .4 -.2 .8 -.2 .7 .3 .4 .4 .4 .4 .5 .1 .4 -.3 .4 -.5 .4 -.5 .4 -.3 .8 -.1 .8 .1 .8 .2 .8 -.0 .7 -.3 .5 -.1 .5 .1 .7 .4 .4 .1 .8 .2 .5 .2 .5 .4 .1 .4 -.1 .4 -.4 .8 -.4 .4 -.4 .2 -.5 -.1 -.4 -.4 -.4 -.6 -.4 -.5 -.4 -.3 -.8 .1 -.4 .4 -.3 .6 -.1 .8 .2 .8 .1 .6 .1 .6 .1 .8 .2 .4 .4 .5 .4 .4 .4 .5 .1 .6 -.1 .4 -.4 .5 -.5 .3 -.7 .2 -.8 .2 -.4 0 -.4 -.0 -.8 -.4 -.4 -.4 -.3 -.4 -.4 -.4 -.5 -.3 -.4 -.1 -.5 .1 -.7 .4 -.4 .4 -.4 .4 -.4 .4 -.4 .4 -.4 .4 -.3 .4 -.2 .4 -.4 .5 .0 0M483.6 91.1l-.8 -.0 -.4 -.2 -.8 -.2 -.8 .1 -.8 .2 -.4 .1 -.8 .2 -.8 -.0 -.5 -.2 -.5 -.4 -.4 -.4 -.5 -.4 -.5 -.3 -.4 -.2 -.4 -.3 -.4 -.5 -.3 -.7 -.1 -.7 -.1 -.5 -.1 -.8 -.1 -.8 0 -.8 .1 -.8 .2 -.6 .2 -.6 .2 -.4 .3 -.4 .8 -.4 .4 -.0 .4 0 .8 .1 .8 -.0 .4 -.1 .8 -.2 .8 .1 .4 .1 .8 .4 .4 .3 .4 .2 .8 .3 .4 0 .4 -.1 .8 -.3 .8 .2 .4 .4 .4 .5 .4 .4 .4 .1 .4 -.2 .4 -.4 .4 -.6 .4 -.4 .4 -.2 .8 0 .4 .1 .7 .4 .2 .4 .1 .8 .1 .7 .1 .5 .1 .8 0 .8 .2 .8 .2 .4 .3 .5 .4 .7 .0 .4 -.2 .4 -.6 .4 -.4 .1 -.8 -.0 -.4 -.2 -.4 -.3 -.4 -.4 -.4 -.4 -.4 -.4 -.8 -.3 -.8 .3 -.4 .3 -.4 .4 -.4 .4 -.4 .5 -.4 .4 -.4 .4 -.4 .4 -.4 .3 .0 0M479.6 90.7l-.8 .1 -.8 -.1 -.4 -.2 -.4 -.4 -.4 -.4 -.4 -.3 -.7 -.4 -.5 -.4 -.3 -.4 -.2 -.4 -.2 -.8 -.1 -.8 -.1 -.4 -.2 -.8 -.1 -.8 .1 -.8 .2 -.6 .3 -.6 .3 -.4 .5 -.3 .8 -.1 .8 .1 .8 .1 .8 -.0 .8 -.1 .8 .1 .5 .2 .7 .4 .4 .2 .4 .2 .8 .2 .8 -.1 .8 -.0 .4 .3 .4 .5 .4 .5 .4 .3 .8 -.1 .4 -.3 .4 -.4 .4 -.4 .4 -.3 .8 0 .4 .2 .4 .5 .2 .6 .1 .8 -.2 .8 -.1 .8 .3 .8 .2 .4 .1 .8 -.6 .3 -.6 -.3 -.5 -.4 -.4 -.4 -.4 -.4 -.4 -.4 -.6 -.3 -.5 .3 -.4 .4 -.4 .4 -.4 .4 -.4 .4 -.4 .5 -.4 .5 -.4 .4 -.4 .3 -.8 .3 -.8 -.1 -.8 -.1 -.8 .1 -.8 .2 -.4 .1 .0 0M479.6 90.3l-.8 .1 -.6 -.2 -.6 -.4 -.4 -.4 -.4 -.3 -.4 -.3 -.4 -.3 -.4 -.4 -.4 -.8 -.1 -.4 -.1 -.8 -.2 -.8 -.1 -.4 -.2 -.8 .2 -.8 .2 -.4 .3 -.5 .4 -.3 .8 -.1 .8 0 .8 .1 .5 .1 .7 .1 .8 .1 .8 .1 .4 .1 .8 .4 .4 .2 .4 .2 .8 .2 .8 -.0 .4 .2 .4 .5 .3 .6 .2 .4 .3 .8 .0 .8 -.4 .8 -.3 .4 -.3 .4 -.3 .4 -.4 .4 -.6 .4 -.5 .1 -.8 -.0 -.8 -.0 -.8 .1 -.8 .2 -.4 .1 .0 0M479.6 89.9l-.8 0 -.4 -.1 -.6 -.4 -.4 -.4 -.5 -.4 -.5 -.4 -.4 -.4 -.2 -.4 -.1 -.8 -.1 -.8 -.1 -.4 -.3 -.8 0 -.8 .3 -.4 .6 -.4 .6 -.2 .8 -.1 .8 .1 .5 .2 .7 .4 .8 -.1 .8 -.0 .4 .1 .6 .4 .5 .4 .5 .3 .4 .1 .8 .4 .2 .4 .2 .6 .2 .6 .0 .8 -.2 .5 -.4 .7 -.3 .4 -.5 .3 -.4 .1 -.8 .1 -.8 0 -.8 .1 -.8 .1 -.4 .1 .0 0" fill="none" stroke="#000" stroke-width="0.75" stroke-linejoin="round"/>
</g>
<rect x="431" y="32" width="88.5" height="87.6" fill="none" stroke="#222" stroke-width="0.8"/>
<rect x="431.8" y="61.3" width="87.7" height="38.3" fill="none" stroke="#222" stroke-width="0.8"/>
<rect x="431.8" y="102.6" width="87.7" height="16.6" fill="none" stroke="#222" stroke-width="0.8"/>
<line x1="431.6" y1="61" x2="431.6" y2="119.4" stroke="#000" stroke-width="1.1"/>
<line x1="429" y1="40" x2="431" y2="40" stroke="#000" stroke-width="0.6"/>
<text x="428.2" y="41.37" font-size="3.8" text-anchor="end" fill="#222">1x10<tspan dy="-1.6" font-size="2.7">5</tspan></text>
<line x1="429" y1="59.8" x2="431" y2="59.8" stroke="#000" stroke-width="0.6"/>
<text x="428.2" y="61.17" font-size="3.8" text-anchor="end" fill="#222">10000</text>
<line x1="429" y1="80.2" x2="431" y2="80.2" stroke="#000" stroke-width="0.6"/>
<text x="428.2" y="81.57" font-size="3.8" text-anchor="end" fill="#222">1000</text>
<line x1="429" y1="101" x2="431" y2="101" stroke="#000" stroke-width="0.6"/>
<text x="428.2" y="102.37" font-size="3.8" text-anchor="end" fill="#222">100</text>
<line x1="429" y1="110.3" x2="431" y2="110.3" stroke="#000" stroke-width="0.6"/>
<text x="428.2" y="111.67" font-size="3.8" text-anchor="end" fill="#222">0</text>
<line x1="429.9" y1="54.68" x2="431" y2="54.68" stroke="#000" stroke-width="0.45"/>
<line x1="429.9" y1="50.98" x2="431" y2="50.98" stroke="#000" stroke-width="0.45"/>
<line x1="429.9" y1="48.36" x2="431" y2="48.36" stroke="#000" stroke-width="0.45"/>
<line x1="429.9" y1="46.32" x2="431" y2="46.32" stroke="#000" stroke-width="0.45"/>
<line x1="429.9" y1="44.66" x2="431" y2="44.66" stroke="#000" stroke-width="0.45"/>
<line x1="429.9" y1="43.25" x2="431" y2="43.25" stroke="#000" stroke-width="0.45"/>
<line x1="429.9" y1="42.04" x2="431" y2="42.04" stroke="#000" stroke-width="0.45"/>
<line x1="429.9" y1="40.96" x2="431" y2="40.96" stroke="#000" stroke-width="0.45"/>
<line x1="429.9" y1="74.48" x2="431" y2="74.48" stroke="#000" stroke-width="0.45"/>
<line x1="429.9" y1="70.78" x2="431" y2="70.78" stroke="#000" stroke-width="0.45"/>
<line x1="429.9" y1="68.16" x2="431" y2="68.16" stroke="#000" stroke-width="0.45"/>
<line x1="429.9" y1="66.12" x2="431" y2="66.12" stroke="#000" stroke-width="0.45"/>
<line x1="429.9" y1="64.46" x2="431" y2="64.46" stroke="#000" stroke-width="0.45"/>
<line x1="429.9" y1="63.05" x2="431" y2="63.05" stroke="#000" stroke-width="0.45"/>
<line x1="429.9" y1="61.84" x2="431" y2="61.84" stroke="#000" stroke-width="0.45"/>
<line x1="429.9" y1="60.76" x2="431" y2="60.76" stroke="#000" stroke-width="0.45"/>
<line x1="429.9" y1="94.88" x2="431" y2="94.88" stroke="#000" stroke-width="0.45"/>
<line x1="429.9" y1="91.18" x2="431" y2="91.18" stroke="#000" stroke-width="0.45"/>
<line x1="429.9" y1="88.56" x2="431" y2="88.56" stroke="#000" stroke-width="0.45"/>
<line x1="429.9" y1="86.52" x2="431" y2="86.52" stroke="#000" stroke-width="0.45"/>
<line x1="429.9" y1="84.86" x2="431" y2="84.86" stroke="#000" stroke-width="0.45"/>
<line x1="429.9" y1="83.45" x2="431" y2="83.45" stroke="#000" stroke-width="0.45"/>
<line x1="429.9" y1="82.24" x2="431" y2="82.24" stroke="#000" stroke-width="0.45"/>
<line x1="429.9" y1="81.16" x2="431" y2="81.16" stroke="#000" stroke-width="0.45"/>
<line x1="429.9" y1="103.5" x2="431" y2="103.5" stroke="#000" stroke-width="0.45"/>
<line x1="429.9" y1="106" x2="431" y2="106" stroke="#000" stroke-width="0.45"/>
<line x1="429.9" y1="108" x2="431" y2="108" stroke="#000" stroke-width="0.45"/>
<line x1="429.9" y1="112" x2="431" y2="112" stroke="#000" stroke-width="0.45"/>
<line x1="429.9" y1="113.5" x2="431" y2="113.5" stroke="#000" stroke-width="0.45"/>
<line x1="429.9" y1="115" x2="431" y2="115" stroke="#000" stroke-width="0.45"/>
<line x1="429.9" y1="116.5" x2="431" y2="116.5" stroke="#000" stroke-width="0.45"/>
<line x1="431.3" y1="119.6" x2="431.3" y2="121.4" stroke="#000" stroke-width="0.6"/>
<text x="431.3" y="126.59" font-size="3.5" text-anchor="middle" fill="#222">0</text>
<line x1="447.3" y1="119.6" x2="447.3" y2="121.4" stroke="#000" stroke-width="0.6"/>
<text x="447.3" y="126.59" font-size="3.5" text-anchor="middle" fill="#222">50K</text>
<line x1="464.6" y1="119.6" x2="464.6" y2="121.4" stroke="#000" stroke-width="0.6"/>
<text x="464.6" y="126.59" font-size="3.5" text-anchor="middle" fill="#222">100K</text>
<line x1="481.6" y1="119.6" x2="481.6" y2="121.4" stroke="#000" stroke-width="0.6"/>
<text x="481.6" y="126.59" font-size="3.5" text-anchor="middle" fill="#222">150K</text>
<line x1="498.3" y1="119.6" x2="498.3" y2="121.4" stroke="#000" stroke-width="0.6"/>
<text x="498.3" y="126.59" font-size="3.5" text-anchor="middle" fill="#222">200K</text>
<line x1="514.6" y1="119.6" x2="514.6" y2="121.4" stroke="#000" stroke-width="0.6"/>
<text x="514.6" y="126.59" font-size="3.5" text-anchor="middle" fill="#222">250K</text>
<line x1="434.66" y1="119.6" x2="434.66" y2="120.6" stroke="#000" stroke-width="0.4"/>
<line x1="438.02" y1="119.6" x2="438.02" y2="120.6" stroke="#000" stroke-width="0.4"/>
<line x1="441.38" y1="119.6" x2="441.38" y2="120.6" stroke="#000" stroke-width="0.4"/>
<line x1="444.74" y1="119.6" x2="444.74" y2="120.6" stroke="#000" stroke-width="0.4"/>
<line x1="451.46" y1="119.6" x2="451.46" y2="120.6" stroke="#000" stroke-width="0.4"/>
<line x1="454.82" y1="119.6" x2="454.82" y2="120.6" stroke="#000" stroke-width="0.4"/>
<line x1="458.18" y1="119.6" x2="458.18" y2="120.6" stroke="#000" stroke-width="0.4"/>
<line x1="461.54" y1="119.6" x2="461.54" y2="120.6" stroke="#000" stroke-width="0.4"/>
<line x1="468.26" y1="119.6" x2="468.26" y2="120.6" stroke="#000" stroke-width="0.4"/>
<line x1="471.62" y1="119.6" x2="471.62" y2="120.6" stroke="#000" stroke-width="0.4"/>
<line x1="474.98" y1="119.6" x2="474.98" y2="120.6" stroke="#000" stroke-width="0.4"/>
<line x1="478.34" y1="119.6" x2="478.34" y2="120.6" stroke="#000" stroke-width="0.4"/>
<line x1="485.06" y1="119.6" x2="485.06" y2="120.6" stroke="#000" stroke-width="0.4"/>
<line x1="488.42" y1="119.6" x2="488.42" y2="120.6" stroke="#000" stroke-width="0.4"/>
<line x1="491.78" y1="119.6" x2="491.78" y2="120.6" stroke="#000" stroke-width="0.4"/>
<line x1="495.14" y1="119.6" x2="495.14" y2="120.6" stroke="#000" stroke-width="0.4"/>
<line x1="501.86" y1="119.6" x2="501.86" y2="120.6" stroke="#000" stroke-width="0.4"/>
<line x1="505.22" y1="119.6" x2="505.22" y2="120.6" stroke="#000" stroke-width="0.4"/>
<line x1="508.58" y1="119.6" x2="508.58" y2="120.6" stroke="#000" stroke-width="0.4"/>
<line x1="511.94" y1="119.6" x2="511.94" y2="120.6" stroke="#000" stroke-width="0.4"/>
<text x="433" y="71.5" font-size="4.9" fill="#222">91.6</text>
<text x="435.5" y="108" font-size="4.9" fill="#222">7.38</text>
<text x="78.3" y="183.6" font-size="7.3" text-anchor="middle" font-weight="bold" stroke="#000" stroke-width="0.18">LSK</text>
<line x1="49.8" y1="236.4" x2="49.8" y2="241" stroke="#000" stroke-width="1.2"/>
<line x1="40.3" y1="236.4" x2="59.3" y2="236.4" stroke="#000" stroke-width="1.2"/>
<line x1="105.7" y1="193.6" x2="105.7" y2="204" stroke="#000" stroke-width="1.2"/>
<line x1="96.35" y1="193.6" x2="115.05" y2="193.6" stroke="#000" stroke-width="1.2"/>
<rect x="31.2" y="240.1" width="37.6" height="26.7" fill="url(#pGrid)" stroke="#000" stroke-width="1.1"/>
<rect x="86.3" y="203.7" width="37.9" height="63.1" fill="url(#pDots)" stroke="#000" stroke-width="1.1"/>
<line x1="21.7" y1="191.5" x2="21.7" y2="267.4" stroke="#000" stroke-width="1.3"/>
<line x1="21.1" y1="266.8" x2="134" y2="266.8" stroke="#000" stroke-width="1.3"/>
<line x1="18.5" y1="192.8" x2="21.7" y2="192.8" stroke="#000" stroke-width="1"/>
<text x="18.1" y="194.6" font-size="5" text-anchor="end" font-weight="bold" stroke="#000" stroke-width="0.18">1.25</text>
<line x1="18.5" y1="207.7" x2="21.7" y2="207.7" stroke="#000" stroke-width="1"/>
<text x="18.1" y="209.5" font-size="5" text-anchor="end" font-weight="bold" stroke="#000" stroke-width="0.18">1.00</text>
<line x1="18.5" y1="222.5" x2="21.7" y2="222.5" stroke="#000" stroke-width="1"/>
<text x="18.1" y="224.3" font-size="5" text-anchor="end" font-weight="bold" stroke="#000" stroke-width="0.18">0.75</text>
<line x1="18.5" y1="237.4" x2="21.7" y2="237.4" stroke="#000" stroke-width="1"/>
<text x="18.1" y="239.2" font-size="5" text-anchor="end" font-weight="bold" stroke="#000" stroke-width="0.18">0.50</text>
<line x1="18.5" y1="252.2" x2="21.7" y2="252.2" stroke="#000" stroke-width="1"/>
<text x="18.1" y="254" font-size="5" text-anchor="end" font-weight="bold" stroke="#000" stroke-width="0.18">0.25</text>
<line x1="18.5" y1="266.8" x2="21.7" y2="266.8" stroke="#000" stroke-width="1"/>
<text x="18.1" y="268.6" font-size="5" text-anchor="end" font-weight="bold" stroke="#000" stroke-width="0.18">0.00</text>
<line x1="49.8" y1="266.8" x2="49.8" y2="269.6" stroke="#000" stroke-width="1"/>
<line x1="105.7" y1="266.8" x2="105.7" y2="269.6" stroke="#000" stroke-width="1"/>
<text x="50" y="274.7" font-size="5.6" text-anchor="middle" font-weight="bold" stroke="#000" stroke-width="0.18">Vector</text>
<text x="106" y="274.7" font-size="5.6" text-anchor="middle" font-weight="bold" stroke="#000" stroke-width="0.18">myr-AKT-ER</text>
<text font-size="5.6" text-anchor="middle" font-weight="bold" transform="translate(4.9 228.5) rotate(-90)" stroke="#000" stroke-width="0.18">% of Thy1.1+ Lineage neg BM</text>
<text x="55.4" y="294.5" font-size="12" fill="#222"><tspan font-style="italic">P</tspan> = .008</text>
<text x="211.1" y="183.6" font-size="7.3" text-anchor="middle" font-weight="bold" stroke="#000" stroke-width="0.18">Progenitors</text>
<line x1="183.4" y1="196" x2="183.4" y2="205" stroke="#000" stroke-width="1.2"/>
<line x1="173.9" y1="196" x2="192.9" y2="196" stroke="#000" stroke-width="1.2"/>
<line x1="240.4" y1="225" x2="240.4" y2="231.5" stroke="#000" stroke-width="1.2"/>
<line x1="230.6" y1="225" x2="250.2" y2="225" stroke="#000" stroke-width="1.2"/>
<rect x="164" y="204.4" width="38" height="62.9" fill="url(#pLight)" stroke="#222" stroke-width="1.2"/>
<rect x="220.6" y="230.8" width="38.4" height="36.5" fill="url(#pDots)" stroke="#000" stroke-width="1.1"/>
<line x1="155.5" y1="190.5" x2="155.5" y2="267.9" stroke="#000" stroke-width="1.3"/>
<line x1="154.9" y1="267.3" x2="266" y2="267.3" stroke="#000" stroke-width="1.3"/>
<line x1="152.3" y1="192.2" x2="155.5" y2="192.2" stroke="#000" stroke-width="1"/>
<text x="151.9" y="194.07" font-size="5.2" text-anchor="end" font-weight="bold" stroke="#000" stroke-width="0.18">7</text>
<line x1="152.3" y1="202.93" x2="155.5" y2="202.93" stroke="#000" stroke-width="1"/>
<text x="151.9" y="204.8" font-size="5.2" text-anchor="end" font-weight="bold" stroke="#000" stroke-width="0.18">6</text>
<line x1="152.3" y1="213.66" x2="155.5" y2="213.66" stroke="#000" stroke-width="1"/>
<text x="151.9" y="215.53" font-size="5.2" text-anchor="end" font-weight="bold" stroke="#000" stroke-width="0.18">5</text>
<line x1="152.3" y1="224.39" x2="155.5" y2="224.39" stroke="#000" stroke-width="1"/>
<text x="151.9" y="226.26" font-size="5.2" text-anchor="end" font-weight="bold" stroke="#000" stroke-width="0.18">4</text>
<line x1="152.3" y1="235.12" x2="155.5" y2="235.12" stroke="#000" stroke-width="1"/>
<text x="151.9" y="236.99" font-size="5.2" text-anchor="end" font-weight="bold" stroke="#000" stroke-width="0.18">3</text>
<line x1="152.3" y1="245.85" x2="155.5" y2="245.85" stroke="#000" stroke-width="1"/>
<text x="151.9" y="247.72" font-size="5.2" text-anchor="end" font-weight="bold" stroke="#000" stroke-width="0.18">2</text>
<line x1="152.3" y1="256.58" x2="155.5" y2="256.58" stroke="#000" stroke-width="1"/>
<text x="151.9" y="258.45" font-size="5.2" text-anchor="end" font-weight="bold" stroke="#000" stroke-width="0.18">1</text>
<line x1="152.3" y1="267.31" x2="155.5" y2="267.31" stroke="#000" stroke-width="1"/>
<text x="151.9" y="269.18" font-size="5.2" text-anchor="end" font-weight="bold" stroke="#000" stroke-width="0.18">0</text>
<line x1="183.4" y1="267.3" x2="183.4" y2="270" stroke="#000" stroke-width="1"/>
<line x1="240.4" y1="267.3" x2="240.4" y2="270" stroke="#000" stroke-width="1"/>
<text x="183" y="275.2" font-size="5.6" text-anchor="middle" font-weight="bold" stroke="#000" stroke-width="0.18">Vector</text>
<text x="240.5" y="275.2" font-size="5.6" text-anchor="middle" font-weight="bold" stroke="#000" stroke-width="0.18">myr-AKT-ER</text>
<text font-size="5.6" text-anchor="middle" font-weight="bold" transform="translate(145.6 228.5) rotate(-90)" stroke="#000" stroke-width="0.18">% of Thy1.1+ Lineage neg BM</text>
<text x="188" y="294.5" font-size="12" fill="#222"><tspan font-style="italic">P</tspan> = .05</text>
<line x1="392.5" y1="186.3" x2="392.5" y2="192" stroke="#000" stroke-width="1.3"/>
<line x1="382.5" y1="186.3" x2="402.5" y2="186.3" stroke="#000" stroke-width="1.3"/>
<line x1="454" y1="221.9" x2="454" y2="223" stroke="#000" stroke-width="0.8"/>
<line x1="444" y1="221.9" x2="464" y2="221.9" stroke="#000" stroke-width="0.8"/>
<rect x="371.8" y="191.3" width="41.3" height="74.5" fill="url(#pGrid)" stroke="#000" stroke-width="1.1"/>
<rect x="432.8" y="222.2" width="42.1" height="43.6" fill="url(#pDots)" stroke="#000" stroke-width="1.1"/>
<line x1="362.4" y1="184" x2="362.4" y2="266.5" stroke="#000" stroke-width="1.6"/>
<line x1="361.6" y1="265.8" x2="485" y2="265.8" stroke="#000" stroke-width="1.4"/>
<line x1="357.8" y1="184.8" x2="362.4" y2="184.8" stroke="#000" stroke-width="1.2"/>
<text x="357.6" y="186.64" font-size="5.1" text-anchor="end" font-weight="bold" stroke="#000" stroke-width="0.18">14</text>
<line x1="357.8" y1="190.59" x2="362.4" y2="190.59" stroke="#000" stroke-width="1.2"/>
<text x="357.6" y="192.42" font-size="5.1" text-anchor="end" font-weight="bold" stroke="#000" stroke-width="0.18">13</text>
<line x1="357.8" y1="196.37" x2="362.4" y2="196.37" stroke="#000" stroke-width="1.2"/>
<text x="357.6" y="198.21" font-size="5.1" text-anchor="end" font-weight="bold" stroke="#000" stroke-width="0.18">12</text>
<line x1="357.8" y1="202.16" x2="362.4" y2="202.16" stroke="#000" stroke-width="1.2"/>
<text x="357.6" y="203.99" font-size="5.1" text-anchor="end" font-weight="bold" stroke="#000" stroke-width="0.18">11</text>
<line x1="357.8" y1="207.94" x2="362.4" y2="207.94" stroke="#000" stroke-width="1.2"/>
<text x="357.6" y="209.78" font-size="5.1" text-anchor="end" font-weight="bold" stroke="#000" stroke-width="0.18">10</text>
<line x1="357.8" y1="213.73" x2="362.4" y2="213.73" stroke="#000" stroke-width="1.2"/>
<text x="357.6" y="215.57" font-size="5.1" text-anchor="end" font-weight="bold" stroke="#000" stroke-width="0.18">9</text>
<line x1="357.8" y1="219.52" x2="362.4" y2="219.52" stroke="#000" stroke-width="1.2"/>
<text x="357.6" y="221.35" font-size="5.1" text-anchor="end" font-weight="bold" stroke="#000" stroke-width="0.18">8</text>
<line x1="357.8" y1="225.3" x2="362.4" y2="225.3" stroke="#000" stroke-width="1.2"/>
<text x="357.6" y="227.14" font-size="5.1" text-anchor="end" font-weight="bold" stroke="#000" stroke-width="0.18">7</text>
<line x1="357.8" y1="231.09" x2="362.4" y2="231.09" stroke="#000" stroke-width="1.2"/>
<text x="357.6" y="232.92" font-size="5.1" text-anchor="end" font-weight="bold" stroke="#000" stroke-width="0.18">6</text>
<line x1="357.8" y1="236.87" x2="362.4" y2="236.87" stroke="#000" stroke-width="1.2"/>
<text x="357.6" y="238.71" font-size="5.1" text-anchor="end" font-weight="bold" stroke="#000" stroke-width="0.18">5</text>
<line x1="357.8" y1="242.66" x2="362.4" y2="242.66" stroke="#000" stroke-width="1.2"/>
<text x="357.6" y="244.5" font-size="5.1" text-anchor="end" font-weight="bold" stroke="#000" stroke-width="0.18">4</text>
<line x1="357.8" y1="248.45" x2="362.4" y2="248.45" stroke="#000" stroke-width="1.2"/>
<text x="357.6" y="250.28" font-size="5.1" text-anchor="end" font-weight="bold" stroke="#000" stroke-width="0.18">3</text>
<line x1="357.8" y1="254.23" x2="362.4" y2="254.23" stroke="#000" stroke-width="1.2"/>
<text x="357.6" y="256.07" font-size="5.1" text-anchor="end" font-weight="bold" stroke="#000" stroke-width="0.18">2</text>
<line x1="357.8" y1="260.02" x2="362.4" y2="260.02" stroke="#000" stroke-width="1.2"/>
<text x="357.6" y="261.85" font-size="5.1" text-anchor="end" font-weight="bold" stroke="#000" stroke-width="0.18">1</text>
<line x1="357.8" y1="265.8" x2="362.4" y2="265.8" stroke="#000" stroke-width="1.2"/>
<text x="357.6" y="267.64" font-size="5.1" text-anchor="end" font-weight="bold" stroke="#000" stroke-width="0.18">0</text>
<line x1="392.4" y1="265.8" x2="392.4" y2="268.6" stroke="#000" stroke-width="1"/>
<line x1="453.6" y1="265.8" x2="453.6" y2="268.6" stroke="#000" stroke-width="1"/>
<text x="392.9" y="274.6" font-size="6.1" text-anchor="middle" font-weight="bold" stroke="#000" stroke-width="0.18">Vector</text>
<text x="453.8" y="274.5" font-size="6.1" text-anchor="middle" font-weight="bold" stroke="#000" stroke-width="0.18">myr-AKT-ER</text>
<text font-size="6.8" text-anchor="middle" font-weight="bold" transform="translate(346.9 225.6) rotate(-90)" stroke="#000" stroke-width="0.18">%of Thy1.1+ LSK CD34neg</text>
<text x="388" y="294.5" font-size="12" fill="#222"><tspan font-style="italic">P</tspan> = .002</text>
<text x="0.6" y="341.9" font-size="16" font-weight="bold">C</text>
<text x="121.6" y="324.4" font-size="11.8">Vector</text>
<text x="121.4" y="338.6" font-size="11.8">+ tamoxifen</text>
<text x="270.3" y="323.7" font-size="11.8">myr-AKT-ER</text>
<text x="271" y="337.6" font-size="11.8">+ tamoxifen</text>
<line x1="54.6" y1="350.4" x2="54.6" y2="471" stroke="#000" stroke-width="1.4"/>
<path d="M54.6 345.4L51.5 351.4L57.7 351.4Z" fill="#000"/>
<text x="13.2" y="486" font-size="11.9">Pyronin Y</text>
<text x="72.8" y="497.4" font-size="12">Hoechst</text>
<line x1="119.3" y1="494.6" x2="360.2" y2="494.6" stroke="#333" stroke-width="1.15"/>
<path d="M365.7 494.6L359.2 491.1L359.2 498.1Z" fill="#000"/>
<clipPath id="cC1"><rect x="83" y="345.1" width="125.5" height="124.3"/></clipPath><g clip-path="url(#cC1)">
<path d="M98.5 457.6 97.8 457.7 97.2 457.8 96.5 457.8 96.0 457.6 95.5 457.3 95.2 457.1 94.8 456.9 94.4 456.6 93.8 456.3 93.5 456.1 93.2 455.9 92.8 455.6 92.5 455.1 92.2 454.6 92.0 454.3 91.8 453.8 91.6 453.3 91.5 452.9 91.2 452.3 91.1 451.9 90.9 451.3 90.8 450.9 90.6 450.3 90.5 449.9 90.3 449.3 90.2 448.6 90.2 447.9 90.2 447.3 90.2 446.6 90.3 445.9 90.4 445.3 90.4 444.6 90.4 443.9 90.5 443.4 90.6 442.9 90.8 442.3 90.9 441.9 91.1 441.3 91.2 440.9 91.4 440.3 91.5 439.9 91.7 439.3 91.8 438.9 92.1 438.3 92.3 437.9 92.5 437.6 92.8 437.1 93.2 436.7 93.5 436.3 93.8 436.0 94.2 435.6 94.5 435.3 94.8 434.9 95.1 434.6 95.5 434.3 95.8 434.0 96.2 433.7 96.5 433.4 96.8 432.9 96.9 432.6 97.0 431.9 97.0 431.3 97.1 430.6 97.2 430.3 97.4 429.6 97.2 429.2 96.5 429.0 96.3 428.6 96.5 428.0 96.8 427.6 97.0 427.3 97.3 426.9 97.6 426.6 98.0 426.3 98.5 426.0 98.8 425.9 99.5 425.7 100.2 425.8 100.7 425.9 101.2 426.2 101.5 426.4 101.8 426.6 102.5 426.9 102.8 427.1 103.3 427.3 103.8 427.6 104.0 427.9 104.1 428.6 104.2 429.2 104.2 429.6 104.5 430.1 104.8 430.5 105.2 430.9 105.5 431.2 105.8 431.6 105.9 431.9 106.0 432.6 106.0 433.3 105.9 433.9 105.8 434.3 105.6 434.9 105.5 435.6 105.7 436.3 105.8 436.9 105.9 437.3 106.0 437.9 106.1 438.6 106.2 438.9 106.2 439.6 106.2 440.3 106.2 440.9 106.3 441.6 106.5 442.3 106.6 442.6 106.7 443.3 106.8 443.9 106.9 444.3 107.0 444.9 106.9 445.6 106.8 446.0 106.7 446.6 106.6 447.3 106.6 447.9 106.6 448.6 106.6 449.3 106.5 449.9 106.4 450.3 106.2 450.8 105.9 451.3 105.7 451.6 105.4 451.9 105.2 452.3 104.8 452.8 104.6 453.3 104.4 453.6 104.2 454.1 103.8 454.6 103.6 454.9 103.3 455.3 102.9 455.6 102.5 455.8 102.2 456.0 101.7 456.3 101.2 456.6 100.8 456.8 100.5 457.0 99.9 457.3 99.5 457.4 98.8 457.6 98.5 457.6 98.5 457.6Z" fill="#000" fill-opacity="0.35" fill-rule="evenodd" stroke="none"/>
<path d="M98.2 455.3 97.5 455.4 96.9 455.3 96.5 455.1 96.2 454.8 95.8 454.5 95.5 454.1 95.2 453.8 94.8 453.6 94.5 453.2 94.2 452.8 93.9 452.3 93.7 451.9 93.5 451.3 93.4 450.9 93.2 450.3 93.1 449.9 93.0 449.3 92.9 448.6 92.8 448.3 92.5 447.6 92.4 447.3 92.3 446.6 92.2 445.9 92.2 445.3 92.3 444.6 92.3 443.9 92.3 443.3 92.5 442.6 92.5 442.3 92.7 441.6 92.8 441.2 93.1 440.6 93.2 440.3 93.5 439.8 93.8 439.3 94.1 438.9 94.4 438.6 94.7 438.3 95.1 437.9 95.5 437.6 95.8 437.4 96.2 437.1 96.5 436.9 97.2 436.6 97.5 436.6 98.0 436.6 98.5 436.8 98.8 437.0 99.4 437.3 99.8 437.5 100.2 437.6 100.8 437.9 101.2 438.0 101.8 438.3 102.2 438.4 102.5 438.6 103.0 438.9 103.3 439.3 103.5 439.9 103.5 440.0 103.4 440.6 103.2 440.9 102.8 441.4 102.6 441.9 102.7 442.6 102.9 442.9 103.2 443.4 103.5 443.9 103.6 444.3 103.6 444.9 103.7 445.6 103.8 446.3 103.9 446.6 104.1 447.3 104.2 447.6 104.2 448.3 104.2 448.7 104.0 449.3 103.8 449.6 103.5 450.1 103.2 450.5 102.8 450.9 102.5 451.3 102.3 451.6 102.0 451.9 101.8 452.4 101.6 452.9 101.5 453.3 101.2 453.7 100.8 454.0 100.3 454.3 99.8 454.5 99.5 454.7 99.0 454.9 98.5 455.1 98.2 455.3 98.2 455.3Z" fill="#000" fill-opacity="0.45" fill-rule="evenodd" stroke="none"/>
<path d="M99.8 466.6l-.7 .2 -.7 .1 -.7 0 -.7 -.0 -.7 -.0 -.7 -.0 -.7 -.1 -.7 -.1 -.3 -.1 -.7 -.2 -.3 -.1 -.6 -.3 -.4 -.3 -.3 -.3 -.3 -.3 -.3 -.2 -.4 -.3 -.5 -.3 -.4 -.3 -.3 -.3 -.3 -.3 -.3 -.3 -.3 -.4 -.3 -.4 -.3 -.4 -.3 -.3 -.2 -.3 -.2 -.3 -.3 -.5 -.2 -.5 -.1 -.3 -.2 -.7 -.1 -.3 -.3 -.7 -.2 -.3 -.2 -.4 -.2 -.6 -.1 -.3 -.3 -.7 -.2 -.3 -.2 -.4 -.2 -.6 -.1 -.7 0 -.3 -.1 -.7 -.2 -.7 -.1 -.3 -.3 -.5 -.3 -.4 0 -.5 0 -.7 0 -.7 0 -.7 0 -.7 .0 -.7 .0 -.7 .0 -.7 .0 -.7 .0 -.7 .0 -.7 .0 -.7 .0 -.7 .0 -.3 .0 -.7 0 -.7 0 -.7 .0 -.7 .1 -.7 .2 -.6 .1 -.4 .2 -.7 .1 -.5 .1 -.5 .1 -.7 .1 -.5 .1 -.5 .2 -.7 .1 -.3 .1 -.7 .1 -.7 .1 -.3 .2 -.7 .1 -.3 .3 -.7 .1 -.3 .2 -.7 .1 -.3 .1 -.7 .1 -.7 .1 -.7 .1 -.3 .2 -.7 .1 -.3 .3 -.7 .1 -.3 .2 -.7 .1 -.3 .1 -.7 .1 -.6 .1 -.4 .1 -.7 .2 -.6 .2 -.4 .2 -.3 .3 -.4 .3 -.5 .2 -.4 .2 -.4 .2 -.6 .2 -.3 .3 -.5 .3 -.5 .1 -.3 .1 -.7 .1 -.7 .1 -.3 .3 -.7 .2 -.3 .2 -.3 .2 -.3 .3 -.4 .3 -.5 .3 -.4 .3 -.4 .2 -.3 .2 -.3 .2 -.4 .3 -.5 .3 -.4 .2 -.3 .2 -.3 .3 -.5 .3 -.5 .1 -.3 .2 -.7 .1 -.4 .2 -.6 .2 -.5 .1 -.5 .2 -.7 .1 -.3 .2 -.7 .1 -.3 .2 -.7 .1 -.3 .2 -.7 .1 -.4 .3 -.6 .3 -.3 .4 -.1 .5 .1 .5 .2 .3 .2 .3 .3 .3 .5 .1 .4 .1 .7 .1 .7 .1 .3 .3 .7 .2 .3 .2 .3 .3 .5 .3 .5 .1 .3 .3 .6 .2 .4 .2 .3 .3 .5 .3 .3 .4 .2 .6 .3 .3 .1 .5 .3 .4 .3 .3 .3 .3 .3 .3 .3 .3 .3 .3 .3 .3 .3 .3 .3 .3 .4 .3 .5 .3 .5 .3 .4 .3 .3 .3 .2 .3 .2 .3 .2 .3 .3 .3 .4 .3 .5 .2 .3 .2 .3 .3 .7 .1 .3 .1 .7 .0 .7 .0 .7 .1 .7 .1 .3 .3 .4 .3 .4 .3 .3 .3 .3 .3 .4 .3 .5 .1 .3 .1 .7 .1 .7 .1 .3 .3 .6 .2 .4 .1 .4 .2 .6 .1 .4 .2 .6 .1 .7 .1 .7 .0 .3 .0 .7 .0 .7 .1 .7 .1 .7 .1 .7 .0 .7 0 .7 0 .7 .0 .7 .1 .7 .0 .3 .1 .7 .0 .7 .0 .7 .0 .7 .0 .7 .0 .7 .1 .7 .1 .7 .0 .3 .1 .7 0 .7 -.1 .4 -.1 .6 -.2 .7 -.1 .3 -.1 .7 -.1 .7 -.1 .7 -.1 .5 -.1 .5 -.1 .7 -.1 .7 -.1 .6 -.1 .4 -.2 .7 -.1 .3 -.3 .7 -.1 .3 -.3 .6 -.2 .4 -.2 .3 -.3 .4 -.3 .5 -.2 .4 -.1 .7 0 .5 -.1 .5 -.2 .7 -.1 .4 -.2 .6 -.1 .4 -.2 .6 -.1 .3 -.3 .5 -.3 .5 -.3 .3 -.3 .3 -.3 .3 -.3 .3 -.3 .3 -.4 .3 -.4 .3 -.3 .2 -.3 .2 -.3 .3 -.3 .3 -.3 .3 -.4 .3 -.4 .3 -.5 .3 -.4 .3 -.3 .2 -.4 .2 -.6 .2 -.4 .1 -.6 .2 -.7 .2 -.3 .1 -.7 .2 -.4 .1 -.6 .1 -.7 .1 -.3 .1 .0 0M97.8 465.3l-.7 .1 -.7 -.0 -.7 -.1 -.3 -.0 -.7 -.1 -.6 -.2 -.4 -.2 -.3 -.2 -.5 -.3 -.5 -.3 -.3 -.2 -.3 -.2 -.5 -.3 -.5 -.3 -.3 -.3 -.3 -.3 -.3 -.4 -.3 -.4 -.3 -.3 -.3 -.3 -.3 -.3 -.3 -.4 -.3 -.4 -.2 -.3 -.2 -.6 -.1 -.4 -.2 -.5 -.2 -.5 -.2 -.3 -.3 -.7 -.1 -.3 -.2 -.5 -.2 -.5 -.2 -.3 -.3 -.6 -.2 -.4 -.2 -.7 -.1 -.3 -.1 -.7 -.1 -.7 -.1 -.3 -.3 -.6 -.2 -.4 -.2 -.6 -.1 -.4 -.1 -.7 0 -.7 .0 -.7 .1 -.7 .1 -.7 .0 -.3 .1 -.7 .1 -.7 .1 -.7 .0 -.7 .0 -.3 .0 -.7 .0 -.7 .0 -.7 .0 -.7 .0 -.7 .1 -.7 .1 -.3 .2 -.7 .1 -.6 .1 -.4 .1 -.7 .1 -.7 .1 -.3 .2 -.7 .1 -.3 .2 -.7 .1 -.3 .1 -.7 .1 -.7 .1 -.3 .2 -.7 .1 -.3 .2 -.7 .1 -.3 .2 -.7 .1 -.7 0 -.7 .0 -.5 .1 -.5 .2 -.7 .2 -.3 .2 -.4 .2 -.6 .1 -.3 .2 -.7 .1 -.3 .2 -.7 .1 -.4 .2 -.6 .2 -.3 .3 -.5 .3 -.5 .2 -.3 .2 -.7 .1 -.3 .2 -.6 .2 -.4 .3 -.3 .3 -.3 .3 -.3 .2 -.3 .2 -.4 .3 -.6 .2 -.3 .2 -.6 .1 -.4 .2 -.5 .2 -.5 .2 -.3 .3 -.3 .3 -.4 .3 -.6 .1 -.3 .2 -.7 .1 -.3 .2 -.7 .2 -.3 .3 -.5 .2 -.5 .2 -.3 .3 -.7 .1 -.3 .2 -.7 .1 -.3 .2 -.5 .2 -.5 .2 -.3 .2 -.3 .6 -.3 .0 0 .5 .3 .4 .3 .3 .3 .3 .3 .2 .3 .3 .6 .1 .4 .2 .7 .1 .3 .3 .6 .2 .4 .2 .3 .3 .3 .5 .3 .3 .2 .4 .2 .5 .3 .4 .3 .3 .3 .3 .3 .3 .3 .3 .3 .3 .3 .3 .3 .2 .3 .3 .6 .2 .4 .2 .4 .3 .5 .3 .3 .4 .2 .6 .3 .3 .2 .3 .3 .3 .5 .2 .3 .2 .3 .3 .5 .2 .5 .1 .7 .0 .3 .1 .7 .2 .7 .2 .3 .2 .3 .3 .5 .3 .5 .1 .3 .2 .7 .1 .3 .3 .6 .3 .4 .3 .3 .2 .3 .2 .3 .2 .7 .1 .7 .0 .3 .1 .7 .1 .7 .1 .7 .1 .3 .2 .7 .2 .6 .1 .4 .1 .7 .0 .7 0 .7 0 .7 .0 .7 .1 .7 .0 .3 .1 .7 .1 .7 .1 .7 .1 .7 .0 .3 .1 .7 .1 .7 .1 .7 .0 .7 0 .7 -.1 .7 -.1 .4 -.2 .6 -.1 .7 0 .4 0 .6 0 .7 -.1 .7 -.1 .7 -.1 .7 0 .3 -.1 .7 -.2 .7 -.1 .3 -.2 .7 -.1 .3 -.2 .5 -.2 .5 -.2 .3 -.3 .4 -.3 .5 -.3 .4 -.2 .3 -.2 .7 0 .3 0 .7 -.1 .7 -.2 .4 -.3 .6 -.2 .3 -.2 .3 -.3 .6 -.2 .4 -.2 .3 -.2 .4 -.3 .5 -.3 .4 -.3 .3 -.3 .3 -.3 .2 -.4 .3 -.4 .3 -.4 .3 -.3 .3 -.4 .3 -.4 .3 -.3 .2 -.3 .2 -.6 .3 -.4 .2 -.3 .2 -.7 .3 -.3 .1 -.7 .2 -.3 .1 -.7 .1 -.7 .1 -.7 0 -.3 0 -.7 .1 -.7 .2 -.3 .1 .0 0M97.8 464.3l-.7 0 -.4 -.1 -.6 -.1 -.7 -.1 -.5 -.1 -.5 -.1 -.5 -.2 -.5 -.3 -.3 -.2 -.3 -.2 -.3 -.3 -.5 -.3 -.4 -.3 -.4 -.3 -.3 -.3 -.3 -.3 -.4 -.3 -.4 -.3 -.3 -.2 -.3 -.2 -.3 -.3 -.3 -.5 -.2 -.5 -.1 -.3 -.3 -.6 -.2 -.4 -.2 -.4 -.2 -.6 -.1 -.4 -.2 -.6 -.1 -.4 -.3 -.6 -.2 -.3 -.2 -.3 -.2 -.7 -.1 -.6 -.1 -.4 -.1 -.7 -.1 -.4 -.2 -.6 -.1 -.3 -.2 -.7 -.1 -.7 0 -.3 .0 -.5 .0 -.5 .1 -.7 .1 -.7 .1 -.7 .1 -.4 .1 -.6 .1 -.7 .1 -.4 .0 -.6 .0 -.7 .0 -.7 .1 -.7 .1 -.7 .1 -.3 .2 -.7 .2 -.6 .1 -.4 .1 -.7 .1 -.7 .1 -.3 .2 -.7 .2 -.5 .2 -.5 .2 -.4 .2 -.6 .1 -.7 .1 -.7 .0 -.3 .1 -.7 .2 -.7 .1 -.3 .3 -.7 .1 -.3 .2 -.6 .1 -.4 .2 -.7 .1 -.3 .1 -.7 .1 -.7 .1 -.3 .2 -.7 .1 -.5 .2 -.5 .2 -.5 .2 -.5 .1 -.4 .3 -.6 .2 -.3 .2 -.3 .3 -.6 .2 -.4 .2 -.3 .3 -.6 .3 -.4 .4 -.3 .3 -.1 .7 -.2 .3 -.2 .3 -.6 .0 -.3 .1 -.7 .2 -.4 .3 -.4 .3 -.4 .3 -.4 .1 -.3 .0 -.7 .0 -.7 .1 -.7 .1 -.4 .2 -.6 .2 -.6 .1 -.4 .2 -.5 .3 -.5 .2 -.3 .2 -.3 .3 -.4 .3 -.3 .7 0 .3 .2 .3 .4 .3 .4 .2 .3 .3 .3 .3 .3 .4 .3 .4 .3 .4 .3 .3 .2 .3 .2 .3 .3 .3 .3 .4 .3 .5 .3 .4 .2 .3 .2 .3 .4 .3 .6 .1 .3 .2 .7 .2 .3 .3 .4 .3 .3 .5 .3 .5 .2 .3 .2 .3 .3 .3 .4 .3 .5 .2 .4 .1 .3 .3 .7 .2 .3 .2 .4 .3 .6 .2 .3 .2 .3 .3 .5 .2 .5 .1 .3 .2 .7 .2 .3 .2 .4 .3 .5 .2 .4 .1 .7 0 .7 .0 .7 .1 .4 .2 .6 .2 .7 .1 .3 .2 .5 .3 .5 .2 .3 .2 .6 .1 .4 .0 .7 0 .7 0 .7 .1 .7 .1 .7 .1 .4 .1 .6 .1 .7 .1 .7 .0 .3 .1 .7 .1 .7 .1 .7 .1 .4 .0 .6 0 .7 -.1 .3 -.2 .7 -.1 .3 -.2 .7 -.1 .3 -.1 .7 0 .7 0 .7 0 .7 -.1 .7 -.1 .7 -.1 .3 -.2 .7 -.2 .3 -.2 .4 -.3 .6 -.1 .3 -.2 .7 -.1 .3 -.2 .5 -.3 .5 -.2 .3 -.2 .3 -.3 .7 -.1 .3 -.1 .7 -.1 .7 -.1 .3 -.3 .5 -.3 .5 -.2 .3 -.2 .3 -.2 .4 -.3 .6 -.2 .4 -.2 .3 -.3 .3 -.3 .3 -.4 .3 -.4 .3 -.4 .3 -.4 .3 -.4 .3 -.4 .3 -.4 .3 -.3 .2 -.6 .2 -.4 .2 -.3 .2 -.4 .3 -.6 .3 -.3 .1 -.6 .2 -.4 .1 -.7 .1 -.7 .1 -.4 0 -.6 .1 -.7 .2 -.3 .1 .0 0M98.8 463.3l-.7 .2 -.7 .1 -.7 -.1 -.7 -.2 -.3 -.1 -.7 -.2 -.4 -.1 -.6 -.3 -.3 -.2 -.3 -.2 -.4 -.3 -.4 -.3 -.4 -.3 -.3 -.3 -.3 -.3 -.3 -.3 -.4 -.3 -.5 -.3 -.5 -.2 -.3 -.2 -.3 -.2 -.3 -.4 -.3 -.5 -.3 -.5 -.2 -.3 -.2 -.5 -.2 -.5 -.2 -.7 -.1 -.3 -.2 -.7 -.1 -.3 -.3 -.5 -.3 -.5 -.1 -.3 -.2 -.7 -.1 -.6 -.1 -.4 -.2 -.7 -.1 -.3 -.2 -.7 -.1 -.3 -.1 -.7 0 -.7 .0 -.7 .1 -.7 .1 -.7 .1 -.4 .1 -.6 .2 -.7 .1 -.3 .1 -.7 .1 -.7 .0 -.7 .1 -.7 .0 -.3 .1 -.7 .2 -.7 .1 -.3 .2 -.7 .1 -.3 .1 -.7 .1 -.7 .1 -.3 .2 -.7 .1 -.4 .2 -.6 .1 -.4 .2 -.6 .1 -.7 .0 -.3 .1 -.7 .1 -.7 .1 -.5 .1 -.5 .2 -.7 .1 -.3 .2 -.5 .2 -.5 .1 -.3 .2 -.7 .1 -.3 .1 -.7 .1 -.7 .1 -.4 .1 -.6 .2 -.7 .1 -.3 .3 -.7 .2 -.3 .2 -.3 .3 -.5 .3 -.5 .2 -.3 .2 -.4 .3 -.4 .3 -.3 .6 -.3 .4 -.1 .4 -.2 .4 -.3 .3 -.3 .2 -.3 .3 -.7 .1 -.3 .2 -.5 .3 -.5 .2 -.3 .2 -.4 .2 -.6 .0 -.7 -.1 -.7 .0 -.7 .2 -.7 .2 -.3 .2 -.4 .3 -.4 .7 0 .3 .4 .1 .3 .2 .6 .3 .4 .4 .3 .3 .1 .7 .1 .5 .2 .4 .3 .3 .3 .3 .3 .3 .3 .4 .3 .4 .3 .4 .3 .3 .2 .3 .2 .3 .3 .5 .3 .5 .3 .3 .2 .3 .2 .3 .3 .3 .4 .3 .5 .2 .3 .2 .4 .3 .5 .3 .4 .2 .3 .2 .3 .2 .3 .3 .4 .3 .6 .1 .3 .2 .6 .2 .4 .2 .4 .3 .6 .1 .3 .1 .7 .0 .7 .1 .7 .1 .3 .2 .7 .1 .5 .2 .5 .2 .5 .3 .5 .2 .3 .2 .7 .0 .7 0 .7 .0 .7 .1 .5 .1 .5 .2 .7 .1 .3 .2 .7 .1 .4 .1 .6 .1 .7 .1 .7 .1 .5 .1 .5 .1 .7 .0 .7 -.1 .7 -.1 .3 -.3 .6 -.2 .4 -.2 .4 -.1 .6 .0 .7 .0 .7 0 .7 -.1 .7 -.1 .7 -.1 .3 -.3 .6 -.2 .4 -.2 .3 -.3 .7 -.1 .3 -.2 .7 -.1 .3 -.3 .7 -.2 .3 -.2 .3 -.3 .5 -.2 .5 -.2 .6 -.1 .4 -.2 .7 -.1 .3 -.2 .5 -.3 .5 -.2 .3 -.2 .4 -.3 .6 -.2 .4 -.2 .3 -.3 .3 -.3 .3 -.3 .3 -.3 .3 -.4 .3 -.4 .3 -.4 .3 -.5 .3 -.3 .2 -.4 .2 -.6 .3 -.3 .2 -.3 .2 -.5 .3 -.5 .3 -.3 .2 -.7 .2 -.3 .1 -.7 .1 -.7 .1 -.3 .1 .0 0M98.8 462.6l-.7 .2 -.7 .1 -.7 -.1 -.4 -.1 -.6 -.2 -.3 -.1 -.6 -.3 -.4 -.2 -.3 -.2 -.4 -.3 -.4 -.3 -.3 -.3 -.3 -.3 -.3 -.3 -.3 -.3 -.4 -.3 -.5 -.3 -.3 -.2 -.3 -.2 -.5 -.3 -.3 -.3 -.3 -.3 -.2 -.3 -.3 -.6 -.1 -.4 -.2 -.7 -.1 -.3 -.1 -.7 -.2 -.5 -.2 -.5 -.2 -.3 -.3 -.6 -.1 -.4 -.2 -.7 -.1 -.3 -.2 -.7 -.1 -.5 -.2 -.5 -.1 -.7 0 -.6 0 -.4 .0 -.3 .0 -.7 .0 -.7 .1 -.7 .2 -.7 .1 -.3 .1 -.7 .1 -.7 .0 -.7 .0 -.7 .1 -.6 .1 -.4 .2 -.7 .1 -.4 .2 -.6 .2 -.5 .2 -.5 .2 -.5 .2 -.5 .1 -.4 .2 -.6 .2 -.5 .2 -.5 .2 -.3 .3 -.6 .2 -.4 .1 -.4 .2 -.6 .2 -.5 .1 -.5 .1 -.7 .0 -.7 .1 -.7 .1 -.3 .2 -.7 .1 -.3 .3 -.7 .1 -.3 .2 -.5 .2 -.5 .2 -.5 .1 -.5 .2 -.6 .2 -.4 .2 -.4 .3 -.6 .2 -.3 .2 -.4 .3 -.6 .2 -.3 .3 -.3 .3 -.3 .4 -.3 .4 -.3 .4 -.3 .3 -.3 .3 -.3 .2 -.3 .2 -.3 .3 -.4 .3 -.4 .3 -.4 .3 -.3 .3 -.2 .6 -.3 .4 -.2 .7 -.2 .2 0 .4 .1 .6 .3 .4 .2 .4 .1 .6 .1 .7 .2 .3 .2 .3 .2 .3 .3 .3 .3 .5 .3 .5 .3 .3 .2 .3 .3 .3 .3 .3 .4 .3 .4 .3 .4 .3 .4 .2 .3 .2 .3 .2 .3 .3 .5 .3 .5 .1 .3 .2 .6 .2 .4 .2 .4 .2 .6 .1 .6 .0 .4 .0 .7 .1 .7 .1 .5 .2 .5 .2 .5 .2 .5 .1 .5 .1 .5 .1 .7 .0 .7 .0 .7 .1 .7 .0 .3 .1 .7 .1 .7 .1 .3 .2 .7 .1 .3 .2 .7 .1 .4 .1 .6 .1 .7 .1 .7 .1 .7 -.1 .7 -.2 .7 -.2 .3 -.2 .4 -.2 .6 -.1 .7 .0 .7 .0 .7 0 .4 -.1 .6 -.2 .7 -.2 .3 -.2 .3 -.3 .7 -.1 .3 -.2 .7 -.1 .3 -.1 .7 -.2 .7 -.1 .3 -.2 .4 -.3 .6 -.1 .3 -.3 .6 -.1 .4 -.2 .5 -.2 .5 -.1 .3 -.3 .7 -.1 .3 -.2 .6 -.2 .4 -.2 .3 -.3 .4 -.3 .4 -.3 .3 -.3 .3 -.3 .3 -.3 .3 -.3 .3 -.4 .3 -.5 .3 -.4 .2 -.3 .2 -.6 .3 -.4 .2 -.3 .2 -.4 .2 -.6 .3 -.3 .1 -.7 .2 -.3 .1 -.7 .2 -.3 .1 .0 0M98.2 462.0l-.7 .1 -.5 -.1 -.5 -.2 -.3 -.2 -.4 -.2 -.6 -.3 -.3 -.2 -.3 -.2 -.4 -.3 -.4 -.3 -.4 -.3 -.4 -.3 -.4 -.3 -.3 -.2 -.3 -.2 -.6 -.3 -.4 -.3 -.3 -.3 -.3 -.3 -.3 -.4 -.2 -.4 -.2 -.3 -.2 -.7 -.1 -.3 -.2 -.7 -.2 -.5 -.2 -.5 -.2 -.4 -.2 -.6 -.1 -.3 -.2 -.7 -.1 -.4 -.2 -.6 -.2 -.7 -.1 -.3 -.1 -.7 .0 -.7 .0 -.7 0 -.7 0 -.7 .1 -.7 .1 -.5 .1 -.5 .0 -.7 0 -.7 .0 -.7 .1 -.7 .1 -.7 .1 -.3 .2 -.7 .1 -.4 .2 -.6 .2 -.4 .3 -.6 .2 -.3 .2 -.3 .3 -.6 .1 -.4 .2 -.6 .2 -.4 .2 -.3 .3 -.5 .2 -.5 .1 -.3 .2 -.7 .1 -.7 .1 -.3 .1 -.7 .1 -.7 .1 -.7 .1 -.4 .1 -.6 .2 -.6 .1 -.4 .2 -.5 .2 -.5 .1 -.3 .3 -.7 .1 -.3 .2 -.5 .2 -.5 .2 -.3 .3 -.6 .2 -.4 .2 -.3 .3 -.5 .3 -.4 .3 -.3 .3 -.3 .3 -.2 .4 -.3 .3 -.3 .3 -.6 .2 -.4 .3 -.3 .4 -.3 .4 -.2 .7 -.1 .7 -.0 .3 -.0 .6 0 .4 .1 .7 .1 .7 .1 .3 .1 .5 .2 .5 .3 .3 .2 .4 .2 .6 .3 .3 .1 .6 .3 .4 .2 .3 .2 .3 .3 .3 .4 .3 .5 .2 .3 .2 .3 .3 .5 .3 .5 .2 .3 .2 .5 .2 .5 .1 .3 .1 .7 .0 .7 .1 .7 .1 .4 .2 .6 .1 .3 .2 .7 .1 .3 .1 .7 .1 .7 .0 .7 0 .7 0 .7 .0 .7 .1 .5 .1 .5 .2 .7 .1 .3 .2 .7 .1 .3 .2 .7 .1 .3 .1 .7 .0 .7 .0 .7 0 .7 -.1 .7 -.1 .3 -.2 .7 -.1 .3 -.1 .7 0 .7 0 .7 -.1 .7 -.1 .3 -.3 .7 -.2 .3 -.2 .5 -.2 .5 -.2 .5 -.1 .5 -.1 .7 -.1 .7 -.1 .3 -.2 .7 -.1 .3 -.3 .7 -.2 .3 -.2 .4 -.3 .6 -.2 .3 -.2 .4 -.3 .6 -.1 .3 -.2 .7 -.1 .3 -.2 .6 -.3 .4 -.3 .3 -.3 .3 -.4 .3 -.4 .3 -.4 .3 -.3 .3 -.3 .2 -.4 .2 -.6 .3 -.4 .2 -.3 .2 -.6 .3 -.4 .2 -.3 .2 -.7 .3 -.3 .1 -.7 .2 -.3 .1 -.7 .2 -.3 .1 .0 0M99.8 460.6l-.7 .1 -.7 .1 -.7 0 -.7 -.1 -.5 -.1 -.5 -.2 -.5 -.2 -.5 -.2 -.3 -.2 -.4 -.3 -.4 -.3 -.4 -.3 -.4 -.3 -.3 -.2 -.3 -.2 -.6 -.3 -.4 -.2 -.3 -.2 -.3 -.3 -.3 -.5 -.2 -.3 -.2 -.5 -.2 -.5 -.2 -.4 -.2 -.6 -.1 -.3 -.2 -.7 -.1 -.3 -.2 -.7 -.1 -.3 -.2 -.7 -.1 -.3 -.2 -.7 -.1 -.3 -.1 -.7 .0 -.7 .1 -.7 .0 -.3 0 -.7 .0 -.7 .1 -.7 .0 -.7 0 -.7 -.1 -.6 0 -.4 0 -.7 .0 -.4 .1 -.6 .2 -.6 .1 -.4 .2 -.7 .1 -.3 .3 -.6 .2 -.4 .2 -.3 .2 -.3 .3 -.5 .2 -.5 .2 -.5 .2 -.5 .2 -.3 .3 -.4 .3 -.6 .1 -.3 .2 -.7 .1 -.3 .1 -.7 .1 -.7 .1 -.7 .1 -.3 .1 -.7 .1 -.7 .1 -.3 .2 -.7 .1 -.4 .2 -.6 .2 -.3 .3 -.5 .3 -.5 .2 -.3 .2 -.5 .2 -.5 .1 -.3 .3 -.7 .2 -.3 .3 -.3 .4 -.3 .5 -.3 .3 -.2 .6 -.2 .4 -.2 .3 -.2 .3 -.3 .3 -.6 .3 -.4 .3 -.2 .5 -.2 .5 -.1 .4 .1 .6 .2 .3 .2 .7 .2 .3 .1 .7 .1 .7 .2 .3 .1 .6 .2 .4 .2 .3 .2 .4 .3 .3 .3 .3 .6 .1 .4 .2 .4 .3 .5 .3 .4 .3 .4 .2 .3 .2 .5 .1 .5 .1 .7 .1 .7 .1 .3 .3 .6 .2 .4 .2 .3 .2 .7 .1 .5 .0 .5 .0 .7 0 .7 0 .3 -.1 .7 0 .7 .1 .7 .1 .3 .2 .7 .1 .3 .1 .7 .0 .7 .1 .7 .1 .3 .2 .7 .1 .7 .0 .7 0 .7 -.1 .7 -.1 .7 -.1 .7 0 .5 0 .5 0 .7 -.1 .7 -.2 .7 -.1 .3 -.3 .6 -.1 .4 -.2 .7 -.1 .3 -.1 .7 -.1 .7 -.1 .7 -.1 .3 -.2 .6 -.2 .4 -.2 .3 -.3 .6 -.3 .4 -.2 .3 -.2 .3 -.3 .5 -.2 .5 -.1 .3 -.2 .7 -.1 .3 -.3 .6 -.3 .4 -.3 .3 -.4 .3 -.3 .3 -.3 .3 -.3 .2 -.4 .2 -.6 .3 -.3 .2 -.4 .2 -.6 .3 -.3 .2 -.3 .2 -.7 .2 -.3 .1 .0 0M99.5 460.0l-.7 -.0 -.3 -.1 -.7 -.1 -.7 -.0 -.7 0 -.7 -.1 -.3 -.1 -.5 -.3 -.5 -.3 -.4 -.3 -.3 -.2 -.3 -.2 -.4 -.2 -.6 -.3 -.3 -.2 -.3 -.2 -.3 -.3 -.3 -.5 -.2 -.4 -.2 -.5 -.2 -.5 -.2 -.4 -.3 -.6 -.2 -.3 -.2 -.5 -.2 -.5 -.2 -.5 -.2 -.5 -.2 -.5 -.2 -.5 -.1 -.5 -.1 -.5 -.1 -.7 .0 -.7 .0 -.7 .0 -.7 .1 -.6 .0 -.4 .0 -.7 0 -.7 -.1 -.3 -.1 -.7 0 -.7 .1 -.7 .1 -.3 .3 -.7 .1 -.3 .2 -.7 .1 -.3 .2 -.7 .2 -.3 .2 -.3 .3 -.5 .2 -.5 .1 -.3 .2 -.7 .2 -.3 .2 -.3 .3 -.5 .3 -.5 .1 -.3 .2 -.7 .1 -.3 .1 -.7 .1 -.7 .0 -.3 .1 -.7 .2 -.7 .1 -.3 .1 -.7 .1 -.7 .1 -.3 .2 -.7 .2 -.3 .3 -.5 .3 -.5 .2 -.4 .2 -.3 .2 -.7 .1 -.3 .2 -.5 .3 -.5 .3 -.3 .3 -.2 .4 -.2 .6 -.1 .7 -.0 .7 -.0 .6 -.1 .4 -.2 .3 -.3 .3 -.2 .7 -.2 .7 0 .7 -.0 .7 0 .7 .2 .3 .2 .3 .2 .3 .3 .3 .6 .1 .3 .2 .7 .2 .3 .3 .3 .3 .3 .3 .3 .3 .6 .2 .4 .2 .5 .1 .5 .2 .5 .3 .5 .3 .3 .2 .3 .2 .4 .2 .6 .0 .7 -.1 .7 0 .7 .0 .7 0 .7 .0 .7 .1 .7 .2 .5 .1 .5 .1 .7 -.1 .7 .0 .7 .2 .6 .2 .4 .2 .4 .1 .6 .0 .7 -.1 .7 -.1 .6 -.1 .4 -.1 .7 0 .7 .1 .7 .0 .7 -.1 .7 -.1 .4 -.2 .6 -.1 .3 -.2 .7 -.1 .5 0 .5 0 .7 -.1 .7 -.2 .6 -.2 .4 -.2 .4 -.3 .6 -.3 .4 -.3 .3 -.3 .3 -.3 .3 -.3 .3 -.3 .5 -.2 .5 -.1 .3 -.2 .7 -.1 .3 -.3 .5 -.3 .4 -.3 .3 -.3 .3 -.3 .2 -.7 .3 -.3 .1 -.4 .2 -.5 .3 -.4 .3 -.4 .3 -.3 .2 -.7 .2 -.3 .1 .0 0" fill="none" stroke="#111" stroke-width="0.5" stroke-linejoin="round"/>
<path d="M99.5 459.3l-.4 -.0 -.6 -.1 -.7 -.1 -.7 0 -.7 0 -.7 -.1 -.3 -.1 -.5 -.3 -.5 -.3 -.4 -.3 -.3 -.2 -.3 -.2 -.4 -.2 -.6 -.3 -.3 -.2 -.3 -.4 -.2 -.4 -.1 -.4 -.2 -.6 -.1 -.3 -.3 -.6 -.2 -.4 -.1 -.4 -.2 -.6 -.1 -.4 -.2 -.6 -.1 -.4 -.2 -.6 -.1 -.3 -.2 -.7 -.1 -.7 0 -.7 .0 -.7 .1 -.7 .1 -.7 .1 -.7 .0 -.7 -.1 -.7 -.1 -.7 .0 -.7 .2 -.6 .2 -.4 .2 -.3 .3 -.7 .1 -.3 .1 -.7 .2 -.5 .2 -.5 .2 -.3 .3 -.6 .2 -.4 .2 -.4 .3 -.6 .2 -.3 .3 -.3 .2 -.3 .3 -.6 .1 -.4 .2 -.7 .1 -.3 .2 -.7 .1 -.3 .1 -.7 .1 -.6 .1 -.4 .1 -.7 .0 -.7 .0 -.7 .1 -.3 .2 -.7 .2 -.3 .2 -.3 .3 -.4 .3 -.5 .2 -.4 .2 -.3 .3 -.5 .3 -.5 .3 -.3 .3 -.2 .6 -.2 .4 -.0 .7 -.0 .7 -.1 .7 -.2 .3 -.1 .7 -.2 .3 -.1 .7 -.0 .3 .1 .5 .3 .3 .3 .2 .3 .3 .5 .3 .4 .3 .3 .3 .3 .3 .3 .3 .3 .3 .5 .2 .4 .1 .7 .0 .3 .2 .7 .2 .3 .4 .3 .4 .3 .2 .3 .2 .7 -.1 .7 0 .7 .0 .7 .1 .7 0 .7 -.1 .7 0 .7 .1 .7 0 .7 -.2 .7 .0 .7 .2 .4 .3 .4 .3 .4 .3 .5 .1 .3 .1 .7 -.1 .6 -.1 .4 -.2 .5 -.2 .5 .0 .7 .1 .7 .1 .3 .0 .7 -.1 .7 -.1 .3 -.2 .7 -.1 .3 -.2 .7 0 .3 0 .7 0 .7 -.1 .7 -.2 .6 -.2 .4 -.2 .3 -.3 .4 -.3 .4 -.3 .4 -.3 .4 -.3 .4 -.2 .3 -.2 .3 -.3 .6 -.2 .4 -.2 .3 -.3 .5 -.3 .4 -.3 .3 -.3 .2 -.5 .2 -.5 .3 -.3 .2 -.3 .3 -.3 .3 -.3 .3 -.3 .3 -.7 .3 -.3 0 .0 0M99.8 458.3l-.7 .1 -.7 -.1 -.3 -.0 -.3 0 -.7 .1 -.7 0 -.6 -.1 -.4 -.2 -.3 -.2 -.3 -.3 -.5 -.3 -.5 -.3 -.3 -.2 -.3 -.2 -.5 -.3 -.3 -.3 -.2 -.3 -.3 -.7 -.1 -.3 -.2 -.5 -.2 -.5 -.1 -.3 -.2 -.7 -.1 -.3 -.2 -.7 -.1 -.3 -.2 -.7 -.1 -.3 -.2 -.7 -.1 -.3 -.1 -.7 0 -.7 .0 -.7 .1 -.7 .0 -.3 .1 -.7 .0 -.7 0 -.7 0 -.7 .1 -.7 .1 -.3 .3 -.7 .1 -.3 .2 -.7 .1 -.3 .2 -.7 .1 -.4 .2 -.6 .1 -.3 .3 -.7 .2 -.3 .2 -.4 .3 -.5 .3 -.4 .3 -.4 .2 -.3 .2 -.3 .2 -.7 .1 -.3 .2 -.7 .2 -.3 .2 -.3 .3 -.4 .4 -.3 .4 -.3 .1 -.7 -.3 -.6 -.2 -.4 -.2 -.3 -.2 -.7 .0 -.7 .2 -.6 .3 -.4 .3 -.3 .3 -.3 .3 -.3 .2 -.3 .3 -.4 .3 -.4 .3 -.3 .5 -.3 .5 -.1 .7 -.1 .7 -.0 .7 -.1 .3 -.0 .7 -.0 .3 .1 .3 .3 .3 .4 .3 .4 .3 .2 .4 .2 .6 .3 .3 .2 .3 .4 .2 .5 .0 .7 0 .7 .1 .7 .2 .3 .4 .3 .4 .2 .3 .3 .2 .5 .1 .7 .0 .7 .0 .3 .0 .7 0 .3 -.2 .7 -.1 .3 -.1 .7 .1 .7 .1 .5 .1 .5 .0 .7 .1 .7 .1 .5 .3 .5 .2 .3 .2 .3 .1 .7 -.2 .6 -.2 .4 -.1 .7 .1 .7 .2 .7 .1 .3 .1 .7 0 .7 -.2 .6 -.1 .4 -.2 .7 -.1 .3 0 .7 .0 .7 .0 .7 -.1 .7 -.2 .5 -.3 .5 -.2 .3 -.3 .3 -.3 .3 -.3 .4 -.3 .5 -.3 .5 -.2 .3 -.2 .4 -.3 .6 -.3 .4 -.3 .3 -.4 .3 -.4 .3 -.3 .2 -.3 .2 -.6 .3 -.4 .3 -.3 .3 -.3 .3 -.3 .3 -.3 .2 .0 0M97.2 457.6l-.6 -.0 -.4 -.1 -.4 -.2 -.5 -.3 -.4 -.3 -.3 -.2 -.3 -.2 -.6 -.3 -.4 -.3 -.3 -.3 -.3 -.4 -.2 -.3 -.2 -.4 -.3 -.6 -.1 -.3 -.2 -.6 -.1 -.4 -.2 -.6 -.2 -.4 -.2 -.5 -.1 -.5 -.2 -.7 -.1 -.3 -.1 -.7 -.1 -.7 .0 -.7 .1 -.7 .1 -.7 .0 -.4 .1 -.6 .0 -.7 .1 -.7 .1 -.7 .1 -.3 .2 -.7 .1 -.4 .2 -.6 .1 -.4 .2 -.6 .2 -.5 .2 -.5 .2 -.4 .3 -.6 .2 -.3 .2 -.3 .3 -.3 .3 -.3 .3 -.3 .4 -.3 .4 -.3 .5 -.3 .4 -.2 .3 -.2 .3 -.3 .3 -.3 .3 -.4 .3 -.5 .2 -.5 .0 -.7 -.1 -.7 .1 -.7 .2 -.3 .3 -.3 .3 -.3 .3 -.7 -.3 -.6 -.3 -.3 -.3 -.2 -.2 -.5 .2 -.4 .3 -.4 .3 -.3 .5 -.3 .5 -.2 .7 -.0 .7 .2 .3 .2 .3 .2 .4 .3 .6 .3 .3 .1 .7 .2 .3 .2 .3 .5 .0 .4 0 .7 .1 .7 .2 .3 .3 .3 .3 .3 .4 .3 .3 .4 .2 .6 .0 .7 -.1 .7 -.2 .5 -.2 .5 -.1 .7 .1 .7 .2 .7 .1 .3 .2 .7 .1 .3 .1 .7 .0 .7 -.1 .7 -.1 .7 .0 .7 .2 .7 .1 .3 .2 .7 .1 .4 .1 .6 .1 .7 0 .7 -.1 .7 -.1 .4 -.1 .6 0 .7 .0 .7 .0 .7 0 .7 -.2 .7 -.2 .3 -.3 .4 -.3 .5 -.3 .4 -.2 .3 -.2 .3 -.3 .5 -.2 .5 -.2 .3 -.3 .5 -.3 .5 -.3 .3 -.3 .3 -.3 .2 -.5 .3 -.5 .2 -.3 .2 -.5 .3 -.5 .3 -.3 .2 -.7 .2 -.3 .1 -.7 .1 -.7 .1 -.3 0 .0 0M97.5 457.0l-.7 0 -.3 -.1 -.5 -.3 -.4 -.3 -.4 -.3 -.3 -.2 -.3 -.2 -.7 -.3 -.3 -.2 -.3 -.3 -.3 -.5 -.2 -.4 -.2 -.4 -.2 -.6 -.1 -.3 -.3 -.7 -.1 -.3 -.2 -.6 -.1 -.4 -.1 -.7 0 -.7 -.1 -.7 -.1 -.3 -.1 -.7 0 -.7 .0 -.7 .1 -.7 .1 -.7 .1 -.7 .0 -.3 .1 -.7 .1 -.7 .1 -.5 .1 -.5 .2 -.7 .1 -.3 .2 -.7 .1 -.3 .2 -.5 .3 -.5 .2 -.3 .2 -.3 .3 -.3 .3 -.4 .3 -.3 .5 -.3 .5 -.3 .3 -.2 .3 -.2 .5 -.3 .5 -.3 .4 -.3 .3 -.2 .3 -.2 .6 -.3 .4 -.1 .7 -.1 .7 .1 .6 .1 .4 .1 .6 -.1 .1 -.3 -.1 -.4 -.3 -.6 -.3 -.3 -.4 -.2 -.7 -.1 -.7 0 -.3 -.1 -.3 -.3 -.1 -.7 .1 -.3 .3 -.5 .3 -.5 .2 -.3 .2 -.3 .3 -.4 .7 -.1 .6 .2 .4 .3 .3 .4 .2 .3 .2 .3 .3 .3 .4 .3 .4 .3 .3 .3 .3 .3 .2 .5 .1 .5 -.1 .6 -.1 .4 -.2 .6 -.1 .4 0 .7 .2 .4 .2 .6 .1 .3 .3 .7 .2 .3 .2 .4 .1 .6 .0 .7 -.1 .7 -.1 .4 0 .6 .1 .3 .3 .7 .2 .3 .2 .6 .1 .4 .1 .7 0 .7 -.1 .5 -.1 .5 0 .7 .0 .7 .0 .7 .0 .7 0 .7 -.2 .7 -.1 .3 -.3 .6 -.3 .4 -.2 .3 -.2 .3 -.3 .5 -.2 .5 -.1 .3 -.3 .6 -.2 .4 -.3 .3 -.4 .3 -.4 .2 -.3 .2 -.7 .3 -.3 .1 -.5 .2 -.5 .2 -.4 .1 -.6 .3 -.3 .1 -.7 .2 -.3 .1 .0 0M97.5 456.3l-.7 -.0 -.3 -.1 -.3 -.2 -.3 -.3 -.4 -.3 -.5 -.3 -.4 -.2 -.3 -.2 -.4 -.3 -.3 -.3 -.3 -.7 -.1 -.3 -.2 -.7 -.1 -.3 -.3 -.7 -.1 -.3 -.1 -.7 .1 -.7 .0 -.7 -.2 -.7 -.2 -.3 -.2 -.5 -.2 -.5 -.1 -.7 .0 -.7 .1 -.7 .0 -.7 .0 -.7 .1 -.7 .1 -.3 .1 -.7 .1 -.5 .2 -.5 .2 -.5 .2 -.5 .2 -.3 .3 -.5 .3 -.4 .3 -.4 .3 -.3 .3 -.3 .4 -.3 .4 -.2 .3 -.2 .4 -.2 .5 -.3 .5 -.3 .3 -.2 .6 -.2 .4 -.0 .3 .1 .3 .3 .3 .3 .3 .3 .6 .3 .4 .1 .7 .1 .7 .1 .3 .1 .7 .2 .3 .2 .4 .3 .3 .3 .3 .3 .3 .5 .1 .5 0 .7 -.1 .5 -.1 .5 0 .7 .2 .3 .3 .5 .2 .5 .1 .4 .0 .6 0 .3 -.1 .7 0 .7 .0 .7 .1 .7 .1 .7 .0 .3 0 .3 -.1 .7 -.2 .6 -.2 .4 -.2 .3 -.3 .4 -.3 .5 -.3 .4 -.2 .3 -.1 .3 -.2 .7 -.1 .3 -.3 .5 -.3 .3 -.3 .2 -.7 .3 -.3 .1 -.7 .3 -.3 .1 -.5 .2 -.5 .2 -.3 .2 -.7 .3 -.3 .1 .0 0M97.5 455.7l-.5 -.1 -.5 -.3 -.3 -.3 -.3 -.3 -.3 -.3 -.3 -.3 -.3 -.3 -.3 -.3 -.3 -.4 -.3 -.5 -.1 -.3 -.2 -.7 -.1 -.3 -.2 -.7 -.1 -.4 -.1 -.6 -.1 -.7 -.1 -.4 -.2 -.6 -.1 -.3 -.2 -.7 -.1 -.4 -.1 -.6 .0 -.7 .0 -.3 .0 -.7 .0 -.7 .1 -.7 .1 -.7 .1 -.4 .2 -.6 .1 -.4 .2 -.6 .2 -.3 .2 -.4 .3 -.4 .3 -.4 .3 -.4 .3 -.4 .3 -.3 .3 -.2 .3 -.2 .4 -.3 .5 -.3 .4 -.2 .7 -.1 .6 .3 .4 .3 .3 .2 .3 .2 .7 .3 .3 .1 .7 .2 .3 .1 .7 .2 .3 .1 .5 .3 .4 .3 .3 .3 .2 .3 .0 .7 -.1 .3 -.2 .4 -.3 .3 -.3 .4 -.2 .6 .2 .4 .3 .4 .4 .3 .4 .3 .2 .7 0 .7 0 .7 .1 .7 .1 .3 .2 .7 .1 .7 0 .7 -.2 .7 -.2 .3 -.2 .4 -.3 .5 -.3 .4 -.3 .4 -.3 .4 -.2 .3 -.2 .3 -.1 .7 -.1 .4 -.3 .4 -.3 .2 -.4 .2 -.6 .3 -.3 .2 -.4 .2 -.6 .2 -.3 .2 -.7 .3 -.3 .1 .0 0M98.2 454.7l-.7 .1 -.6 -.2 -.4 -.3 -.3 -.3 -.3 -.3 -.3 -.3 -.4 -.3 -.4 -.3 -.3 -.3 -.2 -.3 -.2 -.3 -.2 -.7 -.1 -.3 -.2 -.7 -.1 -.6 -.1 -.4 -.2 -.7 -.1 -.3 -.2 -.6 -.1 -.4 -.1 -.7 .0 -.7 .1 -.7 0 -.7 .0 -.7 .1 -.7 .1 -.3 .2 -.7 .1 -.4 .2 -.6 .2 -.3 .3 -.5 .3 -.5 .3 -.4 .3 -.3 .3 -.3 .3 -.3 .4 -.3 .4 -.3 .3 -.2 .3 -.2 .7 -.2 .7 .1 .3 .2 .6 .3 .4 .2 .3 .2 .6 .3 .4 .2 .3 .2 .4 .2 .5 .3 .3 .3 .0 .7 -.2 .3 -.3 .5 -.2 .5 0 .7 .2 .6 .2 .4 .1 .3 .2 .7 0 .7 0 .7 .1 .7 .1 .3 .3 .4 .3 .4 .3 .5 .1 .3 0 .3 -.3 .6 -.3 .4 -.3 .3 -.3 .3 -.3 .3 -.3 .3 -.4 .3 -.4 .3 -.3 .3 -.2 .7 -.1 .3 -.3 .6 -.3 .3 -.3 .2 -.3 .2 -.7 .3 -.3 .1 .0 0M98.2 453.7l-.7 0 -.3 -.1 -.4 -.3 -.3 -.3 -.5 -.3 -.5 -.2 -.3 -.2 -.3 -.3 -.3 -.5 -.2 -.4 -.2 -.5 -.1 -.5 -.2 -.7 -.1 -.3 -.2 -.7 -.1 -.3 -.2 -.7 -.1 -.3 -.1 -.7 .1 -.7 .1 -.3 .1 -.7 0 -.7 .0 -.7 .1 -.7 .1 -.3 .2 -.7 .1 -.3 .3 -.6 .3 -.4 .3 -.3 .3 -.3 .3 -.3 .3 -.3 .4 -.3 .4 -.3 .4 -.3 .3 -.1 .7 -.1 .6 .1 .4 .1 .6 .2 .4 .2 .3 .2 .3 .3 .3 .5 .2 .4 .0 .7 -.1 .7 0 .7 .2 .7 .1 .3 .3 .7 .1 .3 .0 .7 -.1 .7 0 .7 .1 .7 .2 .7 .2 .3 .2 .4 .0 .6 -.2 .3 -.2 .3 -.3 .3 -.3 .3 -.5 .3 -.5 .2 -.7 .1 -.3 .2 -.3 .3 -.2 .6 .2 .5 .2 .5 -.2 .7 -.4 .3 -.3 .1 .0 0M96.8 451.7l-.7 .2 -.7 -.1 -.3 -.2 -.3 -.4 -.2 -.5 -.1 -.3 -.2 -.7 -.1 -.7 -.1 -.3 -.2 -.7 -.1 -.3 -.2 -.7 0 -.7 .2 -.7 .2 -.3 .2 -.7 -.1 -.7 -.1 -.7 .1 -.7 .2 -.6 .2 -.4 .2 -.3 .3 -.5 .3 -.4 .3 -.3 .4 -.2 .6 -.3 .4 -.3 .3 -.3 .3 -.2 .7 -.2 .7 0 .7 .3 .3 .3 .3 .4 .1 .3 .1 .7 0 .7 .0 .7 .2 .7 .1 .3 .2 .5 .2 .5 .0 .7 0 .7 0 .7 0 .7 0 .7 0 .3 0 .7 -.2 .7 -.2 .3 -.5 .3 -.4 .2 -.3 .2 -.5 .3 -.5 .3 -.3 .3 -.3 .3 -.3 .3 -.3 .3 .0 0M96.5 451.1l-.7 .2 -.6 -.3 -.2 -.3 -.2 -.5 -.1 -.5 -.1 -.7 -.1 -.7 -.1 -.3 -.2 -.6 -.1 -.4 .1 -.6 .3 -.4 .3 -.3 .2 -.3 .1 -.7 -.2 -.6 -.2 -.4 -.1 -.7 .1 -.7 .1 -.4 .3 -.5 .3 -.3 .3 -.2 .7 -.2 .5 -.2 .4 -.3 .3 -.3 .4 -.3 .3 -.1 .7 .1 .3 .4 .1 .3 .0 .7 0 .7 .1 .7 .1 .3 .3 .7 .1 .3 .1 .7 0 .7 -.1 .7 -.1 .7 -.1 .3 -.1 .7 -.1 .7 -.1 .3 -.3 .7 -.3 .3 -.4 .3 -.3 .2 -.3 .2 -.4 .3 -.5 .3 -.4 .3 -.3 .2 .0 0M96.5 450.4l-.7 .2 -.4 -.3 -.3 -.7 0 -.3 .0 -.3 .1 -.7 -.1 -.7 -.1 -.3 .0 -.7 .2 -.3 .2 -.3 .2 -.7 0 -.7 -.2 -.7 -.1 -.3 -.2 -.7 .1 -.7 .2 -.3 .6 -.3 .4 -.0 .4 0 .6 0 .6 -.0 .2 0 .4 .3 .2 .3 .3 .6 .2 .4 .1 .4 .1 .6 0 .7 -.1 .6 -.1 .4 -.1 .7 -.1 .7 0 .6 -.1 .4 -.3 .5 -.3 .4 -.3 .3 -.3 .2 -.6 .3 -.4 .2 -.3 .2 .0 0M96.8 449.4l-.7 -.0 -.1 -.4 .1 -.6 .1 -.4 .1 -.7 .1 -.7 .1 -.3 .1 -.7 0 -.7 -.1 -.3 -.2 -.7 -.1 -.3 -.1 -.7 .2 -.3 .7 -.1 .3 .1 .7 .3 .3 .3 .1 .3 0 .7 0 .7 .1 .7 .1 .7 .0 .7 0 .7 -.1 .7 -.2 .3 -.3 .3 -.6 .3 -.3 .1 .0 0M97.2 458.0l-.7 0 -.3 -.1 -.7 -.3 -.3 -.2 -.3 -.3 -.3 -.2 -.4 -.3 -.6 -.3 -.3 -.2 -.3 -.2 -.3 -.4 -.3 -.6 -.2 -.3 -.2 -.4 -.3 -.6 -.1 -.3 -.2 -.7 -.1 -.3 -.2 -.7 -.1 -.3 -.2 -.7 -.1 -.3 -.2 -.7 -.1 -.3 -.1 -.7 0 -.7 .0 -.7 .1 -.7 .1 -.5 .1 -.5 .0 -.7 .0 -.7 .0 -.7 .1 -.7 .1 -.3 .2 -.7 .1 -.3 .2 -.7 .1 -.3 .2 -.7 .1 -.4 .2 -.6 .1 -.4 .3 -.6 .2 -.3 .2 -.3 .3 -.4 .3 -.4 .3 -.4 .3 -.4 .3 -.4 .2 -.3 .2 -.6 .3 -.4 .3 -.3 .4 -.2 .4 -.1 .5 -.3 .2 -.3 .1 -.7 0 -.7 -.1 -.7 -.1 -.3 -.4 -.3 -.4 -.3 -.2 -.3 -.1 -.7 .1 -.3 .3 -.4 .3 -.4 .3 -.4 .3 -.4 .3 -.4 .3 -.3 .3 -.2 .4 -.2 .6 -.2 .7 -.1 .7 0 .7 .1 .3 .2 .4 .3 .4 .3 .6 .3 .3 .1 .7 .2 .3 .1 .3 .2 .3 .6 0 .7 0 .7 .1 .4 .3 .5 .3 .3 .3 .3 .3 .3 .3 .5 .1 .4 .1 .7 .0 .7 -.1 .7 -.1 .3 -.2 .6 -.1 .4 .0 .7 .1 .3 .2 .7 .1 .6 .1 .4 .1 .7 .1 .7 .0 .7 0 .7 .0 .7 .1 .3 .1 .7 .1 .7 .1 .3 .2 .7 .1 .6 .1 .4 -.1 .7 -.1 .3 -.2 .7 -.1 .3 -.1 .7 0 .7 .0 .7 .0 .7 -.1 .7 -.1 .3 -.3 .6 -.3 .4 -.2 .3 -.2 .3 -.2 .3 -.3 .5 -.3 .5 -.2 .3 -.2 .4 -.3 .5 -.3 .4 -.3 .3 -.3 .2 -.3 .2 -.5 .3 -.5 .3 -.3 .2 -.3 .2 -.4 .3 -.5 .3 -.5 .2 -.7 0 -.7 0 -.7 .1 -.3 0 .0 0M97.5 457.3l-.7 0 -.3 -.1 -.6 -.3 -.4 -.3 -.3 -.3 -.3 -.2 -.4 -.2 -.6 -.3 -.3 -.2 -.3 -.2 -.3 -.4 -.3 -.6 -.2 -.4 -.2 -.4 -.2 -.6 -.1 -.3 -.3 -.7 -.1 -.3 -.2 -.7 -.1 -.3 -.2 -.7 -.1 -.6 -.1 -.4 -.1 -.7 -.1 -.7 .0 -.7 .1 -.7 .1 -.7 .1 -.6 .0 -.4 .0 -.7 .1 -.7 .1 -.7 .1 -.3 .2 -.7 .1 -.3 .2 -.7 .1 -.4 .2 -.6 .1 -.4 .3 -.6 .2 -.3 .2 -.3 .3 -.5 .3 -.4 .3 -.3 .3 -.3 .3 -.2 .6 -.3 .4 -.2 .3 -.2 .3 -.2 .4 -.3 .4 -.3 .4 -.3 .4 -.3 .3 -.3 .2 -.4 .0 -.5 -.1 -.5 -.1 -.7 .2 -.7 .2 -.3 .3 -.3 .2 -.3 .3 -.6 .0 -.4 -.1 -.3 -.3 -.7 -.1 -.3 .1 -.3 .5 -.3 .5 -.1 .4 .1 .5 .3 .4 .3 .4 .3 .3 .1 .7 .1 .4 .2 .3 .5 .0 .5 .1 .7 .2 .4 .3 .4 .3 .3 .3 .3 .3 .4 .3 .6 .1 .3 0 .7 -.1 .3 -.2 .7 -.1 .3 -.1 .7 .1 .7 .1 .3 .2 .7 .1 .3 .2 .7 .1 .3 .1 .7 0 .7 -.1 .7 0 .3 0 .7 .1 .3 .3 .7 .1 .3 .2 .7 .1 .3 .1 .7 .0 .7 -.1 .7 -.1 .3 -.1 .7 0 .7 .0 .7 .0 .7 .0 .7 -.1 .7 -.2 .4 -.3 .6 -.2 .3 -.2 .3 -.2 .4 -.3 .6 -.2 .4 -.2 .3 -.3 .6 -.2 .4 -.2 .3 -.3 .3 -.4 .3 -.4 .2 -.3 .2 -.6 .3 -.4 .2 -.4 .2 -.6 .3 -.3 .1 -.7 .2 -.3 .1 -.7 .2 -.3 .1 .0 0M103.5 433.5l-.7 -.2 -.2 -.3 -.2 -.3 -.2 -.3 -.3 -.4 -.7 -.3 -.6 -.0 -.4 -.1 -.4 -.3 0 -.7 .1 -.3 .3 -.4 .7 -.2 .4 .3 .3 .3 .3 .6 .3 .4 .3 .2 .4 .2 .4 .3 .3 .3 .2 .7 -.2 .6 .0 0M97.5 456.7l-.7 -.0 -.3 -.1 -.4 -.3 -.4 -.3 -.4 -.3 -.5 -.3 -.3 -.2 -.5 -.2 -.5 -.3 -.3 -.3 -.2 -.3 -.2 -.5 -.2 -.5 -.2 -.5 -.2 -.5 -.2 -.3 -.3 -.7 -.1 -.3 -.1 -.7 .1 -.7 .0 -.3 0 -.3 -.2 -.7 -.1 -.3 -.2 -.7 0 -.7 .1 -.7 .1 -.7 .0 -.7 .0 -.7 .0 -.3 .1 -.7 .2 -.7 .1 -.3 .2 -.7 .1 -.3 .2 -.7 .1 -.3 .2 -.5 .3 -.5 .2 -.3 .3 -.3 .3 -.3 .3 -.3 .4 -.3 .4 -.3 .3 -.2 .4 -.2 .5 -.3 .5 -.3 .3 -.2 .3 -.2 .7 -.2 .7 .1 .4 .1 .3 .3 .3 .5 .3 .2 .7 .2 .4 .1 .6 .1 .7 .1 .7 .1 .3 .1 .3 .3 .3 .4 .3 .5 .3 .4 .1 .3 .1 .7 -.1 .7 -.1 .4 -.1 .6 .1 .5 .2 .5 .2 .3 .3 .7 .1 .3 .0 .7 -.1 .6 -.1 .4 -.1 .7 .0 .7 .1 .7 .1 .7 .0 .7 -.1 .7 -.2 .7 -.2 .3 -.2 .4 -.3 .5 -.3 .4 -.2 .3 -.2 .3 -.3 .7 -.1 .3 -.2 .5 -.3 .5 -.3 .3 -.3 .2 -.3 .2 -.7 .3 -.3 .1 -.7 .2 -.3 .1 -.5 .2 -.5 .2 -.3 .2 -.7 .3 -.3 .1 .0 0M97.5 456.0l-.7 -.1 -.3 -.2 -.3 -.3 -.3 -.3 -.3 -.3 -.3 -.3 -.6 -.3 -.4 -.3 -.3 -.4 -.2 -.3 -.2 -.6 -.1 -.4 -.2 -.7 -.1 -.3 -.2 -.7 -.1 -.3 0 -.7 -.1 -.7 -.2 -.7 -.1 -.3 -.2 -.5 -.2 -.5 -.1 -.7 .0 -.7 .0 -.7 .0 -.7 .0 -.7 .1 -.7 .1 -.6 .1 -.4 .2 -.7 .1 -.3 .3 -.7 .2 -.3 .2 -.3 .3 -.5 .3 -.4 .3 -.4 .3 -.4 .3 -.3 .3 -.3 .3 -.2 .3 -.2 .5 -.3 .5 -.3 .3 -.2 .7 -.1 .7 .3 .3 .3 .3 .3 .3 .2 .6 .3 .4 .1 .7 .2 .3 .1 .7 .1 .6 .2 .4 .3 .3 .3 .3 .3 .3 .5 .1 .3 .0 .7 -.1 .4 -.3 .6 -.2 .3 0 .7 .3 .3 .3 .3 .2 .3 .2 .7 -.1 .7 -.1 .7 0 .7 .1 .7 .1 .7 .1 .7 .0 .3 0 .3 -.2 .7 -.2 .4 -.3 .6 -.2 .3 -.2 .3 -.3 .3 -.3 .3 -.3 .4 -.3 .6 -.1 .4 -.2 .6 -.2 .3 -.4 .3 -.5 .2 -.3 .1 -.7 .3 -.3 .1 -.5 .2 -.5 .2 -.3 .2 -.7 .3 -.3 .1 .0 0M98.5 455.0l-.7 .2 -.7 0 -.5 -.3 -.4 -.3 -.3 -.3 -.3 -.3 -.3 -.3 -.4 -.3 -.4 -.3 -.3 -.3 -.2 -.3 -.3 -.7 -.1 -.3 -.2 -.7 -.1 -.3 -.2 -.7 -.1 -.7 -.1 -.3 -.2 -.7 -.1 -.3 -.2 -.7 -.1 -.3 -.1 -.7 .0 -.7 .0 -.7 0 -.7 .0 -.7 .1 -.3 .1 -.7 .2 -.6 .1 -.4 .2 -.6 .2 -.4 .2 -.3 .2 -.3 .3 -.4 .3 -.4 .3 -.4 .3 -.3 .3 -.3 .3 -.2 .4 -.3 .5 -.3 .4 -.2 .7 -.1 .6 .2 .4 .3 .3 .2 .4 .2 .6 .2 .3 .1 .7 .3 .3 .1 .5 .2 .5 .2 .3 .3 .3 .4 .2 .4 -.2 .5 -.3 .4 -.3 .3 -.3 .5 -.1 .4 .1 .7 .2 .3 .2 .3 .3 .6 .2 .4 .0 .7 0 .7 .1 .5 .2 .5 .2 .3 .2 .4 .2 .6 0 .7 -.2 .5 -.3 .5 -.3 .3 -.3 .3 -.3 .3 -.3 .3 -.3 .3 -.3 .3 -.3 .5 -.2 .5 -.2 .6 -.3 .4 -.4 .3 -.3 .2 -.3 .2 -.5 .3 -.5 .2 -.3 .1 .0 0M97.8 454.3l-.5 -.0 -.5 -.3 -.3 -.4 -.3 -.4 -.4 -.3 -.3 -.2 -.3 -.2 -.3 -.3 -.3 -.4 -.2 -.5 -.1 -.3 -.2 -.7 -.1 -.4 -.2 -.6 -.2 -.7 -.1 -.3 -.2 -.6 -.1 -.4 -.1 -.7 0 -.7 .1 -.7 .0 -.7 0 -.7 .0 -.7 .1 -.7 .1 -.3 .2 -.7 .1 -.3 .3 -.6 .2 -.4 .2 -.3 .3 -.3 .3 -.3 .3 -.4 .3 -.3 .3 -.3 .4 -.3 .5 -.3 .3 -.1 .7 -.1 .6 .2 .4 .2 .4 .2 .6 .3 .3 .2 .3 .2 .4 .3 .3 .3 .3 .5 .1 .5 -.1 .3 -.2 .7 -.1 .7 .2 .7 .1 .3 .3 .7 .1 .3 .0 .7 -.1 .7 .0 .7 .2 .7 .1 .3 .3 .5 .3 .5 .1 .3 -.1 .4 -.3 .5 -.3 .4 -.3 .3 -.3 .3 -.4 .3 -.4 .3 -.3 .1 -.7 .2 -.2 .4 .1 .7 .0 .7 -.3 .5 -.3 .3 -.3 .2 -.7 .3 -.3 .1 .0 0M97.5 452.6l-.7 -.2 -.7 -.1 -.3 -.1 -.5 -.3 -.4 -.3 -.2 -.3 -.2 -.4 -.2 -.6 -.1 -.5 -.1 -.5 -.2 -.7 -.1 -.3 -.3 -.7 -.1 -.3 -.1 -.7 .1 -.7 .1 -.5 .1 -.5 0 -.7 -.1 -.7 .1 -.7 .2 -.7 .1 -.3 .3 -.6 .2 -.4 .2 -.3 .3 -.3 .3 -.4 .3 -.3 .4 -.3 .4 -.3 .5 -.3 .4 -.2 .3 -.1 .7 -.0 .3 0 .7 .2 .3 .1 .5 .3 .3 .3 .2 .4 .1 .6 0 .7 -.1 .7 .1 .7 .2 .5 .2 .5 .1 .3 .1 .7 0 .7 0 .7 .0 .7 .0 .7 .1 .7 .1 .7 -.2 .7 -.2 .3 -.3 .3 -.6 .3 -.3 .1 -.6 .2 -.4 .2 -.3 .3 -.3 .3 -.3 .5 -.2 .4 -.2 .6 .0 0" fill="none" stroke="#000" stroke-width="0.7" stroke-linejoin="round"/>
<path d="M101.9 429.1h0.6M133.5 442.6h0.6M131.8 437.4h0.6M105.9 440.8h0.6M120.2 356.3h0.6M110.7 420.8h0.6M137.7 384.1h0.6M89.4 365.3h0.6M109.6 449.6h0.6M118.8 425.5h0.6M142.1 421.3h0.6M140.4 460.6h0.6M119.8 387.5h0.6M133.8 355.9h0.6M106.6 364.8h0.6M93.8 436.7h0.6M109.2 419.9h0.6M99.5 370.6h0.6M104.8 360.2h0.6M118.2 421.9h0.6M106.2 404.7h0.6M115.1 375.2h0.6M128.2 402.4h0.6M136.0 434.3h0.6M119.8 370.0h0.6M134.1 409.2h0.6" fill="none" stroke="#888" stroke-width="0.6"/>
<path d="M98.6 439v9l-.8 2.2" fill="none" stroke="#fff" stroke-width="1.1" stroke-linecap="round"/>
</g>
<rect x="83" y="345.1" width="125" height="124.3" fill="none" stroke="#111" stroke-width="0.9"/>
<line x1="83" y1="345.1" x2="83" y2="469.4" stroke="#000" stroke-width="1.2"/>
<rect x="86.5" y="349.3" width="18" height="90.7" fill="none" stroke="#222" stroke-width="0.7"/>
<rect x="105.3" y="349" width="21.2" height="102.8" fill="none" stroke="#222" stroke-width="0.7"/>
<rect x="85.5" y="440" width="19.3" height="23.8" fill="none" stroke="#222" stroke-width="0.8"/>
<line x1="104.9" y1="349" x2="104.9" y2="452" stroke="#000" stroke-width="0.7"/>
<line x1="79.8" y1="349.9" x2="83" y2="349.9" stroke="#000" stroke-width="0.9"/>
<text x="78" y="351.88" font-size="5.5" text-anchor="end" fill="#222">250K</text>
<line x1="79.8" y1="373.8" x2="83" y2="373.8" stroke="#000" stroke-width="0.9"/>
<text x="78" y="375.78" font-size="5.5" text-anchor="end" fill="#222">200K</text>
<line x1="79.8" y1="397.7" x2="83" y2="397.7" stroke="#000" stroke-width="0.9"/>
<text x="78" y="399.68" font-size="5.5" text-anchor="end" fill="#222">150K</text>
<line x1="79.8" y1="421.6" x2="83" y2="421.6" stroke="#000" stroke-width="0.9"/>
<text x="78" y="423.58" font-size="5.5" text-anchor="end" fill="#222">100K</text>
<line x1="79.8" y1="445.5" x2="83" y2="445.5" stroke="#000" stroke-width="0.9"/>
<text x="78" y="447.48" font-size="5.5" text-anchor="end" fill="#222">50K</text>
<line x1="79.8" y1="469.4" x2="83" y2="469.4" stroke="#000" stroke-width="0.9"/>
<text x="78" y="471.38" font-size="5.5" text-anchor="end" fill="#222">0</text>
<line x1="81.5" y1="354.68" x2="83" y2="354.68" stroke="#000" stroke-width="0.6"/>
<line x1="81.5" y1="359.46" x2="83" y2="359.46" stroke="#000" stroke-width="0.6"/>
<line x1="81.5" y1="364.24" x2="83" y2="364.24" stroke="#000" stroke-width="0.6"/>
<line x1="81.5" y1="369.02" x2="83" y2="369.02" stroke="#000" stroke-width="0.6"/>
<line x1="81.5" y1="378.58" x2="83" y2="378.58" stroke="#000" stroke-width="0.6"/>
<line x1="81.5" y1="383.36" x2="83" y2="383.36" stroke="#000" stroke-width="0.6"/>
<line x1="81.5" y1="388.14" x2="83" y2="388.14" stroke="#000" stroke-width="0.6"/>
<line x1="81.5" y1="392.92" x2="83" y2="392.92" stroke="#000" stroke-width="0.6"/>
<line x1="81.5" y1="402.48" x2="83" y2="402.48" stroke="#000" stroke-width="0.6"/>
<line x1="81.5" y1="407.26" x2="83" y2="407.26" stroke="#000" stroke-width="0.6"/>
<line x1="81.5" y1="412.04" x2="83" y2="412.04" stroke="#000" stroke-width="0.6"/>
<line x1="81.5" y1="416.82" x2="83" y2="416.82" stroke="#000" stroke-width="0.6"/>
<line x1="81.5" y1="426.38" x2="83" y2="426.38" stroke="#000" stroke-width="0.6"/>
<line x1="81.5" y1="431.16" x2="83" y2="431.16" stroke="#000" stroke-width="0.6"/>
<line x1="81.5" y1="435.94" x2="83" y2="435.94" stroke="#000" stroke-width="0.6"/>
<line x1="81.5" y1="440.72" x2="83" y2="440.72" stroke="#000" stroke-width="0.6"/>
<line x1="81.5" y1="450.28" x2="83" y2="450.28" stroke="#000" stroke-width="0.6"/>
<line x1="81.5" y1="455.06" x2="83" y2="455.06" stroke="#000" stroke-width="0.6"/>
<line x1="81.5" y1="459.84" x2="83" y2="459.84" stroke="#000" stroke-width="0.6"/>
<line x1="81.5" y1="464.62" x2="83" y2="464.62" stroke="#000" stroke-width="0.6"/>
<line x1="83.3" y1="469.4" x2="83.3" y2="471.8" stroke="#000" stroke-width="0.8"/>
<text x="83.3" y="479.07" font-size="5.5" text-anchor="middle" fill="#222">0</text>
<line x1="107.3" y1="469.4" x2="107.3" y2="471.8" stroke="#000" stroke-width="0.8"/>
<text x="107.3" y="479.07" font-size="5.5" text-anchor="middle" fill="#222">50K</text>
<line x1="131.3" y1="469.4" x2="131.3" y2="471.8" stroke="#000" stroke-width="0.8"/>
<text x="131.3" y="479.07" font-size="5.5" text-anchor="middle" fill="#222">100K</text>
<line x1="155.3" y1="469.4" x2="155.3" y2="471.8" stroke="#000" stroke-width="0.8"/>
<text x="155.3" y="479.07" font-size="5.5" text-anchor="middle" fill="#222">150K</text>
<line x1="179.3" y1="469.4" x2="179.3" y2="471.8" stroke="#000" stroke-width="0.8"/>
<text x="179.3" y="479.07" font-size="5.5" text-anchor="middle" fill="#222">200K</text>
<line x1="203.3" y1="469.4" x2="203.3" y2="471.8" stroke="#000" stroke-width="0.8"/>
<text x="203.3" y="479.07" font-size="5.5" text-anchor="middle" fill="#222">250K</text>
<line x1="88.1" y1="469.4" x2="88.1" y2="470.8" stroke="#000" stroke-width="0.5"/>
<line x1="92.9" y1="469.4" x2="92.9" y2="470.8" stroke="#000" stroke-width="0.5"/>
<line x1="97.7" y1="469.4" x2="97.7" y2="470.8" stroke="#000" stroke-width="0.5"/>
<line x1="102.5" y1="469.4" x2="102.5" y2="470.8" stroke="#000" stroke-width="0.5"/>
<line x1="112.1" y1="469.4" x2="112.1" y2="470.8" stroke="#000" stroke-width="0.5"/>
<line x1="116.9" y1="469.4" x2="116.9" y2="470.8" stroke="#000" stroke-width="0.5"/>
<line x1="121.7" y1="469.4" x2="121.7" y2="470.8" stroke="#000" stroke-width="0.5"/>
<line x1="126.5" y1="469.4" x2="126.5" y2="470.8" stroke="#000" stroke-width="0.5"/>
<line x1="136.1" y1="469.4" x2="136.1" y2="470.8" stroke="#000" stroke-width="0.5"/>
<line x1="140.9" y1="469.4" x2="140.9" y2="470.8" stroke="#000" stroke-width="0.5"/>
<line x1="145.7" y1="469.4" x2="145.7" y2="470.8" stroke="#000" stroke-width="0.5"/>
<line x1="150.5" y1="469.4" x2="150.5" y2="470.8" stroke="#000" stroke-width="0.5"/>
<line x1="160.1" y1="469.4" x2="160.1" y2="470.8" stroke="#000" stroke-width="0.5"/>
<line x1="164.9" y1="469.4" x2="164.9" y2="470.8" stroke="#000" stroke-width="0.5"/>
<line x1="169.7" y1="469.4" x2="169.7" y2="470.8" stroke="#000" stroke-width="0.5"/>
<line x1="174.5" y1="469.4" x2="174.5" y2="470.8" stroke="#000" stroke-width="0.5"/>
<line x1="184.1" y1="469.4" x2="184.1" y2="470.8" stroke="#000" stroke-width="0.5"/>
<line x1="188.9" y1="469.4" x2="188.9" y2="470.8" stroke="#000" stroke-width="0.5"/>
<line x1="193.7" y1="469.4" x2="193.7" y2="470.8" stroke="#000" stroke-width="0.5"/>
<line x1="198.5" y1="469.4" x2="198.5" y2="470.8" stroke="#000" stroke-width="0.5"/>
<text x="85.2" y="375.4" font-size="14">G<tspan dy="3.5" font-size="9.5">1</tspan></text>
<text x="127.2" y="375.4" font-size="14">S/G<tspan dy="3.5" font-size="9.5">2</tspan><tspan dy="-3.5">/M</tspan></text>
<text x="108.6" y="463.7" font-size="14">G<tspan dy="3.5" font-size="9.5">0</tspan></text>
<clipPath id="cC2"><rect x="237.5" y="345.1" width="125.5" height="124.3"/></clipPath><g clip-path="url(#cC2)">
<path d="M254.7 452.7 254.0 452.9 253.3 452.9 252.7 452.6 252.3 452.4 252.0 452.2 251.6 451.9 251.0 451.6 250.7 451.4 250.3 451.2 249.9 450.9 249.6 450.6 249.3 450.2 249.0 449.6 248.9 449.3 248.7 448.6 248.7 448.3 248.5 447.6 248.3 447.1 248.1 446.6 248.0 446.3 247.7 445.6 247.6 445.3 247.5 444.6 247.4 443.9 247.3 443.6 247.1 442.9 246.9 442.6 246.7 442.0 246.5 441.6 246.3 441.2 246.1 440.6 246.0 439.9 246.0 439.6 245.9 438.9 245.9 438.3 246.0 437.6 245.9 436.9 245.8 436.3 245.7 435.6 245.6 435.3 245.6 434.6 245.7 434.3 245.9 433.6 246.0 433.2 246.2 432.6 246.4 432.3 246.6 431.6 246.8 431.3 247.0 430.6 247.1 430.3 247.2 429.6 247.2 428.9 247.1 428.3 247.0 427.6 246.9 427.3 246.9 426.6 246.9 425.9 247.0 425.4 247.2 424.9 247.3 424.5 247.7 423.9 247.9 423.6 248.1 423.3 248.3 422.8 248.6 422.3 248.7 421.9 249.0 421.3 249.1 420.9 249.3 420.3 249.5 419.9 249.7 419.6 250.0 418.9 250.2 418.6 250.5 418.3 250.8 417.9 251.1 417.6 251.4 417.3 251.7 416.9 252.0 416.5 252.3 416.0 252.6 415.6 252.9 415.3 253.2 414.9 253.7 414.6 254.0 414.5 254.7 414.3 255.3 414.3 256.0 414.5 256.3 414.6 257.0 414.9 257.3 415.1 257.7 415.3 258.3 415.6 258.7 415.8 259.0 416.0 259.3 416.4 259.7 416.7 260.0 417.1 260.3 417.5 260.6 417.9 260.8 418.3 261.0 418.9 261.1 419.3 261.3 419.9 261.3 420.3 261.6 420.9 261.7 421.3 262.0 421.9 262.2 422.3 262.5 422.6 262.7 422.9 263.0 423.5 263.2 423.9 263.3 424.6 263.3 424.9 263.3 425.4 263.3 425.9 263.3 426.3 263.4 426.9 263.5 427.6 263.5 428.3 263.4 428.9 263.3 429.3 263.2 429.9 263.0 430.5 262.9 430.9 262.7 431.6 262.6 431.9 262.4 432.6 262.4 433.3 262.5 433.9 262.6 434.6 262.7 434.9 262.7 435.6 262.7 436.3 262.7 436.9 262.6 437.3 262.5 437.9 262.3 438.6 262.3 438.9 262.1 439.6 262.0 439.9 261.8 440.6 261.7 441.2 261.6 441.6 261.3 442.3 261.2 442.6 261.0 443.0 260.7 443.5 260.4 443.9 260.2 444.3 260.0 444.6 259.7 445.1 259.4 445.6 259.2 445.9 259.0 446.3 258.7 446.9 258.6 447.3 258.5 447.9 258.5 448.6 258.3 449.2 258.2 449.6 258.0 449.9 257.7 450.4 257.3 450.9 257.0 451.3 256.7 451.6 256.3 451.9 256.0 452.1 255.5 452.3 255.0 452.5 254.7 452.7 254.7 452.7Z" fill="#000" fill-opacity="0.25" fill-rule="evenodd" stroke="none"/>
<path d="M255.0 448.6 254.3 448.7 253.7 448.7 253.0 448.6 252.7 448.6 252.0 448.4 251.7 448.3 251.2 447.9 250.9 447.6 250.7 447.1 250.4 446.6 250.2 446.3 250.0 445.9 249.7 445.4 249.4 444.9 249.3 444.6 249.2 443.9 249.0 443.3 248.9 442.9 248.7 442.3 248.6 441.9 248.3 441.4 248.1 440.9 248.0 440.6 247.8 439.9 247.6 439.6 247.5 438.9 247.4 438.3 247.4 437.6 247.5 436.9 247.5 436.3 247.5 435.6 247.5 434.9 247.6 434.3 247.7 433.8 247.8 433.3 248.0 432.6 248.1 432.3 248.3 431.6 248.3 431.3 248.5 430.6 248.6 429.9 248.7 429.5 248.8 428.9 248.9 428.3 248.8 427.6 248.8 426.9 248.9 426.3 249.0 425.9 249.3 425.3 249.4 424.9 249.7 424.3 249.9 423.9 250.2 423.6 250.5 423.3 251.0 422.9 251.3 422.8 251.8 422.6 252.3 422.4 252.7 422.1 253.0 421.8 253.3 421.3 253.4 420.9 253.6 420.3 253.7 419.9 254.0 419.6 254.6 419.3 255.0 419.1 255.7 419.0 256.3 418.9 257.0 419.0 257.6 419.3 258.0 419.5 258.3 419.8 258.7 420.2 258.9 420.6 259.1 420.9 259.3 421.5 259.5 421.9 259.7 422.3 259.9 422.9 260.1 423.3 260.3 423.7 260.5 424.3 260.5 424.9 260.3 425.6 260.3 425.9 260.2 426.6 260.3 427.0 260.6 427.6 260.7 427.9 260.7 428.6 260.6 428.9 260.3 429.6 260.1 429.9 260.0 430.3 259.9 430.9 259.9 431.6 260.0 432.1 260.1 432.6 260.2 433.3 260.3 433.9 260.3 434.3 260.4 434.9 260.4 435.6 260.5 436.3 260.4 436.9 260.3 437.3 260.1 437.9 260.0 438.6 260.0 439.1 260.0 439.6 259.8 440.3 259.7 440.6 259.3 441.2 259.1 441.6 258.9 441.9 258.7 442.6 258.6 442.9 258.3 443.6 258.2 443.9 258.0 444.3 257.7 444.9 257.5 445.3 257.3 445.6 257.0 446.1 256.7 446.6 256.6 446.9 256.3 447.4 256.1 447.9 255.8 448.3 255.3 448.5 255.0 448.6 255.0 448.6Z" fill="#000" fill-opacity="0.3" fill-rule="evenodd" stroke="none"/>
<path d="M254.3 468.3l-.7 .2 -.7 -.0 -.7 -.1 -.3 -.1 -.5 -.2 -.5 -.3 -.3 -.2 -.3 -.2 -.5 -.3 -.5 -.3 -.3 -.2 -.3 -.3 -.3 -.3 -.4 -.3 -.4 -.3 -.4 -.3 -.3 -.3 -.3 -.3 -.3 -.4 -.3 -.6 -.2 -.3 -.2 -.3 -.3 -.4 -.3 -.4 -.3 -.4 -.3 -.5 -.2 -.3 -.2 -.3 -.2 -.7 -.1 -.3 -.2 -.7 -.1 -.3 -.3 -.7 -.1 -.3 -.2 -.5 -.2 -.5 -.1 -.3 -.2 -.7 -.1 -.7 -.1 -.3 -.2 -.7 -.1 -.3 -.3 -.7 -.1 -.3 -.2 -.7 -.1 -.3 -.1 -.7 -.1 -.7 -.1 -.3 -.1 -.7 -.2 -.7 -.1 -.3 -.1 -.7 0 -.7 0 -.7 -.1 -.7 0 -.3 -.1 -.7 -.1 -.7 -.1 -.6 0 -.4 .0 -.7 0 -.7 -.1 -.7 0 -.7 .0 -.7 .0 -.7 0 -.7 -.1 -.7 -.1 -.7 -.1 -.7 0 -.7 .0 -.7 .1 -.7 .1 -.7 .1 -.7 .1 -.7 .0 -.3 .1 -.7 .1 -.7 .1 -.7 .0 -.7 .1 -.7 .0 -.3 .1 -.7 .1 -.7 .1 -.3 .1 -.7 .1 -.7 .1 -.4 .1 -.6 .2 -.7 .1 -.3 .1 -.7 .0 -.7 0 -.7 0 -.7 .0 -.7 .1 -.7 .1 -.3 .2 -.7 .2 -.7 .1 -.3 .2 -.7 .1 -.3 .2 -.7 .1 -.3 .2 -.7 .1 -.4 .1 -.6 .2 -.7 .1 -.3 .1 -.7 .2 -.7 .1 -.3 .3 -.7 .2 -.3 .2 -.4 .3 -.6 .3 -.4 .2 -.3 .2 -.3 .3 -.4 .3 -.6 .2 -.4 .2 -.4 .2 -.6 .1 -.4 .2 -.6 .1 -.3 .3 -.7 .2 -.3 .2 -.5 .3 -.5 .2 -.3 .3 -.3 .3 -.3 .3 -.3 .3 -.4 .3 -.5 .3 -.4 .2 -.3 .2 -.4 .3 -.6 .2 -.3 .2 -.3 .3 -.7 .2 -.3 .2 -.3 .3 -.5 .3 -.5 .3 -.4 .3 -.3 .3 -.3 .2 -.3 .3 -.4 .3 -.4 .3 -.4 .3 -.3 .3 -.3 .4 -.3 .4 -.3 .4 -.3 .3 -.3 .3 -.3 .3 -.3 .3 -.3 .3 -.4 .3 -.5 .3 -.5 .3 -.4 .3 -.3 .3 -.3 .3 -.3 .3 -.3 .3 -.3 .3 -.3 .5 -.3 .4 -.1 .7 -.0 .7 .1 .3 .1 .6 .3 .4 .2 .3 .2 .3 .2 .6 .3 .4 .1 .4 .2 .5 .3 .3 .3 .2 .3 .3 .7 .1 .3 .3 .7 .1 .3 .2 .6 .2 .4 .2 .5 .2 .5 .2 .5 .2 .5 .2 .7 .1 .3 .0 .7 0 .7 0 .4 0 .6 .0 .6 .0 .4 0 .3 0 .7 .0 .7 .0 .4 .0 .6 0 .6 0 .4 0 .7 0 .7 .0 .7 .1 .7 .1 .3 .2 .7 .1 .5 .0 .5 0 .7 .0 .7 .0 .7 .0 .7 .0 .7 .1 .7 .1 .3 .3 .7 .2 .3 .2 .4 .2 .6 .1 .3 .2 .7 .1 .7 .0 .3 .0 .7 .0 .7 .1 .7 .1 .7 .1 .6 .1 .4 .0 .7 0 .7 0 .7 .1 .7 .1 .7 .1 .5 .1 .5 .1 .7 .0 .7 .1 .7 .1 .3 .1 .7 .1 .7 .0 .7 0 .7 0 .7 .0 .7 .0 .7 .0 .7 0 .7 -.1 .7 -.1 .7 -.1 .7 0 .3 -.1 .7 -.1 .7 -.1 .7 0 .4 -.1 .6 -.1 .7 -.1 .5 -.1 .5 -.1 .7 0 .7 .0 .7 0 .7 -.1 .7 0 .3 -.1 .7 -.2 .6 -.1 .4 -.2 .6 -.2 .4 -.2 .6 -.1 .4 -.1 .7 -.1 .6 -.1 .4 -.1 .7 -.1 .7 -.1 .3 -.2 .7 -.1 .3 -.3 .7 -.2 .3 -.3 .5 -.3 .5 -.2 .3 -.2 .5 -.3 .5 -.2 .3 -.3 .3 -.3 .3 -.3 .3 -.3 .4 -.3 .6 -.1 .3 -.2 .7 -.1 .3 -.2 .7 -.2 .3 -.2 .4 -.3 .5 -.3 .4 -.3 .4 -.2 .3 -.2 .3 -.3 .5 -.2 .5 -.2 .3 -.3 .4 -.3 .5 -.3 .5 -.2 .3 -.2 .3 -.2 .3 -.3 .5 -.3 .5 -.3 .4 -.3 .3 -.3 .2 -.5 .2 -.5 .2 -.3 .1 -.5 .3 -.4 .3 -.4 .3 -.3 .3 -.3 .3 -.3 .3 -.3 .3 -.3 .2 -.3 .2 .0 0M253.7 465.3l-.6 -.1 -.4 -.2 -.3 -.2 -.5 -.3 -.5 -.2 -.3 -.1 -.7 -.1 -.7 -.1 -.3 -.2 -.3 -.3 -.3 -.3 -.3 -.3 -.3 -.3 -.3 -.3 -.3 -.5 -.2 -.5 -.1 -.3 -.3 -.6 -.3 -.4 -.3 -.3 -.3 -.3 -.3 -.3 -.3 -.3 -.2 -.4 -.2 -.6 -.1 -.4 -.1 -.6 -.1 -.7 -.1 -.3 -.2 -.7 -.1 -.4 -.2 -.6 -.2 -.5 -.3 -.5 -.2 -.3 -.3 -.3 -.2 -.3 -.3 -.5 -.2 -.5 -.1 -.7 0 -.3 0 -.7 -.1 -.7 -.2 -.7 -.1 -.3 -.1 -.7 -.1 -.7 0 -.7 0 -.3 -.1 -.7 -.1 -.7 -.1 -.5 -.1 -.5 -.1 -.7 0 -.7 .0 -.7 0 -.7 0 -.7 0 -.7 -.1 -.5 -.1 -.5 -.1 -.7 -.1 -.7 0 -.7 .0 -.7 .1 -.7 .1 -.7 .1 -.7 .1 -.4 .1 -.6 .1 -.7 .1 -.7 .1 -.7 .1 -.6 .1 -.4 .1 -.7 .1 -.5 .2 -.5 .1 -.7 .0 -.6 .0 -.4 .0 -.7 .1 -.7 .2 -.7 .1 -.3 .2 -.7 .1 -.6 .0 -.4 .0 -.7 .0 -.7 .0 -.7 .1 -.7 .1 -.7 .1 -.3 .2 -.7 .1 -.3 .3 -.7 .1 -.3 .3 -.7 .1 -.3 .1 -.7 .1 -.7 .1 -.4 .1 -.6 .2 -.7 .1 -.3 .2 -.7 .1 -.4 .3 -.6 .2 -.3 .2 -.4 .3 -.5 .3 -.4 .3 -.4 .3 -.3 .2 -.3 .2 -.3 .3 -.5 .3 -.5 .1 -.3 .3 -.6 .1 -.4 .2 -.4 .3 -.6 .2 -.3 .2 -.4 .3 -.5 .3 -.4 .3 -.4 .3 -.3 .2 -.3 .2 -.4 .2 -.6 .2 -.3 .3 -.4 .3 -.4 .3 -.4 .3 -.4 .3 -.3 .2 -.3 .2 -.3 .3 -.5 .3 -.5 .3 -.4 .3 -.3 .3 -.3 .3 -.3 .3 -.3 .3 -.3 .3 -.3 .4 -.3 .4 -.3 .4 -.3 .4 -.3 .4 -.3 .3 -.3 .3 -.2 .3 -.2 .4 -.2 .6 -.3 .3 -.2 .3 -.3 .3 -.4 .3 -.4 .3 -.2 .3 -.2 .7 -.2 .7 0 .5 .1 .5 .3 .3 .3 .3 .3 .3 .4 .2 .4 .2 .3 .2 .7 .1 .3 .2 .7 .1 .3 .2 .7 .1 .7 .1 .3 .1 .7 .1 .7 .1 .3 .1 .7 0 .7 -.1 .7 -.1 .3 -.1 .7 -.1 .7 .1 .7 .1 .6 .1 .4 .1 .7 .1 .7 .0 .7 .0 .5 .0 .5 .1 .7 .1 .7 .0 .7 0 .7 -.1 .7 0 .3 .0 .4 .2 .6 .2 .4 .3 .6 .2 .3 .2 .3 .3 .4 .3 .6 .2 .3 .2 .4 .2 .6 .1 .4 .1 .6 .1 .7 .0 .7 .1 .7 .1 .6 .0 .4 .0 .7 -.1 .6 0 .4 0 .7 .1 .5 .1 .5 .1 .7 .1 .4 .1 .6 .0 .7 .0 .7 .1 .7 .1 .3 .1 .7 .1 .7 .0 .7 .0 .7 .0 .7 .0 .7 0 .7 -.1 .7 -.1 .7 -.1 .6 0 .4 -.1 .7 -.1 .7 -.1 .7 -.1 .4 -.1 .6 -.1 .7 -.1 .7 -.1 .5 -.1 .5 -.1 .7 -.1 .7 0 .4 -.1 .6 -.1 .7 -.1 .7 -.1 .6 -.1 .4 -.2 .6 -.1 .4 -.2 .7 -.1 .3 -.2 .7 -.1 .3 -.1 .7 0 .7 0 .7 -.1 .7 -.1 .3 -.2 .7 -.2 .3 -.2 .3 -.3 .5 -.3 .4 -.3 .4 -.2 .3 -.2 .3 -.3 .5 -.2 .5 -.2 .3 -.3 .5 -.3 .5 -.2 .3 -.2 .4 -.2 .6 -.1 .3 -.2 .7 -.1 .3 -.3 .7 -.2 .3 -.3 .3 -.4 .3 -.4 .3 -.3 .3 -.3 .3 -.2 .3 -.2 .4 -.3 .6 -.2 .3 -.2 .5 -.2 .5 -.2 .3 -.3 .4 -.3 .4 -.3 .3 -.3 .2 -.7 .2 -.4 .1 -.6 .1 -.5 .2 -.5 .2 -.3 .2 -.3 .2 -.4 .3 -.6 .3 -.3 .1 .0 0M254.0 463.0l-.7 .1 -.7 -.1 -.3 -.2 -.4 -.3 -.4 -.3 -.4 -.3 -.4 -.3 -.3 -.2 -.4 -.2 -.6 -.2 -.3 -.1 -.5 -.3 -.3 -.3 -.3 -.3 -.2 -.4 -.3 -.6 -.2 -.4 -.2 -.3 -.3 -.3 -.3 -.3 -.3 -.5 -.2 -.5 -.1 -.3 -.2 -.7 -.1 -.5 -.1 -.5 -.1 -.7 -.1 -.7 -.1 -.4 -.3 -.6 -.3 -.3 -.3 -.3 -.3 -.3 -.3 -.3 -.2 -.3 -.2 -.7 0 -.7 0 -.7 -.1 -.4 -.2 -.6 -.1 -.3 -.2 -.7 -.1 -.7 0 -.3 -.1 -.7 -.1 -.7 -.1 -.5 -.1 -.5 -.1 -.7 0 -.7 .0 -.7 .0 -.7 0 -.7 -.1 -.5 -.1 -.5 -.1 -.7 -.1 -.5 -.1 -.5 -.1 -.7 0 -.7 .0 -.7 .1 -.7 .1 -.6 .1 -.4 .1 -.7 .1 -.7 .1 -.3 .1 -.7 .1 -.7 .1 -.7 .1 -.3 .1 -.7 .1 -.7 .1 -.3 .1 -.7 .0 -.7 .0 -.7 .1 -.7 .1 -.6 .1 -.4 .2 -.7 .1 -.3 .1 -.7 .1 -.7 .1 -.7 .0 -.4 .1 -.6 .1 -.7 .1 -.6 .1 -.4 .1 -.7 .1 -.4 .2 -.6 .2 -.3 .3 -.7 .1 -.3 .1 -.7 .1 -.7 .0 -.3 .1 -.7 .1 -.7 .1 -.4 .2 -.6 .2 -.4 .3 -.6 .2 -.3 .2 -.3 .3 -.4 .3 -.4 .3 -.4 .3 -.4 .3 -.3 .2 -.3 .2 -.3 .3 -.6 .2 -.4 .2 -.3 .3 -.5 .2 -.5 .2 -.3 .2 -.4 .3 -.4 .3 -.4 .3 -.4 .3 -.4 .3 -.4 .2 -.3 .2 -.3 .3 -.5 .2 -.5 .2 -.3 .3 -.4 .3 -.4 .3 -.4 .3 -.3 .3 -.4 .3 -.4 .3 -.4 .3 -.3 .3 -.3 .3 -.3 .3 -.3 .3 -.3 .4 -.3 .6 -.3 .3 -.1 .7 -.1 .7 -.0 .7 0 .7 -.0 .7 -.1 .4 -.1 .6 -.2 .7 -.1 .7 .1 .3 .3 .3 .5 .2 .4 .2 .3 .2 .7 .1 .7 -.1 .7 -.1 .7 0 .7 .0 .7 .2 .7 .1 .3 .3 .6 .2 .4 .1 .4 .2 .6 .1 .7 .1 .7 .0 .3 .0 .7 0 .3 -.1 .7 -.2 .7 0 .7 .1 .7 .2 .7 .1 .3 .3 .6 .2 .4 .2 .3 .3 .5 .3 .5 .2 .3 .2 .5 .3 .5 .2 .3 .2 .5 .1 .5 .2 .7 .1 .3 .1 .7 .0 .7 .0 .7 0 .7 -.1 .7 0 .7 0 .7 .0 .7 .1 .7 .1 .7 .0 .3 .1 .7 .1 .7 .1 .6 .1 .4 .1 .7 .1 .7 .1 .3 .1 .7 .1 .7 .0 .7 .0 .3 0 .3 0 .7 -.1 .7 -.1 .7 -.1 .5 -.1 .5 -.1 .7 -.1 .5 -.1 .5 -.1 .7 -.1 .7 -.1 .7 0 .3 -.1 .7 -.2 .7 -.1 .3 -.2 .7 -.1 .3 -.1 .7 0 .7 -.1 .7 -.1 .7 -.1 .3 -.1 .7 -.1 .7 -.1 .5 -.2 .5 -.2 .5 -.2 .5 -.2 .5 -.1 .5 -.1 .7 -.1 .4 -.1 .6 -.2 .7 -.2 .3 -.2 .3 -.3 .5 -.3 .4 -.3 .4 -.2 .3 -.2 .4 -.2 .6 -.1 .3 -.3 .7 -.2 .3 -.2 .4 -.3 .6 -.2 .3 -.2 .4 -.3 .6 -.2 .3 -.2 .3 -.3 .3 -.3 .3 -.4 .3 -.4 .3 -.3 .3 -.2 .3 -.3 .6 -.1 .4 -.2 .4 -.3 .6 -.2 .3 -.2 .3 -.3 .4 -.3 .3 -.4 .3 -.6 .2 -.6 .1 -.4 .1 -.7 .2 -.3 .1 -.7 .3 -.3 .1 .0 0M256.3 461.0l-.7 .2 -.7 .1 -.7 -.0 -.7 -.0 -.7 -.2 -.3 -.3 -.3 -.4 -.3 -.3 -.3 -.1 -.7 -.1 -.7 0 -.7 -.0 -.5 -.2 -.4 -.3 -.3 -.3 -.2 -.3 -.3 -.6 -.2 -.4 -.2 -.3 -.3 -.3 -.3 -.4 -.3 -.6 -.2 -.4 -.2 -.5 -.1 -.5 -.1 -.7 -.1 -.6 -.1 -.4 -.2 -.6 -.2 -.4 -.2 -.3 -.2 -.4 -.3 -.5 -.2 -.4 -.1 -.5 -.1 -.5 -.1 -.7 -.2 -.7 -.1 -.3 -.2 -.6 -.2 -.4 -.2 -.7 -.1 -.3 -.1 -.7 -.2 -.7 -.1 -.3 -.2 -.7 -.1 -.3 -.1 -.7 .0 -.7 .0 -.7 0 -.7 -.1 -.7 -.1 -.4 -.1 -.6 -.2 -.7 -.1 -.3 -.1 -.7 0 -.7 .0 -.7 .1 -.7 .1 -.5 .1 -.5 .1 -.7 .1 -.5 .1 -.5 .2 -.7 .1 -.4 .1 -.6 .1 -.7 .1 -.7 .0 -.3 .1 -.7 .0 -.7 .0 -.7 0 -.7 .1 -.7 .2 -.6 .1 -.4 .2 -.6 .1 -.4 .1 -.7 .1 -.6 .0 -.4 .1 -.7 .2 -.7 .1 -.3 .1 -.7 .1 -.7 .1 -.5 .1 -.5 .2 -.7 .2 -.3 .2 -.3 .3 -.7 .1 -.3 .1 -.7 .1 -.7 .0 -.3 .1 -.7 .2 -.7 .1 -.3 .3 -.7 .2 -.3 .2 -.3 .3 -.6 .3 -.4 .3 -.3 .3 -.3 .3 -.3 .3 -.3 .2 -.3 .3 -.4 .3 -.5 .3 -.4 .2 -.3 .2 -.4 .3 -.6 .2 -.3 .2 -.4 .3 -.4 .3 -.4 .3 -.4 .3 -.4 .3 -.4 .2 -.3 .2 -.3 .3 -.3 .3 -.4 .3 -.4 .3 -.4 .3 -.4 .3 -.3 .4 -.3 .3 -.2 .3 -.2 .7 -.3 .3 -.2 .3 -.2 .4 -.3 .3 -.4 .3 -.5 .3 -.3 .3 -.2 .7 -.1 .7 .2 .3 .2 .3 .4 .2 .4 .1 .3 .3 .7 .2 .3 .2 .3 .3 .4 .3 .6 .2 .4 .2 .3 .3 .6 .3 .4 .2 .3 .2 .4 .2 .6 .1 .7 .0 .7 -.1 .7 -.1 .7 0 .7 .1 .7 .1 .3 .2 .7 .1 .3 .2 .7 .2 .7 .1 .3 .2 .5 .3 .5 .2 .3 .2 .5 .2 .5 .1 .3 .3 .7 .1 .3 .2 .7 .1 .3 .2 .7 .1 .3 .1 .7 .0 .7 0 .7 0 .7 0 .7 .0 .7 .0 .7 .1 .7 .1 .7 .1 .3 .1 .7 .1 .7 .1 .3 .1 .7 .1 .7 .0 .3 .1 .7 .1 .7 .1 .5 .1 .5 .0 .7 0 .7 0 .7 -.1 .5 -.1 .5 -.2 .7 -.1 .3 -.2 .7 -.1 .4 -.1 .6 0 .7 0 .7 0 .7 -.1 .7 -.1 .3 -.2 .6 -.2 .4 -.2 .7 0 .3 0 .7 0 .7 0 .7 -.1 .7 0 .7 -.1 .7 -.1 .3 -.2 .7 -.1 .3 -.3 .7 -.1 .3 -.3 .7 -.1 .3 -.2 .5 -.2 .5 -.1 .5 -.1 .5 -.2 .5 -.3 .5 -.2 .3 -.2 .3 -.2 .4 -.2 .6 -.1 .4 -.2 .6 -.1 .4 -.2 .6 -.1 .3 -.3 .6 -.3 .4 -.2 .3 -.3 .3 -.3 .3 -.3 .4 -.3 .4 -.3 .3 -.3 .3 -.3 .3 -.3 .4 -.3 .5 -.2 .3 -.2 .4 -.3 .6 -.3 .4 -.3 .3 -.3 .3 -.4 .3 -.4 .3 -.3 .1 .0 0M256.3 459.4l-.7 .2 -.7 0 -.7 -.1 -.5 -.2 -.5 -.2 -.4 -.2 -.6 -.2 -.7 -.1 -.7 0 -.7 0 -.5 -.1 -.5 -.3 -.2 -.3 -.2 -.3 -.3 -.4 -.3 -.4 -.3 -.4 -.3 -.4 -.2 -.3 -.2 -.5 -.1 -.5 -.2 -.7 -.1 -.3 -.2 -.7 -.1 -.3 -.2 -.4 -.3 -.6 -.2 -.3 -.2 -.4 -.3 -.6 -.1 -.3 -.1 -.7 -.1 -.7 -.1 -.5 -.1 -.5 -.2 -.5 -.2 -.5 -.1 -.7 -.1 -.6 -.1 -.4 -.2 -.7 -.2 -.3 -.2 -.4 -.3 -.6 -.1 -.3 -.1 -.7 .0 -.7 .0 -.7 -.1 -.7 -.1 -.7 -.1 -.3 -.2 -.7 -.1 -.4 -.1 -.6 -.1 -.7 0 -.7 .1 -.7 .1 -.7 .1 -.3 .2 -.7 .2 -.6 .1 -.4 .2 -.7 .1 -.3 .1 -.7 .1 -.7 .1 -.7 .0 -.3 .1 -.7 .0 -.7 .0 -.7 0 -.7 .0 -.7 .1 -.7 .1 -.3 .2 -.7 .1 -.3 .2 -.7 .1 -.7 .1 -.3 .1 -.7 .1 -.5 .1 -.5 .1 -.7 .1 -.6 .0 -.4 .1 -.7 .2 -.5 .2 -.5 .2 -.3 .2 -.5 .2 -.5 .1 -.4 .1 -.6 .1 -.7 .1 -.7 .1 -.3 .3 -.7 .2 -.3 .2 -.4 .3 -.6 .2 -.3 .3 -.3 .4 -.3 .4 -.3 .4 -.3 .3 -.4 .2 -.3 .2 -.3 .2 -.4 .3 -.6 .2 -.3 .2 -.4 .2 -.6 .1 -.3 .3 -.6 .3 -.4 .3 -.3 .3 -.3 .3 -.3 .3 -.3 .3 -.4 .3 -.3 .3 -.3 .4 -.3 .4 -.3 .3 -.2 .4 -.2 .6 -.3 .3 -.1 .7 -.1 .7 0 .5 .2 .5 .3 .3 .3 .3 .3 .3 .3 .4 .3 .4 .2 .5 .1 .5 .1 .4 .2 .3 .3 .2 .7 0 .7 0 .7 .1 .7 .1 .4 .3 .6 .2 .3 .3 .6 .1 .4 .1 .7 .0 .4 .1 .6 .2 .7 .1 .3 .3 .5 .3 .5 .2 .3 .2 .4 .2 .6 .1 .3 .2 .7 .1 .6 .1 .4 .2 .7 .1 .3 .1 .7 .0 .7 0 .7 .0 .7 .1 .7 .1 .3 .1 .7 .1 .7 .1 .7 .1 .3 .1 .7 .1 .7 .1 .3 .1 .7 .1 .7 .1 .7 .0 .3 .1 .7 .1 .7 .1 .7 .0 .7 .0 .7 -.1 .7 -.1 .7 -.1 .3 -.3 .7 -.1 .3 -.2 .7 0 .7 .0 .7 0 .7 -.1 .4 -.2 .6 -.2 .4 -.3 .6 -.1 .3 -.1 .7 0 .7 .0 .7 0 .7 0 .7 0 .7 -.1 .7 -.1 .3 -.2 .7 -.1 .3 -.2 .7 -.1 .3 -.3 .7 -.2 .3 -.2 .3 -.3 .5 -.3 .5 -.1 .3 -.3 .7 -.2 .3 -.2 .3 -.3 .6 -.2 .4 -.1 .3 -.2 .7 -.1 .4 -.2 .6 -.2 .5 -.2 .5 -.2 .3 -.3 .6 -.3 .4 -.3 .3 -.3 .3 -.3 .3 -.3 .3 -.3 .3 -.3 .3 -.4 .3 -.3 .3 -.3 .4 -.3 .6 -.3 .4 -.3 .3 -.4 .3 -.4 .3 -.3 .2 .0 0M255.3 457.9l-.7 .2 -.7 .1 -.7 -.1 -.7 -.2 -.3 -.1 -.7 -.1 -.7 -.1 -.3 -.1 -.5 -.3 -.3 -.3 -.3 -.3 -.4 -.3 -.3 -.3 -.3 -.3 -.2 -.4 -.2 -.6 -.1 -.3 -.3 -.7 -.2 -.3 -.2 -.5 -.3 -.5 -.2 -.3 -.2 -.4 -.3 -.6 -.1 -.3 -.2 -.7 -.1 -.7 0 -.3 -.1 -.7 -.2 -.7 -.1 -.3 -.2 -.7 -.1 -.3 -.1 -.7 -.1 -.7 -.1 -.3 -.3 -.7 -.2 -.3 -.2 -.3 -.3 -.7 -.1 -.3 -.1 -.7 0 -.7 0 -.7 -.1 -.7 -.1 -.3 -.1 -.7 -.2 -.7 -.1 -.3 -.1 -.7 -.1 -.7 .0 -.7 .1 -.7 .1 -.7 .1 -.3 .2 -.7 .1 -.4 .2 -.6 .2 -.7 .1 -.3 .1 -.7 .1 -.7 .1 -.7 .0 -.3 .0 -.7 0 -.7 0 -.7 .0 -.7 .1 -.7 .2 -.6 .1 -.4 .2 -.7 .1 -.3 .2 -.7 .1 -.5 .1 -.5 .2 -.7 .1 -.3 .1 -.7 .1 -.7 .1 -.3 .2 -.7 .2 -.4 .3 -.6 .2 -.3 .2 -.3 .3 -.7 .1 -.3 .1 -.7 .1 -.7 .1 -.5 .1 -.5 .2 -.5 .3 -.5 .2 -.3 .2 -.3 .3 -.3 .4 -.3 .4 -.3 .4 -.3 .4 -.3 .3 -.3 .3 -.3 .2 -.3 .3 -.5 .3 -.5 .3 -.3 .3 -.3 .2 -.3 .3 -.6 .1 -.4 .2 -.4 .3 -.4 .3 -.3 .4 -.3 .6 -.3 .3 -.2 .3 -.2 .7 -.3 .3 -.2 .3 -.2 .7 -.3 .4 .3 .3 .5 .3 .5 .2 .3 .2 .3 .3 .3 .4 .3 .6 .3 .3 .2 .3 .3 .3 .4 .3 .5 .3 .3 .3 .3 .2 .3 .3 .6 .1 .4 .1 .7 .1 .7 .1 .3 .1 .7 .1 .7 .1 .4 .3 .4 .3 .3 .3 .4 .3 .5 .1 .3 .1 .7 .2 .7 .1 .3 .2 .6 .1 .4 .1 .7 .0 .7 .1 .7 .1 .3 .3 .6 .1 .4 .2 .7 .0 .3 .1 .7 .1 .7 .1 .7 .1 .7 .0 .3 .1 .7 .1 .7 .1 .7 .1 .7 .1 .7 .0 .4 .1 .6 .1 .7 .0 .7 -.1 .7 -.1 .5 -.2 .5 -.1 .4 -.2 .6 -.1 .7 0 .7 .0 .7 0 .3 -.1 .7 -.2 .5 -.2 .5 -.1 .3 -.2 .7 -.1 .4 -.1 .6 0 .7 0 .7 .0 .7 0 .7 -.1 .7 -.1 .4 -.2 .6 -.2 .6 -.1 .4 -.2 .7 -.2 .3 -.2 .3 -.3 .4 -.3 .4 -.3 .5 -.2 .3 -.2 .5 -.2 .5 -.2 .3 -.3 .5 -.2 .5 -.1 .3 -.2 .7 -.1 .4 -.1 .6 -.2 .7 -.1 .3 -.2 .4 -.3 .5 -.3 .4 -.3 .3 -.3 .3 -.3 .3 -.4 .3 -.5 .3 -.4 .3 -.3 .3 -.3 .3 -.3 .3 -.3 .3 -.3 .2 -.7 .2 -.3 .1 .0 0M254.7 457.0l-.7 .2 -.7 -.0 -.7 -.2 -.3 -.1 -.5 -.3 -.4 -.3 -.4 -.3 -.3 -.2 -.5 -.2 -.5 -.3 -.3 -.3 -.3 -.4 -.2 -.3 -.2 -.4 -.3 -.6 -.2 -.3 -.2 -.3 -.3 -.4 -.3 -.6 -.2 -.3 -.2 -.5 -.2 -.5 -.1 -.7 0 -.5 -.1 -.5 -.1 -.7 -.2 -.6 -.1 -.4 -.2 -.6 -.1 -.4 -.1 -.7 -.1 -.5 -.1 -.5 -.2 -.5 -.3 -.5 -.2 -.3 -.2 -.4 -.2 -.6 -.1 -.7 -.1 -.7 0 -.3 0 -.7 0 -.7 -.1 -.7 -.1 -.4 -.2 -.6 -.1 -.5 -.1 -.5 0 -.7 .1 -.7 .1 -.3 .2 -.7 .1 -.4 .2 -.6 .2 -.5 .1 -.5 .2 -.7 .1 -.3 .1 -.7 .1 -.7 .1 -.6 .0 -.4 0 -.7 0 -.3 0 -.7 .0 -.7 .0 -.3 .1 -.7 .2 -.7 .1 -.3 .2 -.7 .1 -.4 .2 -.6 .1 -.3 .2 -.7 .1 -.6 .1 -.4 .1 -.7 .1 -.5 .2 -.5 .2 -.3 .3 -.5 .3 -.5 .2 -.3 .2 -.5 .2 -.5 .1 -.5 .1 -.5 .1 -.7 .1 -.7 .1 -.3 .3 -.5 .3 -.5 .3 -.4 .3 -.3 .4 -.3 .3 -.3 .3 -.3 .3 -.3 .3 -.3 .3 -.3 .3 -.3 .3 -.3 .7 -.3 .3 -.1 .7 -.3 .3 -.3 .2 -.3 .1 -.3 .1 -.7 .2 -.7 .3 -.3 .3 -.1 .7 -.0 .7 .1 .3 .1 .7 .3 .3 .2 .3 .3 .3 .3 .3 .4 .3 .5 .1 .3 .3 .4 .3 .3 .3 .3 .4 .3 .3 .4 .2 .6 .1 .3 .1 .7 .0 .7 0 .7 .1 .7 .1 .4 .3 .4 .3 .3 .3 .6 .1 .3 .1 .7 .1 .7 .1 .5 .2 .5 .2 .3 .3 .6 .2 .4 .2 .3 .2 .3 .3 .5 .3 .5 .1 .3 .1 .7 .0 .7 .0 .7 .1 .7 .0 .7 .0 .7 .0 .3 .0 .7 .0 .7 .0 .7 .0 .7 .0 .7 .1 .7 .1 .4 .1 .6 -.1 .6 -.1 .4 -.2 .6 -.1 .4 -.2 .7 -.1 .7 0 .3 0 .7 -.1 .7 -.2 .7 -.1 .3 -.2 .6 -.2 .4 -.2 .4 -.2 .6 -.1 .3 -.1 .7 .0 .7 .1 .7 0 .7 -.1 .7 -.2 .7 -.1 .3 -.1 .7 -.2 .6 -.2 .4 -.2 .3 -.3 .3 -.3 .4 -.3 .5 -.2 .4 -.2 .3 -.3 .6 -.2 .4 -.2 .3 -.3 .7 -.1 .3 -.2 .5 -.2 .5 -.2 .7 -.1 .3 -.2 .7 -.1 .3 -.3 .5 -.3 .5 -.3 .4 -.3 .3 -.4 .3 -.3 .2 -.3 .2 -.6 .3 -.4 .2 -.3 .2 -.4 .2 -.5 .3 -.4 .2 -.3 .2 .0 0M254.3 456.0l-.7 0 -.3 -.1 -.3 -.3 -.3 -.4 -.3 -.3 -.5 -.3 -.5 -.1 -.7 -.1 -.4 -.1 -.5 -.3 -.3 -.3 -.3 -.3 -.3 -.3 -.3 -.4 -.3 -.5 -.3 -.5 -.2 -.3 -.2 -.4 -.2 -.6 -.1 -.5 -.1 -.5 -.1 -.7 -.1 -.7 -.1 -.3 -.2 -.7 -.1 -.4 -.2 -.6 -.1 -.5 -.1 -.5 -.1 -.7 -.1 -.3 -.2 -.7 -.2 -.3 -.2 -.4 -.3 -.6 -.1 -.3 -.1 -.7 -.1 -.7 0 -.7 .0 -.7 0 -.7 -.1 -.3 -.2 -.7 -.1 -.3 -.2 -.7 -.1 -.7 .0 -.7 .1 -.7 .1 -.3 .2 -.7 .1 -.3 .2 -.7 .1 -.3 .2 -.7 .1 -.3 .2 -.7 .1 -.7 .0 -.5 .0 -.3 0 -.5 -.1 -.7 0 -.7 0 -.7 .1 -.7 .1 -.5 .1 -.5 .2 -.7 .1 -.3 .3 -.7 .1 -.3 .2 -.5 .2 -.5 .1 -.7 .1 -.3 .2 -.7 .2 -.4 .3 -.6 .2 -.3 .2 -.3 .3 -.6 .2 -.4 .2 -.3 .3 -.7 .1 -.3 .2 -.7 .1 -.4 .1 -.6 .2 -.6 .2 -.4 .2 -.3 .3 -.3 .3 -.3 .4 -.3 .4 -.3 .4 -.3 .3 -.2 .7 -.2 .7 .1 .7 .1 .6 -.2 .2 -.3 .2 -.6 .2 -.4 .2 -.3 .3 -.6 .3 -.4 .4 -.3 .4 -.1 .7 .1 .3 .2 .3 .3 .3 .6 .1 .3 .2 .7 .2 .3 .4 .3 .5 .3 .3 .2 .4 .2 .3 .4 .2 .6 .0 .7 0 .7 .0 .7 .1 .4 .3 .6 .2 .3 .2 .3 .3 .7 .1 .3 .1 .7 .2 .7 .1 .3 .3 .6 .2 .4 .2 .3 .3 .3 .4 .3 .4 .3 .3 .3 .2 .4 .1 .6 .1 .7 .1 .7 .1 .7 .0 .6 .0 .4 0 .4 0 .6 0 .7 .0 .7 0 .7 0 .7 0 .7 .1 .6 .1 .4 .1 .7 -.1 .7 -.1 .3 -.2 .7 -.1 .4 -.1 .6 0 .7 0 .7 -.1 .7 -.2 .7 -.1 .3 -.3 .7 -.1 .3 -.2 .4 -.2 .6 -.1 .3 -.1 .7 0 .7 .0 .7 0 .7 -.1 .7 -.1 .4 -.1 .6 -.2 .7 -.1 .3 -.2 .4 -.3 .4 -.3 .4 -.3 .5 -.2 .3 -.2 .3 -.3 .6 -.2 .4 -.2 .5 -.2 .5 -.2 .4 -.3 .6 -.2 .3 -.3 .6 -.1 .4 -.2 .7 -.1 .3 -.2 .5 -.3 .5 -.3 .3 -.3 .3 -.4 .3 -.4 .3 -.3 .2 -.4 .2 -.6 .3 -.3 .2 -.4 .2 -.6 .3 -.3 .1 .0 0" fill="none" stroke="#111" stroke-width="0.5" stroke-linejoin="round"/>
<path d="M255.0 454.7l-.7 .1 -.6 -.1 -.4 -.2 -.3 -.2 -.7 -.3 -.3 -.1 -.7 -.2 -.3 -.1 -.7 -.3 -.3 -.2 -.3 -.3 -.3 -.3 -.3 -.4 -.3 -.4 -.2 -.3 -.2 -.3 -.3 -.7 -.1 -.3 -.1 -.7 -.1 -.7 -.1 -.3 -.1 -.7 -.2 -.6 -.1 -.4 -.2 -.6 -.1 -.4 -.2 -.7 -.1 -.3 -.1 -.7 -.2 -.6 -.2 -.4 -.2 -.4 -.3 -.6 -.1 -.3 -.2 -.7 -.1 -.3 -.1 -.7 0 -.7 .0 -.7 0 -.7 -.1 -.7 -.1 -.3 -.2 -.7 -.1 -.3 -.1 -.7 .1 -.7 .1 -.3 .2 -.7 .1 -.3 .2 -.7 .1 -.3 .3 -.6 .2 -.4 .2 -.4 .2 -.6 .1 -.7 0 -.7 -.1 -.7 -.1 -.7 -.1 -.7 0 -.3 .0 -.5 .0 -.5 .1 -.7 .2 -.6 .1 -.4 .2 -.4 .3 -.6 .2 -.3 .2 -.5 .1 -.5 .1 -.7 .1 -.3 .2 -.7 .2 -.3 .2 -.4 .3 -.6 .2 -.3 .2 -.4 .3 -.6 .2 -.3 .2 -.3 .3 -.4 .3 -.6 .1 -.3 .2 -.7 .1 -.3 .3 -.7 .2 -.3 .2 -.3 .3 -.3 .6 -.3 .3 -.1 .7 0 .3 .1 .7 .1 .7 0 .7 -.1 .3 -.1 .5 -.3 .3 -.3 .3 -.3 .5 -.2 .7 .2 .3 .2 .3 .2 .5 .3 .3 .3 .2 .5 .1 .5 .1 .7 .2 .7 .1 .3 .2 .7 .2 .3 .2 .3 .3 .5 .3 .5 .1 .3 .2 .7 .1 .3 .2 .7 .1 .4 .3 .6 .2 .3 .2 .3 .3 .3 .4 .3 .3 .3 .3 .7 .1 .3 .2 .7 .1 .6 .0 .4 0 .7 0 .3 0 .7 .0 .7 .0 .7 0 .7 -.1 .7 -.1 .7 0 .7 0 .7 -.2 .7 -.1 .3 -.1 .7 .0 .7 .1 .7 .0 .7 .0 .7 0 .7 -.1 .7 -.1 .3 -.2 .7 -.1 .3 -.3 .6 -.1 .4 -.2 .7 -.1 .3 -.1 .7 0 .7 0 .7 -.1 .7 -.1 .3 -.2 .7 -.1 .3 -.3 .5 -.3 .4 -.3 .3 -.3 .4 -.3 .4 -.3 .4 -.2 .3 -.2 .4 -.2 .6 0 .7 -.1 .7 -.1 .3 -.3 .6 -.2 .4 -.2 .3 -.3 .7 -.1 .3 -.2 .5 -.3 .5 -.2 .3 -.3 .3 -.3 .3 -.4 .3 -.5 .3 -.3 .1 -.7 .2 -.3 .1 .0 0M254.3 453.6l-.7 0 -.3 -.1 -.7 -.2 -.3 -.1 -.7 -.3 -.3 -.2 -.4 -.2 -.6 -.3 -.4 -.3 -.3 -.3 -.3 -.4 -.3 -.4 -.2 -.3 -.2 -.4 -.2 -.6 -.1 -.5 -.1 -.5 -.1 -.7 -.1 -.5 -.2 -.5 -.2 -.5 -.2 -.5 -.1 -.4 -.2 -.6 -.1 -.7 -.1 -.3 -.2 -.7 -.2 -.5 -.3 -.5 -.2 -.3 -.2 -.6 -.2 -.4 -.2 -.7 0 -.3 0 -.7 .0 -.7 .0 -.6 .0 -.4 0 -.3 -.1 -.7 -.2 -.5 -.2 -.5 -.1 -.7 .1 -.7 .1 -.4 .2 -.6 .1 -.4 .3 -.6 .2 -.3 .2 -.5 .2 -.5 .1 -.3 .1 -.7 .0 -.7 -.1 -.7 -.1 -.6 -.1 -.4 -.1 -.7 0 -.7 .1 -.7 .1 -.6 .1 -.4 .2 -.5 .3 -.5 .2 -.3 .2 -.3 .3 -.6 .2 -.4 .2 -.6 .1 -.4 .2 -.6 .2 -.4 .2 -.3 .3 -.7 .2 -.3 .2 -.4 .3 -.5 .3 -.3 .3 -.2 .3 -.3 .3 -.4 .3 -.6 .2 -.3 .2 -.3 .3 -.5 .3 -.4 .3 -.3 .3 -.2 .6 -.2 .4 -.1 .7 -.1 .7 0 .5 .1 .5 .2 .5 .2 .5 .1 .7 .2 .3 .2 .3 .3 .3 .4 .3 .6 .2 .3 .2 .3 .3 .4 .3 .4 .3 .5 .2 .3 .2 .5 .1 .5 .2 .7 .1 .3 .2 .7 .1 .3 .3 .5 .3 .5 .3 .3 .2 .3 .2 .3 .3 .6 .2 .4 .1 .7 0 .7 -.1 .7 .0 .7 .1 .7 .0 .5 .0 .4 0 .5 -.1 .7 -.1 .7 -.1 .5 -.1 .5 -.2 .6 -.1 .4 -.2 .7 .0 .7 .2 .7 .1 .5 .0 .5 .0 .7 0 .7 0 .3 -.1 .7 -.2 .6 -.1 .4 -.2 .7 -.1 .3 -.2 .7 -.1 .3 -.1 .7 -.1 .7 -.1 .7 -.1 .3 -.2 .6 -.2 .4 -.2 .3 -.3 .3 -.3 .3 -.3 .3 -.3 .4 -.3 .5 -.2 .4 -.2 .3 -.2 .7 0 .3 .0 .7 0 .7 -.2 .7 -.2 .3 -.2 .4 -.3 .6 -.2 .4 -.2 .3 -.3 .5 -.3 .4 -.3 .3 -.3 .2 -.7 .2 -.3 .1 -.7 .2 -.3 .1 .0 0M254.3 452.6l-.7 .2 -.7 -.1 -.3 -.2 -.3 -.3 -.3 -.3 -.3 -.3 -.6 -.3 -.4 -.1 -.4 -.2 -.4 -.3 -.3 -.3 -.2 -.3 -.3 -.7 -.1 -.3 -.1 -.7 -.2 -.7 -.1 -.3 -.2 -.6 -.2 -.4 -.1 -.3 -.2 -.7 -.1 -.4 -.1 -.6 -.1 -.7 -.1 -.4 -.2 -.6 -.2 -.3 -.3 -.6 -.2 -.4 -.2 -.4 -.2 -.6 -.1 -.7 0 -.7 .0 -.7 .0 -.7 .0 -.7 -.1 -.7 -.1 -.3 -.2 -.7 0 -.7 .1 -.7 .1 -.4 .2 -.6 .1 -.3 .3 -.7 .2 -.3 .2 -.4 .2 -.6 .1 -.7 .0 -.3 0 -.7 0 -.3 -.1 -.7 -.1 -.7 -.1 -.6 0 -.4 .0 -.3 .2 -.7 .2 -.4 .3 -.6 .2 -.3 .2 -.3 .3 -.4 .3 -.6 .2 -.3 .2 -.5 .2 -.5 .1 -.4 .2 -.6 .1 -.3 .3 -.6 .2 -.4 .2 -.3 .3 -.3 .4 -.3 .4 -.3 .3 -.3 .2 -.3 .3 -.5 .3 -.5 .2 -.3 .3 -.3 .4 -.3 .4 -.2 .5 -.1 .5 -.0 .3 0 .7 .2 .3 .2 .6 .3 .4 .2 .3 .2 .7 .3 .3 .2 .3 .3 .3 .3 .3 .3 .3 .3 .3 .4 .3 .6 .1 .3 .1 .7 .1 .4 .2 .6 .2 .6 .1 .4 .2 .5 .3 .5 .2 .3 .2 .3 .2 .3 .3 .6 .1 .4 .1 .7 -.1 .7 0 .7 .1 .7 .1 .6 .0 .4 0 .4 -.1 .6 -.2 .7 -.1 .3 -.2 .7 -.1 .3 -.2 .7 -.1 .3 -.2 .7 -.1 .7 .1 .7 .1 .5 .1 .5 .1 .7 .0 .7 0 .7 -.1 .7 -.1 .5 -.1 .5 -.2 .7 -.1 .3 -.2 .7 -.1 .3 -.2 .7 -.1 .4 -.2 .6 -.2 .3 -.3 .5 -.3 .5 -.2 .3 -.2 .3 -.3 .4 -.3 .6 -.2 .3 -.2 .3 -.3 .5 -.2 .5 -.1 .3 0 .7 .0 .7 -.1 .7 -.2 .3 -.3 .5 -.3 .5 -.3 .3 -.3 .3 -.4 .3 -.3 .2 -.5 .2 -.5 .3 -.3 .2 -.3 .2 .0 0M254.0 451.4l-.7 -.1 -.3 -.4 -.2 -.3 -.4 -.3 -.4 -.2 -.7 -.0 -.7 -.1 -.3 -.2 -.3 -.3 -.3 -.6 -.1 -.3 -.2 -.7 -.1 -.4 -.2 -.6 -.2 -.3 -.3 -.4 -.3 -.6 -.1 -.3 -.1 -.7 -.1 -.7 -.1 -.3 -.2 -.7 -.1 -.3 -.2 -.5 -.2 -.5 -.1 -.3 -.2 -.7 -.1 -.3 -.1 -.7 -.1 -.7 .0 -.7 .1 -.7 .0 -.7 0 -.7 -.1 -.7 -.1 -.7 .0 -.7 .2 -.7 .1 -.4 .2 -.6 .1 -.3 .3 -.7 .1 -.3 .2 -.7 .1 -.3 .1 -.7 .0 -.7 0 -.7 -.1 -.5 -.1 -.5 -.1 -.7 .0 -.7 .1 -.4 .3 -.6 .2 -.3 .2 -.3 .3 -.6 .2 -.4 .2 -.3 .2 -.4 .3 -.6 .1 -.3 .2 -.6 .2 -.4 .2 -.4 .3 -.6 .2 -.3 .3 -.3 .3 -.3 .3 -.3 .3 -.3 .3 -.4 .3 -.5 .2 -.4 .2 -.3 .3 -.3 .5 -.3 .4 -.1 .7 -.1 .7 .1 .3 .1 .7 .3 .3 .2 .3 .2 .4 .3 .6 .3 .3 .2 .3 .2 .4 .3 .3 .3 .2 .3 .2 .7 .1 .4 .1 .6 .2 .7 .1 .3 .2 .7 .1 .3 .3 .5 .3 .5 .3 .4 .2 .3 .2 .3 .1 .7 -.1 .7 -.1 .7 .1 .7 .2 .7 .1 .3 .0 .7 -.1 .3 -.3 .7 -.2 .3 -.2 .5 -.2 .5 -.1 .6 -.1 .4 -.1 .7 -.1 .7 .0 .7 .1 .7 .2 .7 .1 .3 .1 .7 .0 .7 0 .7 -.1 .7 -.1 .6 -.1 .4 -.2 .7 -.1 .3 -.2 .7 -.1 .3 -.3 .6 -.2 .4 -.2 .3 -.3 .6 -.2 .4 -.2 .3 -.3 .6 -.2 .4 -.2 .3 -.3 .6 -.3 .4 -.2 .3 -.2 .4 -.2 .6 -.1 .7 0 .7 -.1 .3 -.3 .6 -.3 .4 -.3 .3 -.4 .3 -.3 .2 -.7 .2 -.3 .1 -.7 .3 -.3 .2 .0 0M256.0 449.7l-.7 .1 -.7 -.1 -.7 -.1 -.3 -.1 -.7 -.2 -.4 -.1 -.6 -.1 -.7 -.1 -.3 -.1 -.4 -.3 -.3 -.5 -.2 -.5 -.1 -.3 -.3 -.7 -.2 -.3 -.3 -.3 -.2 -.3 -.3 -.7 -.1 -.3 -.1 -.7 -.1 -.7 -.1 -.3 -.3 -.6 -.2 -.4 -.2 -.3 -.3 -.7 -.1 -.3 -.2 -.7 -.1 -.3 -.1 -.7 0 -.7 .1 -.7 .1 -.6 .0 -.4 0 -.5 0 -.5 0 -.7 .1 -.6 .1 -.4 .2 -.7 .1 -.4 .2 -.6 .1 -.3 .2 -.7 .1 -.5 .1 -.5 .1 -.7 .1 -.7 .0 -.7 -.1 -.7 -.1 -.7 .0 -.7 .2 -.7 .2 -.3 .2 -.3 .3 -.7 .2 -.3 .2 -.4 .3 -.5 .3 -.5 .3 -.3 .2 -.3 .2 -.3 .3 -.4 .3 -.5 .3 -.5 .2 -.3 .2 -.4 .3 -.6 .2 -.3 .2 -.3 .3 -.5 .3 -.5 .2 -.3 .3 -.3 .5 -.3 .3 -.1 .7 0 .3 .1 .6 .3 .4 .3 .3 .2 .3 .2 .6 .3 .4 .2 .3 .2 .4 .3 .3 .3 .2 .7 .1 .4 .2 .6 .2 .5 .2 .5 .2 .5 .2 .5 .2 .3 .3 .5 .3 .4 .3 .4 .1 .3 0 .7 -.1 .3 -.2 .7 .0 .7 .3 .6 .2 .4 .0 .7 -.2 .6 -.2 .4 -.2 .3 -.2 .4 -.3 .6 -.1 .3 0 .7 .0 .4 .0 .6 .1 .7 .1 .7 .1 .7 .1 .3 .1 .7 .1 .7 .0 .7 -.1 .7 -.1 .7 -.1 .3 -.1 .7 -.1 .6 -.1 .4 -.2 .6 -.2 .4 -.2 .3 -.3 .5 -.2 .5 -.1 .3 -.2 .7 -.1 .3 -.3 .5 -.2 .5 -.2 .3 -.2 .4 -.3 .5 -.2 .4 -.2 .3 -.2 .7 -.1 .7 -.1 .3 -.3 .6 -.3 .3 -.3 .2 .0 0M255.7 448.7l-.7 .1 -.7 0 -.7 -.0 -.7 -.1 -.7 -.1 -.3 -.1 -.6 -.3 -.4 -.3 -.2 -.3 -.2 -.3 -.3 -.6 -.2 -.4 -.2 -.3 -.3 -.3 -.3 -.4 -.2 -.6 -.1 -.7 0 -.3 -.2 -.7 -.1 -.4 -.3 -.6 -.2 -.3 -.2 -.5 -.2 -.5 -.2 -.5 -.2 -.5 -.2 -.6 0 -.4 .0 -.7 .0 -.3 .1 -.7 .0 -.7 0 -.7 .0 -.7 .1 -.7 .1 -.7 .1 -.3 .2 -.7 .1 -.3 .2 -.7 .1 -.7 .1 -.3 .1 -.7 .2 -.7 .1 -.3 .1 -.7 -.1 -.7 -.1 -.6 .0 -.1 .1 -.6 .2 -.7 .1 -.3 .2 -.5 .2 -.5 .2 -.3 .3 -.4 .3 -.3 .3 -.2 .7 -.3 .3 -.1 .7 -.2 .3 -.2 .3 -.4 .1 -.4 .1 -.7 .1 -.7 .1 -.3 .3 -.3 .5 -.2 .7 -.1 .3 -.1 .7 -.1 .7 0 .7 .1 .3 .1 .6 .3 .3 .3 .2 .3 .2 .4 .3 .6 .1 .3 .2 .6 .1 .4 .2 .4 .3 .6 .2 .3 .2 .3 .1 .7 -.2 .5 -.2 .5 -.2 .7 .1 .7 .2 .4 .3 .6 .0 .7 -.3 .7 -.2 .3 -.2 .3 -.2 .5 -.1 .5 .1 .7 .1 .3 .1 .7 .1 .7 .0 .3 .1 .7 .1 .7 .1 .7 .1 .7 0 .7 -.2 .7 -.1 .3 -.1 .7 0 .7 -.1 .7 -.1 .4 -.3 .6 -.2 .3 -.2 .3 -.2 .5 -.2 .5 -.2 .6 -.2 .4 -.2 .4 -.3 .6 -.2 .3 -.2 .4 -.3 .5 -.3 .4 -.2 .3 -.2 .4 -.2 .6 -.1 .3 -.3 .5 -.3 .2 .0 0M254.7 448.0l-.7 .1 -.7 .1 -.7 -.0 -.7 -.2 -.3 -.2 -.3 -.3 -.3 -.5 -.2 -.3 -.2 -.5 -.3 -.5 -.3 -.3 -.2 -.3 -.2 -.7 0 -.3 -.1 -.7 -.2 -.7 -.1 -.3 -.3 -.7 -.1 -.3 -.2 -.4 -.2 -.6 -.2 -.3 -.3 -.6 -.1 -.4 -.1 -.7 .0 -.7 .1 -.7 .0 -.7 0 -.7 .0 -.7 .1 -.7 .1 -.3 .2 -.7 .1 -.5 .2 -.5 .1 -.7 .0 -.3 .1 -.7 .1 -.7 .1 -.3 .2 -.7 .1 -.7 0 -.7 .0 -.7 .0 -.3 .2 -.7 .1 -.4 .2 -.6 .1 -.4 .3 -.5 .3 -.3 .3 -.2 .7 -.2 .3 -.1 .7 -.2 .3 -.2 .4 -.3 .3 -.3 .3 -.6 .1 -.4 .2 -.6 .3 -.4 .3 -.2 .3 -.2 .7 -.1 .7 .1 .3 .1 .5 .3 .4 .3 .3 .3 .3 .3 .2 .4 .3 .6 .1 .3 .3 .6 .2 .4 .2 .5 .1 .5 -.1 .4 -.1 .6 -.1 .7 .1 .7 .2 .4 .3 .6 .1 .3 -.1 .7 -.2 .3 -.2 .3 -.3 .6 -.1 .4 .1 .7 .1 .3 .2 .7 .1 .3 .2 .7 .1 .7 .0 .7 .0 .7 0 .7 -.1 .7 -.2 .5 -.2 .5 -.1 .3 0 .7 .1 .3 .1 .7 -.1 .6 -.2 .4 -.3 .3 -.2 .3 -.3 .7 -.1 .3 -.2 .7 -.1 .3 -.3 .6 -.2 .4 -.1 .3 -.3 .7 -.2 .3 -.2 .3 -.2 .4 -.3 .6 -.2 .4 -.3 .3 -.5 .3 -.3 .1 .0 0M254.0 447.4l-.7 .2 -.7 0 -.7 -.3 -.3 -.3 -.2 -.3 -.2 -.4 -.3 -.6 -.2 -.3 -.2 -.5 -.1 -.5 -.1 -.7 -.1 -.5 -.2 -.5 -.2 -.4 -.2 -.6 -.1 -.4 -.2 -.6 -.2 -.3 -.3 -.5 -.3 -.5 -.2 -.4 -.1 -.3 -.1 -.7 .0 -.7 .0 -.7 0 -.7 0 -.7 .0 -.7 .1 -.3 .2 -.7 .1 -.5 .2 -.5 .2 -.6 .1 -.4 .1 -.7 .1 -.7 .1 -.4 .3 -.6 .1 -.3 .2 -.7 .1 -.7 .1 -.7 .1 -.3 .2 -.7 .1 -.5 .2 -.5 .2 -.3 .4 -.3 .5 -.3 .3 -.1 .7 -.2 .4 -.1 .6 -.2 .3 -.2 .3 -.4 .3 -.5 .2 -.3 .2 -.5 .3 -.4 .3 -.2 .7 0 .3 .2 .3 .3 .3 .3 .3 .3 .3 .5 .2 .5 .1 .3 .2 .7 .1 .3 .1 .7 -.1 .7 -.1 .3 -.1 .7 .0 .7 .1 .3 .3 .5 .2 .5 -.2 .7 -.1 .3 -.2 .7 .0 .7 .2 .7 .1 .3 .2 .7 .1 .4 .1 .6 .0 .7 0 .7 -.1 .6 -.2 .4 -.2 .3 -.3 .3 -.4 .3 -.1 .7 .1 .7 .1 .3 .1 .7 -.1 .7 -.2 .3 -.2 .3 -.3 .7 -.1 .3 -.1 .7 -.1 .5 -.3 .5 -.2 .3 -.2 .3 -.2 .7 -.1 .3 -.3 .7 -.2 .3 -.2 .3 -.3 .3 -.4 .3 -.6 .3 -.3 .1 .0 0M256.0 442.3l-.7 0 -.3 -.2 -.4 -.2 -.5 -.3 -.4 -.2 -.7 .1 -.3 .2 -.3 .2 -.7 .3 -.7 -.1 -.3 -.4 -.2 -.4 -.1 -.5 -.2 -.5 -.2 -.4 -.3 -.5 -.3 -.3 -.3 -.4 -.2 -.4 -.1 -.7 .0 -.7 0 -.7 0 -.5 0 -.5 .0 -.6 .1 -.4 .2 -.7 .1 -.3 .3 -.7 .1 -.3 .1 -.7 .0 -.7 .1 -.6 .1 -.4 .2 -.4 .2 -.6 .1 -.3 .1 -.7 .1 -.7 .1 -.5 .1 -.5 .2 -.7 .2 -.3 .3 -.3 .5 -.3 .4 -.2 .6 -.2 .4 -.1 .7 -.2 .3 -.2 .3 -.3 .3 -.4 .3 -.4 .3 -.3 .4 -.2 .7 .1 .3 .2 .3 .3 .3 .5 .1 .3 .2 .7 .1 .3 .0 .7 -.1 .7 -.1 .3 -.1 .7 .0 .7 .1 .5 .2 .5 .1 .7 -.1 .7 0 .7 .1 .7 .1 .3 .3 .7 .1 .3 .2 .7 .1 .7 -.1 .7 -.2 .6 -.3 .3 -.3 .1 -.7 -.0 -.3 -.0 -.3 .1 -.3 .3 -.1 .6 .1 .3 .3 .4 .3 .4 .3 .5 .1 .3 .0 .7 -.1 .5 -.3 .5 -.2 .3 -.2 .6 -.2 .4 -.2 .4 -.3 .3 .0 0M253.3 446.7l-.7 .1 -.3 -.2 -.3 -.5 -.2 -.5 -.1 -.7 .2 -.5 .3 -.3 .3 -.2 .7 -.2 .7 -.1 .7 .1 .4 .2 .2 .7 -.1 .7 -.2 .3 -.3 .3 -.5 .3 -.5 .3 -.3 .1 .0 0M255.7 440.4l-.7 .2 -.7 -.3 -.3 -.1 -.7 -.1 -.7 .1 -.3 .1 -.7 .2 -.4 -.3 -.3 -.5 -.2 -.5 -.3 -.3 -.4 -.3 -.4 -.3 -.2 -.3 -.1 -.3 -.1 -.7 -.1 -.7 -.1 -.7 0 -.7 .1 -.7 .2 -.5 .3 -.5 .2 -.3 .2 -.7 .1 -.3 .0 -.7 .1 -.7 .2 -.4 .3 -.6 .1 -.3 .2 -.7 .1 -.6 .1 -.4 .2 -.7 .1 -.3 .2 -.5 .2 -.5 .3 -.3 .5 -.3 .3 -.1 .7 -.2 .3 -.1 .6 -.3 .4 -.3 .3 -.3 .3 -.3 .3 -.2 .6 .1 .3 .3 .2 .3 .2 .7 .1 .3 .0 .7 -.1 .7 -.1 .3 -.1 .7 0 .7 .1 .7 .1 .3 .1 .7 -.1 .7 0 .7 .3 .7 .2 .3 .2 .3 .3 .7 .1 .3 0 .7 -.1 .3 -.3 .3 -.6 .2 -.7 .1 -.3 .1 -.4 .3 -.3 .7 0 .3 .0 .3 .2 .7 .2 .3 .3 .5 .2 .5 0 .7 -.2 .4 -.3 .4 -.3 .3 .0 0M255.3 439.1l-.7 .2 -.7 -.1 -.7 -.1 -.7 -.0 -.4 -.1 -.6 -.3 -.3 -.2 -.3 -.2 -.5 -.3 -.4 -.3 -.2 -.3 -.2 -.7 -.1 -.3 -.1 -.7 0 -.7 .2 -.6 .2 -.4 .2 -.3 .2 -.3 .3 -.7 .1 -.4 .1 -.6 .1 -.7 .2 -.7 .1 -.3 .2 -.7 .1 -.4 .1 -.6 .2 -.6 .2 -.4 .2 -.3 .3 -.5 .3 -.5 .3 -.3 .4 -.3 .3 -.1 .7 -.2 .3 -.1 .6 -.2 .4 -.1 .7 .1 .2 .4 .1 .3 .1 .7 -.1 .7 -.1 .3 -.1 .7 -.1 .7 .1 .7 .1 .7 -.1 .7 -.1 .3 -.2 .7 -.1 .3 .0 .3 .3 .5 .4 .2 .6 .3 .1 .4 -.1 .4 -.5 .3 -.5 .2 -.3 .2 -.3 .3 -.3 .6 -.1 .3 0 .7 .0 .7 .1 .4 .1 .6 .1 .7 -.2 .5 .0 0M254.0 438.0l-.7 0 -.7 -.1 -.3 -.1 -.7 -.2 -.3 -.1 -.6 -.3 -.3 -.3 -.2 -.3 -.2 -.7 -.1 -.6 .0 -.1 .2 -.7 .4 -.3 .4 -.2 .3 -.1 .7 -.3 .0 -.2 -.3 -.4 -.2 -.4 -.1 -.7 .1 -.7 .1 -.7 .1 -.3 .1 -.7 .1 -.7 .1 -.7 .2 -.3 .2 -.3 .3 -.5 .3 -.5 .2 -.4 .3 -.3 .5 -.3 .3 -.1 .7 -.1 .7 .1 .3 .4 .1 .3 0 .5 -.1 .5 -.2 .7 -.1 .3 0 .7 .0 .7 -.1 .7 -.2 .7 -.1 .3 -.1 .7 0 .7 .0 .7 -.2 .7 -.1 .3 -.1 .7 0 .7 0 .7 0 .7 -.1 .4 -.3 .5 -.3 .1 .0 0M254.0 432.4l-.7 0 -.6 -.2 -.3 -.3 -.1 -.3 0 -.7 .1 -.7 .0 -.3 .0 -.7 .1 -.7 .2 -.4 .3 -.4 .4 -.3 .4 -.3 .3 -.3 .7 -.3 .1 .7 -.1 .5 -.1 .5 .1 .6 .1 .4 .1 .7 0 .7 -.1 .7 -.1 .3 -.3 .6 -.3 .2 .0 0M253.3 437.3l-.7 -.0 -.3 -.1 -.7 -.2 -.3 -.2 -.3 -.3 -.3 -.6 0 -.3 .1 -.3 .3 -.3 .6 -.2 .7 -.1 .7 0 .7 .1 .3 .2 .2 .5 .0 .7 -.2 .7 -.4 .3 -.3 .1 .0 0M254.7 453.0l-.7 .2 -.7 -.0 -.7 -.2 -.3 -.2 -.3 -.2 -.4 -.3 -.6 -.3 -.3 -.2 -.3 -.2 -.4 -.3 -.3 -.3 -.3 -.3 -.3 -.5 -.2 -.5 -.1 -.5 -.1 -.5 -.1 -.7 -.1 -.4 -.2 -.6 -.1 -.3 -.3 -.7 -.1 -.3 -.2 -.7 -.1 -.6 -.1 -.4 -.2 -.7 -.1 -.3 -.3 -.7 -.2 -.3 -.2 -.4 -.2 -.6 -.1 -.4 -.1 -.6 0 -.7 .0 -.7 .0 -.7 .0 -.7 -.1 -.7 -.2 -.6 -.1 -.4 -.1 -.7 .1 -.7 .2 -.6 .1 -.4 .2 -.5 .2 -.5 .2 -.3 .3 -.5 .2 -.5 .1 -.5 .1 -.5 .0 -.7 -.1 -.7 0 -.3 -.1 -.7 -.1 -.7 0 -.7 .1 -.7 .2 -.7 .1 -.3 .2 -.4 .3 -.5 .2 -.4 .2 -.3 .2 -.4 .2 -.6 .1 -.3 .2 -.7 .1 -.3 .3 -.7 .1 -.3 .2 -.5 .3 -.5 .2 -.3 .3 -.3 .4 -.3 .4 -.3 .3 -.3 .2 -.3 .2 -.3 .3 -.6 .3 -.4 .3 -.3 .4 -.3 .4 -.2 .3 -.1 .7 -.2 .7 0 .7 .2 .3 .2 .3 .2 .7 .3 .3 .1 .7 .2 .3 .1 .3 .3 .3 .4 .3 .4 .3 .4 .3 .4 .3 .4 .2 .3 .2 .5 .1 .5 .2 .7 .1 .3 .2 .7 .1 .3 .3 .7 .2 .3 .2 .3 .3 .4 .3 .5 .3 .4 .1 .3 .2 .7 0 .7 -.1 .7 .0 .7 .1 .7 .0 .5 .0 .4 0 .4 -.1 .7 -.1 .7 -.1 .3 -.2 .7 -.1 .3 -.2 .7 -.1 .3 -.1 .7 .1 .7 .1 .3 .2 .7 .1 .7 .0 .7 0 .7 -.1 .7 -.1 .7 -.1 .3 -.2 .7 -.1 .3 -.2 .7 -.1 .4 -.1 .6 -.1 .7 -.1 .3 -.2 .7 -.2 .3 -.3 .4 -.3 .5 -.3 .4 -.3 .4 -.2 .3 -.2 .3 -.3 .5 -.3 .5 -.2 .3 -.2 .6 -.1 .4 .0 .7 0 .7 -.2 .7 -.2 .3 -.2 .3 -.3 .5 -.3 .5 -.3 .4 -.3 .3 -.4 .3 -.3 .1 -.6 .2 -.4 .2 -.3 .2 .0 0M253.7 452.3l-.3 -.1 -.5 -.3 -.3 -.3 -.3 -.4 -.3 -.3 -.7 -.2 -.4 -.1 -.6 -.2 -.3 -.2 -.3 -.4 -.2 -.5 -.1 -.3 -.2 -.7 -.2 -.7 -.1 -.3 -.2 -.5 -.2 -.5 -.2 -.3 -.3 -.7 -.1 -.3 -.1 -.7 -.1 -.7 -.1 -.3 -.3 -.7 -.2 -.3 -.2 -.4 -.3 -.6 -.1 -.3 -.2 -.7 -.1 -.4 -.1 -.6 0 -.7 .0 -.7 .0 -.3 .0 -.7 0 -.4 -.1 -.6 -.1 -.7 0 -.7 .1 -.7 .2 -.5 .2 -.5 .2 -.4 .3 -.6 .2 -.3 .3 -.6 .1 -.4 .1 -.7 .0 -.7 0 -.7 -.1 -.7 -.1 -.6 -.1 -.4 0 -.7 .1 -.6 .1 -.4 .2 -.4 .3 -.6 .2 -.4 .2 -.3 .2 -.4 .3 -.6 .2 -.3 .2 -.4 .2 -.6 .1 -.3 .3 -.7 .1 -.3 .3 -.5 .3 -.5 .3 -.3 .4 -.3 .3 -.3 .3 -.3 .2 -.3 .2 -.3 .3 -.5 .3 -.5 .3 -.4 .3 -.3 .3 -.2 .7 -.2 .7 0 .7 .2 .3 .1 .4 .2 .6 .3 .3 .2 .3 .2 .5 .3 .5 .3 .3 .2 .3 .3 .3 .3 .3 .5 .1 .3 .1 .7 .1 .3 .2 .7 .2 .5 .1 .5 .2 .5 .2 .5 .2 .3 .3 .3 .3 .4 .3 .6 .1 .3 .1 .7 -.1 .7 0 .7 .1 .7 .1 .5 .0 .5 0 .5 -.1 .5 -.2 .6 -.1 .4 -.2 .6 -.1 .4 -.2 .7 -.1 .3 -.2 .7 -.1 .7 .1 .7 .2 .7 .1 .3 .1 .7 .0 .7 0 .7 0 .7 -.1 .7 -.1 .3 -.2 .7 -.1 .3 -.2 .7 -.1 .3 -.2 .7 -.1 .3 -.3 .7 -.2 .3 -.2 .3 -.3 .6 -.2 .4 -.2 .3 -.3 .5 -.3 .5 -.2 .3 -.2 .3 -.3 .6 -.2 .4 -.1 .7 0 .3 .0 .3 0 .3 -.2 .7 -.2 .3 -.3 .5 -.3 .4 -.3 .3 -.3 .2 -.5 .2 -.5 .2 -.4 .2 -.5 .3 -.5 .3 -.3 .1 .0 0M255.7 450.3l-.7 0 -.7 -.0 -.3 -.0 -.7 -.2 -.3 -.2 -.7 -.3 -.3 -.1 -.7 -.0 -.7 -.1 -.3 -.3 -.3 -.5 -.1 -.3 -.2 -.7 -.1 -.3 -.3 -.6 -.3 -.4 -.2 -.3 -.2 -.3 -.2 -.7 -.1 -.5 -.1 -.5 -.2 -.7 -.1 -.3 -.3 -.7 -.2 -.3 -.2 -.4 -.2 -.6 -.1 -.3 -.2 -.7 -.1 -.7 0 -.5 .0 -.3 .0 -.5 .1 -.7 .0 -.7 -.1 -.7 -.1 -.7 0 -.3 .0 -.3 .1 -.7 .2 -.7 .1 -.3 .2 -.7 .1 -.3 .2 -.7 .1 -.3 .1 -.7 .1 -.7 .0 -.3 .0 -.7 -.1 -.5 -.1 -.5 -.1 -.7 0 -.7 .2 -.7 .2 -.3 .2 -.4 .3 -.6 .2 -.3 .2 -.3 .3 -.5 .3 -.5 .2 -.3 .2 -.3 .3 -.7 .2 -.3 .2 -.4 .3 -.6 .2 -.3 .3 -.3 .3 -.3 .3 -.3 .3 -.5 .3 -.5 .2 -.3 .2 -.3 .3 -.4 .3 -.3 .5 -.3 .5 -.1 .7 0 .5 .1 .5 .2 .3 .2 .3 .2 .5 .3 .5 .2 .3 .2 .5 .3 .5 .3 .3 .3 .2 .3 .2 .7 .1 .3 .2 .7 .1 .4 .2 .6 .2 .5 .2 .5 .2 .3 .3 .4 .3 .4 .3 .5 .1 .3 .0 .7 -.1 .5 -.1 .5 .1 .7 .1 .3 .2 .7 .0 .7 -.2 .7 -.2 .3 -.2 .4 -.3 .6 -.1 .3 -.1 .7 -.1 .7 0 .7 .0 .7 .1 .7 .1 .7 .1 .4 .1 .6 .1 .7 .0 .7 0 .7 -.1 .7 -.1 .3 -.2 .7 -.1 .4 -.1 .6 -.2 .6 -.2 .4 -.2 .3 -.3 .5 -.2 .5 -.1 .3 -.3 .7 -.2 .3 -.2 .4 -.3 .6 -.2 .3 -.2 .3 -.3 .5 -.3 .5 -.2 .3 -.2 .7 0 .7 0 .3 -.2 .7 -.2 .3 -.3 .3 -.5 .3 -.3 .1 .0 0M255.3 449.3l-.3 -.0 -.7 -.0 -.7 -.1 -.7 -.1 -.4 -.1 -.6 -.1 -.7 -.2 -.3 -.2 -.3 -.4 -.2 -.4 -.1 -.3 -.3 -.7 -.2 -.3 -.3 -.3 -.2 -.3 -.3 -.5 -.1 -.5 -.1 -.7 -.1 -.6 -.1 -.4 -.2 -.5 -.3 -.5 -.2 -.3 -.3 -.6 -.1 -.4 -.2 -.7 -.1 -.3 -.1 -.7 0 -.7 .1 -.7 .1 -.7 .0 -.7 0 -.7 0 -.7 .1 -.7 .1 -.4 .1 -.6 .2 -.7 .1 -.3 .2 -.7 .1 -.3 .1 -.7 .1 -.7 .1 -.3 .1 -.7 .0 -.7 -.1 -.7 -.1 -.7 .1 -.7 .2 -.6 .2 -.4 .2 -.4 .2 -.6 .2 -.3 .3 -.4 .3 -.4 .3 -.4 .3 -.3 .3 -.2 .7 -.3 .3 -.1 .3 -.3 .2 -.6 .0 -.7 .1 -.5 .1 -.5 .2 -.5 .3 -.5 .2 -.3 .2 -.4 .3 -.4 .3 -.2 .7 -.1 .7 .2 .3 .2 .3 .3 .3 .3 .4 .2 .6 .2 .4 .1 .6 .3 .3 .3 .2 .3 .2 .7 .1 .3 .2 .5 .2 .5 .2 .5 .2 .5 .2 .3 .3 .5 .3 .4 .2 .3 .1 .7 -.2 .7 -.1 .3 -.2 .7 .1 .7 .2 .3 .2 .4 .1 .6 -.1 .4 -.3 .6 -.2 .3 -.2 .3 -.3 .6 -.1 .4 .0 .7 .1 .4 .1 .6 .1 .7 .1 .7 .0 .4 .1 .6 .1 .7 .1 .7 0 .7 -.1 .7 -.1 .5 -.1 .5 -.1 .7 -.1 .7 -.1 .3 -.3 .7 -.2 .3 -.2 .3 -.2 .4 -.2 .6 -.1 .4 -.2 .6 -.1 .3 -.3 .6 -.2 .4 -.2 .3 -.3 .5 -.3 .5 -.2 .3 -.2 .3 -.2 .7 -.1 .5 -.2 .5 -.2 .3 -.6 .3 -.3 0 .0 0M255.0 448.3l-.7 .1 -.7 0 -.7 -.0 -.7 -.1 -.3 -.1 -.6 -.3 -.3 -.3 -.2 -.3 -.3 -.5 -.2 -.5 -.2 -.3 -.3 -.3 -.3 -.4 -.2 -.6 -.1 -.5 -.1 -.5 -.1 -.7 -.1 -.4 -.2 -.6 -.2 -.3 -.3 -.6 -.2 -.4 -.2 -.4 -.2 -.6 -.1 -.4 -.1 -.6 0 -.7 .1 -.7 .1 -.7 0 -.7 0 -.7 .0 -.5 .1 -.5 .1 -.7 .1 -.5 .2 -.5 .2 -.6 .1 -.4 .1 -.7 .1 -.7 .1 -.3 .2 -.7 .1 -.5 .1 -.5 0 -.7 0 -.3 .0 -.5 .1 -.5 .2 -.6 .1 -.4 .2 -.6 .2 -.4 .2 -.3 .3 -.3 .5 -.3 .5 -.2 .5 -.1 .5 -.2 .3 -.1 .5 -.3 .3 -.3 .3 -.7 .1 -.3 .2 -.7 .3 -.3 .4 -.2 .3 -.1 .7 -.2 .7 -.0 .7 .1 .4 .2 .6 .3 .3 .3 .3 .3 .2 .3 .2 .3 .3 .7 .1 .3 .3 .7 .2 .3 .2 .3 .2 .7 -.1 .7 -.2 .6 -.1 .4 0 .7 .1 .4 .3 .6 .2 .3 .1 .7 -.2 .6 -.3 .4 -.2 .3 -.2 .4 -.1 .6 .1 .7 .1 .3 .2 .7 .1 .3 .1 .7 .1 .7 .0 .7 .0 .7 .0 .7 -.1 .7 -.2 .6 -.2 .4 -.1 .7 .1 .7 0 .7 -.1 .4 -.3 .5 -.3 .4 -.2 .3 -.2 .4 -.2 .6 -.2 .6 -.2 .4 -.2 .4 -.3 .6 -.2 .3 -.2 .4 -.3 .5 -.3 .5 -.2 .3 -.2 .3 -.3 .7 -.2 .3 -.4 .3 -.3 .1 .0 0M254.3 447.7l-.7 .2 -.7 .1 -.7 -.1 -.4 -.2 -.4 -.3 -.2 -.4 -.3 -.6 -.2 -.3 -.2 -.4 -.3 -.5 -.2 -.4 -.1 -.6 0 -.4 -.1 -.7 -.2 -.6 -.1 -.4 -.2 -.6 -.2 -.4 -.2 -.4 -.3 -.6 -.2 -.3 -.2 -.3 -.3 -.7 -.1 -.3 .0 -.6 .0 -.4 .0 -.7 0 -.7 0 -.7 .1 -.7 .1 -.7 .1 -.4 .2 -.6 .1 -.5 .1 -.5 .1 -.7 .1 -.7 .1 -.3 .2 -.7 .1 -.3 .2 -.7 .1 -.7 .0 -.7 .0 -.5 .1 -.5 .2 -.7 .1 -.3 .3 -.7 .3 -.3 .4 -.3 .3 -.2 .6 -.2 .4 -.1 .7 -.2 .3 -.2 .3 -.2 .3 -.4 .3 -.6 .1 -.3 .2 -.5 .3 -.5 .3 -.2 .3 -.1 .7 -.0 .3 .1 .4 .2 .4 .3 .3 .3 .3 .3 .3 .5 .2 .5 .1 .3 .3 .7 .1 .3 .1 .7 -.1 .7 -.1 .7 -.1 .3 0 .7 .1 .3 .3 .4 .3 .6 .0 .3 -.1 .3 -.3 .6 -.2 .4 -.1 .3 0 .7 .1 .3 .2 .7 .1 .3 .2 .7 .1 .7 .0 .3 .0 .7 0 .7 0 .3 -.1 .7 -.2 .4 -.3 .5 -.2 .3 0 .7 .1 .7 .1 .4 .0 .4 -.2 .5 -.2 .3 -.2 .3 -.3 .7 -.1 .3 -.2 .7 -.1 .4 -.3 .6 -.2 .3 -.2 .4 -.2 .6 -.2 .3 -.3 .5 -.3 .5 -.2 .3 -.2 .3 -.3 .3 -.5 .3 -.3 .1 .0 0M253.7 447.0l-.7 .2 -.7 -.1 -.3 -.3 -.3 -.5 -.1 -.3 -.2 -.6 -.1 -.4 .0 -.7 .2 -.3 .3 -.3 0 -.5 -.5 -.2 -.5 -.3 -.2 -.3 -.2 -.3 -.2 -.7 -.1 -.3 -.2 -.7 -.2 -.3 -.2 -.3 -.3 -.4 -.3 -.5 -.1 -.4 0 -.7 .0 -.7 0 -.7 -.1 -.7 0 -.7 .1 -.7 .1 -.5 .2 -.5 .2 -.4 .2 -.6 .1 -.7 .0 -.7 .0 -.3 .2 -.7 .1 -.3 .3 -.7 .1 -.3 .1 -.7 .1 -.7 .1 -.5 .1 -.5 .2 -.7 .1 -.3 .3 -.4 .3 -.3 .5 -.3 .5 -.1 .7 -.2 .3 -.1 .6 -.3 .4 -.3 .3 -.4 .2 -.3 .2 -.3 .3 -.4 .3 -.3 .7 -.0 .3 .2 .3 .2 .4 .3 .3 .4 .3 .6 .1 .3 .2 .7 .1 .3 .0 .7 0 .4 -.1 .6 -.1 .7 .1 .7 .1 .3 .3 .6 .0 .4 -.1 .3 -.2 .7 -.1 .7 .1 .7 .1 .4 .2 .6 .1 .3 .2 .7 .1 .7 0 .7 -.2 .7 -.2 .3 -.3 .3 -.6 .2 -.7 -.0 -.5 .2 .1 .7 .3 .3 .3 .3 .2 .3 .2 .7 .1 .7 -.2 .7 -.2 .3 -.3 .5 -.1 .5 -.1 .7 -.1 .3 -.3 .6 -.3 .4 -.2 .3 -.1 .5 -.1 .5 -.2 .7 -.2 .3 -.2 .3 -.3 .4 -.4 .3 -.6 .3 -.3 .1 .0 0M253.7 431.5l-.3 -.1 -.1 -.2 -.1 -.3 .0 -.3 .1 -.3 .1 -.3 .1 -.2 .3 -.1 .2 .3 .1 .1 .1 .2 .0 .3 0 .3 -.1 .2 -.1 .1 -.3 .2M253.3 436.4l-.3 .1 -.3 0 -.3 -.1 -.3 -.1 -.1 -.1 -.2 -.3 .1 -.3 .2 -.1 .3 -.1 .3 -.0 .3 .1 .3 .1 .1 .1 .2 .3 0 .3 -.1 .1" fill="none" stroke="#000" stroke-width="0.55" stroke-linejoin="round"/>
<path d="M296.4 452.4h0.6M243.1 408.6h0.6M297.1 399.9h0.6M250.3 438.9h0.6M270.8 351.7h0.6M288.2 450.0h0.6M252.4 427.9h0.6M288.4 377.6h0.6M259.5 451.7h0.6M268.9 360.0h0.6M281.6 462.9h0.6M289.6 392.5h0.6M249.2 399.0h0.6M247.1 393.2h0.6M275.1 354.6h0.6M255.2 410.6h0.6M252.2 379.5h0.6M271.3 434.4h0.6M292.3 359.4h0.6M289.1 355.1h0.6M294.1 405.1h0.6M279.4 453.6h0.6M270.1 372.0h0.6M252.2 352.4h0.6M284.3 426.3h0.6M275.5 431.1h0.6" fill="none" stroke="#888" stroke-width="0.6"/>
<path d="M253.7 435v9l-.8 2.2" fill="none" stroke="#fff" stroke-width="1.1" stroke-linecap="round"/>
</g>
<rect x="237.5" y="345.1" width="125" height="124.3" fill="none" stroke="#111" stroke-width="0.9"/>
<line x1="237.5" y1="345.1" x2="237.5" y2="469.4" stroke="#000" stroke-width="1.2"/>
<rect x="241.5" y="349.3" width="18" height="90.7" fill="none" stroke="#222" stroke-width="0.7"/>
<rect x="260.3" y="349" width="21.2" height="102.8" fill="none" stroke="#222" stroke-width="0.7"/>
<rect x="240.5" y="440" width="19.3" height="23.8" fill="none" stroke="#222" stroke-width="0.8"/>
<line x1="259.1" y1="349" x2="259.1" y2="452" stroke="#000" stroke-width="1.4"/>
<line x1="234.3" y1="349.9" x2="237.5" y2="349.9" stroke="#000" stroke-width="0.9"/>
<text x="232.5" y="351.88" font-size="5.5" text-anchor="end" fill="#222">250K</text>
<line x1="234.3" y1="373.8" x2="237.5" y2="373.8" stroke="#000" stroke-width="0.9"/>
<text x="232.5" y="375.78" font-size="5.5" text-anchor="end" fill="#222">200K</text>
<line x1="234.3" y1="397.7" x2="237.5" y2="397.7" stroke="#000" stroke-width="0.9"/>
<text x="232.5" y="399.68" font-size="5.5" text-anchor="end" fill="#222">150K</text>
<line x1="234.3" y1="421.6" x2="237.5" y2="421.6" stroke="#000" stroke-width="0.9"/>
<text x="232.5" y="423.58" font-size="5.5" text-anchor="end" fill="#222">100K</text>
<line x1="234.3" y1="445.5" x2="237.5" y2="445.5" stroke="#000" stroke-width="0.9"/>
<text x="232.5" y="447.48" font-size="5.5" text-anchor="end" fill="#222">50K</text>
<line x1="234.3" y1="469.4" x2="237.5" y2="469.4" stroke="#000" stroke-width="0.9"/>
<text x="232.5" y="471.38" font-size="5.5" text-anchor="end" fill="#222">0</text>
<line x1="236" y1="354.68" x2="237.5" y2="354.68" stroke="#000" stroke-width="0.6"/>
<line x1="236" y1="359.46" x2="237.5" y2="359.46" stroke="#000" stroke-width="0.6"/>
<line x1="236" y1="364.24" x2="237.5" y2="364.24" stroke="#000" stroke-width="0.6"/>
<line x1="236" y1="369.02" x2="237.5" y2="369.02" stroke="#000" stroke-width="0.6"/>
<line x1="236" y1="378.58" x2="237.5" y2="378.58" stroke="#000" stroke-width="0.6"/>
<line x1="236" y1="383.36" x2="237.5" y2="383.36" stroke="#000" stroke-width="0.6"/>
<line x1="236" y1="388.14" x2="237.5" y2="388.14" stroke="#000" stroke-width="0.6"/>
<line x1="236" y1="392.92" x2="237.5" y2="392.92" stroke="#000" stroke-width="0.6"/>
<line x1="236" y1="402.48" x2="237.5" y2="402.48" stroke="#000" stroke-width="0.6"/>
<line x1="236" y1="407.26" x2="237.5" y2="407.26" stroke="#000" stroke-width="0.6"/>
<line x1="236" y1="412.04" x2="237.5" y2="412.04" stroke="#000" stroke-width="0.6"/>
<line x1="236" y1="416.82" x2="237.5" y2="416.82" stroke="#000" stroke-width="0.6"/>
<line x1="236" y1="426.38" x2="237.5" y2="426.38" stroke="#000" stroke-width="0.6"/>
<line x1="236" y1="431.16" x2="237.5" y2="431.16" stroke="#000" stroke-width="0.6"/>
<line x1="236" y1="435.94" x2="237.5" y2="435.94" stroke="#000" stroke-width="0.6"/>
<line x1="236" y1="440.72" x2="237.5" y2="440.72" stroke="#000" stroke-width="0.6"/>
<line x1="236" y1="450.28" x2="237.5" y2="450.28" stroke="#000" stroke-width="0.6"/>
<line x1="236" y1="455.06" x2="237.5" y2="455.06" stroke="#000" stroke-width="0.6"/>
<line x1="236" y1="459.84" x2="237.5" y2="459.84" stroke="#000" stroke-width="0.6"/>
<line x1="236" y1="464.62" x2="237.5" y2="464.62" stroke="#000" stroke-width="0.6"/>
<line x1="237.8" y1="469.4" x2="237.8" y2="471.8" stroke="#000" stroke-width="0.8"/>
<text x="237.8" y="479.07" font-size="5.5" text-anchor="middle" fill="#222">0</text>
<line x1="261.8" y1="469.4" x2="261.8" y2="471.8" stroke="#000" stroke-width="0.8"/>
<text x="261.8" y="479.07" font-size="5.5" text-anchor="middle" fill="#222">50K</text>
<line x1="285.8" y1="469.4" x2="285.8" y2="471.8" stroke="#000" stroke-width="0.8"/>
<text x="285.8" y="479.07" font-size="5.5" text-anchor="middle" fill="#222">100K</text>
<line x1="309.8" y1="469.4" x2="309.8" y2="471.8" stroke="#000" stroke-width="0.8"/>
<text x="309.8" y="479.07" font-size="5.5" text-anchor="middle" fill="#222">150K</text>
<line x1="333.8" y1="469.4" x2="333.8" y2="471.8" stroke="#000" stroke-width="0.8"/>
<text x="333.8" y="479.07" font-size="5.5" text-anchor="middle" fill="#222">200K</text>
<line x1="357.8" y1="469.4" x2="357.8" y2="471.8" stroke="#000" stroke-width="0.8"/>
<text x="357.8" y="479.07" font-size="5.5" text-anchor="middle" fill="#222">250K</text>
<line x1="242.6" y1="469.4" x2="242.6" y2="470.8" stroke="#000" stroke-width="0.5"/>
<line x1="247.4" y1="469.4" x2="247.4" y2="470.8" stroke="#000" stroke-width="0.5"/>
<line x1="252.2" y1="469.4" x2="252.2" y2="470.8" stroke="#000" stroke-width="0.5"/>
<line x1="257" y1="469.4" x2="257" y2="470.8" stroke="#000" stroke-width="0.5"/>
<line x1="266.6" y1="469.4" x2="266.6" y2="470.8" stroke="#000" stroke-width="0.5"/>
<line x1="271.4" y1="469.4" x2="271.4" y2="470.8" stroke="#000" stroke-width="0.5"/>
<line x1="276.2" y1="469.4" x2="276.2" y2="470.8" stroke="#000" stroke-width="0.5"/>
<line x1="281" y1="469.4" x2="281" y2="470.8" stroke="#000" stroke-width="0.5"/>
<line x1="290.6" y1="469.4" x2="290.6" y2="470.8" stroke="#000" stroke-width="0.5"/>
<line x1="295.4" y1="469.4" x2="295.4" y2="470.8" stroke="#000" stroke-width="0.5"/>
<line x1="300.2" y1="469.4" x2="300.2" y2="470.8" stroke="#000" stroke-width="0.5"/>
<line x1="305" y1="469.4" x2="305" y2="470.8" stroke="#000" stroke-width="0.5"/>
<line x1="314.6" y1="469.4" x2="314.6" y2="470.8" stroke="#000" stroke-width="0.5"/>
<line x1="319.4" y1="469.4" x2="319.4" y2="470.8" stroke="#000" stroke-width="0.5"/>
<line x1="324.2" y1="469.4" x2="324.2" y2="470.8" stroke="#000" stroke-width="0.5"/>
<line x1="329" y1="469.4" x2="329" y2="470.8" stroke="#000" stroke-width="0.5"/>
<line x1="338.6" y1="469.4" x2="338.6" y2="470.8" stroke="#000" stroke-width="0.5"/>
<line x1="343.4" y1="469.4" x2="343.4" y2="470.8" stroke="#000" stroke-width="0.5"/>
<line x1="348.2" y1="469.4" x2="348.2" y2="470.8" stroke="#000" stroke-width="0.5"/>
<line x1="353" y1="469.4" x2="353" y2="470.8" stroke="#000" stroke-width="0.5"/>
<line x1="147.7" y1="552.6" x2="147.7" y2="571.1" stroke="#000" stroke-width="1.3"/>
<line x1="141.4" y1="552.6" x2="154" y2="552.6" stroke="#000" stroke-width="1.3"/>
<rect x="137.8" y="570.1" width="19.8" height="72.9" fill="url(#pFine)" stroke="#000" stroke-width="1.4"/>
<line x1="177" y1="569.6" x2="177" y2="584.6" stroke="#000" stroke-width="1.3"/>
<line x1="170.7" y1="569.6" x2="183.3" y2="569.6" stroke="#000" stroke-width="1.3"/>
<rect x="166.6" y="583.6" width="20.8" height="59.4" fill="url(#pCheck)" stroke="#000" stroke-width="1.4"/>
<line x1="206.3" y1="531.3" x2="206.3" y2="551.5" stroke="#000" stroke-width="1.3"/>
<line x1="200" y1="531.3" x2="212.6" y2="531.3" stroke="#000" stroke-width="1.3"/>
<rect x="196.3" y="550.5" width="20" height="92.5" fill="url(#pHor)" stroke="#000" stroke-width="1.4"/>
<line x1="236.05" y1="538" x2="236.05" y2="543" stroke="#000" stroke-width="1.3"/>
<line x1="229.75" y1="538" x2="242.35" y2="538" stroke="#000" stroke-width="1.3"/>
<rect x="225.8" y="542" width="20.5" height="101" fill="url(#pVer)" stroke="#000" stroke-width="1.4"/>
<line x1="265" y1="599" x2="265" y2="611.5" stroke="#000" stroke-width="1.3"/>
<line x1="258.7" y1="599" x2="271.3" y2="599" stroke="#000" stroke-width="1.3"/>
<rect x="255" y="610.5" width="20" height="32.5" fill="url(#pDiagA)" stroke="#000" stroke-width="1.4"/>
<line x1="294.5" y1="571.8" x2="294.5" y2="582.8" stroke="#000" stroke-width="1.3"/>
<line x1="288.2" y1="571.8" x2="300.8" y2="571.8" stroke="#000" stroke-width="1.3"/>
<rect x="284.5" y="581.8" width="20" height="61.2" fill="url(#pDiagB)" stroke="#000" stroke-width="1.4"/>
<line x1="132.9" y1="525" x2="132.9" y2="643.8" stroke="#000" stroke-width="1.6"/>
<line x1="132.1" y1="643" x2="310" y2="643" stroke="#000" stroke-width="1.6"/>
<line x1="128.3" y1="525.7" x2="132.9" y2="525.7" stroke="#000" stroke-width="1.4"/>
<text x="127.8" y="528.65" font-size="8.2" text-anchor="end" font-weight="bold" stroke="#000" stroke-width="0.3">50</text>
<line x1="128.3" y1="549.16" x2="132.9" y2="549.16" stroke="#000" stroke-width="1.4"/>
<text x="127.8" y="552.11" font-size="8.2" text-anchor="end" font-weight="bold" stroke="#000" stroke-width="0.3">40</text>
<line x1="128.3" y1="572.62" x2="132.9" y2="572.62" stroke="#000" stroke-width="1.4"/>
<text x="127.8" y="575.57" font-size="8.2" text-anchor="end" font-weight="bold" stroke="#000" stroke-width="0.3">30</text>
<line x1="128.3" y1="596.08" x2="132.9" y2="596.08" stroke="#000" stroke-width="1.4"/>
<text x="127.8" y="599.03" font-size="8.2" text-anchor="end" font-weight="bold" stroke="#000" stroke-width="0.3">20</text>
<line x1="128.3" y1="619.54" x2="132.9" y2="619.54" stroke="#000" stroke-width="1.4"/>
<text x="127.8" y="622.49" font-size="8.2" text-anchor="end" font-weight="bold" stroke="#000" stroke-width="0.3">10</text>
<line x1="128.3" y1="643" x2="132.9" y2="643" stroke="#000" stroke-width="1.4"/>
<text x="127.8" y="645.95" font-size="8.2" text-anchor="end" font-weight="bold" stroke="#000" stroke-width="0.3">0</text>
<line x1="147.7" y1="643" x2="147.7" y2="646" stroke="#000" stroke-width="1.3"/>
<line x1="177" y1="643" x2="177" y2="646" stroke="#000" stroke-width="1.3"/>
<line x1="206.3" y1="643" x2="206.3" y2="646" stroke="#000" stroke-width="1.3"/>
<line x1="236.05" y1="643" x2="236.05" y2="646" stroke="#000" stroke-width="1.3"/>
<line x1="265" y1="643" x2="265" y2="646" stroke="#000" stroke-width="1.3"/>
<line x1="294.5" y1="643" x2="294.5" y2="646" stroke="#000" stroke-width="1.3"/>
<text x="262" y="537" font-size="9.6" fill="#222"><tspan font-style="italic">P</tspan> = .003</text>
<path d="M266.3 560V546.8H293V560" fill="none" stroke="#000" stroke-width="1"/>
<text font-size="10.3" text-anchor="middle" font-weight="bold" transform="translate(113 579) rotate(-90)" stroke="#000" stroke-width="0.2">% of Lineage neg Sca1<tspan dy="-4.2" font-size="6.8">hi</tspan><tspan dy="4.2">ckit</tspan><tspan dy="-4.2" font-size="6.8">hi</tspan></text>
<text font-size="9" text-anchor="end" font-weight="bold" transform="translate(151.5 654.8) rotate(-44)" stroke="#000" stroke-width="0.15">Vector % G<tspan dy="1.8" font-size="6.8">0</tspan></text>
<text font-size="9" text-anchor="end" font-weight="bold" transform="translate(180.8 654.8) rotate(-44)" stroke="#000" stroke-width="0.15">myr-AKT-ER % G<tspan dy="1.8" font-size="6.8">0</tspan></text>
<text font-size="9" text-anchor="end" font-weight="bold" transform="translate(210.1 654.8) rotate(-44)" stroke="#000" stroke-width="0.15">Vector % G<tspan dy="1.8" font-size="6.8">1</tspan></text>
<text font-size="9" text-anchor="end" font-weight="bold" transform="translate(239.85 654.8) rotate(-44)" stroke="#000" stroke-width="0.15">myr-AKT-ER % G<tspan dy="1.8" font-size="6.8">1</tspan></text>
<text font-size="9" text-anchor="end" font-weight="bold" transform="translate(266.2 656) rotate(-44)" stroke="#000" stroke-width="0.15">Vector % S/G2/M</text>
<text font-size="9" text-anchor="end" font-weight="bold" transform="translate(295.7 656) rotate(-44)" stroke="#000" stroke-width="0.15">myr-AKT-ER % S/G2/M</text>
</svg>
</body></html>
